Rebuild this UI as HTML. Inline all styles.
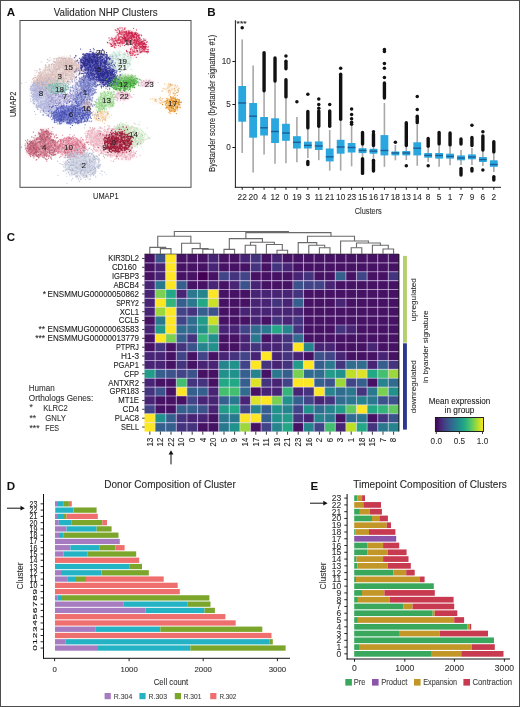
<!DOCTYPE html>
<html><head><meta charset="utf-8"><style>
html,body{margin:0;padding:0;background:#fff;width:520px;height:707px;overflow:hidden}
svg{display:block;will-change:transform}
text{font-family:"Liberation Sans", sans-serif}
</style></head><body>
<svg width="520" height="707" viewBox="0 0 520 707">
<rect x="0" y="0" width="520" height="707" fill="#fff"/>
<text x="6.80" y="16.40" font-size="11.6" text-anchor="start" fill="#111" font-weight="bold">A</text>
<text x="105.70" y="16.20" font-size="10.6" text-anchor="middle" fill="#2a2a2a" stroke="#2a2a2a" stroke-width="0.1" textLength="104" lengthAdjust="spacingAndGlyphs">Validation NHP Clusters</text>
<defs><filter id="bl" x="-30%" y="-30%" width="160%" height="160%"><feGaussianBlur stdDeviation="2"/></filter><clipPath id="fa"><rect x="20.5" y="21" width="170" height="166"/></clipPath></defs>
<g clip-path="url(#fa)">
<ellipse cx="112" cy="142" rx="18.0" ry="11.700000000000001" fill="#eeb0c0" opacity="0.35" filter="url(#bl)" transform="rotate(0 112 142)"/>
<ellipse cx="95" cy="137" rx="8.1" ry="7.2" fill="#eeb0c0" opacity="0.35" filter="url(#bl)" transform="rotate(0 95 137)"/>
<ellipse cx="124" cy="154" rx="9.9" ry="4.5" fill="#eeb0c0" opacity="0.35" filter="url(#bl)" transform="rotate(0 124 154)"/>
<ellipse cx="58" cy="74" rx="18.0" ry="10.8" fill="#dcc0bc" opacity="0.5" filter="url(#bl)" transform="rotate(-15 58 74)"/>
<ellipse cx="46" cy="84" rx="9.9" ry="6.3" fill="#dcc0bc" opacity="0.5" filter="url(#bl)" transform="rotate(0 46 84)"/>
<ellipse cx="72" cy="66" rx="8.1" ry="5.4" fill="#dcc0bc" opacity="0.5" filter="url(#bl)" transform="rotate(0 72 66)"/>
<ellipse cx="40" cy="81" rx="5.4" ry="4.5" fill="#dcc0bc" opacity="0.5" filter="url(#bl)" transform="rotate(0 40 81)"/>
<ellipse cx="64" cy="61" rx="7.2" ry="3.6" fill="#dcc0bc" opacity="0.5" filter="url(#bl)" transform="rotate(0 64 61)"/>
<ellipse cx="43" cy="96" rx="9.0" ry="12.6" fill="#b0b4dc" opacity="0.5" filter="url(#bl)" transform="rotate(0 43 96)"/>
<ellipse cx="49" cy="108" rx="6.3" ry="5.4" fill="#b0b4dc" opacity="0.5" filter="url(#bl)" transform="rotate(0 49 108)"/>
<ellipse cx="36" cy="90" rx="4.5" ry="6.3" fill="#b0b4dc" opacity="0.5" filter="url(#bl)" transform="rotate(0 36 90)"/>
<ellipse cx="81" cy="95" rx="9.9" ry="14.4" fill="#8a90d2" opacity="0.3" filter="url(#bl)" transform="rotate(0 81 95)"/>
<ellipse cx="88" cy="84" rx="6.3" ry="8.1" fill="#8a90d2" opacity="0.3" filter="url(#bl)" transform="rotate(0 88 84)"/>
<ellipse cx="60" cy="99" rx="9.0" ry="6.3" fill="#a8a0d8" opacity="0.45" filter="url(#bl)" transform="rotate(0 60 99)"/>
<ellipse cx="58" cy="88" rx="9.0" ry="4.5" fill="#86c6bc" opacity="0.5" filter="url(#bl)" transform="rotate(0 58 88)"/>
<ellipse cx="98" cy="67" rx="14.4" ry="11.700000000000001" fill="#2b2b9b" opacity="0.6" filter="url(#bl)" transform="rotate(15 98 67)"/>
<ellipse cx="107" cy="78" rx="8.1" ry="6.3" fill="#2b2b9b" opacity="0.6" filter="url(#bl)" transform="rotate(0 107 78)"/>
<ellipse cx="90" cy="61" rx="7.2" ry="6.3" fill="#2b2b9b" opacity="0.6" filter="url(#bl)" transform="rotate(0 90 61)"/>
<ellipse cx="113" cy="82" rx="4.5" ry="3.6" fill="#2b2b9b" opacity="0.6" filter="url(#bl)" transform="rotate(0 113 82)"/>
<ellipse cx="88" cy="86" rx="7.2" ry="9.0" fill="#6870c8" opacity="0.2" filter="url(#bl)" transform="rotate(0 88 86)"/>
<ellipse cx="80" cy="98" rx="5.4" ry="5.4" fill="#6870c8" opacity="0.2" filter="url(#bl)" transform="rotate(0 80 98)"/>
<ellipse cx="72" cy="114" rx="16.2" ry="7.65" fill="#4650bc" opacity="0.55" filter="url(#bl)" transform="rotate(0 72 114)"/>
<ellipse cx="60" cy="117" rx="5.4" ry="4.5" fill="#4650bc" opacity="0.55" filter="url(#bl)" transform="rotate(0 60 117)"/>
<ellipse cx="87" cy="106" rx="3.6" ry="4.5" fill="#c4a8b8" opacity="0.4" filter="url(#bl)" transform="rotate(0 87 106)"/>
<ellipse cx="101" cy="116" rx="6.3" ry="4.5" fill="#f5c890" opacity="0.35" filter="url(#bl)" transform="rotate(0 101 116)"/>
<ellipse cx="128" cy="38" rx="9.9" ry="6.3" fill="#d6264e" opacity="0.2" filter="url(#bl)" transform="rotate(0 128 38)"/>
<ellipse cx="141" cy="47" rx="7.2" ry="4.5" fill="#d6264e" opacity="0.2" filter="url(#bl)" transform="rotate(20 141 47)"/>
<ellipse cx="116" cy="42" rx="6.3" ry="4.5" fill="#d6264e" opacity="0.2" filter="url(#bl)" transform="rotate(0 116 42)"/>
<ellipse cx="133" cy="52" rx="5.4" ry="3.6" fill="#d6264e" opacity="0.2" filter="url(#bl)" transform="rotate(0 133 52)"/>
<ellipse cx="121" cy="31" rx="4.5" ry="2.7" fill="#d6264e" opacity="0.2" filter="url(#bl)" transform="rotate(0 121 31)"/>
<ellipse cx="131" cy="37" rx="7.2" ry="4.5" fill="#d01c48" opacity="0.3" filter="url(#bl)" transform="rotate(0 131 37)"/>
<ellipse cx="141" cy="44" rx="5.4" ry="3.6" fill="#d01c48" opacity="0.3" filter="url(#bl)" transform="rotate(0 141 44)"/>
<ellipse cx="120" cy="61" rx="9.9" ry="8.1" fill="#d0ece0" opacity="0.45" filter="url(#bl)" transform="rotate(0 120 61)"/>
<ellipse cx="122" cy="84" rx="10.8" ry="5.4" fill="#45b43a" opacity="0.55" filter="url(#bl)" transform="rotate(0 122 84)"/>
<ellipse cx="131" cy="81" rx="6.3" ry="3.6" fill="#45b43a" opacity="0.55" filter="url(#bl)" transform="rotate(0 131 81)"/>
<ellipse cx="127" cy="77" rx="8.1" ry="2.25" fill="#8fd080" opacity="0.4" filter="url(#bl)" transform="rotate(0 127 77)"/>
<ellipse cx="106" cy="100" rx="7.2" ry="7.2" fill="#98d888" opacity="0.45" filter="url(#bl)" transform="rotate(0 106 100)"/>
<ellipse cx="100" cy="106" rx="4.5" ry="3.6" fill="#98d888" opacity="0.45" filter="url(#bl)" transform="rotate(0 100 106)"/>
<ellipse cx="123" cy="96" rx="6.3" ry="3.6" fill="#eeb4ca" opacity="0.55" filter="url(#bl)" transform="rotate(0 123 96)"/>
<ellipse cx="147" cy="83" rx="6.3" ry="2.52" fill="#e8b4cc" opacity="0.4" filter="url(#bl)" transform="rotate(-12 147 83)"/>
<ellipse cx="171" cy="89" rx="7.2" ry="4.5" fill="#f5c080" opacity="0.2" filter="url(#bl)" transform="rotate(0 171 89)"/>
<ellipse cx="158" cy="101" rx="5.4" ry="2.7" fill="#f5c080" opacity="0.2" filter="url(#bl)" transform="rotate(0 158 101)"/>
<ellipse cx="173" cy="104" rx="6.3" ry="6.3" fill="#f0961e" opacity="0.45" filter="url(#bl)" transform="rotate(0 173 104)"/>
<ellipse cx="43" cy="147" rx="12.6" ry="8.1" fill="#c65c74" opacity="0.55" filter="url(#bl)" transform="rotate(0 43 147)"/>
<ellipse cx="45" cy="135" rx="6.3" ry="4.5" fill="#c65c74" opacity="0.55" filter="url(#bl)" transform="rotate(0 45 135)"/>
<ellipse cx="32" cy="149" rx="4.5" ry="5.4" fill="#c65c74" opacity="0.55" filter="url(#bl)" transform="rotate(0 32 149)"/>
<ellipse cx="70" cy="147" rx="13.5" ry="8.1" fill="#e37890" opacity="0.5" filter="url(#bl)" transform="rotate(0 70 147)"/>
<ellipse cx="82" cy="164.5" rx="14.4" ry="10.8" fill="#c0c6dc" opacity="0.55" filter="url(#bl)" transform="rotate(0 82 164.5)"/>
<ellipse cx="134" cy="137" rx="9.9" ry="8.1" fill="#c8e6c0" opacity="0.5" filter="url(#bl)" transform="rotate(0 134 137)"/>
<ellipse cx="123" cy="129" rx="7.2" ry="4.5" fill="#c8e6c0" opacity="0.5" filter="url(#bl)" transform="rotate(0 123 129)"/>
<ellipse cx="118" cy="142" rx="11.700000000000001" ry="8.1" fill="#9c0f2e" opacity="0.65" filter="url(#bl)" transform="rotate(0 118 142)"/>
<path d="M103.6 156.2h0M107.0 152.1h0M120.1 143.3h0M105.3 152.3h0M107.1 131.8h0M97.8 150.1h0M122.6 147.2h0M119.7 128.3h0M114.8 148.1h0M100.7 131.5h0M120.1 152.9h0M135.5 142.4h0M117.0 143.6h0M107.9 129.7h0M131.8 136.7h0M114.8 142.2h0M101.5 152.3h0M112.1 131.3h0M130.0 145.3h0M117.4 132.2h0M130.8 151.5h0M119.1 127.0h0M126.7 146.2h0M100.5 128.0h0M93.2 145.2h0M126.8 133.7h0M112.1 130.1h0M120.5 146.1h0M122.4 136.0h0M91.2 137.7h0M104.5 157.8h0M120.4 137.3h0M130.4 144.5h0M99.1 130.8h0M121.7 140.4h0M116.6 150.8h0M116.2 136.4h0M110.4 155.9h0M118.4 129.8h0M117.8 153.0h0M86.5 142.2h0M104.5 137.4h0M110.8 154.9h0M107.8 147.2h0M120.4 151.0h0M104.3 140.3h0M117.7 136.7h0M94.3 139.8h0M140.1 141.2h0M120.3 152.9h0M120.3 145.7h0M124.3 145.1h0M102.3 141.7h0M101.7 153.3h0M110.2 154.4h0M121.9 137.8h0M93.6 144.3h0M110.8 139.9h0M124.5 130.5h0M108.8 148.2h0M92.4 142.0h0M105.2 145.0h0M114.9 129.6h0M113.3 137.8h0M101.8 143.9h0M119.6 153.1h0M114.0 149.9h0M114.9 137.1h0M135.7 137.2h0M112.7 146.2h0M90.2 136.1h0M99.6 135.4h0M99.2 140.7h0M98.8 139.0h0M104.1 136.2h0M102.2 143.7h0M113.4 161.2h0M99.7 130.9h0M106.4 146.2h0M126.3 134.9h0M121.5 131.3h0M121.3 133.8h0M128.2 148.5h0M92.5 128.0h0M129.7 138.0h0M123.1 137.1h0M116.7 128.9h0M124.3 152.3h0M97.6 135.9h0M119.3 143.8h0M125.3 145.1h0M123.6 133.9h0M95.0 136.6h0M126.3 138.4h0M114.9 141.6h0M105.1 154.4h0M122.6 132.6h0M93.5 148.8h0M125.7 128.7h0M99.7 135.1h0M140.4 143.4h0M118.9 146.9h0M103.3 147.0h0M103.4 139.4h0M115.5 143.9h0M130.2 149.1h0M106.7 133.0h0M128.0 145.7h0M123.3 149.6h0M104.8 126.8h0M120.0 151.4h0M110.7 140.9h0M122.3 153.9h0M119.2 152.8h0M103.0 148.3h0M108.9 139.9h0M122.4 145.7h0M108.1 154.0h0M99.4 145.3h0M128.4 146.2h0M127.1 147.8h0M107.6 129.2h0M135.7 153.5h0M103.3 139.6h0M125.7 134.5h0M106.5 134.3h0M137.4 136.4h0M128.3 136.6h0M124.2 152.3h0M98.0 131.9h0M110.1 145.3h0M98.0 144.7h0M90.9 144.0h0M88.2 131.7h0M96.8 139.0h0M93.1 130.1h0M97.5 135.8h0M95.9 144.9h0M97.5 140.0h0M98.5 134.2h0M87.5 134.9h0M88.6 131.0h0M89.8 137.8h0M89.5 131.0h0M88.8 142.1h0M91.9 133.3h0M98.1 131.6h0M90.1 127.6h0M96.4 135.6h0M92.9 129.8h0M87.4 137.1h0M98.4 139.1h0M96.0 143.6h0M88.4 131.6h0M86.4 137.1h0M97.7 144.2h0M94.7 128.2h0M98.4 131.2h0M104.8 135.2h0M92.2 131.1h0M91.7 132.8h0M83.5 140.0h0M99.9 133.5h0M93.8 129.2h0M119.1 151.0h0M122.1 150.6h0M126.2 152.1h0M129.8 149.7h0M117.3 150.6h0M130.4 158.1h0M131.1 151.6h0M130.8 157.3h0M116.3 158.3h0M132.9 155.0h0M126.0 159.5h0M125.4 157.1h0M129.9 153.9h0M126.7 157.6h0M121.9 148.5h0M131.3 150.2h0M127.1 156.3h0M121.8 154.7h0M125.3 151.5h0M130.3 154.1h0M130.9 148.3h0M124.7 154.3h0M118.4 158.7h0M116.7 155.2h0M119.9 152.9h0M121.0 155.6h0M107.6 155.9h0M125.4 157.7h0" stroke="#ca95a3" stroke-width="1.3" stroke-linecap="round" fill="none" opacity="0.85"/>
<path d="M119.7 144.4h0M117.0 142.8h0M123.8 127.4h0M96.0 136.5h0M110.8 145.1h0M100.4 149.8h0M101.9 128.0h0M121.1 147.4h0M91.1 145.3h0M132.3 156.0h0M94.1 145.9h0M108.4 155.1h0M124.5 153.4h0M103.2 138.4h0M91.3 149.5h0M90.6 140.6h0M124.4 155.1h0M133.7 142.0h0M126.7 132.4h0M105.1 147.2h0M90.8 143.4h0M100.4 153.4h0M119.7 140.4h0M100.4 150.4h0M104.2 151.3h0M105.7 147.3h0M133.3 138.0h0M95.7 150.1h0M124.2 150.1h0M120.7 148.1h0M127.9 137.4h0M111.8 154.2h0M98.1 147.0h0M91.8 139.3h0M97.7 138.6h0M125.1 148.7h0M100.3 141.6h0M96.5 133.4h0M94.6 139.6h0M129.7 137.6h0M126.2 152.8h0M119.9 132.9h0M117.0 151.2h0M109.2 142.7h0M110.0 155.0h0M121.1 138.7h0M109.7 138.4h0M123.3 138.4h0M130.8 152.1h0M118.2 154.9h0M93.8 142.0h0M120.5 139.6h0M119.2 134.1h0M102.3 151.0h0M111.0 160.8h0M109.1 148.9h0M107.9 148.8h0M87.0 141.7h0M113.2 142.5h0M136.4 144.3h0M118.7 131.4h0M104.7 129.3h0M104.7 131.8h0M111.3 138.3h0M96.3 151.3h0M100.1 132.3h0M108.2 148.9h0M100.7 143.7h0M129.1 133.2h0M132.1 144.1h0M120.9 149.1h0M135.2 131.3h0M99.8 137.0h0M110.0 155.0h0M109.3 126.3h0M108.5 148.9h0M122.7 141.8h0M107.1 146.8h0M102.1 148.3h0M130.5 128.0h0M127.0 142.0h0M132.2 139.7h0M123.4 152.8h0M115.0 132.5h0M123.7 149.9h0M127.4 146.7h0M101.6 137.0h0M110.6 140.2h0M114.7 154.0h0M126.4 140.2h0M112.7 135.6h0M114.4 151.3h0M96.4 150.0h0M119.1 143.8h0M111.8 135.6h0M105.6 149.4h0M132.2 138.2h0M125.4 143.7h0M129.2 144.5h0M121.1 137.6h0M114.0 154.6h0M111.9 155.4h0M103.0 153.0h0M107.2 140.9h0M110.0 156.0h0M110.8 131.7h0M119.6 137.6h0M97.6 141.6h0M126.9 149.2h0M132.2 145.4h0M106.8 138.8h0M111.8 147.0h0M115.2 134.8h0M140.1 155.5h0M122.7 139.9h0M114.8 148.1h0M107.5 145.1h0M122.2 138.6h0M118.7 154.6h0M121.4 129.9h0M102.2 141.3h0M128.1 134.1h0M121.2 132.3h0M106.4 151.9h0M98.5 145.1h0M90.3 128.9h0M93.1 145.3h0M106.0 143.8h0M102.6 134.9h0M129.9 146.1h0M130.5 140.6h0M107.4 148.5h0M130.5 141.3h0M129.1 142.1h0M122.4 142.9h0M113.1 146.4h0M102.2 143.0h0M110.3 154.1h0M102.4 133.9h0M126.6 135.4h0M109.3 147.4h0M97.5 144.9h0M110.0 155.2h0M122.5 142.7h0M111.5 129.2h0M108.9 129.3h0M115.0 141.1h0M97.4 135.9h0M117.4 154.3h0M107.4 154.6h0M103.5 153.9h0M111.0 157.6h0M124.4 140.1h0M98.5 147.3h0M99.3 140.0h0M115.2 145.9h0M132.0 142.4h0M93.7 142.4h0M109.5 149.4h0M102.6 134.9h0M99.0 133.3h0M129.3 134.0h0M93.1 145.1h0M101.0 152.1h0M111.0 128.9h0M125.4 150.8h0M112.1 147.2h0M117.9 144.8h0M93.8 147.1h0M106.9 144.8h0M111.9 132.7h0M94.7 145.4h0M125.2 140.6h0M120.3 139.9h0M90.1 134.8h0M119.5 133.0h0M103.9 130.0h0M107.1 146.1h0M101.0 146.0h0M116.8 132.8h0M127.1 139.7h0M92.1 144.6h0M100.6 145.7h0M112.7 155.6h0M104.3 134.2h0M106.4 137.9h0M114.3 136.4h0M105.4 130.5h0M97.9 138.7h0M119.5 143.9h0M124.6 139.9h0M98.8 141.4h0M109.1 140.1h0M92.7 141.7h0M117.7 128.4h0M116.7 142.1h0M106.3 131.5h0M115.1 133.4h0M107.1 148.9h0M94.2 136.8h0M120.0 129.0h0M101.8 147.7h0M93.9 149.2h0M121.4 142.6h0M110.4 138.0h0M109.6 134.7h0M107.4 140.5h0M111.2 142.3h0M129.3 148.7h0M121.1 139.3h0M116.7 153.0h0M117.6 151.1h0M95.8 137.5h0M119.8 141.9h0M95.9 140.7h0M80.1 143.8h0M131.8 145.1h0M132.3 147.6h0M111.6 147.1h0M95.1 150.7h0M116.0 156.4h0M127.7 152.1h0M107.6 136.2h0M120.0 139.5h0M125.5 152.6h0M118.3 133.8h0M111.1 147.6h0M106.1 148.6h0M118.5 159.1h0M108.2 125.6h0M110.5 143.6h0M121.3 156.1h0M118.6 147.0h0M127.3 147.4h0M116.0 151.2h0M117.8 154.2h0M91.3 142.6h0M110.4 152.1h0M103.4 147.8h0M85.8 139.9h0M112.1 130.4h0M91.1 140.9h0M112.5 144.1h0M131.7 144.4h0M104.8 138.6h0M134.2 156.1h0M103.1 145.9h0M96.1 150.7h0M124.3 130.6h0M112.1 156.5h0M123.8 145.6h0M102.0 128.6h0M111.9 155.7h0M101.2 140.5h0M92.5 150.4h0M115.4 138.5h0M107.9 131.5h0M105.8 152.1h0M99.0 137.0h0M94.0 137.6h0M114.9 128.6h0M128.3 130.9h0M109.7 125.9h0M124.3 153.7h0M113.2 129.6h0M114.4 126.4h0M96.3 145.2h0M101.2 139.5h0M92.0 142.0h0M102.0 138.7h0M120.1 138.7h0M91.3 136.2h0M131.0 141.9h0M101.0 150.9h0M90.8 139.8h0M119.8 151.3h0M127.9 133.3h0M100.4 141.8h0M113.0 139.2h0M112.7 141.3h0M103.0 140.0h0M97.0 137.1h0M132.1 152.3h0M120.6 152.1h0M96.6 156.0h0M117.1 134.4h0M132.0 137.7h0M120.5 152.6h0M92.9 137.0h0M124.1 145.4h0M116.4 149.4h0M109.8 144.2h0M115.2 138.5h0M123.1 153.2h0M98.1 151.9h0M119.5 146.7h0M122.1 145.9h0M121.7 147.1h0M125.5 145.9h0M110.4 147.0h0M124.8 132.1h0M110.0 139.9h0M128.5 144.7h0M123.3 143.8h0M103.5 149.7h0M108.2 154.4h0M101.0 133.6h0M107.6 143.8h0M108.1 137.3h0M126.1 138.1h0M94.3 137.2h0M119.4 133.4h0M123.5 145.0h0M125.6 149.6h0M123.1 145.5h0M105.5 143.8h0M112.4 152.9h0M105.8 155.5h0M90.3 142.5h0M124.9 147.3h0M106.5 154.1h0M122.5 146.0h0M123.3 139.8h0M120.6 137.1h0M96.1 140.0h0M117.3 139.1h0M132.3 126.5h0M87.6 143.1h0M96.7 141.2h0M94.5 149.4h0M113.5 153.5h0M94.9 134.5h0M123.7 133.9h0M90.5 131.3h0M116.9 136.8h0M119.2 127.9h0M103.3 147.3h0M100.8 153.1h0M132.4 145.0h0M94.7 143.7h0M101.1 136.1h0M103.1 138.4h0M100.6 138.1h0M111.2 142.9h0M111.1 149.3h0M134.0 145.1h0M111.2 134.0h0M101.4 146.6h0M99.0 143.0h0M118.7 147.0h0M99.0 138.1h0M129.9 135.7h0M135.4 140.8h0M125.5 146.0h0M122.8 143.0h0M88.7 141.1h0M91.7 141.8h0M93.9 138.6h0M99.8 127.0h0M90.9 131.4h0M100.5 136.3h0M100.0 141.9h0M102.8 138.2h0M97.4 130.6h0M94.1 129.3h0M101.0 139.1h0M88.1 130.7h0M95.6 141.3h0M102.5 136.8h0M97.7 134.4h0M90.8 143.6h0M91.7 135.0h0M101.5 131.8h0M96.4 136.8h0M98.2 139.0h0M95.2 138.7h0M86.4 137.6h0M98.6 138.5h0M91.0 141.2h0M87.5 141.9h0M87.9 142.5h0M95.4 143.6h0M104.7 131.4h0M89.6 135.5h0M95.2 136.8h0M87.1 135.8h0M89.6 135.7h0M97.7 131.2h0M95.0 139.9h0M86.7 139.3h0M85.6 139.8h0M91.6 130.5h0M92.5 140.5h0M98.9 148.0h0M93.3 146.5h0M90.2 133.1h0M83.0 141.0h0M100.4 134.5h0M90.9 130.9h0M86.0 135.7h0M88.4 133.2h0M92.6 132.4h0M96.5 144.0h0M95.1 134.4h0M93.0 138.0h0M100.6 143.5h0M94.9 137.7h0M90.2 135.4h0M99.5 138.3h0M89.3 134.1h0M90.7 135.6h0M88.6 134.5h0M86.3 131.7h0M97.7 133.2h0M93.8 134.0h0M90.6 134.8h0M87.8 142.2h0M87.9 135.1h0M91.5 130.4h0M95.0 132.5h0M96.9 135.0h0M99.8 137.9h0M91.7 132.5h0M94.7 131.4h0M90.4 135.4h0M86.6 138.9h0M97.1 139.0h0M98.1 141.6h0M99.1 133.3h0M97.3 138.9h0M96.7 139.5h0M90.4 139.8h0M108.6 132.5h0M91.4 139.6h0M87.4 133.4h0M103.2 140.0h0M85.3 142.7h0M99.9 143.1h0M93.4 130.0h0M94.7 128.3h0M97.7 144.2h0M97.1 130.3h0M95.4 136.0h0M96.4 142.5h0M101.3 140.5h0M97.3 131.5h0M95.8 138.7h0M99.3 133.8h0M100.8 135.5h0M97.3 140.3h0M84.5 127.8h0M91.0 133.1h0M86.6 137.1h0M94.0 135.0h0M132.8 155.2h0M124.7 149.8h0M127.2 152.6h0M128.5 154.7h0M128.8 159.2h0M119.3 154.9h0M131.1 153.2h0M124.3 151.1h0M122.4 158.5h0M118.3 151.2h0M121.7 153.5h0M129.3 155.1h0M127.4 149.9h0M123.6 150.4h0M131.1 151.7h0M116.1 152.2h0M132.2 155.7h0M125.0 156.7h0M130.7 149.1h0M122.1 159.5h0M113.0 152.8h0M122.2 154.4h0M115.8 156.7h0M130.5 155.4h0M121.9 150.4h0M123.0 156.3h0M126.8 156.5h0M132.4 156.9h0M129.9 156.8h0M123.9 157.7h0M134.5 153.4h0M128.2 151.1h0M126.6 159.1h0M124.3 153.5h0M136.7 156.8h0M116.9 150.1h0M132.8 157.1h0M128.2 159.9h0M115.0 155.6h0M121.9 151.5h0M134.6 156.0h0M124.2 152.0h0M127.3 149.9h0M129.9 148.5h0M132.4 156.0h0M125.1 155.8h0M114.9 159.5h0M133.2 157.1h0M116.9 156.1h0M133.9 152.3h0M120.6 156.1h0M118.9 155.4h0M112.6 152.9h0M119.5 156.3h0M121.2 152.2h0M133.7 151.1h0M128.8 158.3h0M124.2 149.4h0M124.5 154.9h0M118.7 150.4h0M129.6 155.1h0M126.8 156.6h0M136.4 151.4h0M133.4 154.3h0M128.2 153.8h0M131.9 155.5h0M117.2 157.4h0M121.6 158.9h0M125.0 156.4h0M130.4 150.9h0M134.2 154.9h0M130.3 159.6h0M121.5 155.3h0M131.4 149.8h0" stroke="#eeb0c0" stroke-width="1.3" stroke-linecap="round" fill="none" opacity="0.85"/>
<path d="M101.4 140.9h0M120.7 133.1h0M113.0 138.6h0M97.4 140.3h0M104.6 129.3h0M98.9 128.5h0M120.5 131.4h0M101.0 137.9h0M116.1 155.7h0M127.6 146.3h0M102.6 145.2h0M118.0 143.7h0M125.2 128.8h0M125.5 139.9h0M102.9 153.5h0M115.5 150.8h0M96.6 140.5h0M128.0 145.3h0M114.2 147.3h0M108.4 155.4h0M102.0 144.3h0M102.5 134.0h0M132.9 141.8h0M108.7 144.2h0M112.4 135.2h0M126.7 151.1h0M89.5 133.6h0M120.4 135.8h0M99.8 147.3h0M132.0 146.5h0M124.4 131.9h0M116.7 129.6h0M126.1 156.2h0M93.6 141.8h0M108.1 136.6h0M94.3 135.7h0M97.9 131.1h0M95.3 141.1h0M89.1 137.1h0M131.6 142.5h0M120.9 145.1h0M130.8 147.4h0M124.2 146.8h0M115.1 147.1h0M107.1 146.1h0M120.8 131.3h0M103.5 132.1h0M97.4 139.6h0M107.6 125.6h0M116.2 131.2h0M115.2 128.7h0M118.8 144.7h0M110.9 138.8h0M123.9 155.3h0M115.1 133.3h0M126.6 145.8h0M97.0 134.3h0M97.4 146.6h0M120.4 137.9h0M106.5 140.7h0M133.8 135.2h0M121.7 147.5h0M105.1 147.1h0M107.2 154.3h0M115.1 137.4h0M102.5 144.6h0M125.3 134.3h0M92.4 133.4h0M125.3 150.9h0M99.7 138.0h0M101.5 135.2h0M127.0 150.1h0M101.5 151.0h0M107.4 140.3h0M127.7 144.9h0M105.6 152.6h0M115.7 150.8h0M112.2 153.7h0M124.2 149.0h0M129.7 145.2h0M108.4 130.8h0M121.7 142.1h0M126.9 131.1h0M117.8 132.2h0M120.3 136.5h0M97.6 131.2h0M91.7 136.3h0M99.9 137.4h0M89.7 142.5h0M100.2 147.1h0M94.7 133.8h0M95.1 138.5h0M100.6 131.2h0M104.0 138.0h0M91.8 137.1h0M88.0 132.0h0M99.0 141.4h0M89.5 131.4h0M86.4 138.3h0M88.5 139.1h0M106.9 140.4h0M94.7 142.7h0M93.2 140.2h0M98.6 136.9h0M94.6 139.4h0M85.7 136.9h0M89.3 138.2h0M93.0 140.2h0M89.5 136.0h0M91.3 129.8h0M89.9 135.4h0M135.3 152.4h0M128.1 158.3h0M121.0 154.0h0M122.1 151.3h0M134.4 153.7h0M131.9 156.4h0M124.1 155.0h0M117.4 150.4h0M127.1 152.8h0M116.3 151.2h0M127.4 148.9h0M120.1 150.1h0M113.1 155.9h0M130.1 149.4h0M121.1 150.6h0M119.8 154.1h0M124.3 155.0h0M127.9 157.3h0" stroke="#f3c7d2" stroke-width="1.3" stroke-linecap="round" fill="none" opacity="0.85"/>
<path d="M78.0 68.0h0M60.0 75.1h0M67.1 65.8h0M54.5 64.6h0M63.8 86.2h0M65.9 60.2h0M67.0 82.9h0M58.1 74.8h0M60.0 89.9h0M59.7 67.9h0M50.8 71.2h0M53.7 86.4h0M57.8 69.0h0M54.0 58.6h0M43.3 80.1h0M48.8 80.1h0M66.9 61.3h0M41.9 85.5h0M71.9 64.9h0M56.4 69.2h0M67.1 74.0h0M49.1 60.9h0M54.8 68.9h0M51.3 85.6h0M65.3 74.2h0M68.8 58.8h0M66.4 78.6h0M56.7 71.3h0M41.1 76.5h0M39.6 84.0h0M76.5 69.4h0M59.2 66.6h0M52.3 87.9h0M73.7 64.7h0M51.5 77.4h0M52.8 74.5h0M60.7 83.7h0M49.4 77.2h0M59.3 69.5h0M56.9 87.0h0M63.3 64.9h0M45.6 65.0h0M59.3 75.0h0M52.5 80.5h0M39.7 69.0h0M48.7 90.3h0M47.7 59.5h0M38.9 72.7h0M69.9 75.3h0M67.1 64.3h0M44.9 86.7h0M51.8 81.7h0M58.5 68.1h0M54.0 74.7h0M67.8 83.0h0M46.0 86.8h0M58.9 88.0h0M49.7 69.3h0M44.7 81.0h0M70.7 79.2h0M61.3 85.2h0M56.1 65.7h0M52.7 81.7h0M65.3 81.4h0M57.9 85.2h0M58.8 66.4h0M63.7 82.4h0M41.5 73.6h0M47.9 69.9h0M72.3 76.2h0M59.2 65.0h0M47.6 81.7h0M70.7 77.9h0M40.0 75.6h0M50.9 75.8h0M60.5 87.4h0M50.7 70.8h0M53.2 71.8h0M38.8 75.3h0M67.1 61.1h0M76.4 66.4h0M86.4 64.8h0M74.0 58.1h0M37.9 81.2h0M63.3 73.2h0M61.1 79.5h0M40.4 74.6h0M63.1 68.2h0M56.7 60.1h0M51.4 87.3h0M49.0 64.9h0M63.4 74.6h0M58.8 76.1h0M70.4 56.0h0M71.9 74.0h0M63.4 78.2h0M62.6 83.7h0M55.6 76.1h0M48.1 74.7h0M60.3 87.6h0M53.6 64.7h0M52.8 81.4h0M65.6 75.8h0M54.9 62.3h0M39.5 79.1h0M66.3 75.1h0M55.1 76.7h0M78.4 75.4h0M62.0 72.9h0M48.4 78.2h0M54.9 86.0h0M56.7 69.9h0M70.1 66.2h0M77.5 70.1h0M52.4 72.4h0M46.8 75.9h0M75.3 69.5h0M60.1 76.7h0M63.0 79.2h0M49.2 66.7h0M82.6 71.2h0M61.4 62.6h0M59.1 76.5h0M54.6 86.3h0M69.4 63.0h0M70.0 68.5h0M68.6 70.3h0M69.7 75.3h0M53.9 82.9h0M54.1 61.5h0M53.8 61.2h0M59.2 74.2h0M78.2 75.3h0M50.1 76.2h0M44.3 83.6h0M66.5 61.7h0M55.5 70.4h0M42.8 72.8h0M67.4 89.5h0M77.6 70.0h0M60.7 67.6h0M39.2 73.4h0M45.0 75.4h0M51.3 64.3h0M61.5 79.6h0M54.7 77.4h0M44.5 83.4h0M51.1 87.9h0M39.4 92.0h0M36.6 85.2h0M45.8 89.2h0M56.0 87.0h0M47.1 81.1h0M46.2 84.3h0M38.5 85.5h0M53.0 79.0h0M57.3 79.1h0M40.6 84.3h0M44.7 91.7h0M48.4 82.4h0M40.3 72.0h0M50.0 89.6h0M48.1 83.1h0M49.6 77.6h0M58.1 76.4h0M49.2 78.5h0M50.4 84.8h0M43.4 86.2h0M44.7 88.2h0M49.2 78.9h0M57.5 81.3h0M46.8 88.3h0M55.9 87.6h0M52.7 91.1h0M54.4 85.4h0M39.5 90.7h0M46.1 80.6h0M45.9 77.3h0M37.4 83.3h0M49.5 89.2h0M38.9 83.1h0M47.2 85.2h0M42.3 83.9h0M52.7 84.4h0M46.0 86.1h0M37.9 82.5h0M57.7 82.0h0M40.0 91.5h0M46.9 81.6h0M44.6 84.2h0M54.0 87.4h0M41.9 77.3h0M58.8 76.9h0M54.2 79.0h0M55.2 80.6h0M55.5 84.9h0M45.1 90.8h0M52.3 74.4h0M42.7 85.9h0M76.3 68.0h0M71.0 62.7h0M63.1 65.3h0M71.9 63.7h0M68.7 64.2h0M78.9 68.9h0M80.4 70.7h0M74.7 61.6h0M76.9 65.2h0M67.5 66.3h0M80.1 66.5h0M72.2 68.9h0M69.3 71.7h0M78.3 67.7h0M80.4 63.8h0M69.9 65.4h0M66.3 69.5h0M66.1 66.4h0M71.2 66.9h0M66.0 64.3h0M79.4 68.8h0M72.8 70.4h0M69.7 67.8h0M71.1 58.9h0M72.5 66.0h0M72.3 59.8h0M66.5 70.5h0M78.7 68.9h0M70.7 60.9h0M63.4 68.0h0M69.3 67.9h0M44.8 81.4h0M37.5 80.2h0M41.4 82.9h0M45.6 81.7h0M47.1 80.8h0M38.2 78.5h0M35.7 77.4h0M47.1 78.9h0M40.8 84.7h0M33.4 81.9h0M36.5 84.0h0M43.0 83.8h0M39.2 82.5h0M40.4 77.7h0M40.2 85.9h0M33.5 78.4h0M42.8 78.6h0M46.2 80.6h0M43.6 89.0h0M63.5 63.2h0M71.4 62.6h0M69.4 58.5h0M66.7 63.5h0M60.3 63.0h0M61.7 64.3h0M64.7 58.4h0M69.2 61.2h0M65.8 58.9h0M66.3 63.8h0M58.6 62.8h0M61.8 57.6h0M55.9 61.9h0M63.7 59.0h0M65.6 61.5h0M59.1 57.4h0M62.7 58.9h0M59.5 62.2h0M69.0 61.2h0M59.1 62.1h0M63.9 63.2h0M60.1 60.3h0M61.7 57.9h0M71.2 64.8h0M65.3 62.5h0" stroke="#bba39f" stroke-width="1.3" stroke-linecap="round" fill="none" opacity="0.85"/>
<path d="M60.8 63.6h0M64.2 75.6h0M50.7 73.5h0M60.8 62.9h0M68.2 81.7h0M48.1 72.5h0M60.3 72.7h0M64.4 79.5h0M74.2 72.1h0M63.5 74.7h0M65.8 62.1h0M60.4 64.9h0M41.4 80.5h0M69.3 63.3h0M72.8 67.2h0M26.0 82.3h0M64.6 63.0h0M54.0 65.0h0M50.3 83.0h0M55.7 66.2h0M48.6 85.5h0M61.4 81.1h0M68.1 60.0h0M39.2 76.6h0M61.0 67.5h0M47.1 87.1h0M60.4 81.2h0M48.9 85.3h0M74.7 78.5h0M63.5 72.3h0M36.1 72.9h0M72.5 58.9h0M66.3 62.1h0M65.3 81.7h0M69.3 76.6h0M72.3 75.1h0M43.3 83.9h0M42.1 81.9h0M59.0 87.2h0M77.2 70.1h0M38.4 76.7h0M66.6 67.5h0M57.5 83.2h0M73.8 75.7h0M66.8 82.8h0M67.3 78.5h0M61.6 70.5h0M70.8 67.0h0M62.2 74.6h0M58.1 82.9h0M70.8 67.7h0M64.7 61.8h0M52.0 86.4h0M55.2 70.7h0M70.8 67.7h0M69.4 81.7h0M45.3 71.6h0M42.1 74.0h0M43.2 72.7h0M55.3 74.8h0M39.2 75.5h0M65.2 84.4h0M51.5 68.7h0M44.9 92.7h0M47.5 78.2h0M44.5 83.4h0M33.9 86.1h0M65.5 78.9h0M64.7 80.1h0M42.3 82.1h0M48.6 79.6h0M80.1 69.3h0M50.1 86.2h0M70.5 66.2h0M39.1 75.6h0M76.4 71.2h0M78.1 64.6h0M70.3 78.0h0M38.2 78.3h0M54.0 75.3h0M69.4 64.1h0M48.9 64.7h0M75.7 72.5h0M67.7 81.2h0M53.6 66.0h0M41.6 76.5h0M31.7 82.2h0M55.2 78.8h0M56.6 71.0h0M68.7 67.9h0M69.2 74.5h0M71.9 68.5h0M39.4 74.6h0M63.7 67.1h0M36.3 72.0h0M51.9 76.9h0M50.0 86.0h0M71.2 69.9h0M82.7 65.1h0M65.0 72.2h0M39.9 72.9h0M61.8 65.2h0M54.6 78.8h0M53.6 66.3h0M51.0 74.2h0M58.0 86.4h0M50.0 88.3h0M52.4 82.4h0M35.3 83.7h0M42.7 85.1h0M31.9 91.6h0M37.1 82.0h0M38.0 85.2h0M52.0 81.3h0M49.1 76.5h0M43.8 86.8h0M44.6 88.7h0M55.5 90.4h0M52.1 87.7h0M53.4 85.3h0M48.6 88.0h0M42.0 90.1h0M53.4 85.1h0M55.0 80.7h0M43.4 77.3h0M48.8 78.9h0M45.4 89.1h0M45.5 91.1h0M36.1 82.3h0M45.5 89.0h0M41.7 80.1h0M39.2 81.3h0M50.5 86.4h0M49.4 82.5h0M49.5 77.0h0M43.0 79.3h0M44.1 88.3h0M69.3 67.2h0M78.4 62.6h0M70.0 67.4h0M63.0 64.0h0M70.0 67.7h0M66.0 68.2h0M69.2 68.2h0M66.6 65.0h0M68.8 69.4h0M63.4 66.0h0M70.1 66.2h0M69.3 69.0h0M75.1 66.9h0M68.6 62.0h0M68.8 62.1h0M80.7 63.0h0M72.5 60.7h0M70.5 68.1h0M66.7 70.8h0M78.8 64.4h0M83.5 66.0h0M67.6 68.8h0M75.6 62.9h0M67.1 62.7h0M65.0 70.1h0M80.1 67.1h0M64.8 64.5h0M61.4 70.6h0M66.2 71.2h0M76.1 63.8h0M40.6 82.5h0M37.9 79.6h0M37.5 86.7h0M45.2 79.5h0M44.3 78.7h0M43.1 83.0h0M35.2 80.9h0M45.4 82.6h0M38.6 83.7h0M35.5 83.2h0M38.8 76.6h0M36.7 78.2h0M62.8 59.4h0M58.2 62.7h0M58.0 60.0h0M70.8 60.0h0M69.4 61.8h0M56.3 58.7h0M64.0 59.5h0M70.9 58.4h0M68.2 60.2h0M56.8 62.3h0M62.2 61.0h0M58.6 62.5h0M70.8 61.7h0" stroke="#e6d2d0" stroke-width="1.3" stroke-linecap="round" fill="none" opacity="0.85"/>
<path d="M62.7 71.0h0M56.5 77.7h0M69.6 70.1h0M55.8 74.5h0M62.7 84.2h0M71.7 63.4h0M74.1 75.1h0M37.4 85.2h0M73.8 65.4h0M58.7 75.4h0M76.2 69.1h0M43.2 85.0h0M37.2 83.7h0M63.7 86.6h0M75.2 64.9h0M79.9 69.7h0M40.8 85.2h0M38.8 78.2h0M64.0 69.1h0M62.1 83.6h0M75.9 69.9h0M67.2 69.9h0M72.2 78.3h0M65.8 76.8h0M63.1 71.3h0M68.3 81.2h0M45.7 65.4h0M73.4 70.8h0M68.2 71.5h0M54.6 81.9h0M67.4 74.7h0M55.7 71.9h0M59.7 67.2h0M51.6 74.0h0M46.2 70.0h0M53.7 66.5h0M53.4 87.9h0M62.6 74.5h0M63.2 68.8h0M50.7 75.3h0M71.9 76.5h0M49.2 68.5h0M57.5 64.7h0M40.1 69.5h0M51.8 72.4h0M74.9 79.9h0M76.9 84.9h0M57.5 68.9h0M64.7 71.4h0M71.8 63.4h0M64.6 71.0h0M59.5 81.1h0M55.6 79.5h0M56.9 64.9h0M52.2 81.9h0M62.4 61.9h0M68.6 77.6h0M53.2 74.4h0M68.8 62.1h0M54.8 80.4h0M46.2 73.7h0M39.4 80.2h0M49.4 84.2h0M70.7 65.2h0M46.3 81.0h0M48.3 86.5h0M69.0 67.4h0M64.6 79.5h0M71.4 64.3h0M73.5 64.2h0M75.2 64.0h0M44.0 82.8h0M47.1 76.3h0M64.3 78.4h0M75.2 65.1h0M41.3 61.9h0M51.3 78.8h0M65.6 74.6h0M44.3 78.8h0M43.3 79.7h0M47.4 80.6h0M64.6 66.2h0M45.4 83.9h0M59.3 65.5h0M45.1 74.9h0M59.2 69.1h0M45.7 69.4h0M58.9 65.5h0M67.8 67.1h0M61.8 60.9h0M74.4 63.4h0M57.1 70.0h0M61.1 74.9h0M68.3 79.8h0M67.5 81.1h0M44.8 71.9h0M74.5 62.6h0M53.6 70.1h0M52.9 64.4h0M39.6 69.8h0M65.7 64.2h0M71.7 63.9h0M58.2 62.0h0M74.5 76.3h0M57.8 80.3h0M40.2 84.9h0M67.6 62.7h0M55.8 65.9h0M39.5 81.7h0M72.7 65.5h0M67.6 81.9h0M72.2 63.4h0M49.5 74.4h0M50.4 76.2h0M43.1 72.5h0M71.1 69.5h0M37.8 75.6h0M48.0 67.6h0M80.4 68.9h0M81.9 64.5h0M59.4 72.9h0M75.9 63.6h0M71.7 68.4h0M63.5 72.1h0M63.4 76.4h0M50.0 73.7h0M72.2 73.5h0M63.3 62.6h0M41.8 81.7h0M73.0 74.2h0M52.9 77.3h0M71.5 80.7h0M41.0 84.2h0M66.3 73.7h0M55.5 70.3h0M46.8 67.8h0M57.2 74.7h0M48.2 91.2h0M52.9 69.6h0M21.5 83.4h0M61.6 62.9h0M72.1 79.5h0M51.3 65.2h0M69.1 61.1h0M40.6 74.1h0M49.7 82.7h0M48.5 76.4h0M41.6 76.3h0M39.7 77.6h0M56.6 83.5h0M52.8 63.4h0M58.3 84.7h0M51.2 85.7h0M48.0 85.1h0M70.6 69.3h0M63.5 66.5h0M51.4 77.6h0M51.5 79.8h0M67.2 81.9h0M48.2 73.7h0M37.2 70.7h0M68.4 87.9h0M40.6 72.4h0M46.0 85.7h0M38.8 75.5h0M57.1 70.1h0M60.4 77.2h0M85.3 76.9h0M51.5 66.9h0M49.5 76.5h0M53.0 80.4h0M50.7 75.0h0M59.2 65.7h0M71.3 72.0h0M40.5 78.9h0M53.6 69.9h0M62.8 77.1h0M43.7 78.8h0M46.1 75.0h0M44.3 71.1h0M77.5 70.8h0M80.2 79.8h0M66.6 70.0h0M62.6 80.9h0M61.4 59.1h0M45.2 70.3h0M70.8 67.9h0M76.2 82.2h0M64.8 79.4h0M45.5 80.8h0M59.3 75.4h0M62.3 74.3h0M35.3 81.1h0M51.5 86.7h0M66.0 84.0h0M48.4 82.3h0M76.0 65.0h0M62.9 64.7h0M60.7 82.4h0M68.5 57.8h0M54.5 67.5h0M75.4 70.9h0M51.0 59.8h0M56.1 76.1h0M70.1 77.3h0M40.8 83.7h0M62.3 66.1h0M68.4 72.9h0M57.3 68.3h0M73.5 71.9h0M53.3 68.0h0M55.5 70.5h0M65.4 72.5h0M60.8 76.6h0M60.8 85.2h0M73.2 76.3h0M57.7 84.5h0M45.5 73.0h0M60.6 63.7h0M61.7 76.6h0M54.5 69.2h0M41.4 88.5h0M45.2 68.1h0M66.1 60.6h0M53.7 86.1h0M45.5 66.1h0M52.3 83.8h0M65.5 63.1h0M50.4 80.4h0M64.2 66.5h0M88.7 60.5h0M56.8 72.4h0M67.5 70.2h0M66.3 62.1h0M47.5 82.4h0M44.8 70.0h0M58.3 62.6h0M73.4 77.1h0M65.2 67.8h0M63.8 72.9h0M48.2 77.0h0M68.3 75.2h0M48.6 82.9h0M54.8 77.3h0M59.1 69.5h0M72.4 61.9h0M56.9 66.3h0M40.1 81.9h0M76.7 70.0h0M38.2 78.0h0M74.5 79.6h0M60.5 64.2h0M47.4 75.0h0M53.9 87.8h0M62.6 62.1h0M69.4 62.0h0M49.4 65.0h0M55.5 67.7h0M49.1 70.7h0M38.9 83.3h0M67.1 75.5h0M66.0 71.5h0M46.0 86.3h0M45.3 67.1h0M76.7 66.1h0M55.4 63.0h0M55.3 68.6h0M50.5 79.2h0M46.8 86.9h0M60.4 83.1h0M43.4 74.2h0M71.7 81.3h0M58.6 61.9h0M61.8 65.1h0M66.7 89.0h0M54.8 73.1h0M61.4 62.7h0M71.9 76.1h0M56.4 63.3h0M77.9 67.6h0M59.5 76.2h0M53.5 65.4h0M51.7 75.3h0M68.2 69.3h0M53.0 79.7h0M48.7 78.7h0M52.8 84.2h0M47.2 62.5h0M73.9 68.6h0M61.5 74.8h0M57.5 69.6h0M69.0 69.0h0M53.9 58.9h0M83.4 62.6h0M48.6 66.4h0M39.7 75.6h0M54.4 71.4h0M70.3 66.3h0M52.6 70.8h0M72.2 70.4h0M53.6 75.3h0M57.4 75.7h0M58.0 64.0h0M77.0 67.2h0M56.1 64.3h0M42.1 83.9h0M47.7 83.0h0M50.2 82.8h0M56.1 92.7h0M60.0 70.5h0M40.8 80.8h0M67.8 61.6h0M38.3 82.7h0M50.0 57.6h0M52.7 77.5h0M62.9 83.4h0M60.8 66.3h0M69.5 68.5h0M54.4 74.1h0M40.6 77.6h0M65.8 78.0h0M67.5 82.8h0M56.8 66.7h0M67.9 66.4h0M64.6 67.9h0M64.0 81.2h0M56.8 81.4h0M62.3 76.5h0M42.1 83.5h0M45.3 67.9h0M57.3 85.0h0M39.8 70.1h0M60.5 82.7h0M69.7 82.0h0M62.5 73.1h0M71.5 78.2h0M55.7 79.5h0M50.0 81.5h0M70.9 75.2h0M56.7 61.3h0M59.9 83.1h0M46.3 75.4h0M70.0 62.3h0M47.3 85.5h0M62.4 61.6h0M67.7 64.7h0M56.7 65.5h0M59.9 66.5h0M46.2 82.5h0M84.7 56.5h0M68.8 79.5h0M40.8 80.1h0M61.7 65.8h0M71.0 77.6h0M47.8 79.1h0M41.0 82.8h0M55.7 77.5h0M78.0 65.1h0M61.1 73.9h0M42.3 71.8h0M41.1 80.6h0M54.5 73.2h0M63.2 60.6h0M68.9 70.4h0M46.2 89.9h0M68.3 69.7h0M64.6 72.2h0M66.7 69.6h0M69.1 71.8h0M48.2 73.4h0M70.7 65.7h0M39.8 76.2h0M68.8 82.8h0M56.6 73.8h0M63.1 75.0h0M52.9 87.2h0M57.2 69.4h0M43.8 83.0h0M74.2 69.3h0M55.7 68.2h0M75.7 64.3h0M73.4 74.3h0M55.3 73.1h0M50.9 83.0h0M69.1 71.2h0M77.7 71.6h0M58.4 62.7h0M71.8 79.4h0M53.9 85.4h0M52.3 83.2h0M74.1 78.2h0M32.4 79.2h0M69.4 70.4h0M70.9 74.6h0M61.1 67.6h0M58.6 83.6h0M68.7 81.1h0M53.0 74.5h0M58.1 73.6h0M60.9 73.3h0M58.9 79.4h0M54.0 82.6h0M75.9 69.4h0M80.7 79.5h0M43.5 70.2h0M57.3 62.3h0M59.6 66.1h0M49.4 70.9h0M40.5 76.3h0M52.5 73.4h0M35.0 70.4h0M47.6 75.6h0M65.8 85.2h0M46.7 66.9h0M71.8 71.7h0M47.3 77.6h0M44.5 77.6h0M55.5 67.0h0M58.6 74.7h0M46.1 80.5h0M63.6 63.0h0M79.7 64.2h0M68.5 70.4h0M69.7 63.7h0M43.4 79.2h0M35.6 84.8h0M44.1 76.7h0M36.3 79.8h0M49.0 86.2h0M43.1 84.6h0M38.8 85.3h0M50.9 83.7h0M56.2 86.0h0M36.7 83.4h0M49.7 84.8h0M54.2 78.1h0M56.3 83.8h0M48.7 91.9h0M55.8 84.4h0M49.9 81.2h0M37.2 79.5h0M36.4 83.3h0M53.0 87.6h0M54.3 82.8h0M39.7 88.4h0M51.0 90.9h0M54.3 84.7h0M40.1 83.2h0M38.7 91.7h0M45.8 86.3h0M46.7 78.5h0M41.5 75.0h0M47.9 83.2h0M47.3 81.9h0M57.3 84.3h0M54.4 78.8h0M48.9 86.5h0M56.2 77.0h0M43.8 79.2h0M36.8 84.3h0M44.4 90.2h0M33.8 80.5h0M38.3 82.3h0M51.0 78.6h0M37.1 87.5h0M54.3 86.5h0M45.5 89.5h0M40.9 87.9h0M38.1 89.8h0M47.8 82.6h0M37.7 86.7h0M40.6 90.6h0M54.7 86.8h0M53.0 83.2h0M45.8 82.1h0M52.3 85.6h0M43.8 85.7h0M37.8 86.1h0M39.8 84.5h0M38.0 86.3h0M46.2 80.2h0M57.1 80.5h0M36.7 85.7h0M54.1 87.1h0M43.5 81.4h0M48.3 87.2h0M37.2 86.2h0M38.7 78.5h0M38.5 88.9h0M44.0 81.0h0M37.3 86.3h0M36.5 80.8h0M40.8 82.8h0M52.2 75.3h0M49.7 83.1h0M39.0 82.5h0M35.7 81.2h0M34.1 82.9h0M50.8 85.6h0M42.5 78.4h0M41.4 77.5h0M37.0 79.8h0M35.2 86.0h0M52.7 79.6h0M52.8 77.4h0M54.7 82.1h0M43.1 79.3h0M34.6 82.0h0M55.5 88.0h0M40.6 89.7h0M51.2 80.4h0M44.5 80.6h0M53.5 82.8h0M56.2 86.8h0M56.6 85.8h0M50.0 82.3h0M45.5 75.3h0M45.4 85.8h0M46.9 78.2h0M54.4 89.3h0M45.0 75.1h0M42.5 88.7h0M47.0 78.3h0M44.3 77.9h0M36.3 84.9h0M45.8 86.0h0M50.1 82.0h0M36.7 81.9h0M37.2 83.3h0M41.2 81.0h0M41.6 78.8h0M35.9 83.6h0M47.0 83.9h0M47.4 82.2h0M57.5 84.2h0M36.4 83.0h0M42.1 77.7h0M41.9 84.4h0M55.7 78.8h0M45.1 80.6h0M45.7 85.9h0M56.5 87.0h0M49.4 85.4h0M38.3 77.2h0M49.0 83.4h0M47.1 90.2h0M46.3 78.2h0M54.2 84.2h0M36.4 83.7h0M53.8 88.7h0M52.6 81.9h0M42.0 85.5h0M48.0 88.1h0M41.6 80.0h0M34.7 81.7h0M51.0 88.1h0M40.8 82.9h0M47.3 80.8h0M48.9 76.6h0M70.5 71.3h0M70.8 60.9h0M71.3 64.7h0M72.9 60.8h0M66.1 72.7h0M76.2 63.5h0M72.2 60.3h0M74.8 70.6h0M71.7 71.6h0M65.1 61.4h0M80.4 59.8h0M72.8 68.8h0M81.0 64.2h0M72.1 66.0h0M68.9 65.7h0M65.3 67.9h0M66.2 62.5h0M71.7 63.4h0M75.0 65.3h0M77.7 61.1h0M76.8 70.3h0M75.3 70.7h0M76.4 68.9h0M69.7 59.7h0M75.3 61.8h0M77.9 64.9h0M64.5 64.4h0M74.3 65.8h0M67.3 63.5h0M78.7 66.3h0M73.6 72.6h0M78.3 64.1h0M68.8 65.7h0M77.3 61.0h0M75.3 59.9h0M79.0 65.4h0M68.4 64.4h0M60.7 66.7h0M74.6 61.0h0M71.7 59.6h0M69.3 66.6h0M75.4 63.7h0M63.7 67.7h0M72.1 65.4h0M70.6 72.0h0M77.0 61.9h0M81.4 66.7h0M76.6 66.1h0M67.2 61.3h0M64.4 70.2h0M69.1 63.2h0M66.0 68.5h0M78.8 65.4h0M75.3 61.7h0M74.0 65.4h0M63.3 68.1h0M80.4 66.9h0M66.1 61.1h0M78.1 70.9h0M79.6 68.3h0M77.7 65.2h0M63.1 68.3h0M77.9 61.0h0M62.3 64.7h0M74.2 61.8h0M71.4 61.4h0M67.0 70.5h0M73.6 65.5h0M67.5 65.7h0M68.9 67.9h0M68.5 61.2h0M78.9 65.9h0M79.5 62.2h0M66.4 70.4h0M75.2 63.0h0M66.6 61.5h0M63.1 66.0h0M71.5 65.8h0M71.7 62.5h0M67.0 62.8h0M76.7 61.4h0M71.8 67.2h0M79.2 67.4h0M70.4 64.1h0M65.5 68.7h0M64.6 63.1h0M75.5 62.2h0M67.2 70.7h0M73.1 63.2h0M72.8 62.6h0M70.1 63.4h0M41.2 84.2h0M38.5 77.7h0M39.5 85.7h0M39.7 79.8h0M40.3 79.5h0M41.8 75.5h0M34.3 79.9h0M42.5 76.5h0M45.1 82.5h0M44.9 81.7h0M35.4 81.9h0M42.9 81.9h0M43.4 80.4h0M44.3 78.1h0M43.8 76.6h0M39.8 85.9h0M39.1 83.0h0M44.2 83.7h0M46.1 80.1h0M46.3 77.1h0M42.4 77.5h0M44.6 79.2h0M42.4 81.9h0M44.2 79.6h0M34.9 75.6h0M39.9 75.9h0M34.7 77.5h0M39.3 80.1h0M41.7 82.7h0M45.7 79.0h0M36.5 78.0h0M41.4 79.0h0M43.7 82.1h0M43.3 81.9h0M37.8 85.1h0M43.6 83.7h0M38.0 76.5h0M36.6 85.0h0M39.0 81.2h0M41.3 75.5h0M42.1 84.2h0M37.6 76.6h0M40.5 80.4h0M42.1 78.4h0M35.5 83.5h0M37.4 82.0h0M46.5 81.4h0M35.6 83.6h0M36.6 80.9h0M45.2 82.6h0M37.2 80.1h0M44.7 78.4h0M41.1 80.1h0M62.1 58.6h0M59.4 58.2h0M57.2 62.3h0M57.6 63.3h0M56.2 58.8h0M66.0 61.8h0M68.3 59.5h0M60.0 63.6h0M70.9 62.6h0M60.4 58.9h0M58.2 60.0h0M72.5 61.0h0M69.3 59.4h0M58.2 58.3h0M66.2 57.9h0M61.3 62.7h0M68.3 62.6h0M62.2 61.2h0M71.0 60.7h0M64.6 62.3h0M66.9 58.0h0M57.9 60.3h0M57.2 58.5h0M70.0 58.4h0M56.1 58.5h0M69.3 59.5h0M60.6 61.1h0M65.1 63.2h0M63.4 63.1h0M63.9 60.3h0M63.4 65.4h0M59.5 66.1h0M70.4 63.6h0M61.9 63.9h0M61.6 57.5h0M69.6 62.2h0M63.9 57.1h0M69.2 63.0h0M62.5 60.2h0M57.9 59.1h0M60.7 58.1h0M60.7 58.1h0M67.6 59.8h0M67.0 64.9h0M63.6 59.4h0M63.7 63.8h0M63.2 61.4h0M67.3 63.0h0M71.0 58.9h0M65.0 63.6h0M65.6 63.7h0M60.4 62.9h0" stroke="#dcc0bc" stroke-width="1.3" stroke-linecap="round" fill="none" opacity="0.85"/>
<path d="M38.4 93.5h0M41.6 95.5h0M41.0 94.1h0M50.8 99.2h0M40.3 97.9h0M44.8 107.6h0M42.2 87.1h0M37.6 79.9h0M35.1 95.8h0M48.9 94.7h0M54.9 87.5h0M39.8 90.2h0M42.2 91.9h0M49.8 89.5h0M51.9 89.1h0M46.7 95.9h0M36.7 107.1h0M45.4 90.3h0M42.1 104.5h0M45.4 103.8h0M52.5 94.8h0M51.6 91.5h0M40.5 101.3h0M37.5 94.8h0M48.4 104.3h0M50.5 94.1h0M37.8 109.4h0M42.1 82.5h0M55.6 100.6h0M36.7 105.0h0M46.9 88.6h0M48.5 104.7h0M33.4 99.2h0M53.0 92.9h0M43.8 84.7h0M48.9 86.2h0M51.1 87.0h0M49.6 88.2h0M45.7 90.2h0M48.9 84.3h0M50.6 91.7h0M41.9 104.2h0M48.6 105.4h0M51.6 92.4h0M44.8 106.9h0M39.0 97.7h0M36.3 106.7h0M42.0 88.2h0M43.5 90.0h0M48.9 79.1h0M34.7 103.8h0M33.5 102.9h0M34.4 88.3h0M40.4 91.9h0M51.5 102.1h0M47.4 106.2h0M39.4 83.5h0M43.6 103.6h0M40.5 106.8h0M40.9 108.1h0M49.3 95.0h0M52.2 100.2h0M47.2 95.2h0M47.2 94.9h0M46.5 111.3h0M48.3 105.8h0M31.5 92.8h0M31.8 96.2h0M37.0 90.7h0M48.3 102.6h0M38.0 106.9h0M42.2 84.5h0M51.5 96.2h0M46.7 93.5h0M38.3 105.7h0M37.2 98.9h0M50.3 87.6h0M46.2 94.2h0M56.8 95.5h0M52.5 94.6h0M45.5 103.5h0M52.5 107.5h0M49.8 110.5h0M47.9 107.2h0M50.1 101.9h0M54.6 110.1h0M46.1 101.3h0M51.9 111.2h0M50.7 109.4h0M49.6 113.3h0M48.1 110.9h0M39.1 106.0h0M52.9 111.4h0M49.3 108.8h0M53.8 113.0h0M56.8 108.9h0M51.7 109.8h0M48.2 114.1h0M43.5 109.0h0M44.2 112.4h0M49.8 112.1h0M30.7 88.7h0M40.4 89.8h0M37.9 87.3h0M31.5 86.8h0M36.6 90.4h0M40.7 92.1h0M37.1 82.6h0M32.7 85.2h0M34.3 88.6h0M37.5 95.7h0M36.0 85.4h0M33.9 90.0h0M40.0 90.6h0M36.3 88.9h0M37.2 95.5h0M33.9 83.5h0M41.1 89.1h0M32.7 90.6h0M36.4 89.1h0M34.8 90.6h0M33.8 96.6h0M31.2 90.4h0M41.1 93.4h0M32.4 94.7h0M39.3 88.4h0M39.1 96.5h0M36.2 91.4h0" stroke="#9599bb" stroke-width="1.3" stroke-linecap="round" fill="none" opacity="0.85"/>
<path d="M48.3 106.7h0M33.0 94.4h0M43.6 98.3h0M44.3 82.3h0M36.8 91.6h0M42.0 105.5h0M56.7 90.9h0M36.0 106.7h0M49.0 93.4h0M49.2 97.9h0M42.9 114.6h0M32.9 89.2h0M34.6 98.2h0M44.1 88.4h0M46.6 82.9h0M52.1 94.1h0M36.2 101.1h0M44.6 87.8h0M45.1 103.4h0M37.8 98.3h0M50.8 99.0h0M46.6 96.0h0M36.8 95.6h0M48.0 107.0h0M47.0 95.8h0M52.3 102.6h0M29.9 95.8h0M42.6 93.3h0M33.1 103.5h0M46.8 107.3h0M47.6 90.6h0M42.9 100.0h0M52.1 98.4h0M48.9 114.7h0M53.2 79.9h0M53.8 98.2h0M37.4 107.2h0M34.5 94.9h0M49.2 86.4h0M50.6 100.0h0M37.2 101.3h0M35.9 97.2h0M35.1 88.1h0M47.9 88.1h0M47.7 96.9h0M43.9 111.0h0M47.4 95.8h0M45.6 85.7h0M49.0 88.3h0M40.8 80.8h0M41.8 106.0h0M35.8 81.3h0M40.1 86.7h0M40.5 101.5h0M37.8 98.5h0M39.9 94.8h0M39.8 85.7h0M39.0 95.8h0M41.6 101.8h0M44.0 97.3h0M51.8 108.4h0M44.6 86.5h0M44.0 103.4h0M40.9 102.0h0M45.8 100.4h0M43.1 91.7h0M36.8 90.3h0M48.0 104.2h0M54.2 110.8h0M48.9 105.4h0M48.3 109.8h0M43.8 109.6h0M48.4 103.3h0M42.3 104.8h0M48.5 111.5h0M47.1 102.0h0M44.4 109.0h0M50.9 110.9h0M49.0 113.1h0M52.2 111.9h0M43.6 107.7h0M59.1 105.0h0M43.4 106.9h0M53.4 106.2h0M50.9 112.7h0M47.2 107.6h0M45.0 104.7h0M55.1 101.5h0M33.5 85.3h0M31.0 85.1h0M39.2 83.7h0M35.2 93.8h0M36.3 97.1h0M35.4 86.1h0M34.6 88.8h0M38.0 96.8h0M34.5 88.4h0M37.9 88.9h0M41.0 90.9h0M33.5 88.0h0" stroke="#c7cae6" stroke-width="1.3" stroke-linecap="round" fill="none" opacity="0.85"/>
<path d="M49.9 78.7h0M45.2 92.8h0M49.6 107.2h0M48.7 97.0h0M39.8 91.0h0M49.8 106.1h0M39.7 94.2h0M37.2 106.9h0M40.5 105.8h0M41.2 97.5h0M49.3 88.2h0M46.5 93.7h0M47.2 105.4h0M43.6 90.5h0M52.5 100.0h0M47.9 89.7h0M49.7 90.2h0M41.3 89.6h0M33.0 86.4h0M51.2 88.2h0M52.4 88.1h0M33.4 89.7h0M49.7 103.5h0M41.1 102.1h0M49.1 96.5h0M30.1 89.2h0M53.1 93.4h0M46.5 104.8h0M38.6 106.2h0M33.6 94.4h0M38.9 103.7h0M40.6 112.1h0M35.7 94.3h0M34.8 94.4h0M46.8 99.3h0M33.9 103.5h0M35.8 86.1h0M35.0 92.5h0M44.2 103.8h0M50.2 103.3h0M50.3 101.0h0M40.3 111.9h0M34.3 101.3h0M35.4 94.0h0M39.1 87.1h0M38.1 100.0h0M38.1 92.6h0M43.1 108.1h0M35.6 89.5h0M52.9 98.1h0M41.1 107.6h0M41.2 95.5h0M37.7 83.4h0M44.7 107.1h0M40.1 104.4h0M52.5 87.4h0M46.4 103.9h0M34.1 100.8h0M50.5 96.7h0M35.1 90.7h0M43.5 91.5h0M54.9 89.6h0M35.5 89.7h0M41.2 107.4h0M39.0 82.7h0M44.0 88.7h0M45.0 93.9h0M35.1 88.4h0M34.3 94.8h0M38.1 86.6h0M46.2 82.7h0M38.5 91.6h0M41.3 89.8h0M55.4 94.7h0M32.4 99.9h0M40.3 91.5h0M48.9 100.5h0M39.1 105.9h0M36.2 92.0h0M42.7 94.7h0M52.3 87.0h0M47.5 80.2h0M47.4 98.2h0M34.3 98.8h0M39.3 85.4h0M42.4 93.5h0M52.9 94.3h0M43.5 96.4h0M43.7 92.0h0M52.4 97.5h0M49.7 97.7h0M45.1 97.6h0M34.6 94.9h0M35.8 99.7h0M52.8 93.7h0M34.8 87.9h0M36.0 99.3h0M53.6 86.3h0M50.5 91.2h0M37.3 89.9h0M32.0 89.4h0M41.8 81.2h0M36.2 105.1h0M43.8 106.0h0M46.0 84.5h0M37.7 91.9h0M38.0 103.3h0M42.9 109.8h0M36.7 85.1h0M51.2 87.7h0M43.3 89.6h0M38.9 88.3h0M43.8 110.3h0M50.5 96.1h0M39.8 91.9h0M48.4 101.6h0M38.6 103.9h0M46.4 98.7h0M40.9 112.3h0M44.5 90.5h0M40.4 87.7h0M44.6 101.1h0M51.5 100.2h0M46.8 81.8h0M46.5 100.1h0M38.4 88.8h0M42.9 89.5h0M37.3 100.7h0M41.8 97.6h0M33.6 90.1h0M41.3 106.2h0M33.5 91.4h0M53.9 100.1h0M43.9 82.9h0M34.2 89.1h0M42.7 83.8h0M36.9 107.8h0M45.4 97.1h0M49.4 101.4h0M37.2 94.7h0M46.6 109.8h0M35.9 85.8h0M33.7 96.3h0M45.2 85.2h0M38.6 85.8h0M47.8 85.1h0M46.6 99.0h0M45.8 88.8h0M35.1 89.0h0M45.4 113.4h0M36.6 94.3h0M46.1 93.1h0M35.5 96.7h0M44.4 91.3h0M32.6 97.5h0M43.1 101.2h0M35.0 99.3h0M41.3 102.3h0M40.9 104.6h0M35.5 87.3h0M45.6 96.4h0M40.6 102.2h0M41.8 108.6h0M41.7 88.1h0M35.8 99.5h0M49.3 90.7h0M48.4 95.1h0M42.5 101.3h0M45.6 82.7h0M41.2 81.7h0M53.7 93.0h0M51.1 86.5h0M48.0 108.1h0M36.4 98.4h0M32.0 96.6h0M35.6 114.4h0M48.5 103.9h0M45.4 87.1h0M30.5 98.9h0M30.8 101.5h0M53.2 94.2h0M51.4 99.8h0M37.4 94.3h0M45.8 108.9h0M38.9 99.3h0M38.6 99.5h0M52.2 104.2h0M44.8 93.9h0M40.1 104.5h0M41.1 100.8h0M41.3 89.7h0M45.2 108.8h0M48.5 100.4h0M47.3 87.0h0M47.8 93.1h0M47.1 92.7h0M48.3 86.0h0M41.6 88.3h0M45.0 78.7h0M31.7 86.6h0M44.2 108.7h0M49.0 108.2h0M45.5 100.4h0M43.5 93.0h0M53.4 91.9h0M52.1 96.8h0M49.1 98.6h0M52.2 105.1h0M44.1 101.3h0M48.6 110.4h0M34.4 111.6h0M38.8 96.0h0M34.0 102.1h0M34.4 98.3h0M37.7 108.9h0M51.3 108.7h0M49.5 92.2h0M42.4 105.4h0M39.3 83.7h0M47.5 95.9h0M40.9 106.6h0M40.4 110.6h0M33.1 97.6h0M46.9 103.8h0M40.5 102.9h0M38.1 84.8h0M51.3 90.1h0M44.9 87.3h0M44.2 95.5h0M50.6 92.7h0M48.4 85.3h0M38.6 87.8h0M50.7 87.3h0M47.6 105.4h0M46.9 113.1h0M45.4 108.0h0M47.1 101.7h0M44.9 94.4h0M49.6 92.1h0M44.4 89.6h0M37.6 95.3h0M42.0 110.0h0M46.8 106.0h0M38.3 101.9h0M48.7 92.9h0M41.9 98.3h0M32.4 84.4h0M37.8 101.5h0M39.6 80.8h0M39.1 107.2h0M48.4 106.8h0M37.8 83.0h0M39.8 107.1h0M45.5 99.0h0M48.6 97.5h0M53.6 91.3h0M51.2 87.7h0M47.8 99.5h0M47.1 99.1h0M53.7 92.6h0M41.9 92.0h0M34.3 92.5h0M46.0 92.8h0M50.1 96.7h0M48.5 85.3h0M38.0 94.8h0M33.1 100.9h0M36.5 99.6h0M51.0 105.9h0M40.6 95.3h0M47.5 106.9h0M43.3 103.6h0M45.4 111.2h0M44.6 111.3h0M45.4 110.9h0M45.0 103.3h0M55.0 108.3h0M53.8 104.4h0M55.3 107.9h0M42.0 103.9h0M47.0 114.2h0M51.0 106.6h0M43.4 109.9h0M55.1 103.1h0M49.4 111.7h0M53.4 108.2h0M54.7 111.3h0M51.6 107.6h0M50.8 113.2h0M52.3 109.8h0M52.5 107.5h0M46.4 106.4h0M53.1 112.5h0M50.1 108.9h0M45.1 103.6h0M46.7 113.5h0M45.2 108.4h0M50.6 103.6h0M46.1 107.2h0M51.6 114.1h0M41.7 108.0h0M51.2 111.9h0M52.9 102.5h0M53.8 103.9h0M46.6 101.9h0M52.0 104.5h0M55.2 105.4h0M54.0 105.8h0M52.6 105.1h0M47.7 101.8h0M54.4 110.2h0M46.7 102.5h0M46.4 108.9h0M45.8 113.5h0M43.4 110.4h0M49.8 104.6h0M56.1 107.8h0M48.5 108.8h0M47.6 103.2h0M44.4 107.0h0M55.4 111.1h0M47.6 108.9h0M46.8 105.4h0M52.4 112.8h0M48.8 102.6h0M52.4 102.1h0M48.4 111.6h0M51.1 107.8h0M48.5 102.8h0M54.6 106.2h0M44.0 106.0h0M43.9 107.9h0M52.5 112.8h0M44.6 104.9h0M50.3 109.4h0M49.8 108.2h0M54.2 108.0h0M41.6 104.3h0M46.0 106.2h0M58.8 107.6h0M51.3 106.8h0M42.6 104.5h0M49.9 113.5h0M47.0 107.1h0M50.3 112.4h0M51.4 114.3h0M48.0 110.6h0M44.5 103.1h0M45.6 101.6h0M53.8 109.0h0M52.0 104.5h0M50.3 104.7h0M52.8 111.4h0M33.0 93.6h0M37.3 94.7h0M33.4 83.9h0M34.0 82.6h0M32.1 88.2h0M36.1 89.8h0M30.9 88.0h0M34.9 84.9h0M33.3 90.4h0M37.7 97.0h0M37.2 85.5h0M38.1 92.7h0M37.3 93.5h0M39.7 91.6h0M35.2 83.4h0M36.8 84.8h0M40.2 90.3h0M34.3 95.6h0M39.5 87.7h0M35.2 94.6h0M34.3 85.8h0M35.0 90.7h0M36.9 97.1h0M35.3 88.8h0M35.9 97.7h0M36.8 91.3h0M36.3 88.7h0M37.0 95.7h0M40.2 91.3h0M33.0 88.1h0M40.4 88.1h0M35.6 91.6h0M37.8 90.9h0M37.5 87.7h0M37.0 86.4h0M33.5 93.8h0M34.7 87.7h0M39.8 90.2h0M34.9 96.6h0M33.7 95.0h0M36.9 94.3h0M37.1 93.8h0M37.7 90.9h0M33.7 86.3h0M36.2 94.9h0M39.3 87.0h0M38.3 94.5h0M37.5 95.0h0M38.1 83.7h0M34.0 95.5h0M38.9 95.3h0M33.8 85.2h0M36.4 92.6h0M33.6 95.2h0M34.9 83.9h0M37.6 97.5h0M31.2 92.9h0M36.7 86.5h0M36.2 96.7h0M36.1 89.1h0M37.1 95.0h0M30.6 86.3h0M38.2 93.6h0M36.7 88.8h0M36.0 100.0h0" stroke="#b0b4dc" stroke-width="1.3" stroke-linecap="round" fill="none" opacity="0.85"/>
<path d="M88.8 90.9h0M79.3 81.5h0M78.4 105.6h0M89.6 101.0h0M89.8 97.2h0M87.5 100.7h0M84.1 89.9h0M82.2 84.1h0M83.0 112.1h0M70.7 91.2h0M79.9 73.0h0M86.9 96.4h0M74.5 100.7h0M86.0 91.5h0M74.2 106.1h0M73.4 95.5h0M80.5 97.3h0M87.4 88.0h0M85.7 85.1h0M74.9 102.9h0M92.1 95.1h0M91.8 100.2h0M85.7 80.2h0M87.6 99.3h0M82.5 101.8h0M82.2 88.1h0M91.0 89.6h0M84.7 106.9h0M90.6 83.9h0M83.3 107.7h0M70.7 82.9h0M84.8 102.5h0M88.7 97.6h0M81.0 81.6h0M73.0 90.8h0M85.3 90.3h0M83.3 81.8h0M80.5 105.6h0M76.5 74.1h0M82.9 84.5h0M84.4 98.0h0M90.3 93.9h0M72.9 100.3h0M73.6 90.8h0M78.3 98.3h0M72.2 101.1h0M76.7 94.0h0M87.4 86.0h0M71.6 101.3h0M79.9 103.7h0M72.8 106.6h0M88.9 77.7h0M90.4 75.5h0M91.6 94.5h0M81.6 85.9h0M92.9 90.9h0M87.1 86.1h0M83.8 98.6h0M87.3 97.3h0M73.4 95.8h0M84.9 87.4h0M73.2 103.6h0M71.7 103.2h0M91.4 86.9h0M93.5 80.1h0M83.8 88.6h0M89.0 85.9h0M91.8 79.2h0M90.1 86.3h0M90.5 79.4h0M83.4 92.3h0M83.7 92.4h0M90.5 85.0h0M89.6 85.2h0M94.2 84.6h0M93.0 76.9h0M85.9 86.0h0M97.3 79.0h0M88.7 85.3h0M79.9 83.6h0M90.6 83.2h0M91.1 83.1h0M89.8 76.1h0M91.1 85.6h0M92.4 85.6h0M92.0 74.4h0M88.4 79.2h0M91.2 77.4h0M89.2 93.1h0" stroke="#adb1df" stroke-width="1.3" stroke-linecap="round" fill="none" opacity="0.85"/>
<path d="M79.7 85.3h0M83.7 79.1h0M77.3 82.9h0M79.4 90.9h0M70.2 91.0h0M90.5 83.8h0M86.2 110.7h0M95.6 102.0h0M84.4 101.4h0M86.7 102.1h0M69.8 95.5h0M87.4 86.2h0M70.3 93.5h0M89.7 99.7h0M91.5 82.1h0M76.9 106.2h0M79.8 103.9h0M75.7 100.2h0M79.8 79.1h0M87.1 95.2h0M75.7 99.9h0M77.4 84.9h0M80.2 100.8h0M86.6 93.3h0M73.8 97.5h0M85.7 106.3h0M96.6 99.8h0M82.1 95.2h0M69.8 92.6h0M88.5 106.1h0M88.3 110.0h0M75.8 94.0h0M90.2 96.0h0M76.4 107.0h0M87.7 100.8h0M90.3 82.7h0M76.4 94.8h0M68.1 107.6h0M72.2 102.5h0M81.8 98.1h0M79.3 77.7h0M84.4 97.7h0M83.1 94.5h0M75.3 102.7h0M98.6 100.1h0M84.2 90.0h0M77.0 100.3h0M78.2 111.6h0M86.1 115.9h0M84.9 84.5h0M91.6 94.3h0M75.5 85.2h0M75.2 106.6h0M77.8 82.8h0M78.4 105.6h0M78.6 86.7h0M94.3 89.3h0M70.3 87.4h0M83.2 112.3h0M85.2 88.3h0M81.4 92.8h0M78.7 85.5h0M83.3 103.1h0M79.0 99.0h0M77.7 111.4h0M67.4 103.1h0M89.4 90.4h0M83.7 95.9h0M93.1 83.3h0M75.4 106.8h0M76.6 79.6h0M85.1 75.6h0M83.8 106.3h0M79.6 82.9h0M76.1 84.7h0M87.2 97.7h0M84.4 110.2h0M88.6 106.6h0M80.5 92.2h0M77.7 94.7h0M82.8 79.2h0M78.9 103.6h0M96.0 102.2h0M76.3 110.1h0M71.2 96.2h0M75.6 94.9h0M84.8 99.9h0M66.6 89.6h0M82.0 103.9h0M87.0 108.7h0M77.2 82.8h0M79.4 109.9h0M87.0 81.7h0M79.0 110.7h0M88.8 96.7h0M79.9 91.1h0M87.0 102.0h0M79.8 96.0h0M79.5 85.4h0M73.1 110.6h0M78.2 101.2h0M85.1 84.7h0M89.3 84.6h0M85.8 80.4h0M91.7 91.2h0M80.9 101.3h0M83.0 95.8h0M73.9 100.0h0M83.1 86.0h0M91.4 89.6h0M89.5 94.2h0M85.3 104.4h0M82.1 86.5h0M79.6 80.0h0M76.3 86.9h0M87.7 83.9h0M67.5 101.5h0M80.2 100.9h0M83.1 100.4h0M70.4 100.7h0M77.9 99.7h0M79.7 81.8h0M92.0 101.6h0M75.1 89.6h0M72.3 79.8h0M85.1 86.0h0M76.8 105.1h0M84.9 102.4h0M88.5 108.0h0M88.6 76.0h0M90.9 104.8h0M72.8 87.3h0M79.2 104.0h0M79.8 81.8h0M84.4 114.1h0M90.1 98.7h0M82.5 77.3h0M77.0 112.3h0M81.6 90.0h0M85.7 91.1h0M83.2 91.3h0M85.0 101.0h0M83.4 83.6h0M85.9 81.0h0M92.7 97.5h0M83.0 77.4h0M75.1 96.4h0M79.1 104.4h0M77.0 88.9h0M85.6 101.7h0M80.6 112.2h0M82.5 96.1h0M79.5 79.6h0M74.5 106.7h0M82.5 100.3h0M80.5 84.5h0M84.6 108.4h0M79.4 101.4h0M75.0 86.1h0M78.5 105.1h0M75.8 91.4h0M70.4 101.3h0M76.8 99.4h0M81.2 97.4h0M81.8 91.7h0M74.7 106.5h0M79.8 101.0h0M75.7 114.1h0M86.1 98.1h0M78.6 86.2h0M77.0 89.8h0M80.5 94.5h0M74.7 80.9h0M77.3 95.9h0M90.9 112.7h0M88.0 97.9h0M78.4 95.5h0M68.9 84.4h0M82.0 86.7h0M81.5 83.9h0M73.9 99.5h0M75.2 87.9h0M70.2 93.6h0M88.3 102.8h0M88.0 106.7h0M73.9 106.6h0M96.0 87.3h0M74.5 106.5h0M90.2 95.4h0M81.6 87.6h0M86.2 85.4h0M80.7 84.1h0M84.6 89.3h0M89.8 82.9h0M83.3 91.3h0M75.8 96.0h0M78.6 101.8h0M83.8 80.3h0M91.4 86.9h0M78.8 102.6h0M71.8 96.9h0M74.6 98.4h0M92.9 94.0h0M72.3 98.3h0M77.7 95.6h0M71.1 87.3h0M88.0 103.0h0M70.2 89.2h0M84.3 104.3h0M74.0 106.1h0M88.2 115.0h0M73.8 88.6h0M69.8 98.8h0M78.7 86.6h0M81.7 92.7h0M80.4 110.5h0M94.2 89.4h0M88.2 82.4h0M84.2 100.8h0M86.2 90.3h0M87.8 82.0h0M89.0 104.9h0M79.7 93.1h0M81.6 101.5h0M72.6 102.0h0M84.3 92.5h0M79.7 106.9h0M84.0 109.4h0M87.5 83.7h0M75.1 108.9h0M70.7 100.9h0M80.5 82.9h0M74.8 100.0h0M82.3 104.5h0M70.4 90.4h0M77.3 83.5h0M76.7 120.5h0M75.7 83.0h0M73.8 90.9h0M83.1 88.6h0M87.5 98.9h0M76.8 94.6h0M75.9 87.8h0M92.7 100.1h0M81.3 100.8h0M80.7 80.9h0M79.5 108.8h0M85.6 97.4h0M70.0 95.6h0M71.3 101.4h0M69.3 99.4h0M73.5 95.8h0M72.0 95.2h0M81.6 78.6h0M81.7 87.4h0M87.5 109.8h0M75.1 77.6h0M91.4 94.1h0M89.4 77.1h0M73.8 91.2h0M81.2 97.6h0M89.8 103.0h0M79.8 83.1h0M87.1 89.0h0M81.4 83.7h0M91.6 93.8h0M74.1 102.7h0M83.2 86.5h0M73.0 99.6h0M78.1 102.8h0M84.0 107.0h0M75.0 108.4h0M91.9 94.9h0M85.7 79.9h0M79.6 89.8h0M73.1 96.8h0M75.7 101.4h0M81.9 95.4h0M81.3 106.0h0M65.3 101.2h0M84.4 91.9h0M91.0 81.6h0M83.1 82.1h0M91.5 76.6h0M89.7 92.8h0M89.3 90.1h0M93.4 89.2h0M87.5 75.8h0M91.6 76.8h0M94.8 92.7h0M94.6 83.3h0M86.8 74.5h0M80.7 86.2h0M94.2 84.1h0M89.7 89.7h0M94.3 79.2h0M89.0 81.0h0M88.4 83.9h0M96.3 92.6h0M86.9 85.3h0M93.6 89.0h0M83.1 86.3h0M84.2 87.8h0M81.8 85.4h0M93.4 88.6h0M86.3 93.4h0M89.0 89.9h0M84.2 80.5h0M89.4 76.4h0M92.7 90.8h0M91.0 84.8h0M81.6 82.5h0M91.6 91.0h0M83.5 86.5h0M86.7 81.2h0M84.1 87.2h0M88.5 93.0h0M94.7 84.5h0M82.4 87.2h0M85.4 87.5h0M83.5 84.0h0M88.7 83.8h0M88.9 76.4h0M83.3 83.7h0M86.2 87.3h0M85.3 88.3h0M86.3 77.7h0M88.4 83.6h0M88.3 78.8h0M93.3 85.1h0M83.0 81.4h0M85.2 90.4h0M83.6 79.3h0M81.3 79.6h0M83.5 85.0h0M91.3 82.1h0M95.2 71.4h0M95.5 84.5h0M82.3 85.8h0M81.5 85.7h0M81.9 77.7h0M85.6 76.1h0M83.7 75.7h0M92.9 80.8h0M79.7 74.7h0M91.5 81.3h0M91.6 83.8h0M87.2 93.2h0M83.8 90.7h0M86.3 81.4h0M90.4 90.1h0M93.0 77.5h0M87.9 86.2h0M82.8 85.9h0M84.7 82.5h0M90.4 88.7h0M82.9 90.1h0M83.6 76.5h0M91.0 86.9h0M91.1 81.0h0M92.2 77.6h0M87.3 75.1h0M83.7 84.4h0M88.8 75.6h0M93.6 83.1h0M79.8 86.2h0M87.2 81.8h0M83.9 92.8h0M92.3 88.1h0M84.5 91.5h0M86.6 88.4h0M86.8 82.0h0M93.3 83.3h0M86.2 76.1h0" stroke="#8a90d2" stroke-width="1.3" stroke-linecap="round" fill="none" opacity="0.85"/>
<path d="M81.6 99.8h0M93.0 94.1h0M83.1 87.9h0M88.3 84.8h0M79.0 105.0h0M85.0 79.5h0M82.6 100.8h0M91.9 95.4h0M87.4 104.2h0M86.8 99.7h0M81.2 96.5h0M87.5 85.2h0M77.7 92.5h0M77.8 90.7h0M81.0 95.0h0M71.6 106.9h0M76.4 101.8h0M77.8 95.4h0M86.2 87.1h0M80.3 111.0h0M75.8 98.1h0M77.3 99.0h0M88.2 108.7h0M84.7 108.2h0M82.2 92.6h0M81.2 101.7h0M88.5 90.7h0M79.8 81.5h0M76.4 97.7h0M90.8 92.0h0M90.7 99.3h0M73.9 95.3h0M75.8 77.8h0M67.8 81.3h0M71.9 105.1h0M82.3 81.7h0M70.7 98.1h0M72.3 87.7h0M74.0 98.6h0M86.9 85.3h0M91.3 103.6h0M90.1 97.9h0M91.3 100.1h0M72.7 86.0h0M86.4 94.4h0M75.4 109.7h0M76.6 83.1h0M88.5 95.5h0M81.3 87.2h0M92.9 91.0h0M85.1 86.9h0M81.0 83.3h0M69.9 108.6h0M77.9 88.8h0M84.3 98.3h0M77.4 106.1h0M73.7 99.2h0M70.8 90.9h0M82.5 90.6h0M83.1 85.1h0M83.8 78.8h0M79.8 78.4h0M85.1 106.6h0M80.9 95.8h0M79.8 98.2h0M79.8 109.6h0M84.1 85.5h0M70.1 96.2h0M81.1 87.1h0M84.5 96.8h0M83.2 82.3h0M87.7 89.4h0M80.4 93.1h0M82.3 110.2h0M80.4 99.8h0M85.3 96.2h0M77.7 102.4h0M89.0 83.2h0M71.4 94.6h0M75.2 92.6h0M72.5 81.8h0M90.0 99.7h0M80.7 104.8h0M73.2 90.8h0M86.4 90.3h0M84.5 109.6h0M77.6 84.7h0M83.2 100.4h0M80.8 78.4h0M85.7 103.9h0M79.8 107.9h0M83.9 84.9h0M82.9 97.8h0M83.5 87.4h0M82.4 108.2h0M86.6 110.9h0M81.0 96.5h0M72.2 104.7h0M80.0 111.3h0M86.4 80.3h0M84.3 76.1h0M82.7 80.0h0M87.5 75.9h0M94.6 81.9h0M87.3 89.5h0M83.6 80.5h0M93.9 80.4h0M88.6 83.8h0M84.4 76.0h0M87.4 82.6h0M92.7 74.8h0M93.7 79.1h0M84.1 78.6h0M91.8 86.4h0M92.7 79.8h0M86.3 76.4h0M89.9 91.5h0M90.2 85.5h0M90.1 87.1h0M84.5 93.6h0M84.2 85.3h0M92.1 78.7h0M81.3 85.7h0M82.5 89.8h0M92.2 77.7h0M92.1 86.4h0M95.4 81.9h0M93.1 84.0h0M90.2 78.6h0M90.7 78.6h0M91.0 89.4h0M86.2 91.4h0M84.2 88.5h0M90.0 76.0h0M89.2 86.0h0M86.2 89.3h0M81.0 78.2h0" stroke="#757ab2" stroke-width="1.3" stroke-linecap="round" fill="none" opacity="0.85"/>
<path d="M58.3 102.5h0M67.0 109.6h0M55.1 96.2h0M54.2 101.6h0M52.2 98.2h0M66.0 97.2h0M59.6 102.0h0M62.1 93.9h0M60.1 100.2h0M67.2 102.0h0M54.0 96.4h0M61.3 101.9h0M57.2 103.3h0M64.4 98.1h0M59.8 101.6h0M49.1 98.5h0M67.9 94.3h0M55.7 100.0h0M62.4 92.1h0M65.7 97.4h0M59.5 102.6h0M55.3 99.5h0M58.2 97.4h0M52.0 103.4h0M67.8 94.6h0M51.5 99.7h0M72.2 101.1h0M58.3 97.9h0M63.3 105.7h0M54.2 99.5h0M67.3 100.2h0M67.7 95.4h0M63.5 100.9h0M68.6 100.1h0M60.5 99.1h0M65.8 102.9h0M64.4 100.7h0M62.7 105.8h0M51.1 97.3h0" stroke="#c2bce3" stroke-width="1.3" stroke-linecap="round" fill="none" opacity="0.85"/>
<path d="M63.5 97.5h0M63.6 101.6h0M56.5 105.5h0M63.2 105.6h0M60.2 103.4h0M62.5 91.7h0M52.2 98.1h0M53.2 97.6h0M71.3 101.1h0M53.0 102.2h0M61.9 89.5h0M72.0 103.5h0M63.0 95.8h0M50.4 101.5h0M55.9 95.5h0M61.0 103.6h0M53.9 105.1h0M60.0 105.6h0M59.7 92.4h0M66.8 102.1h0M72.6 93.4h0M51.4 99.7h0M70.0 100.3h0M53.6 101.0h0M70.6 98.2h0M68.9 101.5h0M62.3 96.1h0M65.8 95.1h0M49.6 96.6h0M56.9 92.6h0M64.4 105.9h0M53.2 105.3h0M65.5 101.3h0M60.3 101.2h0M69.0 102.4h0M55.2 93.1h0M48.9 97.9h0M49.7 100.9h0M62.6 106.2h0M71.3 96.0h0M58.4 92.7h0M57.8 101.1h0M50.3 96.5h0M57.8 98.6h0M51.9 94.4h0M63.2 103.2h0M67.9 100.1h0M53.4 100.4h0M58.5 94.5h0M64.5 92.1h0M68.5 95.0h0M52.7 99.2h0M72.5 101.6h0M57.0 91.6h0M61.3 97.2h0M50.3 96.1h0M61.5 94.4h0M64.4 105.3h0M63.2 94.5h0M62.8 98.2h0M70.7 94.6h0M53.8 100.3h0M56.8 103.7h0M58.7 95.1h0M55.5 92.9h0M67.4 93.9h0M52.3 98.2h0M61.0 104.5h0M62.6 96.7h0M61.0 94.7h0M55.5 100.6h0M64.6 102.3h0M69.3 101.5h0M69.6 101.8h0M57.1 105.6h0M61.4 92.6h0M67.9 99.4h0M67.5 101.5h0M58.0 99.0h0M56.5 100.3h0M59.9 106.7h0M68.2 96.4h0M64.6 98.5h0M58.6 95.3h0M55.2 102.8h0M57.5 103.4h0M57.9 103.6h0M63.4 104.4h0M62.6 108.5h0M57.9 92.6h0M50.4 101.1h0M53.7 103.4h0M68.5 96.7h0M55.3 95.4h0M62.8 94.3h0M53.6 102.2h0M72.7 95.0h0M63.5 104.1h0M56.4 99.1h0M51.5 101.6h0M73.1 98.7h0M63.0 95.9h0M65.4 97.3h0M62.1 92.2h0M58.7 96.4h0M61.5 105.6h0M57.1 91.7h0M51.5 102.7h0M66.3 96.6h0M65.1 96.5h0M64.1 99.4h0M60.6 95.1h0M51.6 99.0h0M51.3 95.5h0M52.6 99.6h0M59.8 96.0h0M50.3 100.9h0M65.1 101.7h0M53.9 97.9h0M63.8 104.4h0M50.6 96.5h0M55.3 97.5h0M51.5 100.4h0M53.2 94.8h0M46.8 91.7h0M57.1 100.5h0M70.0 97.5h0M64.3 105.2h0M68.0 103.7h0M61.3 104.3h0M63.0 92.6h0M54.1 103.7h0M58.3 99.1h0M55.5 94.5h0M55.7 94.1h0" stroke="#a8a0d8" stroke-width="1.3" stroke-linecap="round" fill="none" opacity="0.85"/>
<path d="M68.4 96.7h0M48.9 104.3h0M59.6 103.6h0M56.6 94.2h0M65.4 93.9h0M70.2 105.2h0M69.2 102.0h0M52.1 98.1h0M60.3 102.7h0M58.9 102.9h0M59.6 100.3h0M60.9 96.7h0M59.9 102.6h0M58.6 96.9h0M63.2 89.2h0M63.4 105.6h0M59.8 99.8h0M58.9 102.4h0M65.1 95.3h0M56.2 92.8h0M58.3 94.2h0M59.7 96.5h0M55.8 102.2h0M57.3 105.6h0M58.2 105.1h0M67.9 97.0h0M55.3 101.2h0M57.1 105.7h0M51.6 98.2h0M55.1 93.3h0M62.5 95.7h0M48.2 97.4h0M66.2 99.6h0M55.4 95.3h0M56.4 106.8h0M64.4 97.6h0M64.9 100.1h0M62.1 98.6h0M50.2 100.7h0M53.2 92.6h0M58.5 92.0h0M64.0 96.8h0M68.1 100.4h0M47.9 95.8h0M66.9 98.5h0" stroke="#8e88b7" stroke-width="1.3" stroke-linecap="round" fill="none" opacity="0.85"/>
<path d="M57.6 88.2h0M61.6 85.5h0M51.6 84.0h0M66.9 89.7h0M66.0 87.5h0M59.8 84.3h0M54.9 88.7h0M56.8 84.4h0M64.6 85.3h0M70.4 86.8h0M64.2 92.6h0M54.5 86.5h0M53.7 83.5h0M49.9 89.4h0M56.7 92.6h0M56.6 83.6h0M59.7 88.4h0M57.2 85.0h0M52.9 90.3h0M56.1 82.7h0M56.2 82.6h0M53.9 89.6h0M64.6 86.7h0M55.9 83.5h0M60.8 89.0h0M50.9 86.8h0" stroke="#aad7d0" stroke-width="1.3" stroke-linecap="round" fill="none" opacity="0.85"/>
<path d="M52.6 88.0h0M51.0 84.8h0M59.8 83.4h0M63.4 89.8h0M60.5 87.6h0M55.5 88.5h0M64.0 90.4h0M59.7 86.2h0M53.9 90.3h0M62.3 90.7h0M49.0 85.3h0M62.8 84.1h0M48.6 86.2h0M64.0 89.4h0M63.4 85.5h0M55.3 84.4h0M63.4 84.9h0M45.9 88.0h0M64.9 91.3h0M54.2 91.7h0M65.8 86.5h0M50.4 90.4h0M62.9 91.3h0M58.0 85.3h0M60.4 86.5h0M63.0 87.4h0M53.6 89.4h0M59.0 88.7h0M65.9 90.0h0M50.6 85.7h0M55.9 90.7h0M53.5 91.3h0M64.8 91.2h0M56.9 83.2h0M54.3 90.1h0M54.1 93.3h0M64.6 83.5h0M66.1 84.4h0M52.4 85.6h0M62.4 92.7h0M56.6 91.2h0M54.1 84.8h0M51.5 86.7h0M57.2 90.3h0M48.0 88.3h0M57.9 90.8h0M56.0 92.0h0M53.5 88.4h0M55.6 85.7h0M60.2 86.9h0M50.9 90.7h0M61.2 85.7h0M61.9 83.4h0M58.5 86.0h0M60.6 92.8h0M56.1 87.3h0M55.3 91.0h0M57.7 91.3h0M48.8 90.2h0M59.0 89.7h0M54.7 83.0h0M61.7 89.2h0M55.1 88.0h0M62.0 89.2h0M56.6 90.1h0M67.6 86.9h0M56.8 91.0h0M65.4 86.1h0M59.7 84.1h0M54.1 88.3h0M44.8 87.0h0M65.4 87.7h0M58.2 88.4h0M55.1 87.7h0M65.9 89.2h0M49.0 86.5h0M55.3 80.8h0M54.0 90.6h0M55.3 86.5h0M65.6 87.9h0M56.0 90.8h0M50.8 93.7h0M54.1 92.0h0M56.7 84.0h0M48.9 87.9h0M61.8 90.6h0M65.1 90.3h0M54.4 87.3h0M48.4 89.6h0M57.7 81.7h0M53.3 90.3h0M50.1 85.4h0M54.7 88.0h0M54.7 85.8h0M62.9 83.8h0M64.9 90.0h0M66.5 86.4h0M52.5 85.2h0M55.6 83.4h0M61.9 88.8h0M56.6 89.9h0M50.7 81.2h0" stroke="#86c6bc" stroke-width="1.3" stroke-linecap="round" fill="none" opacity="0.85"/>
<path d="M55.0 85.5h0M53.4 86.5h0M66.1 89.5h0M56.8 83.4h0M53.1 87.8h0M65.3 88.0h0M57.2 84.7h0M61.8 93.0h0M50.1 84.4h0M59.6 91.7h0M63.7 85.8h0M59.0 86.7h0M57.0 93.5h0M46.4 88.0h0M67.9 85.9h0M57.2 88.0h0M51.2 92.1h0M65.5 85.5h0M51.6 88.9h0M54.0 93.7h0M49.1 86.1h0M52.1 85.3h0M62.0 89.2h0M63.2 80.9h0M58.9 83.7h0M64.9 92.4h0M57.0 80.6h0M68.6 89.1h0M60.6 83.6h0M56.1 86.4h0M54.9 93.4h0M67.5 85.8h0M58.3 86.2h0M56.9 86.2h0M65.1 88.9h0M63.9 91.5h0M52.3 83.7h0M61.2 90.4h0M68.2 87.4h0M52.0 91.0h0M62.6 90.8h0M58.8 79.8h0M50.4 84.8h0M58.0 92.9h0" stroke="#71a89f" stroke-width="1.3" stroke-linecap="round" fill="none" opacity="0.85"/>
<path d="M109.9 68.7h0M93.8 68.4h0M93.2 77.9h0M100.6 65.5h0M95.8 70.6h0M114.7 66.4h0M91.4 59.6h0M94.4 62.5h0M93.5 68.7h0M116.7 71.0h0M93.0 54.4h0M111.2 77.9h0M102.6 71.6h0M106.4 62.7h0M94.2 60.2h0M101.9 60.9h0M102.9 71.2h0M100.8 67.3h0M83.5 60.1h0M92.9 54.9h0M103.8 58.6h0M102.9 69.2h0M92.9 79.4h0M112.3 68.5h0M83.1 59.1h0M90.7 75.2h0M95.0 66.3h0M102.7 65.3h0M98.7 77.6h0M79.6 73.5h0M101.1 68.5h0M92.6 55.6h0M102.8 61.2h0M84.7 70.1h0M83.1 70.8h0M108.7 58.6h0M103.3 79.5h0M95.1 66.9h0M103.4 73.6h0M107.1 60.4h0M99.7 67.3h0M93.1 69.0h0M90.6 56.1h0M109.4 63.1h0M102.4 59.5h0M101.6 70.1h0M99.8 57.0h0M106.9 61.4h0M102.6 75.8h0M97.4 84.9h0M92.0 61.4h0M106.6 60.5h0M85.6 55.5h0M111.9 61.7h0M89.8 62.1h0M90.6 69.7h0M93.9 64.9h0M94.3 56.5h0M110.5 58.1h0M99.5 61.8h0M114.4 70.4h0M99.5 80.4h0M109.1 72.3h0M82.9 54.4h0M116.3 57.1h0M88.3 76.9h0M108.6 75.9h0M93.2 69.1h0M111.3 65.1h0M100.6 54.2h0M83.8 80.7h0M110.9 73.3h0M88.3 65.9h0M104.5 67.9h0M105.6 75.9h0M94.0 79.3h0M105.0 76.3h0M89.7 74.5h0M86.6 75.8h0M109.4 71.0h0M114.0 69.5h0M117.1 78.9h0M95.1 62.8h0M120.4 75.0h0M98.9 66.1h0M81.6 69.7h0M101.6 68.6h0M86.0 58.8h0M95.5 66.8h0M111.9 69.6h0M79.9 72.0h0M85.9 58.1h0M113.5 69.0h0M96.9 73.6h0M81.4 61.4h0M103.8 62.8h0M105.3 76.7h0M111.1 60.1h0M84.6 56.0h0M107.3 62.9h0M89.7 66.5h0M79.0 70.3h0M102.9 70.4h0M96.4 62.4h0M100.7 66.0h0M116.2 72.7h0M85.7 67.0h0M91.9 63.1h0M80.4 60.5h0M83.1 58.7h0M81.5 68.7h0M90.1 59.5h0M109.0 64.3h0M93.4 68.3h0M113.0 60.7h0M106.6 65.1h0M100.3 66.0h0M88.8 71.3h0M95.0 68.3h0M108.9 80.4h0M91.8 68.6h0M88.2 69.1h0M86.9 65.8h0M89.5 77.4h0M114.2 64.8h0M85.6 77.1h0M88.8 75.2h0M89.7 56.0h0M109.4 77.6h0M103.4 75.2h0M95.7 79.8h0M86.3 56.0h0M110.0 70.2h0M102.8 59.3h0M108.4 72.8h0M101.7 56.1h0M106.0 64.2h0M105.7 75.8h0M107.6 78.9h0M83.9 62.4h0M97.7 60.2h0M91.5 74.7h0M93.0 70.7h0M82.2 64.8h0M101.2 71.8h0M112.3 71.0h0M95.0 60.9h0M94.9 79.7h0M88.9 76.7h0M92.7 65.8h0M108.7 62.4h0M98.4 70.9h0M93.6 65.7h0M93.6 58.7h0M100.7 60.5h0M112.8 70.4h0M88.1 54.9h0M85.4 56.7h0M85.2 62.8h0M88.1 63.3h0M96.8 56.4h0M107.5 65.5h0M102.2 71.0h0M107.2 68.0h0M90.7 73.4h0M114.2 67.2h0M86.5 57.4h0M87.8 60.3h0M81.4 60.6h0M100.3 65.4h0M90.2 78.9h0M95.9 85.1h0M88.7 67.3h0M112.7 56.7h0M96.6 63.7h0M113.6 71.4h0M109.1 68.7h0M105.3 68.8h0M115.5 66.6h0M91.1 79.4h0M112.4 73.9h0M102.6 54.8h0M90.8 74.0h0M88.4 63.4h0M89.4 75.8h0M99.7 70.6h0M99.6 67.8h0M92.5 76.0h0M86.3 57.0h0M87.0 73.1h0M115.3 62.9h0M87.6 76.3h0M99.4 53.4h0M120.1 71.4h0M90.2 74.7h0M110.7 74.0h0M106.8 79.8h0M94.7 65.1h0M76.0 70.9h0M104.8 60.9h0M85.0 69.0h0M94.7 54.2h0M94.1 64.4h0M88.9 62.9h0M95.9 71.8h0M102.9 62.3h0M92.9 54.9h0M86.9 53.7h0M115.9 70.7h0M92.4 58.0h0M104.5 66.0h0M107.6 82.3h0M95.9 64.6h0M112.9 72.8h0M95.6 57.8h0M84.3 61.6h0M96.8 55.4h0M100.4 74.5h0M99.3 50.9h0M91.5 62.9h0M113.6 72.8h0M82.4 66.8h0M91.6 69.1h0M106.4 71.7h0M94.4 63.5h0M105.1 59.8h0M120.0 75.0h0M89.8 72.6h0M94.1 49.7h0M97.3 70.5h0M89.1 57.5h0M102.5 56.4h0M101.1 74.0h0M105.5 64.7h0M89.7 55.0h0M112.1 76.2h0M86.0 69.4h0M93.8 56.0h0M89.9 72.6h0M105.1 73.2h0M109.8 65.9h0M104.1 76.6h0M108.6 77.0h0M103.9 66.4h0M108.0 67.6h0M89.0 57.1h0M111.1 76.0h0M107.0 59.6h0M100.1 50.7h0M92.0 71.9h0M99.6 70.0h0M84.7 69.5h0M111.5 63.0h0M100.7 54.6h0M106.6 52.7h0M101.4 87.8h0M88.8 64.9h0M96.4 65.4h0M76.3 77.0h0M81.7 65.6h0M89.2 53.9h0M101.9 56.4h0M95.8 54.7h0M88.6 64.9h0M101.5 65.1h0M107.3 78.3h0M113.2 61.3h0M96.0 61.7h0M87.0 75.7h0M102.0 53.7h0M88.6 67.2h0M94.3 77.5h0M114.2 64.7h0M113.5 69.5h0M105.8 70.5h0M114.1 73.7h0M103.2 68.9h0M93.0 57.6h0M94.9 62.9h0M99.9 56.4h0M105.8 70.5h0M105.6 75.1h0M104.6 58.3h0M111.7 79.8h0M87.8 68.6h0M103.5 69.7h0M102.6 59.6h0M83.7 61.4h0M89.0 57.7h0M106.1 77.8h0M99.4 69.5h0M86.6 74.7h0M94.8 66.0h0M91.1 72.6h0M85.1 65.8h0M92.7 71.3h0M104.4 79.2h0M93.1 54.1h0M92.4 76.8h0M86.7 67.4h0M109.1 68.6h0M84.2 60.3h0M90.7 75.4h0M105.8 66.3h0M87.4 70.0h0M97.8 74.3h0M89.8 67.4h0M102.6 75.8h0M104.7 69.1h0M110.3 69.3h0M90.9 63.4h0M81.5 70.6h0M83.0 57.2h0M112.9 70.0h0M101.7 69.2h0M92.5 76.2h0M109.8 59.4h0M90.0 51.6h0M104.6 58.6h0M102.5 77.0h0M88.6 68.3h0M107.4 64.9h0M111.3 70.1h0M107.2 58.6h0M92.0 69.3h0M110.5 63.7h0M89.5 63.0h0M92.3 58.0h0M102.5 60.0h0M101.6 64.2h0M98.9 80.8h0M107.8 64.6h0M87.9 73.0h0M116.4 84.0h0M86.5 68.5h0M85.5 65.0h0M88.5 73.4h0M81.8 65.9h0M108.2 75.3h0M107.7 68.4h0M92.6 73.4h0M105.5 71.5h0M101.2 68.5h0M93.0 78.9h0M114.9 69.0h0M102.5 60.5h0M93.5 55.9h0M93.6 56.4h0M89.8 77.8h0M96.8 55.5h0M98.1 61.9h0M92.6 63.9h0M105.8 75.5h0M105.6 75.1h0M109.1 57.5h0M93.2 67.7h0M97.6 79.4h0M97.5 60.4h0M113.4 74.4h0M102.9 74.9h0M89.5 61.9h0M85.3 70.2h0M96.9 65.7h0M85.2 60.1h0M99.7 52.7h0M103.9 78.9h0M116.6 72.9h0M120.1 76.3h0M104.6 75.6h0M98.4 55.6h0M88.1 77.7h0M92.1 66.4h0M92.2 77.0h0M95.4 73.9h0M105.7 72.8h0M96.2 79.2h0M88.5 60.3h0M96.6 71.7h0M105.8 57.5h0M112.5 65.8h0M87.2 70.2h0M108.7 65.7h0M89.6 77.4h0M85.8 60.4h0M96.2 71.7h0M98.8 75.5h0M105.4 60.3h0M92.4 56.1h0M102.0 59.7h0M91.5 62.0h0M97.1 58.3h0M98.3 62.8h0M102.8 75.9h0M96.7 77.2h0M89.4 74.2h0M81.7 59.4h0M98.1 76.5h0M114.8 65.8h0M105.3 73.0h0M106.3 73.1h0M113.5 66.0h0M94.1 60.6h0M111.3 67.8h0M83.4 73.8h0M112.7 60.4h0M88.3 68.4h0M89.6 61.5h0M84.0 73.6h0M92.2 79.2h0M98.6 73.7h0M87.8 72.5h0M82.4 66.0h0M103.9 74.6h0M97.7 60.0h0M87.1 55.1h0M102.7 74.0h0M93.1 74.0h0M103.4 77.1h0M98.5 67.3h0M91.5 66.9h0M93.3 64.3h0M85.5 57.6h0M109.5 67.1h0M114.1 70.7h0M94.6 79.8h0M95.5 54.2h0M90.7 72.7h0M103.6 76.0h0M89.3 80.5h0M96.2 64.1h0M91.7 74.2h0M92.9 54.8h0M106.6 56.9h0M103.8 55.2h0M103.6 79.1h0M108.0 58.0h0M109.3 58.2h0M98.0 59.0h0M86.2 65.0h0M97.3 68.4h0M108.7 67.8h0M94.0 75.3h0M110.7 62.4h0M95.8 53.8h0M90.7 64.0h0M111.1 75.7h0M92.7 53.4h0M109.7 68.9h0M102.3 77.4h0M104.7 65.0h0M93.4 59.0h0M91.8 60.9h0M117.8 58.6h0M83.5 58.9h0M99.3 77.1h0M93.9 53.4h0M91.3 74.4h0M83.2 63.4h0M114.8 72.8h0M106.7 77.3h0M104.2 59.3h0M83.4 62.3h0M82.1 62.3h0M94.5 77.9h0M86.1 69.6h0M111.4 60.9h0M105.3 67.0h0M93.9 60.4h0M89.2 69.4h0M105.6 63.5h0M93.5 59.8h0M113.8 64.4h0M83.6 61.4h0M106.7 64.7h0M103.4 71.6h0M85.1 72.7h0M94.8 58.7h0M90.6 68.7h0M84.8 57.0h0M114.1 76.3h0M90.3 49.7h0M85.1 77.7h0M89.3 76.3h0M86.5 73.2h0M108.3 78.6h0M101.7 57.0h0M93.9 59.4h0M86.2 56.5h0M95.5 64.5h0M97.0 58.4h0M101.4 76.3h0M98.2 78.2h0M124.7 78.0h0M107.9 74.3h0M91.1 78.5h0M93.5 64.6h0M88.6 78.2h0M100.3 73.1h0M87.8 62.7h0M102.4 73.9h0M92.1 70.5h0M89.4 80.3h0M112.4 71.1h0M96.7 73.6h0M103.3 66.0h0M105.7 72.2h0M91.9 61.9h0M98.1 71.4h0M112.6 67.9h0M93.9 56.5h0M84.8 59.8h0M83.4 82.4h0M112.6 62.7h0M106.0 55.0h0M109.8 77.2h0M93.2 61.3h0M94.6 60.6h0M108.2 73.5h0M94.3 67.7h0M111.9 62.2h0M90.8 60.2h0M100.0 71.5h0M107.2 56.2h0M98.2 73.1h0M94.5 63.2h0M121.2 60.7h0M92.6 62.0h0M99.0 54.0h0M88.5 70.7h0M90.2 75.1h0M80.6 49.1h0M93.2 78.3h0M87.4 55.4h0M88.9 64.5h0M112.2 71.1h0M112.5 68.6h0M82.3 73.3h0M98.0 78.1h0M103.1 55.7h0M97.8 70.8h0M107.8 78.9h0M98.5 65.9h0M108.3 66.1h0M105.7 79.4h0M92.1 53.5h0M109.7 75.5h0M100.8 69.4h0M99.4 79.9h0M101.9 62.1h0M99.8 69.5h0M104.9 60.2h0M87.9 73.6h0M90.2 65.8h0M97.0 57.4h0M105.6 70.5h0M95.0 70.0h0M106.4 67.6h0M99.7 75.2h0M105.1 54.7h0M109.8 56.3h0M88.1 64.8h0M90.3 66.9h0M98.0 61.5h0M109.9 67.1h0M91.6 75.4h0M93.9 78.2h0M92.4 60.9h0M85.6 67.7h0M112.4 61.5h0M103.6 62.9h0M96.5 72.7h0M102.6 49.5h0M98.1 73.1h0M92.1 54.7h0M80.9 64.8h0M86.2 61.3h0M86.8 68.8h0M99.5 71.3h0M90.8 59.2h0M107.9 63.4h0M94.6 55.9h0M90.2 53.9h0M94.1 60.0h0M92.3 53.0h0M92.7 55.6h0M106.5 76.3h0M80.6 67.2h0M83.1 53.6h0M98.1 61.2h0M88.5 69.4h0M87.0 73.6h0M105.7 70.3h0M82.8 66.7h0M86.0 69.1h0M93.2 52.2h0M105.2 56.7h0M96.1 79.9h0M89.5 55.5h0M100.9 59.0h0M95.8 69.3h0M113.4 76.4h0M98.5 75.8h0M98.4 77.4h0M101.0 84.8h0M108.2 70.9h0M99.1 79.4h0M109.4 72.1h0M110.6 76.8h0M109.0 83.6h0M97.3 77.9h0M104.8 73.9h0M100.2 74.9h0M97.0 77.9h0M109.2 77.3h0M99.6 73.8h0M112.8 83.6h0M112.5 73.2h0M106.7 79.8h0M106.3 83.2h0M110.4 80.7h0M102.3 72.8h0M101.8 76.3h0M105.5 78.4h0M100.0 80.5h0M96.8 79.4h0M102.9 79.7h0M103.9 72.9h0M107.0 76.0h0M104.8 80.5h0M105.4 78.7h0M105.7 83.5h0M99.0 74.5h0M112.6 74.2h0M108.5 77.6h0M97.1 71.8h0M105.9 83.7h0M110.4 77.6h0M107.5 74.6h0M102.2 81.2h0M104.0 77.3h0M101.4 86.2h0M115.3 80.0h0M109.0 85.7h0M107.8 70.4h0M112.4 81.0h0M114.8 77.1h0M109.9 78.7h0M98.9 74.8h0M100.5 82.7h0M103.5 78.6h0M111.1 82.1h0M105.2 78.9h0M108.3 70.8h0M112.4 80.7h0M100.9 72.8h0M104.5 76.8h0M106.1 73.3h0M115.7 80.0h0M105.2 74.2h0M105.7 71.3h0M111.6 71.4h0M102.9 76.1h0M98.5 70.8h0M101.1 82.9h0M113.4 85.3h0M108.3 74.2h0M99.4 80.7h0M108.8 82.2h0M98.1 69.1h0M100.2 78.3h0M94.5 74.7h0M104.8 70.0h0M106.3 70.2h0M113.0 78.0h0M108.5 77.9h0M112.9 85.0h0M102.1 75.8h0M104.9 78.9h0M112.8 80.4h0M103.1 83.2h0M106.2 76.9h0M103.8 82.4h0M97.7 77.5h0M105.6 71.5h0M106.3 77.9h0M110.8 84.3h0M112.3 79.5h0M114.8 79.0h0M100.0 79.1h0M100.7 72.3h0M101.2 86.5h0M110.5 80.5h0M110.5 77.7h0M102.5 79.4h0M113.8 75.4h0M103.6 77.0h0M108.7 73.3h0M109.7 80.6h0M112.9 72.3h0M108.4 85.7h0M101.8 82.7h0M107.0 73.7h0M117.9 81.5h0M118.4 79.4h0M100.4 82.6h0M102.5 83.0h0M105.8 72.4h0M100.2 81.9h0M106.5 79.1h0M115.3 75.2h0M103.0 75.0h0M102.6 82.4h0M115.8 75.2h0M97.8 77.5h0M108.1 71.5h0M114.2 75.7h0M104.6 85.4h0M101.4 75.3h0M110.3 83.0h0M103.0 75.7h0M108.3 77.4h0M102.0 73.5h0M117.6 80.5h0M100.8 75.6h0M105.5 84.6h0M102.7 79.9h0M99.0 80.8h0M111.2 72.1h0M108.4 69.0h0M103.6 84.7h0M104.0 80.1h0M110.9 75.6h0M96.5 78.1h0M109.4 77.5h0M110.9 74.2h0M99.0 80.1h0M107.7 80.7h0M105.2 83.4h0M114.3 73.5h0M107.6 76.1h0M99.6 84.5h0M110.8 72.4h0M107.4 84.7h0M97.5 79.5h0M112.2 79.7h0M100.9 80.0h0M105.2 80.3h0M97.9 79.7h0M104.4 75.5h0M99.5 76.3h0M101.5 75.3h0M107.4 78.1h0M103.7 75.2h0M98.3 73.1h0M116.7 76.7h0M105.0 75.8h0M114.0 83.4h0M112.0 75.0h0M109.3 82.1h0M114.3 78.5h0M98.1 76.9h0M103.0 80.4h0M100.5 80.4h0M112.9 78.4h0M99.1 78.3h0M100.0 76.3h0M102.0 75.0h0M104.7 84.8h0M108.0 77.9h0M108.6 70.8h0M110.0 71.2h0M101.6 75.8h0M110.3 78.4h0M103.3 86.5h0M112.1 72.2h0M101.5 80.8h0M96.9 80.7h0M113.4 83.1h0M106.7 73.8h0M98.7 80.6h0M116.3 77.7h0M107.8 71.3h0M101.8 74.3h0M109.2 84.2h0M105.7 73.9h0M109.0 85.4h0M102.9 81.3h0M108.2 70.6h0M112.5 75.0h0M106.6 84.0h0M100.4 74.0h0M97.5 76.3h0M113.2 75.1h0M108.9 85.5h0M114.7 82.0h0M114.4 78.3h0M103.1 81.7h0M98.4 74.4h0M102.9 84.3h0M80.7 59.2h0M92.6 60.5h0M83.9 65.6h0M87.8 60.7h0M86.9 57.5h0M89.8 65.7h0M82.8 57.7h0M90.2 67.0h0M90.4 58.6h0M80.6 60.2h0M97.3 65.2h0M87.5 59.9h0M87.7 63.5h0M95.0 60.3h0M90.3 62.3h0M83.7 62.6h0M97.2 63.3h0M96.9 57.5h0M85.0 55.9h0M97.9 60.2h0M79.5 58.3h0M89.1 66.3h0M84.7 62.4h0M101.2 63.3h0M84.9 60.0h0M93.0 63.0h0M84.5 64.0h0M95.7 67.4h0M98.0 63.7h0M95.3 64.0h0M91.2 68.6h0M81.0 61.7h0M93.1 63.8h0M74.7 57.6h0M91.0 59.9h0M90.8 62.2h0M83.5 61.5h0M89.6 59.8h0M90.2 67.5h0M90.9 70.6h0M86.9 57.3h0M94.7 64.0h0M90.2 55.6h0M97.9 60.2h0M91.1 55.8h0M88.4 56.6h0M87.0 59.3h0M84.2 57.7h0M94.2 59.6h0M96.8 55.1h0M91.1 59.9h0M90.3 62.0h0M88.6 55.3h0M92.3 63.8h0M91.6 70.0h0M94.8 62.4h0M89.6 57.7h0M94.5 65.2h0M88.5 61.0h0M91.4 61.8h0M95.3 57.8h0M91.0 54.7h0M92.9 60.7h0M94.6 57.3h0M84.4 56.7h0M91.8 60.3h0M89.9 68.1h0M95.2 61.7h0M96.0 60.9h0M93.9 55.6h0M80.7 65.4h0M82.8 56.6h0M90.8 56.4h0M89.3 67.5h0M87.2 63.2h0M90.9 66.0h0M81.0 61.3h0M88.9 57.8h0M87.8 55.7h0M89.2 59.7h0M90.5 55.1h0M95.2 66.0h0M91.4 60.4h0M95.1 61.7h0M99.4 52.6h0M83.7 63.9h0M96.2 63.8h0M87.9 53.9h0M92.6 66.4h0M84.7 54.4h0M94.3 60.6h0M98.7 61.8h0M91.9 67.3h0M86.7 67.4h0M88.3 54.5h0M85.5 63.6h0M94.7 64.7h0M78.5 62.8h0M90.5 65.9h0M77.6 60.2h0M88.3 65.5h0M86.0 59.3h0M93.5 60.1h0M85.9 59.8h0M90.1 59.2h0M94.0 63.9h0M97.0 56.8h0M97.9 62.7h0M82.7 60.7h0M88.1 68.0h0M84.2 65.1h0M95.7 62.9h0M82.4 63.2h0M90.1 59.6h0M96.0 62.9h0M90.4 66.5h0M97.0 63.5h0M87.6 55.8h0M89.4 67.6h0M93.6 58.1h0M83.4 64.7h0M84.5 63.5h0M92.7 64.5h0M89.7 67.6h0M87.1 67.2h0M96.4 60.5h0M92.9 55.0h0M91.6 56.5h0M90.3 64.8h0M81.9 58.1h0M87.4 63.8h0M84.0 55.6h0M91.5 60.9h0M86.7 63.5h0M86.1 67.3h0M97.5 64.0h0M88.2 55.1h0M82.8 59.5h0M92.4 65.9h0M95.3 56.8h0M95.0 60.0h0M87.7 68.7h0M86.9 62.8h0M93.3 60.3h0M92.2 62.0h0M96.3 58.3h0M84.0 62.0h0M84.7 58.4h0M96.9 66.8h0M94.8 61.4h0M90.2 58.3h0M84.7 61.6h0M89.3 60.4h0M88.7 68.4h0M89.0 58.6h0M90.3 65.0h0M97.0 61.2h0M94.2 66.6h0M93.4 55.9h0M109.9 84.6h0M110.4 80.7h0M109.1 84.0h0M115.7 78.3h0M116.1 81.2h0M111.7 85.0h0M114.2 80.9h0M111.7 85.2h0M114.1 85.5h0M112.4 80.5h0M112.4 83.1h0M111.8 78.5h0M111.6 79.5h0M109.4 80.8h0M117.0 79.6h0M110.0 83.9h0M112.7 80.3h0M116.8 82.8h0M109.9 83.7h0M115.3 85.6h0M114.6 79.9h0M117.6 80.8h0M119.6 79.8h0M108.3 78.4h0M109.1 80.0h0M117.9 85.5h0M111.0 78.9h0M110.0 84.5h0M111.6 82.9h0M111.0 85.2h0M116.6 83.5h0M111.2 79.0h0M108.2 81.3h0M111.4 84.1h0M108.8 84.5h0M116.1 84.6h0M112.2 81.9h0M111.8 83.9h0M116.3 79.4h0M114.6 82.4h0M115.4 78.4h0M109.8 84.7h0M113.4 78.2h0M112.1 78.0h0M116.0 82.2h0M108.6 82.5h0M109.8 78.9h0M116.0 83.1h0M115.3 82.3h0M110.7 82.4h0M111.7 85.8h0M109.2 81.6h0M111.4 80.8h0" stroke="#2b2b9b" stroke-width="1.3" stroke-linecap="round" fill="none" opacity="0.85"/>
<path d="M97.1 81.6h0M107.4 66.1h0M106.5 66.2h0M111.6 62.6h0M117.1 71.0h0M92.8 72.7h0M115.9 70.9h0M114.8 80.8h0M87.0 67.6h0M96.2 79.6h0M108.8 71.7h0M88.5 72.8h0M114.4 71.6h0M83.7 71.6h0M114.6 68.2h0M95.9 82.9h0M90.8 63.6h0M97.5 72.2h0M89.6 74.4h0M95.8 71.6h0M102.1 64.7h0M89.1 73.3h0M97.4 78.6h0M107.3 54.7h0M97.7 76.3h0M119.2 69.2h0M106.1 57.6h0M93.3 58.0h0M111.1 62.7h0M109.3 69.1h0M76.2 60.9h0M99.4 72.4h0M111.5 61.6h0M93.1 58.8h0M103.1 70.3h0M105.4 74.7h0M81.2 68.5h0M87.9 59.8h0M102.6 67.7h0M109.5 65.6h0M81.0 63.4h0M76.9 69.0h0M96.2 66.1h0M92.4 80.0h0M88.0 73.6h0M100.1 64.0h0M107.9 78.0h0M96.6 78.0h0M87.7 59.5h0M98.9 59.2h0M93.3 63.6h0M100.3 70.9h0M103.1 65.3h0M99.7 58.5h0M86.9 68.7h0M90.6 59.8h0M97.2 68.2h0M76.1 61.2h0M104.6 59.1h0M90.4 61.8h0M94.1 79.4h0M87.1 71.1h0M102.3 66.4h0M106.8 78.9h0M88.6 59.4h0M94.8 77.3h0M94.4 62.5h0M101.1 69.1h0M102.8 66.8h0M104.2 59.3h0M88.3 72.8h0M108.5 77.4h0M85.9 64.7h0M111.8 67.9h0M102.5 80.2h0M95.7 58.7h0M85.2 72.3h0M94.1 66.8h0M89.2 68.5h0M111.1 65.2h0M94.3 67.7h0M87.1 69.1h0M106.0 58.8h0M102.0 62.6h0M105.8 66.9h0M95.0 64.7h0M85.0 65.5h0M82.1 65.1h0M89.5 79.9h0M112.2 72.4h0M107.8 58.2h0M93.5 60.0h0M84.9 56.1h0M88.6 63.7h0M90.4 58.0h0M83.1 69.8h0M88.3 68.6h0M93.8 63.8h0M108.2 58.2h0M95.0 69.0h0M94.1 58.3h0M106.4 74.2h0M93.7 67.7h0M96.4 57.1h0M97.6 75.3h0M90.7 55.1h0M109.2 76.7h0M108.4 58.0h0M104.7 80.0h0M85.7 70.4h0M109.8 70.3h0M95.6 81.3h0M77.2 60.8h0M76.0 55.7h0M87.6 72.2h0M89.9 56.4h0M93.4 48.4h0M84.0 71.6h0M113.4 70.3h0M90.4 60.8h0M107.7 62.2h0M106.5 59.9h0M107.7 64.2h0M102.8 79.5h0M92.5 56.4h0M85.8 66.7h0M85.4 61.8h0M107.4 86.6h0M101.2 80.8h0M95.2 76.9h0M78.9 74.1h0M110.1 61.9h0M104.7 54.7h0M93.7 69.1h0M98.0 81.5h0M102.4 79.7h0M109.0 69.2h0M94.5 65.7h0M89.4 74.0h0M102.2 56.7h0M92.0 58.2h0M87.4 62.1h0M114.1 72.4h0M104.9 60.6h0M104.1 63.3h0M87.5 61.3h0M91.4 71.0h0M109.0 75.0h0M91.8 76.7h0M90.5 75.0h0M95.9 55.1h0M87.2 75.8h0M92.7 69.8h0M109.1 77.9h0M111.9 72.4h0M100.7 56.7h0M104.3 72.6h0M113.1 67.4h0M93.2 67.1h0M90.3 56.3h0M91.1 63.5h0M86.7 75.0h0M104.9 62.5h0M92.8 77.2h0M101.1 80.4h0M87.0 55.5h0M85.8 73.5h0M93.1 74.7h0M111.6 62.6h0M113.0 66.8h0M84.7 62.5h0M95.2 62.9h0M91.5 62.9h0M115.5 72.4h0M111.1 84.5h0M112.6 78.5h0M102.4 78.6h0M104.6 76.1h0M109.5 81.2h0M106.2 84.3h0M106.7 84.1h0M114.9 74.5h0M114.1 73.7h0M113.0 76.0h0M106.7 84.3h0M111.1 77.1h0M107.9 79.2h0M114.5 75.9h0M101.3 81.5h0M100.1 76.8h0M108.7 84.8h0M102.0 75.1h0M114.4 78.7h0M106.3 75.6h0M108.7 73.8h0M112.7 84.0h0M106.8 78.0h0M99.8 74.8h0M109.8 75.8h0M101.1 78.0h0M105.6 83.6h0M110.6 75.8h0M112.3 82.6h0M101.4 82.7h0M106.1 88.1h0M108.8 83.5h0M116.2 80.7h0M107.8 83.6h0M115.6 80.1h0M100.6 78.2h0M113.1 80.3h0M115.2 75.8h0M114.7 79.3h0M87.2 61.7h0M96.8 58.2h0M94.2 57.2h0M88.5 65.7h0M87.7 67.5h0M88.0 57.9h0M87.9 66.7h0M83.9 59.8h0M94.0 60.1h0M92.2 55.6h0M91.6 57.7h0M93.2 55.8h0M89.9 69.9h0M84.1 56.4h0M86.8 58.0h0M97.1 63.8h0M91.2 55.0h0M92.3 64.3h0M82.8 58.9h0M88.7 58.3h0M98.0 62.2h0M96.0 60.5h0M91.5 67.0h0M93.1 64.4h0M84.6 67.1h0M88.7 53.5h0M83.4 59.2h0M91.5 65.1h0M90.7 68.4h0M84.8 72.6h0M95.0 63.3h0M98.9 56.1h0M90.1 59.4h0M84.5 56.9h0M99.9 60.0h0M90.0 64.2h0M95.8 55.2h0M86.5 56.3h0M92.2 59.4h0M95.0 65.8h0M92.8 58.2h0M94.9 55.8h0M111.5 83.9h0M111.5 79.9h0M116.8 80.4h0M113.0 83.7h0M116.6 84.6h0M109.5 80.5h0M108.8 83.6h0M115.0 78.5h0M116.3 82.9h0M114.3 85.6h0M115.9 80.3h0M111.5 82.4h0M116.7 83.8h0M111.5 85.9h0M115.3 84.5h0M110.2 85.9h0M116.7 81.8h0" stroke="#6a6ab9" stroke-width="1.3" stroke-linecap="round" fill="none" opacity="0.85"/>
<path d="M108.5 79.1h0M93.4 59.2h0M103.7 71.2h0M100.3 68.7h0M97.2 69.0h0M90.5 80.5h0M102.0 80.0h0M106.4 54.6h0M112.0 72.1h0M89.2 54.5h0M95.8 67.5h0M88.4 69.0h0M85.3 59.3h0M106.8 59.3h0M89.4 75.1h0M98.9 59.7h0M107.7 74.0h0M96.8 69.1h0M105.4 67.4h0M95.0 54.8h0M106.6 80.9h0M80.4 62.1h0M109.5 60.4h0M85.6 70.3h0M89.0 60.4h0M97.2 55.5h0M95.9 68.9h0M104.7 55.5h0M98.6 66.0h0M107.0 55.9h0M86.5 59.1h0M94.7 65.0h0M87.8 68.0h0M102.1 73.5h0M100.1 77.3h0M97.2 57.4h0M90.9 51.4h0M99.5 75.5h0M97.0 71.2h0M103.4 71.3h0M94.7 67.7h0M86.5 65.4h0M115.4 66.3h0M75.6 55.9h0M107.0 71.0h0M88.5 74.6h0M106.3 57.4h0M100.3 64.8h0M109.1 64.7h0M105.9 69.5h0M95.8 79.2h0M111.4 64.6h0M111.5 63.6h0M106.8 54.9h0M93.3 69.7h0M111.5 73.7h0M84.8 63.3h0M83.4 76.1h0M109.4 59.1h0M106.3 66.5h0M106.2 58.3h0M106.4 78.2h0M94.7 64.8h0M90.2 64.8h0M97.8 70.5h0M101.3 80.2h0M101.2 56.6h0M89.9 58.1h0M110.2 73.2h0M92.0 62.7h0M88.6 70.2h0M93.7 73.6h0M104.2 63.4h0M98.6 77.8h0M96.1 77.4h0M87.4 60.2h0M101.1 53.7h0M88.6 74.5h0M95.1 71.5h0M81.3 67.4h0M96.2 70.2h0M98.9 71.8h0M100.6 63.7h0M113.2 77.2h0M97.1 68.5h0M97.1 67.0h0M100.8 55.9h0M95.8 70.8h0M95.4 62.0h0M115.2 74.4h0M91.0 73.4h0M114.2 65.8h0M87.7 72.7h0M99.1 80.3h0M87.4 61.3h0M91.5 59.4h0M93.8 70.6h0M105.4 54.4h0M94.5 57.5h0M109.8 67.0h0M95.0 68.4h0M88.3 56.9h0M104.1 80.5h0M98.2 74.0h0M83.1 60.6h0M90.7 58.6h0M89.5 75.6h0M100.4 57.3h0M119.3 77.6h0M96.6 60.8h0M85.0 65.8h0M97.0 61.1h0M90.5 71.0h0M80.8 68.8h0M112.6 72.5h0M107.8 76.0h0M102.6 66.6h0M96.7 55.0h0M100.3 61.2h0M96.3 52.7h0M98.0 70.8h0M105.9 82.8h0M98.8 57.6h0M96.5 70.7h0M106.2 64.1h0M106.4 60.9h0M113.2 69.8h0M88.3 62.7h0M95.6 59.9h0M98.1 85.0h0M102.8 80.4h0M93.9 76.0h0M102.1 69.7h0M106.1 67.1h0M113.5 63.8h0M109.6 71.1h0M111.9 60.8h0M99.2 76.4h0M96.7 77.6h0M107.1 71.6h0M97.5 61.3h0M104.5 61.0h0M108.5 75.1h0M99.8 73.6h0M109.8 58.6h0M91.7 59.5h0M99.7 58.1h0M84.6 66.5h0M111.5 65.7h0M96.1 63.4h0M92.7 74.8h0M97.3 68.0h0M81.5 67.8h0M99.1 68.2h0M104.2 62.3h0M84.5 64.6h0M82.3 67.7h0M90.1 71.7h0M113.6 73.6h0M85.2 61.9h0M96.4 76.4h0M90.3 60.2h0M94.5 64.3h0M105.6 62.0h0M115.4 68.0h0M96.9 58.6h0M107.3 59.3h0M109.4 61.3h0M107.1 73.9h0M105.2 63.2h0M107.3 74.6h0M101.6 73.5h0M83.0 66.1h0M114.2 65.0h0M98.0 64.0h0M108.3 57.3h0M92.5 56.8h0M102.3 74.9h0M104.6 80.6h0M112.9 71.5h0M95.5 67.7h0M102.7 57.3h0M106.5 61.0h0M93.6 77.9h0M104.7 74.7h0M113.4 63.8h0M81.3 73.5h0M95.9 77.5h0M74.8 71.9h0M83.2 54.3h0M121.4 60.2h0M104.6 62.3h0M97.9 75.2h0M97.1 73.9h0M108.5 61.8h0M111.0 74.1h0M81.4 67.9h0M101.3 63.3h0M97.6 72.7h0M109.5 62.6h0M89.1 58.9h0M81.4 66.1h0M87.2 60.2h0M84.2 65.4h0M97.0 65.8h0M94.3 74.2h0M106.6 58.1h0M100.9 78.9h0M115.4 76.8h0M106.2 72.5h0M107.8 68.7h0M98.8 78.9h0M103.1 82.6h0M114.3 76.1h0M110.6 75.0h0M109.6 88.9h0M102.8 79.2h0M107.0 77.2h0M111.7 80.3h0M108.2 72.4h0M100.8 74.5h0M103.2 75.3h0M109.9 83.2h0M104.4 72.4h0M115.6 80.2h0M111.8 78.6h0M107.0 82.1h0M106.7 80.4h0M115.9 80.0h0M112.1 81.0h0M100.8 80.5h0M104.9 84.3h0M102.9 80.8h0M107.1 86.4h0M110.8 72.2h0M101.2 80.8h0M106.0 80.9h0M98.9 77.4h0M111.3 82.2h0M109.4 73.6h0M111.0 74.3h0M105.3 80.5h0M106.4 69.5h0M103.2 85.1h0M94.7 76.3h0M108.4 82.4h0M101.9 75.6h0M107.2 72.6h0M103.9 73.5h0M109.1 70.6h0M111.4 79.7h0M104.6 74.6h0M113.5 74.0h0M110.9 81.3h0M97.5 75.8h0M108.3 82.1h0M109.6 85.3h0M109.5 78.5h0M104.9 72.8h0M110.5 81.7h0M112.8 73.3h0M107.6 85.6h0M111.6 78.0h0M113.8 81.7h0M97.7 57.2h0M94.1 64.6h0M85.9 64.6h0M92.4 63.0h0M83.9 57.4h0M88.8 62.6h0M86.9 59.1h0M89.9 56.8h0M94.3 58.0h0M96.1 63.7h0M87.9 61.2h0M100.7 58.6h0M82.4 62.6h0M93.6 56.9h0M97.5 59.8h0M95.5 63.0h0M84.8 55.8h0M96.5 68.7h0M93.5 56.4h0M93.9 54.0h0M93.0 59.1h0M100.7 62.4h0M83.4 62.8h0M84.1 62.6h0M88.5 61.0h0M90.1 57.2h0M94.3 56.1h0M93.5 56.2h0M95.1 56.7h0M85.8 59.7h0M95.5 61.1h0M93.6 54.9h0M85.7 65.4h0M85.5 61.2h0M89.4 63.0h0M94.8 66.6h0M85.7 59.2h0M98.4 69.0h0M87.9 59.0h0M90.6 58.1h0M87.3 61.3h0M90.7 58.4h0M91.1 67.2h0M96.7 57.8h0M98.3 54.2h0M93.1 60.8h0M88.3 59.2h0M97.8 53.9h0M85.5 59.1h0M83.9 64.0h0M87.1 53.7h0M81.5 62.3h0M87.5 64.2h0M90.7 61.0h0M85.8 54.9h0M96.9 63.9h0M84.4 58.2h0M95.1 66.8h0M92.6 60.8h0M85.9 54.0h0M88.1 57.1h0M94.2 56.2h0M116.4 79.3h0M109.7 84.8h0M115.2 79.7h0M111.7 85.6h0M110.2 81.3h0M109.4 79.4h0M107.3 81.6h0M114.1 84.7h0M114.9 84.5h0M109.3 77.8h0M113.1 84.7h0M111.5 84.8h0M117.6 83.1h0M109.5 83.3h0M110.1 84.2h0M115.2 81.0h0M112.2 80.9h0M114.2 80.1h0M111.4 85.0h0M108.5 83.0h0M113.5 81.1h0M109.8 80.8h0M115.3 81.6h0M109.2 82.0h0" stroke="#242483" stroke-width="1.3" stroke-linecap="round" fill="none" opacity="0.85"/>
<path d="M94.1 82.4h0M84.4 79.8h0M88.9 83.7h0M94.0 90.5h0M86.4 81.1h0M90.5 77.0h0M88.5 85.8h0M81.0 85.8h0M95.8 76.3h0M86.6 93.6h0M97.6 85.5h0M85.6 84.6h0M90.2 83.4h0M91.1 76.4h0M78.6 81.1h0M86.0 86.8h0M88.3 83.3h0M84.9 83.7h0M87.0 99.9h0M94.2 81.4h0M90.5 90.2h0M87.0 79.5h0M88.9 84.5h0M95.8 76.3h0M88.0 93.8h0M85.0 78.4h0M87.1 86.3h0M94.3 80.0h0M82.6 88.1h0M88.2 94.5h0M87.6 77.0h0M81.2 81.0h0M88.8 89.3h0M94.2 93.0h0M95.2 91.7h0M87.2 90.4h0M80.5 84.6h0M84.0 89.2h0M88.0 85.8h0M88.7 82.5h0M83.4 82.6h0M95.2 89.8h0M80.6 93.4h0M91.6 77.9h0M88.7 75.7h0M95.1 92.8h0M80.8 83.4h0M81.0 81.3h0M96.1 89.6h0M87.0 83.2h0M92.2 93.0h0M86.2 75.8h0M85.9 78.8h0M87.0 94.2h0M96.2 86.3h0M87.5 77.3h0M84.1 77.2h0M86.0 86.5h0M85.2 76.2h0M85.1 87.3h0M84.6 91.3h0M83.6 91.6h0M89.7 74.8h0M87.0 88.8h0M84.1 80.7h0M84.6 78.0h0M90.5 91.0h0M90.0 90.2h0M80.7 82.9h0M88.3 79.5h0M81.8 77.2h0M83.3 82.6h0M85.4 75.6h0M94.5 79.1h0M86.5 75.4h0M88.9 88.6h0M84.4 90.4h0M89.2 78.7h0M92.5 82.1h0M89.3 87.4h0M93.2 93.5h0M80.6 95.8h0M92.6 88.3h0M89.1 78.4h0M95.9 82.9h0M84.2 91.1h0M90.1 80.5h0M93.5 85.3h0M84.1 78.1h0M86.3 86.1h0M84.5 85.9h0M89.2 90.6h0M94.7 86.4h0M94.5 84.4h0M89.5 85.6h0M91.7 79.8h0M88.0 79.6h0M88.2 85.7h0M85.4 82.6h0M91.0 89.0h0M95.6 86.7h0M89.6 92.7h0M86.0 93.2h0M84.3 101.9h0M83.7 93.9h0M82.0 99.7h0M79.7 101.6h0M78.4 101.8h0M79.1 97.4h0M77.5 92.2h0M83.8 99.4h0M74.9 94.1h0M76.4 96.2h0M81.5 102.6h0M87.0 102.5h0M85.3 97.5h0M80.5 103.9h0M76.8 97.3h0M80.7 96.1h0M81.3 103.9h0M78.3 94.2h0M81.4 96.3h0M77.8 99.2h0M81.3 103.0h0M77.2 93.3h0M82.1 98.4h0M81.1 99.5h0M80.9 92.1h0M76.5 102.8h0M84.2 100.7h0M77.9 104.2h0M76.1 101.9h0M79.1 94.6h0M83.0 96.7h0M75.8 100.7h0M73.2 99.8h0M77.1 98.0h0M75.3 101.3h0M76.1 100.9h0M76.7 102.1h0" stroke="#6870c8" stroke-width="1.3" stroke-linecap="round" fill="none" opacity="0.85"/>
<path d="M90.5 79.9h0M86.5 91.5h0M95.5 82.7h0M83.8 89.3h0M94.6 83.5h0M87.9 80.9h0M94.9 78.7h0M85.0 90.9h0M81.8 92.3h0M93.3 82.9h0M89.3 96.1h0M85.0 93.1h0M80.9 89.0h0M85.9 91.7h0M82.0 79.7h0M83.6 91.8h0M81.4 89.1h0M88.2 77.7h0M88.5 88.0h0M92.2 84.8h0M96.3 86.0h0M88.4 93.0h0M88.2 91.4h0M93.5 79.2h0M94.3 86.3h0M89.0 98.9h0M84.5 82.1h0M80.5 94.7h0M82.6 79.5h0M88.7 94.3h0M80.6 92.7h0M92.1 98.1h0M92.6 84.8h0M88.2 87.5h0M78.8 94.3h0M77.3 97.2h0M85.7 96.1h0M76.6 101.3h0M84.2 100.8h0M81.9 93.5h0M75.5 99.0h0M78.4 95.3h0M88.2 90.7h0M81.3 97.6h0M79.7 93.4h0M76.4 89.3h0M78.6 95.7h0M76.5 103.1h0M77.6 104.4h0M81.1 102.8h0M78.6 103.5h0M75.7 101.5h0M85.6 94.6h0M76.5 103.2h0M83.6 99.7h0" stroke="#585faa" stroke-width="1.3" stroke-linecap="round" fill="none" opacity="0.85"/>
<path d="M95.7 78.7h0M86.8 88.0h0M97.4 78.6h0M89.9 71.8h0M93.6 94.5h0M86.5 80.1h0M82.9 85.4h0M84.7 87.6h0M85.2 89.1h0M93.2 82.7h0M90.9 76.6h0M87.9 96.3h0M94.0 90.5h0M82.6 81.7h0M79.6 97.1h0M82.8 101.7h0M81.1 98.3h0M78.4 97.0h0M81.3 100.5h0M71.6 98.6h0M76.6 91.6h0M77.3 101.7h0" stroke="#959ad8" stroke-width="1.3" stroke-linecap="round" fill="none" opacity="0.85"/>
<path d="M76.8 103.4h0M71.1 108.2h0M67.2 118.3h0M73.4 118.5h0M67.3 119.4h0M71.0 123.6h0M72.9 122.9h0M63.9 121.0h0M82.7 115.4h0M77.9 110.1h0M77.8 121.6h0M89.6 115.5h0M82.6 110.7h0M76.8 105.8h0M73.1 106.7h0M87.2 109.2h0M60.9 119.1h0M57.6 108.6h0M62.0 116.6h0M86.4 109.2h0M76.2 112.9h0M71.6 113.2h0M63.7 117.4h0M78.1 112.4h0M71.5 111.9h0M67.8 108.4h0M43.2 115.0h0M78.7 120.4h0M79.2 113.0h0M57.7 118.1h0M90.3 117.7h0M70.8 113.7h0M69.1 107.6h0M64.8 112.5h0M75.0 122.2h0M66.8 114.0h0M63.7 118.4h0M60.6 114.9h0M76.4 119.2h0M86.1 118.3h0M70.2 124.2h0M64.1 110.6h0M64.7 114.1h0M57.8 109.7h0M58.5 110.3h0M56.9 117.1h0M85.0 113.4h0M58.8 112.2h0M43.4 111.0h0M94.6 104.9h0M61.8 107.5h0M61.9 108.8h0M66.8 123.1h0M74.6 116.9h0M81.2 116.1h0M72.1 120.3h0M65.4 110.9h0M71.9 111.9h0M51.7 113.5h0M70.4 110.1h0M77.1 113.7h0M61.0 120.6h0M80.2 116.8h0M77.8 118.2h0M75.3 112.0h0M81.1 122.1h0M88.2 114.5h0M72.9 116.1h0M71.5 108.9h0M61.0 107.2h0M83.2 113.0h0M64.4 112.1h0M84.3 115.0h0M68.2 123.0h0M73.0 121.5h0M69.2 118.4h0M88.0 110.3h0M61.0 106.6h0M68.6 108.6h0M85.6 111.3h0M54.5 112.6h0M66.3 114.2h0M51.8 113.1h0M86.8 110.3h0M68.8 117.6h0M87.6 113.7h0M82.5 117.0h0M68.9 111.8h0M75.6 108.1h0M54.0 117.6h0M60.8 107.7h0M61.8 113.9h0M78.1 117.8h0M81.8 115.8h0M82.7 117.8h0M53.6 112.4h0M72.2 107.3h0M74.5 107.5h0M74.0 118.9h0M80.9 109.3h0M56.5 119.2h0M75.6 123.1h0M68.3 109.6h0M68.5 116.7h0M65.7 116.9h0M66.0 112.2h0M55.5 105.7h0M68.0 110.8h0M70.5 118.2h0M85.5 110.7h0M62.3 106.8h0M48.7 116.2h0M88.6 117.3h0M73.6 110.1h0M67.5 110.6h0M57.7 120.7h0M88.4 113.9h0M47.1 115.6h0M56.6 114.5h0M58.2 119.9h0M64.0 107.3h0M79.3 120.2h0M81.2 120.5h0M79.8 111.5h0M98.1 114.9h0M75.9 114.3h0M68.9 111.0h0M54.7 122.5h0M77.7 122.8h0M57.6 113.6h0M70.8 106.7h0M67.6 119.8h0M86.0 112.2h0M66.6 106.2h0M75.0 114.4h0M87.8 119.0h0M72.1 105.2h0M77.6 109.3h0M90.4 111.5h0M86.7 117.4h0M87.0 114.7h0M52.8 113.7h0M67.8 108.1h0M66.0 117.4h0M77.8 114.7h0M52.9 106.2h0M78.1 108.5h0M64.2 119.5h0M72.4 111.0h0M84.0 108.6h0M61.5 106.7h0M60.7 111.1h0M67.2 113.2h0M72.3 114.4h0M48.5 111.3h0M95.0 114.8h0M60.2 120.2h0M82.4 108.3h0M58.8 120.4h0M63.4 112.8h0M66.0 110.8h0M53.2 114.6h0M79.3 110.5h0M73.2 118.3h0M60.5 108.6h0M78.2 113.1h0M68.8 106.5h0M59.1 117.1h0M76.0 112.9h0M75.8 118.6h0M91.9 112.8h0M82.0 102.0h0M80.4 117.5h0M56.8 109.5h0M65.8 119.3h0M79.1 109.3h0M75.3 116.3h0M75.4 114.3h0M65.2 109.3h0M91.0 104.5h0M83.5 117.5h0M67.3 121.9h0M81.7 115.4h0M74.9 112.8h0M71.3 112.3h0M59.4 119.0h0M75.3 118.0h0M68.6 113.3h0M61.0 115.2h0M67.4 110.0h0M56.7 112.2h0M77.3 120.6h0M69.7 109.5h0M53.7 113.2h0M74.3 110.4h0M74.2 120.8h0M67.2 122.7h0M70.8 121.9h0M72.0 112.0h0M76.1 122.3h0M74.3 111.0h0M86.0 117.5h0M56.4 112.1h0M70.3 120.4h0M65.9 107.4h0M80.0 114.8h0M77.0 119.8h0M67.0 114.6h0M66.3 107.8h0M76.8 108.5h0M75.9 110.6h0M69.7 111.5h0M75.7 118.6h0M80.2 108.0h0M79.8 112.1h0M61.6 112.3h0M80.0 112.4h0M68.1 123.8h0M79.4 105.5h0M63.0 111.6h0M64.1 109.2h0M73.9 107.1h0M71.4 122.8h0M79.0 110.8h0M70.7 114.2h0M87.0 112.2h0M53.1 115.0h0M66.6 114.9h0M82.1 107.8h0M74.4 122.1h0M74.9 115.2h0M77.4 111.9h0M74.9 116.8h0M51.7 111.8h0M70.0 122.6h0M70.9 119.2h0M87.0 118.3h0M66.0 117.0h0M81.4 108.6h0M87.4 112.5h0M85.4 115.9h0M82.0 119.4h0M62.6 113.0h0M77.3 121.0h0M52.8 117.9h0M60.9 111.3h0M69.3 121.3h0M76.6 114.6h0M68.6 116.5h0M90.3 116.6h0M73.1 107.9h0M71.4 105.6h0M70.4 120.0h0M65.0 117.4h0M86.8 109.8h0M79.4 111.1h0M56.5 109.2h0M60.6 120.0h0M91.3 112.8h0M66.6 103.2h0M74.5 119.0h0M68.7 114.4h0M67.5 115.9h0M83.2 107.4h0M69.1 116.9h0M77.1 115.4h0M63.4 106.4h0M87.8 111.2h0M73.8 118.8h0M82.7 111.5h0M62.3 115.7h0M63.0 114.2h0M79.8 110.8h0M85.6 108.6h0M87.8 115.3h0M77.7 105.8h0M53.9 112.2h0M64.1 111.2h0M86.6 114.4h0M76.4 116.3h0M86.8 118.4h0M87.6 120.9h0M67.0 110.4h0M62.2 110.7h0M89.2 111.2h0M82.0 107.6h0M72.9 112.2h0M72.9 118.4h0M59.0 108.8h0M82.4 110.1h0M63.8 112.1h0M72.4 105.1h0M77.8 123.7h0M58.5 118.3h0M63.1 108.0h0M83.0 108.2h0M89.4 114.7h0M75.9 105.6h0M67.3 112.0h0M57.2 115.3h0M78.3 105.7h0M69.1 120.7h0M70.6 119.1h0M70.3 115.8h0M81.1 119.4h0M87.9 115.8h0M80.3 121.7h0M65.6 114.9h0M75.5 115.9h0M58.6 110.9h0M63.2 108.9h0M56.7 120.3h0M89.0 112.3h0M72.7 112.0h0M67.8 122.1h0M56.0 110.6h0M78.5 123.0h0M71.6 110.2h0M84.2 118.8h0M81.6 119.2h0M77.7 116.3h0M84.3 103.5h0M68.3 115.0h0M56.1 110.0h0M76.6 118.2h0M58.5 108.0h0M74.9 122.3h0M84.1 109.0h0M58.7 116.7h0M88.3 114.8h0M57.3 114.3h0M65.3 118.9h0M57.9 113.3h0M75.4 108.0h0M66.6 115.8h0M59.0 106.3h0M85.1 124.8h0M79.0 113.6h0M77.4 106.5h0M80.3 118.6h0M86.0 108.1h0M77.0 114.4h0M55.8 114.8h0M67.0 107.9h0M87.3 120.2h0M69.5 114.2h0M83.3 114.2h0M74.9 105.5h0M73.3 118.3h0M73.9 115.7h0M83.1 107.5h0M63.2 106.1h0M57.5 116.7h0M55.8 111.0h0M68.6 123.0h0M88.1 114.1h0M75.8 112.7h0M77.7 106.7h0M53.1 116.8h0M57.1 112.3h0M65.4 112.9h0M74.0 119.5h0M89.3 112.4h0M98.8 118.4h0M71.3 117.0h0M83.7 118.4h0M64.1 111.2h0M81.8 119.8h0M64.7 106.4h0M83.1 122.0h0M72.7 109.8h0M64.1 107.8h0M75.1 113.8h0M74.3 113.1h0M57.0 108.1h0M70.4 114.5h0M89.3 114.2h0M48.7 115.1h0M77.6 112.3h0M73.9 110.6h0M82.0 107.8h0M55.0 113.9h0M62.8 111.6h0M84.9 121.0h0M75.0 119.7h0M60.3 115.5h0M54.6 111.6h0M74.8 115.1h0M52.0 119.5h0M85.9 118.8h0M72.4 109.9h0M85.6 114.0h0M70.2 113.1h0M56.2 114.2h0M74.7 107.1h0M65.4 107.1h0M59.8 107.8h0M87.4 119.2h0M67.6 122.0h0M84.7 120.6h0M71.6 120.0h0M71.2 118.3h0M57.7 115.5h0M61.0 106.4h0M62.6 120.2h0M60.8 118.1h0M56.2 122.0h0M60.7 110.0h0M63.9 114.7h0M60.9 118.7h0M56.7 120.1h0M54.2 116.1h0M61.6 120.0h0M58.3 116.9h0M56.5 116.8h0M65.0 117.9h0M59.8 121.1h0M64.5 114.3h0M61.9 120.1h0M57.8 121.1h0M60.1 115.9h0M55.7 116.1h0M66.2 111.0h0M62.0 120.2h0M61.5 118.3h0M51.0 116.1h0M62.0 122.0h0M59.0 114.9h0M61.6 116.9h0M54.4 117.8h0M66.0 115.9h0M61.3 112.6h0M55.0 120.4h0M60.9 115.2h0M58.7 120.7h0M65.9 119.3h0M59.0 121.0h0M58.9 116.0h0M64.1 115.5h0M55.3 115.4h0M67.1 118.6h0M61.4 119.6h0M64.6 115.8h0M61.4 116.3h0M62.8 112.7h0M58.9 120.3h0M64.5 117.7h0M63.3 117.6h0M63.9 115.8h0M54.5 118.1h0M64.9 116.2h0M65.3 113.0h0M65.0 115.7h0M54.5 116.7h0M57.1 116.9h0M58.9 117.5h0M65.6 110.4h0M63.1 117.6h0M54.9 113.8h0M57.8 120.9h0M53.6 116.3h0M67.1 118.3h0M55.0 117.9h0M53.6 118.3h0M58.7 118.3h0M60.1 112.6h0M60.1 112.6h0M61.9 117.1h0M54.3 114.8h0M61.1 112.6h0M59.6 115.3h0M57.3 118.8h0M68.5 115.9h0M60.0 113.5h0M59.5 113.2h0M55.2 112.6h0M65.7 112.5h0M63.9 121.5h0M62.8 114.5h0M64.5 113.2h0M62.2 112.7h0M61.9 112.0h0M63.7 113.9h0M56.0 115.1h0M54.6 117.7h0M59.6 122.5h0M63.0 119.6h0M61.3 119.0h0" stroke="#4650bc" stroke-width="1.3" stroke-linecap="round" fill="none" opacity="0.85"/>
<path d="M86.2 121.5h0M62.0 120.0h0M66.5 114.3h0M79.4 109.6h0M72.9 120.6h0M79.7 116.4h0M56.2 117.1h0M71.9 111.0h0M53.4 115.3h0M85.4 113.2h0M78.5 114.1h0M55.7 114.7h0M79.5 121.8h0M70.6 116.5h0M68.2 122.5h0M75.1 117.5h0M75.5 111.8h0M65.9 120.5h0M82.0 118.5h0M79.7 120.7h0M71.9 115.8h0M70.1 109.2h0M75.3 109.2h0M69.1 119.3h0M72.4 125.4h0M76.2 116.1h0M58.3 113.8h0M85.2 115.0h0M84.3 121.5h0M91.2 118.3h0M60.7 115.4h0M62.6 117.7h0M84.1 107.0h0M86.3 112.8h0M66.8 105.3h0M75.3 107.9h0M54.9 118.1h0M49.8 106.7h0M81.8 113.2h0M74.5 114.8h0M80.6 112.8h0M81.3 118.7h0M57.9 114.1h0M92.8 106.1h0M80.2 110.2h0M65.2 115.4h0M86.2 108.8h0M82.8 117.5h0M83.0 116.4h0M60.5 121.1h0M68.4 109.8h0M56.1 112.3h0M60.6 112.1h0M69.5 118.8h0M63.9 117.1h0M97.6 112.5h0M67.6 119.8h0M81.5 121.8h0M72.9 109.3h0M74.7 116.0h0M73.1 112.7h0M76.9 119.3h0M61.0 118.0h0M83.8 113.5h0M90.7 113.3h0M81.1 122.6h0M61.6 105.8h0M74.0 106.1h0M65.1 110.9h0M88.6 117.8h0M68.9 115.5h0M84.6 119.7h0M76.8 122.7h0M85.2 113.7h0M51.7 107.3h0M88.3 115.9h0M73.3 108.5h0M69.3 119.7h0M71.4 105.9h0M84.1 115.4h0M58.9 114.6h0M69.6 121.8h0M69.5 106.7h0M87.9 116.4h0M63.2 115.7h0M75.7 109.7h0M78.5 121.1h0M68.6 114.0h0M82.1 113.5h0M81.3 120.8h0M70.0 115.8h0M75.5 110.7h0M53.3 115.3h0M70.1 121.0h0M56.0 112.0h0M72.3 110.8h0M56.6 110.0h0M54.3 121.8h0M63.9 118.0h0M72.4 121.1h0M69.5 123.2h0M61.0 111.2h0M57.1 113.0h0M73.0 118.0h0M79.0 122.7h0M79.3 120.5h0M60.9 112.1h0M77.9 122.8h0M64.0 118.9h0M73.3 112.8h0M89.2 121.1h0M66.7 122.8h0M51.6 116.0h0M79.7 114.6h0M76.1 122.5h0M57.1 109.6h0M68.1 114.3h0M57.3 116.0h0M66.6 115.1h0M57.3 107.9h0M69.5 102.0h0M76.8 116.1h0M52.9 106.6h0M79.4 114.2h0M72.9 117.5h0M73.1 119.4h0M69.9 109.5h0M82.5 115.2h0M87.8 110.6h0M64.2 112.7h0M53.8 112.8h0M58.1 111.9h0M86.5 109.5h0M72.7 111.0h0M87.4 119.7h0M60.4 108.0h0M63.2 105.9h0M57.8 114.0h0M65.1 113.6h0M61.8 112.9h0M61.4 120.8h0M56.5 112.9h0M55.6 118.4h0M63.6 113.6h0M61.2 123.6h0M57.7 112.7h0M60.7 118.2h0M62.8 112.0h0M60.0 123.4h0M59.8 119.7h0M68.2 117.5h0M58.5 113.8h0M63.9 119.2h0M54.2 118.6h0M63.4 121.4h0M61.3 119.8h0M65.0 115.8h0M64.2 113.3h0M54.8 116.4h0M57.8 119.0h0M61.1 120.4h0M54.5 120.0h0M60.9 115.7h0" stroke="#3b449f" stroke-width="1.3" stroke-linecap="round" fill="none" opacity="0.85"/>
<path d="M64.0 107.0h0M56.2 107.4h0M78.0 107.8h0M67.4 113.6h0M60.7 113.5h0M68.4 113.0h0M89.6 113.5h0M64.9 106.6h0M69.7 109.3h0M60.0 124.2h0M58.7 120.9h0M63.8 120.5h0M66.8 106.6h0M78.8 123.4h0M65.8 120.7h0M57.4 113.5h0M66.5 110.0h0M62.2 118.5h0M79.5 111.8h0M76.5 114.2h0M68.0 114.8h0M77.1 114.3h0M80.0 122.5h0M65.1 108.1h0M55.6 118.8h0M55.1 113.1h0M87.6 116.5h0M70.6 110.6h0M54.0 114.1h0M50.3 117.7h0M70.4 118.1h0M68.9 116.3h0M76.7 115.0h0M65.7 109.2h0M63.7 106.2h0M56.7 109.3h0M85.7 121.4h0M80.9 121.2h0M68.1 114.8h0M74.5 110.4h0M84.8 117.5h0M70.9 121.5h0M74.1 119.2h0M76.8 115.8h0M70.3 111.3h0M60.6 109.5h0M87.9 118.7h0M85.9 115.5h0M58.5 104.2h0M73.6 104.9h0M92.8 115.0h0M76.4 122.0h0M87.2 118.2h0M91.8 120.8h0M91.0 121.7h0M67.4 116.6h0M62.7 117.7h0M79.7 121.9h0M65.1 119.0h0M88.6 118.2h0M71.3 105.6h0M79.6 120.7h0M65.6 117.1h0M65.5 115.4h0M74.7 116.9h0M66.3 112.8h0M82.5 106.3h0M54.1 113.2h0M81.4 114.0h0M84.4 119.2h0M63.6 106.6h0M60.7 113.6h0M77.3 113.3h0M50.1 110.5h0M73.5 116.3h0M69.6 118.9h0M70.5 127.7h0M79.2 106.2h0M85.9 116.6h0M88.7 112.4h0M56.3 103.5h0M75.1 117.5h0M61.5 121.2h0M85.4 110.7h0M74.8 111.5h0M68.7 106.4h0M78.1 111.3h0M71.2 105.3h0M65.4 119.0h0M60.9 108.7h0M77.9 109.0h0M61.0 111.9h0M56.5 109.4h0M70.0 106.6h0M78.1 119.0h0M71.2 121.8h0M58.6 115.1h0M71.5 104.9h0M57.2 118.1h0M79.6 121.6h0M84.7 116.8h0M96.6 115.8h0M67.4 107.0h0M61.9 108.1h0M83.0 114.7h0M57.6 112.7h0M74.4 108.2h0M56.5 108.8h0M68.0 115.5h0M79.7 111.0h0M66.1 121.2h0M88.0 109.7h0M89.4 112.6h0M51.4 114.1h0M54.6 117.7h0M79.5 111.0h0M78.3 117.0h0M74.9 105.2h0M76.3 122.4h0M90.6 114.7h0M73.7 115.5h0M79.0 103.7h0M85.6 120.5h0M85.1 113.2h0M66.0 118.2h0M65.3 116.8h0M57.1 118.4h0M71.6 107.4h0M64.5 106.6h0M54.4 110.9h0M85.1 110.9h0M66.0 116.8h0M57.6 118.5h0M58.6 114.1h0M59.4 120.9h0M56.4 116.0h0M59.4 120.7h0M53.9 119.0h0M57.8 123.8h0M53.5 115.0h0M64.6 120.1h0M58.0 118.0h0M63.9 115.6h0M57.7 115.9h0M60.2 123.9h0M63.0 113.2h0M58.4 112.1h0M56.1 120.2h0M55.4 116.4h0M64.2 118.2h0M63.4 115.4h0M55.9 114.2h0" stroke="#7d84d0" stroke-width="1.3" stroke-linecap="round" fill="none" opacity="0.85"/>
<path d="M85.2 106.4h0M85.0 104.8h0M84.6 108.4h0M86.6 106.2h0M87.3 108.9h0M83.9 104.0h0M85.5 108.4h0M86.8 103.1h0M88.7 105.8h0M88.6 110.5h0M88.7 106.0h0M87.4 109.3h0M90.7 108.8h0M84.4 101.0h0M90.2 104.3h0M88.8 102.4h0M84.0 103.9h0M91.1 104.9h0M87.6 101.5h0M84.9 103.3h0M86.9 107.2h0M88.1 102.2h0M88.5 104.8h0M87.4 103.1h0M90.0 107.5h0M88.1 104.1h0M87.9 107.0h0M87.0 108.0h0M87.1 102.2h0M87.4 106.7h0M88.3 108.5h0M83.3 103.3h0M84.7 110.6h0M84.0 106.1h0M87.6 106.4h0M89.2 107.3h0M88.0 104.1h0M87.6 107.4h0M83.9 109.0h0M85.4 110.0h0" stroke="#c4a8b8" stroke-width="1.3" stroke-linecap="round" fill="none" opacity="0.85"/>
<path d="M84.2 103.8h0M88.0 106.0h0M86.6 110.2h0M87.3 108.0h0M85.5 107.7h0M86.7 108.0h0M86.9 103.2h0M86.8 103.9h0M89.4 102.5h0M84.7 107.9h0M88.9 107.1h0M92.4 105.2h0M83.7 102.6h0" stroke="#a68e9c" stroke-width="1.3" stroke-linecap="round" fill="none" opacity="0.85"/>
<path d="M82.9 106.4h0M87.7 107.3h0M83.3 108.8h0M86.2 104.3h0M85.4 101.3h0M85.7 103.8h0M84.0 105.4h0M86.5 106.9h0M84.0 104.6h0" stroke="#d5c2cd" stroke-width="1.3" stroke-linecap="round" fill="none" opacity="0.85"/>
<path d="M100.6 110.6h0M103.3 117.4h0M95.2 113.0h0M102.6 118.3h0M98.4 116.4h0M102.4 117.6h0M100.0 113.4h0M103.4 114.1h0M104.3 123.4h0M97.6 119.1h0M104.4 118.9h0M103.4 117.0h0M100.9 113.4h0M111.4 115.2h0M102.0 116.8h0M97.0 114.3h0M94.4 117.8h0M105.3 116.2h0M109.4 117.1h0M102.4 111.7h0M101.2 118.1h0M103.9 117.2h0M100.8 116.1h0M105.6 117.8h0M97.2 116.1h0M100.7 112.3h0M96.2 119.6h0M102.0 112.1h0M100.8 112.1h0M104.9 118.4h0M95.9 119.2h0M106.7 115.1h0M100.0 111.8h0M96.9 119.2h0M96.8 116.2h0M101.3 115.6h0M107.0 114.6h0M101.7 113.7h0M101.9 111.4h0M107.6 113.7h0M107.9 111.7h0M95.9 114.5h0M105.0 120.1h0M101.0 112.9h0M92.3 113.7h0M92.7 114.3h0M102.8 114.1h0M98.5 120.4h0M96.1 119.4h0M98.4 114.8h0M105.8 120.5h0M97.3 116.6h0M94.4 116.6h0M97.0 116.3h0M102.1 113.0h0M95.9 117.8h0" stroke="#f5c890" stroke-width="1.3" stroke-linecap="round" fill="none" opacity="0.85"/>
<path d="M96.4 118.5h0M93.2 111.8h0M106.0 112.1h0M103.3 119.3h0M105.1 119.5h0M100.2 120.1h0M100.2 111.6h0M97.6 111.5h0M108.3 113.8h0M107.6 113.0h0M99.3 110.9h0M102.5 120.9h0" stroke="#d0aa7a" stroke-width="1.3" stroke-linecap="round" fill="none" opacity="0.85"/>
<path d="M106.0 117.8h0M104.0 112.7h0M106.4 112.0h0M104.0 119.3h0M104.2 112.0h0M97.8 113.0h0M93.9 118.1h0M106.0 115.3h0M106.0 112.0h0M98.3 120.6h0M107.5 115.9h0M106.5 117.4h0M102.4 118.7h0M100.1 119.8h0M104.5 111.7h0M99.2 119.1h0M97.5 120.7h0M104.4 119.8h0M95.8 119.9h0" stroke="#f8d8b1" stroke-width="1.3" stroke-linecap="round" fill="none" opacity="0.85"/>
<path d="M121.0 42.9h0M130.4 43.4h0M118.7 40.4h0M143.2 48.0h0M117.8 35.2h0M125.1 39.0h0M132.1 44.3h0M128.2 38.8h0M122.3 40.6h0M124.7 31.8h0M117.4 34.4h0M122.4 35.1h0M135.8 41.8h0M122.2 34.7h0M119.9 40.5h0M131.3 37.7h0M116.7 40.9h0M120.2 43.9h0M127.5 39.9h0M123.1 40.7h0M138.3 39.0h0M118.2 36.7h0M128.2 31.7h0M141.7 49.5h0M143.9 51.7h0M138.7 45.2h0M143.6 46.5h0M146.3 46.2h0M142.0 47.9h0M132.6 45.1h0M141.6 51.1h0M147.1 47.5h0M109.4 40.3h0M111.9 40.3h0M114.9 38.9h0M112.4 45.8h0M122.4 45.0h0M115.2 38.2h0M115.3 45.1h0M133.5 51.7h0M134.6 48.7h0M131.0 54.9h0M127.7 53.0h0M137.6 50.8h0M130.2 53.5h0M132.5 55.1h0M118.9 33.1h0M117.4 28.7h0M116.0 30.3h0M116.7 30.8h0M126.4 31.2h0M123.3 31.3h0M119.9 32.4h0" stroke="#e26783" stroke-width="1.3" stroke-linecap="round" fill="none" opacity="0.85"/>
<path d="M121.0 42.3h0M133.9 33.2h0M119.8 37.2h0M124.6 45.6h0M118.2 39.5h0M128.3 31.0h0M133.8 42.3h0M130.5 32.7h0M123.3 43.2h0M128.1 35.1h0M138.8 35.8h0M133.0 43.0h0M116.0 38.0h0M132.6 35.7h0M124.3 38.0h0M125.0 28.0h0M125.9 38.5h0M130.1 36.8h0M134.8 39.9h0M130.1 35.6h0M124.2 38.8h0M120.8 36.6h0M138.9 39.0h0M136.2 41.4h0M115.8 43.6h0M121.5 41.4h0M132.4 39.1h0M126.4 31.3h0M119.5 42.6h0M123.6 39.2h0M133.6 37.6h0M121.4 34.1h0M135.8 32.4h0M140.0 49.8h0M141.3 51.5h0M143.2 47.9h0M147.4 52.8h0M146.1 51.7h0M140.3 52.7h0M141.5 41.8h0M143.3 50.9h0M139.5 48.2h0M145.0 43.6h0M147.1 51.4h0M134.1 47.6h0M142.5 48.7h0M135.0 47.0h0M148.2 51.4h0M142.3 45.5h0M140.6 52.0h0M137.8 43.6h0M139.9 46.1h0M146.1 51.3h0M115.8 39.8h0M116.0 45.3h0M107.6 42.6h0M114.3 43.4h0M119.2 38.9h0M114.1 44.4h0M116.1 37.9h0M115.4 44.0h0M113.9 45.3h0M111.4 44.4h0M120.4 46.2h0M114.0 45.0h0M136.6 48.8h0M131.0 48.5h0M129.6 52.5h0M137.0 50.4h0M136.6 48.4h0M132.7 53.7h0M135.7 48.2h0M130.8 53.2h0M130.3 51.6h0M133.9 51.5h0M137.2 54.6h0M138.2 54.2h0M137.5 50.9h0M126.5 50.3h0M119.4 31.6h0M118.1 29.8h0M125.0 31.9h0M120.0 28.0h0M119.4 33.7h0" stroke="#b52042" stroke-width="1.3" stroke-linecap="round" fill="none" opacity="0.85"/>
<path d="M118.7 33.6h0M118.9 39.8h0M139.0 40.4h0M132.0 43.6h0M127.0 37.1h0M124.5 28.8h0M116.2 36.2h0M125.4 33.0h0M127.3 42.9h0M127.9 43.4h0M114.4 38.5h0M139.9 37.8h0M129.8 31.0h0M131.2 33.0h0M141.6 35.7h0M131.8 41.7h0M131.9 36.3h0M128.9 32.1h0M121.7 31.0h0M117.3 39.9h0M138.2 36.0h0M119.6 43.2h0M139.1 37.6h0M131.7 40.1h0M131.4 40.6h0M134.5 39.3h0M129.6 41.8h0M137.5 36.6h0M126.9 43.3h0M125.8 31.9h0M120.6 40.8h0M131.2 38.1h0M128.1 44.9h0M122.8 37.8h0M124.1 41.8h0M124.4 43.0h0M129.0 32.1h0M137.2 40.6h0M122.6 32.1h0M134.3 42.5h0M126.4 32.5h0M137.4 35.2h0M124.7 37.2h0M121.6 37.2h0M129.4 38.9h0M128.1 44.8h0M134.8 32.7h0M124.3 34.4h0M133.6 28.3h0M125.2 41.6h0M120.6 39.3h0M121.5 41.4h0M126.2 40.7h0M139.2 35.0h0M129.8 38.3h0M123.7 36.6h0M122.5 37.4h0M132.5 33.8h0M131.5 34.7h0M133.0 37.0h0M125.9 39.8h0M125.0 37.7h0M127.6 35.8h0M121.5 34.6h0M127.6 38.2h0M124.0 42.3h0M135.4 34.1h0M129.5 42.8h0M118.3 38.4h0M138.6 41.5h0M134.4 37.5h0M122.9 40.9h0M129.4 42.4h0M139.0 34.7h0M132.4 36.4h0M138.9 36.2h0M131.4 43.8h0M136.7 36.2h0M127.7 35.8h0M125.8 40.4h0M132.2 33.0h0M118.3 35.0h0M118.0 42.4h0M124.5 37.5h0M128.2 44.1h0M136.8 39.0h0M136.4 36.8h0M133.6 34.8h0M132.6 33.4h0M130.6 49.4h0M142.6 51.0h0M148.3 52.0h0M140.9 43.0h0M139.9 46.5h0M137.8 42.2h0M143.3 49.2h0M143.4 49.4h0M145.8 49.3h0M143.5 47.1h0M142.8 44.5h0M144.5 49.4h0M142.8 47.1h0M144.6 51.6h0M142.9 45.0h0M147.4 49.7h0M138.0 48.2h0M144.9 51.2h0M134.1 48.0h0M144.1 46.3h0M136.9 50.8h0M146.1 52.0h0M137.7 44.0h0M145.4 47.7h0M139.7 43.9h0M135.1 44.9h0M142.9 46.9h0M148.3 46.8h0M141.6 47.8h0M138.0 43.4h0M148.3 49.7h0M138.1 44.9h0M137.0 51.9h0M134.7 47.3h0M134.0 43.4h0M142.6 43.6h0M133.8 46.2h0M143.0 46.9h0M134.6 42.5h0M140.7 44.0h0M139.9 50.1h0M139.0 43.1h0M142.8 43.7h0M144.3 50.1h0M136.5 47.1h0M144.4 48.6h0M111.5 44.6h0M113.1 40.4h0M119.1 43.6h0M116.5 41.5h0M110.8 43.4h0M112.3 45.4h0M109.1 38.0h0M119.0 38.9h0M122.0 39.5h0M121.6 42.5h0M122.6 41.9h0M117.3 42.6h0M121.2 42.6h0M113.3 41.6h0M114.3 47.0h0M120.4 40.3h0M117.3 40.9h0M122.3 39.2h0M114.2 43.3h0M115.0 47.7h0M115.0 40.7h0M122.3 43.4h0M113.0 39.5h0M112.2 46.4h0M112.9 42.8h0M115.9 40.5h0M107.5 42.5h0M112.3 38.7h0M110.8 44.6h0M120.5 42.1h0M116.9 41.0h0M109.2 43.1h0M119.0 38.0h0M121.1 41.3h0M112.1 45.1h0M119.0 36.9h0M111.1 46.4h0M114.2 41.9h0M111.0 39.4h0M118.5 45.6h0M111.7 37.8h0M118.7 40.3h0M114.0 41.6h0M118.0 43.4h0M122.6 43.1h0M115.4 43.7h0M134.3 50.1h0M130.6 55.8h0M130.7 51.1h0M137.3 50.9h0M131.0 53.0h0M136.3 57.4h0M132.0 55.4h0M132.7 52.1h0M141.8 52.3h0M135.1 52.2h0M139.2 51.9h0M130.1 53.8h0M134.7 52.0h0M134.4 46.6h0M134.6 55.4h0M132.4 50.0h0M135.8 48.3h0M135.3 54.8h0M133.0 51.7h0M126.6 51.5h0M127.6 51.9h0M133.3 53.9h0M134.9 51.8h0M131.9 47.1h0M119.5 30.3h0M123.0 33.4h0M119.7 33.0h0M117.2 32.4h0M122.1 28.0h0M123.0 29.9h0M124.9 29.6h0M120.2 31.8h0M123.6 32.1h0M119.7 32.1h0M115.3 29.9h0M121.8 32.5h0M120.7 33.1h0M124.5 32.1h0M118.2 29.0h0M120.2 33.9h0" stroke="#d6264e" stroke-width="1.3" stroke-linecap="round" fill="none" opacity="0.85"/>
<path d="M126.0 41.0h0M129.3 35.0h0M125.6 39.2h0M136.2 34.6h0M129.4 39.4h0M130.0 35.0h0M132.3 37.7h0M135.6 34.2h0M126.2 37.8h0M136.9 34.6h0M122.0 42.0h0M124.6 39.5h0M129.7 35.7h0M125.8 38.0h0M134.9 36.1h0M127.3 33.4h0M121.1 42.0h0M139.3 42.7h0M124.7 35.3h0M134.9 37.0h0M135.7 37.6h0M136.4 33.0h0M130.9 41.7h0M144.6 43.8h0M141.0 47.2h0M144.8 46.3h0M140.8 40.7h0M144.7 46.8h0M137.4 40.7h0M136.4 45.1h0M142.3 41.1h0M138.2 44.8h0M138.2 43.6h0M139.5 42.2h0M138.8 42.5h0M141.1 46.8h0M142.3 41.2h0" stroke="#de607e" stroke-width="1.3" stroke-linecap="round" fill="none" opacity="0.85"/>
<path d="M128.6 38.2h0M131.9 39.3h0M126.2 34.5h0M123.6 35.7h0M138.1 41.2h0M134.5 34.5h0M126.7 36.7h0M128.0 41.3h0M134.5 36.6h0M134.8 41.7h0M127.0 35.3h0M135.8 33.7h0M127.5 35.8h0M131.0 38.4h0M122.4 37.7h0M128.3 32.7h0M133.2 36.2h0M128.3 38.6h0M132.1 36.4h0M128.3 34.0h0M134.8 39.9h0M132.6 34.5h0M139.1 37.8h0M136.6 40.3h0M134.9 33.8h0M131.9 39.9h0M131.2 32.1h0M128.0 39.6h0M131.6 32.9h0M124.5 36.5h0M125.1 38.4h0M133.9 37.5h0M136.0 39.2h0M128.5 34.1h0M137.6 39.9h0M124.9 34.7h0M131.2 33.7h0M137.7 33.5h0M138.0 39.4h0M129.1 37.4h0M132.6 36.1h0M134.2 36.1h0M128.3 36.0h0M132.4 33.0h0M125.8 33.1h0M133.8 40.8h0M131.3 35.6h0M131.7 37.6h0M128.1 34.6h0M126.8 39.2h0M127.2 33.1h0M131.8 42.1h0M124.9 36.2h0M133.6 40.3h0M133.9 36.8h0M136.3 35.2h0M129.6 33.4h0M128.4 33.7h0M128.3 40.1h0M137.0 38.4h0M130.1 33.5h0M126.4 33.5h0M129.8 37.4h0M137.6 39.7h0M138.5 37.1h0M124.7 39.8h0M129.4 34.0h0M125.6 41.3h0M124.6 40.6h0M124.1 34.4h0M132.9 35.2h0M135.2 40.4h0M125.4 39.7h0M134.8 34.6h0M136.5 29.9h0M132.0 31.9h0M128.9 41.9h0M135.9 42.4h0M144.4 46.4h0M141.7 41.6h0M134.8 44.4h0M137.5 41.2h0M135.8 45.8h0M140.7 42.9h0M144.7 47.7h0M138.7 43.4h0M143.0 41.4h0M142.4 41.8h0M136.5 43.0h0M140.4 43.0h0M141.2 43.6h0M135.5 45.0h0M142.3 44.1h0M136.5 41.7h0M147.1 41.7h0M138.8 45.4h0M141.6 47.0h0M140.3 47.5h0M143.1 46.4h0M139.8 44.6h0M141.2 39.6h0M144.1 46.7h0M138.8 44.4h0M143.9 40.6h0M146.0 46.6h0M144.2 43.2h0M137.2 46.7h0M141.2 44.4h0M144.7 44.2h0M141.4 42.2h0M135.7 44.0h0M143.7 44.5h0M145.2 46.2h0M146.7 42.3h0M136.4 43.6h0M146.1 44.6h0M137.0 40.7h0M137.1 46.1h0M142.5 45.3h0M141.9 46.7h0M145.7 46.5h0M139.8 43.2h0M145.8 48.3h0M141.6 42.6h0M139.9 42.4h0" stroke="#d01c48" stroke-width="1.3" stroke-linecap="round" fill="none" opacity="0.85"/>
<path d="M131.9 33.1h0M127.5 40.2h0M125.8 39.4h0M136.4 37.5h0M133.6 35.7h0M129.4 32.7h0M127.1 35.2h0M125.6 37.6h0M125.3 38.3h0M128.4 32.8h0M126.9 34.8h0M139.9 38.4h0M135.4 34.0h0M134.8 40.5h0M141.0 34.8h0M131.2 38.1h0M128.3 40.1h0M124.3 38.3h0M143.9 39.0h0M127.0 40.2h0M135.0 34.0h0M136.4 34.6h0M138.8 35.1h0M123.1 38.4h0M130.6 36.1h0M145.8 44.6h0M145.4 47.0h0M145.0 40.5h0M136.2 43.6h0M139.9 39.9h0M145.6 40.1h0M143.6 43.6h0M144.5 43.0h0M140.0 41.3h0M140.9 46.6h0M143.0 42.3h0M135.9 45.8h0M143.6 46.8h0" stroke="#b0173d" stroke-width="1.3" stroke-linecap="round" fill="none" opacity="0.85"/>
<path d="M125.8 67.7h0M122.9 55.9h0M122.2 67.0h0M113.3 62.9h0M130.0 60.4h0M113.7 63.7h0M118.4 54.3h0M130.8 60.4h0M111.9 56.9h0M131.4 58.4h0M115.9 58.0h0M126.0 53.4h0M118.7 69.9h0M112.8 67.4h0M124.0 59.2h0M118.5 55.3h0M111.1 61.5h0M112.0 53.7h0M109.7 60.9h0M113.8 59.0h0M121.4 60.8h0M123.2 69.9h0M117.1 50.6h0M123.0 66.8h0M112.7 63.8h0M127.8 61.3h0M124.6 59.8h0M127.8 59.8h0M116.2 54.3h0M109.6 54.6h0M111.6 58.1h0M121.7 60.9h0M117.9 62.5h0M116.6 58.6h0M127.6 66.9h0M129.4 63.1h0M129.5 56.1h0M111.9 54.9h0M108.9 67.1h0M126.4 59.7h0M124.1 58.9h0M119.5 50.9h0M111.5 66.7h0M119.8 68.8h0M127.9 52.5h0M132.0 69.5h0M112.5 67.9h0M122.8 69.2h0M116.1 67.3h0M129.4 65.3h0M124.7 59.5h0M111.5 58.5h0M122.9 57.8h0M121.2 63.9h0M126.8 68.1h0M121.7 66.3h0M114.4 63.8h0M120.9 67.3h0M125.5 62.6h0M130.8 56.6h0M109.2 56.6h0M122.3 61.9h0M127.5 64.7h0M120.2 52.1h0M129.8 59.2h0M123.8 56.9h0M117.2 58.2h0M123.2 60.5h0M106.7 65.7h0M119.4 67.9h0M118.6 63.7h0M114.6 53.2h0M119.3 53.3h0M118.9 69.8h0M125.6 53.5h0M113.9 63.5h0M124.6 54.4h0M127.5 65.2h0M115.3 59.3h0M114.0 55.5h0M129.5 60.9h0M121.8 66.6h0M128.2 55.5h0M119.9 55.3h0M120.1 47.0h0M117.2 70.2h0M123.1 47.9h0M122.1 65.1h0M120.7 68.0h0M117.8 65.8h0M125.1 61.6h0M112.9 60.2h0M120.2 60.2h0M124.7 54.5h0M127.7 67.5h0M115.3 68.3h0M119.3 58.9h0M108.1 61.9h0M112.5 67.9h0M111.8 53.8h0M120.5 69.8h0M116.6 52.7h0M111.3 66.5h0M113.1 59.0h0M130.3 69.2h0M111.6 67.3h0M128.5 66.5h0M116.4 67.6h0M122.4 61.1h0M122.9 66.6h0M120.9 62.5h0M129.8 61.3h0M111.8 56.7h0M107.4 67.0h0M123.1 54.7h0M124.7 49.5h0M126.7 59.0h0M116.1 68.5h0M124.2 61.2h0M118.5 71.2h0M123.8 63.0h0M113.1 61.5h0M117.7 66.4h0M126.9 63.5h0M114.1 66.7h0M111.6 66.8h0M120.1 60.9h0M115.7 56.7h0M113.8 54.3h0M115.2 67.7h0M133.3 58.5h0M124.9 54.5h0M118.1 53.1h0M110.9 55.1h0M131.0 59.9h0M113.5 72.9h0M115.5 64.6h0M121.9 58.9h0M122.0 67.2h0M124.4 53.0h0M129.7 61.7h0M113.9 66.8h0M117.6 69.3h0M120.9 51.9h0M128.8 61.9h0M116.8 69.5h0M130.6 58.2h0M112.8 54.1h0M114.4 52.5h0M125.9 63.9h0M121.5 70.1h0M111.0 64.6h0M129.3 60.3h0M112.7 55.5h0M115.7 62.0h0M121.2 62.5h0M120.5 54.7h0M111.4 64.8h0M123.5 69.1h0M109.6 61.7h0M124.0 59.8h0M114.0 61.8h0M105.4 58.9h0M122.8 69.7h0M110.7 63.0h0M109.0 62.9h0M115.7 73.8h0M107.8 60.1h0M127.2 56.4h0M115.4 69.6h0" stroke="#d0ece0" stroke-width="1.3" stroke-linecap="round" fill="none" opacity="0.85"/>
<path d="M128.3 63.5h0M122.5 65.0h0M115.6 65.5h0M123.7 69.1h0M118.4 67.4h0M122.3 61.6h0M124.6 68.1h0M117.4 59.4h0M119.1 54.0h0M114.0 68.5h0M126.0 53.0h0M110.1 57.4h0M129.3 55.2h0M112.6 64.0h0M113.6 65.5h0M127.8 58.8h0M114.8 68.9h0M114.4 56.5h0M111.1 60.3h0M105.1 55.2h0M128.8 62.0h0M124.1 54.6h0M126.1 67.3h0M123.3 59.4h0M116.2 65.9h0M130.3 63.1h0M119.9 51.2h0M116.6 57.6h0M128.0 56.5h0M118.8 51.6h0M116.7 62.3h0M109.1 61.3h0M130.7 66.0h0M127.2 68.0h0M128.1 65.0h0M114.0 55.5h0M114.4 66.8h0M132.9 71.1h0M120.8 52.4h0M120.0 57.0h0M125.8 64.1h0M110.1 55.5h0M130.4 64.1h0M117.6 54.3h0M114.7 55.4h0M117.8 56.8h0M117.1 67.4h0M112.6 53.1h0M126.9 56.4h0M109.7 61.6h0M109.1 65.5h0" stroke="#def1e9" stroke-width="1.3" stroke-linecap="round" fill="none" opacity="0.85"/>
<path d="M119.4 55.2h0M122.1 62.2h0M117.8 64.8h0M112.6 64.5h0M111.6 56.7h0M118.7 58.4h0M122.1 70.7h0M113.7 52.0h0M124.5 57.2h0M111.3 61.5h0M127.4 63.6h0M117.1 56.0h0M123.3 53.8h0M115.4 55.3h0M119.8 65.9h0M125.5 54.9h0M118.2 59.4h0M119.9 72.3h0M110.7 55.2h0M127.8 56.5h0M115.2 53.8h0M115.4 66.8h0M119.0 52.9h0M123.8 60.9h0M123.1 59.7h0M121.0 66.9h0M130.0 64.5h0M112.8 55.7h0M113.1 58.5h0M117.4 70.5h0M118.9 62.5h0M121.0 62.3h0M122.5 63.9h0M128.2 54.6h0M128.1 63.3h0M129.3 63.4h0M116.5 59.8h0M111.9 58.3h0M107.1 63.8h0M110.8 62.7h0M120.1 54.6h0M122.1 58.9h0M117.9 59.7h0M115.1 58.8h0M120.0 68.3h0M116.3 54.9h0M121.8 63.2h0M108.1 69.4h0M115.1 58.4h0M130.8 57.7h0M113.0 56.7h0M124.3 54.4h0M128.9 58.1h0M115.8 68.7h0M124.4 70.2h0M109.2 60.4h0M124.1 70.4h0M109.0 60.6h0" stroke="#b0c8be" stroke-width="1.3" stroke-linecap="round" fill="none" opacity="0.85"/>
<path d="M110.0 83.0h0M122.8 78.0h0M132.6 84.8h0M124.5 81.2h0M115.0 82.5h0M116.8 79.0h0M114.8 87.8h0M129.4 81.0h0M120.8 84.1h0M126.2 81.0h0M132.8 87.4h0M114.8 88.2h0M111.8 79.7h0M129.6 83.9h0M117.1 90.3h0M116.9 79.7h0M131.0 85.4h0M118.7 86.0h0M124.3 88.3h0M116.4 76.8h0M130.4 87.3h0M119.2 84.2h0M112.4 87.1h0M117.7 81.7h0M131.7 79.5h0M116.8 81.7h0M111.2 85.1h0M116.7 79.4h0M113.8 84.3h0M112.5 81.2h0M129.5 89.4h0M111.2 81.7h0M115.4 80.3h0M117.7 86.0h0M129.4 82.5h0M129.3 82.1h0M118.2 88.6h0M129.5 82.8h0M126.0 84.5h0M130.3 87.0h0M124.6 89.2h0M114.9 81.3h0M120.1 85.6h0M126.3 88.4h0M120.3 83.0h0M117.8 83.0h0M133.2 87.1h0M117.7 84.2h0M110.2 84.3h0M112.8 85.4h0M130.5 91.1h0M126.0 85.8h0M125.0 77.9h0M122.1 85.2h0M124.0 86.1h0M114.9 85.3h0M125.8 84.9h0M121.1 82.8h0M111.5 81.4h0M113.7 85.1h0M125.2 89.8h0M114.0 87.9h0M123.3 88.3h0M114.0 85.9h0M129.3 84.1h0M117.5 85.5h0M114.2 86.9h0M132.0 84.8h0M112.6 87.4h0M120.6 84.6h0M115.8 84.5h0M133.8 81.4h0M126.7 88.8h0M135.2 83.8h0M114.1 80.1h0M126.9 80.6h0M116.1 81.1h0M115.5 80.2h0M133.3 81.7h0M116.7 89.3h0M128.4 81.9h0M128.7 85.7h0M126.5 81.1h0M126.6 81.7h0M115.8 89.3h0M120.5 85.7h0M114.0 91.9h0M123.9 89.7h0M113.6 80.6h0M125.2 83.4h0M125.8 79.9h0M117.5 88.8h0M117.3 81.1h0M126.8 78.4h0M121.3 88.3h0M134.0 85.2h0M130.8 84.9h0M129.0 79.6h0M128.3 83.1h0M130.4 85.0h0M130.9 81.3h0M110.5 84.2h0M122.9 78.9h0M119.5 90.0h0M130.1 84.8h0M126.5 79.1h0M126.0 81.1h0M119.1 81.0h0M141.2 80.3h0M120.1 83.6h0M125.9 86.9h0M118.1 81.1h0M126.2 79.3h0M114.1 88.8h0M122.9 80.5h0M114.9 84.6h0M119.7 88.5h0M117.3 82.1h0M115.5 87.9h0M129.0 86.6h0M124.1 84.1h0M129.2 80.9h0M124.8 79.0h0M125.7 89.5h0M125.5 90.0h0M128.7 79.0h0M129.4 89.1h0M115.8 86.5h0M125.2 84.3h0M114.4 84.5h0M121.9 78.1h0M109.3 84.4h0M130.8 86.9h0M123.9 84.6h0M115.0 82.1h0M117.7 86.2h0M129.9 87.0h0M127.7 88.9h0M117.8 80.1h0M124.5 91.3h0M119.1 85.6h0M105.5 86.4h0M134.7 87.7h0M106.5 79.5h0M116.8 79.2h0M127.0 78.2h0M118.1 85.7h0M121.7 83.7h0M133.1 87.5h0M114.9 80.9h0M124.8 88.6h0M115.0 77.7h0M121.4 84.6h0M114.2 83.8h0M120.5 86.3h0M123.9 82.8h0M126.6 83.3h0M133.1 83.0h0M114.3 85.6h0M127.9 87.6h0M118.0 79.0h0M120.0 83.8h0M122.9 80.8h0M109.4 86.6h0M130.2 79.4h0M111.3 81.6h0M119.5 78.2h0M116.2 87.9h0M122.4 83.6h0M113.9 87.6h0M124.0 87.7h0M124.3 89.3h0M119.7 82.1h0M131.2 81.5h0M121.5 79.9h0M120.5 81.1h0M124.7 78.8h0M117.4 75.5h0M126.4 80.5h0M138.7 85.6h0M132.4 78.0h0M125.1 79.0h0M123.9 81.0h0M132.3 86.0h0M124.8 79.1h0M127.2 78.2h0M136.8 81.3h0M124.7 81.1h0M127.8 83.1h0M131.1 81.0h0M128.6 77.7h0M133.0 82.0h0M132.6 81.5h0M132.0 79.7h0M135.0 81.3h0M127.1 79.8h0M136.0 83.9h0M126.1 83.4h0M134.8 80.1h0M133.1 86.5h0M136.6 82.5h0M126.5 82.9h0M130.4 83.9h0M128.2 78.2h0M131.7 79.2h0M130.1 82.0h0M138.9 85.1h0M128.8 84.1h0M135.6 81.8h0M130.3 83.9h0M137.8 81.9h0M136.0 80.4h0M126.7 83.7h0M137.2 79.0h0M135.4 80.3h0M132.3 83.1h0M134.9 78.5h0M131.9 80.5h0M134.7 80.1h0M126.8 84.1h0M128.3 81.7h0M128.4 76.9h0M134.4 80.2h0M132.4 78.1h0M129.9 79.1h0M127.1 80.0h0M133.6 81.8h0M130.2 82.4h0M126.9 83.8h0M132.9 85.2h0M131.1 84.9h0M137.9 78.9h0M129.8 83.4h0M130.5 80.3h0M129.4 83.9h0M126.2 82.0h0M123.7 80.3h0M127.4 79.2h0M127.2 84.3h0M129.9 82.6h0M126.1 79.9h0M131.0 79.4h0" stroke="#45b43a" stroke-width="1.3" stroke-linecap="round" fill="none" opacity="0.85"/>
<path d="M131.2 82.9h0M116.1 79.6h0M121.8 74.0h0M128.0 85.5h0M123.4 85.3h0M125.2 79.4h0M121.3 79.7h0M111.7 83.5h0M116.0 89.0h0M119.7 82.8h0M125.9 86.8h0M109.3 82.3h0M126.3 86.1h0M118.6 84.4h0M115.3 89.1h0M114.1 84.0h0M115.0 86.0h0M119.9 82.3h0M128.8 80.6h0M110.2 84.9h0M129.3 87.4h0M117.1 80.8h0M113.6 84.8h0M127.8 81.5h0M131.5 83.8h0M116.5 79.9h0M123.3 90.0h0M121.9 79.3h0M117.0 89.2h0M116.7 81.7h0M128.4 90.4h0M116.0 83.9h0M132.1 82.6h0M107.6 89.3h0M112.7 82.4h0M134.0 85.0h0M126.3 78.4h0M123.9 80.1h0M127.1 78.0h0M117.7 83.1h0M122.3 87.6h0M124.2 80.8h0M120.4 86.2h0M113.5 79.8h0M123.2 82.2h0M122.6 87.3h0M130.5 81.0h0M113.0 84.9h0M125.2 86.9h0M119.2 85.8h0M123.8 79.9h0M124.6 81.7h0M125.2 81.1h0M130.0 78.4h0M136.9 81.3h0M133.4 76.6h0M137.1 81.8h0M135.6 79.6h0M129.8 81.4h0M130.6 82.2h0M131.9 84.2h0M127.4 79.1h0M130.0 78.1h0M130.8 80.2h0M125.7 80.5h0M135.2 79.7h0M132.7 83.8h0M123.9 77.6h0M132.9 80.8h0M132.7 77.8h0M127.9 77.4h0M127.8 79.2h0M132.9 84.9h0M133.3 80.3h0M125.0 78.4h0M127.3 83.8h0M135.5 83.7h0M126.3 82.0h0M138.2 82.0h0" stroke="#7cca75" stroke-width="1.3" stroke-linecap="round" fill="none" opacity="0.85"/>
<path d="M124.0 80.0h0M118.7 84.1h0M133.9 85.0h0M127.0 85.7h0M120.4 80.8h0M130.7 85.2h0M125.9 81.0h0M134.5 82.4h0M130.1 89.0h0M110.8 86.3h0M111.4 79.7h0M124.3 87.7h0M117.8 84.7h0M124.5 85.5h0M123.5 90.3h0M129.9 86.8h0M113.7 82.8h0M124.6 90.5h0M121.1 84.7h0M120.7 87.6h0M118.0 82.8h0M114.6 79.1h0M121.6 77.9h0M129.9 88.8h0M113.3 83.9h0M116.5 88.6h0M117.0 87.1h0M119.7 89.3h0M127.6 87.0h0M116.3 89.3h0M121.8 92.5h0M115.6 80.3h0M123.0 84.1h0M126.0 78.9h0M118.3 88.7h0M115.3 89.6h0M134.4 83.2h0M122.4 79.5h0M118.9 82.4h0M124.8 87.7h0M120.9 88.6h0M117.3 83.1h0M125.6 85.2h0M121.2 83.8h0M128.4 81.1h0M130.9 83.8h0M113.6 83.7h0M119.5 83.4h0M120.8 90.0h0M124.3 77.6h0M131.3 80.0h0M116.2 88.8h0M119.2 90.1h0M134.4 87.2h0M123.5 82.2h0M113.6 88.6h0M114.0 84.9h0M120.3 90.9h0M131.6 85.6h0M122.1 78.2h0M111.3 76.8h0M123.4 82.4h0M118.7 86.4h0M125.2 88.5h0M132.1 80.9h0M123.2 85.4h0M128.0 81.6h0M124.6 78.0h0M136.6 78.3h0M129.8 77.5h0M130.5 83.8h0M133.4 80.0h0M130.3 82.0h0M130.9 82.9h0M126.1 78.8h0M130.6 86.3h0M133.6 83.8h0M125.7 83.4h0M135.6 84.0h0M134.8 83.6h0M123.4 81.4h0M129.8 77.4h0M133.0 83.1h0M131.1 76.5h0M133.9 79.9h0M139.9 79.5h0M131.6 77.5h0" stroke="#3a9931" stroke-width="1.3" stroke-linecap="round" fill="none" opacity="0.85"/>
<path d="M125.3 76.9h0M125.8 78.1h0M124.6 75.9h0M126.1 76.8h0M128.4 77.3h0M121.4 75.9h0M125.1 74.2h0M130.1 77.6h0M120.0 79.7h0M125.1 75.8h0M130.3 75.9h0M133.9 76.2h0M121.4 75.4h0M124.7 78.3h0M129.8 78.1h0M125.9 76.4h0M119.5 77.5h0M131.2 78.5h0M135.2 76.8h0M133.0 77.3h0M131.0 77.4h0M121.4 80.9h0M122.1 79.0h0M128.1 76.1h0M122.0 77.9h0M123.3 79.4h0M118.1 77.7h0M128.0 76.5h0M130.6 77.2h0M117.6 77.0h0M124.9 78.3h0M128.0 74.9h0M135.2 75.5h0M119.1 76.8h0M119.1 75.8h0" stroke="#8fd080" stroke-width="1.3" stroke-linecap="round" fill="none" opacity="0.85"/>
<path d="M122.7 79.4h0M126.2 79.2h0M125.2 76.0h0M123.7 77.4h0M120.7 76.7h0M128.4 75.9h0M125.5 75.9h0M134.2 76.8h0M117.4 77.3h0M132.5 75.7h0M129.4 75.4h0M122.3 74.9h0" stroke="#b0dea6" stroke-width="1.3" stroke-linecap="round" fill="none" opacity="0.85"/>
<path d="M120.6 79.8h0M122.6 78.6h0M123.1 76.0h0M133.1 78.3h0M132.3 76.1h0M125.6 76.6h0M134.3 79.8h0M131.6 79.3h0M126.9 78.0h0M126.1 76.5h0M135.1 77.9h0M130.6 78.0h0M131.8 74.9h0M120.1 77.5h0M119.1 77.0h0M120.4 78.6h0" stroke="#79b06c" stroke-width="1.3" stroke-linecap="round" fill="none" opacity="0.85"/>
<path d="M98.9 101.8h0M103.5 107.0h0M104.0 102.9h0M100.7 98.1h0M102.6 101.5h0M111.7 93.1h0M108.0 93.5h0M114.5 97.2h0M101.1 106.1h0M109.9 104.7h0M109.3 103.4h0M105.8 106.0h0M109.0 102.4h0M102.2 100.2h0M113.2 101.2h0M106.2 109.1h0M101.8 105.3h0M104.3 92.2h0M101.8 99.6h0M113.2 103.1h0M113.0 105.9h0M109.9 100.4h0M110.8 106.2h0M104.6 106.2h0M112.6 96.8h0M112.5 105.2h0M108.6 93.0h0M110.4 98.7h0M104.7 92.1h0M110.7 94.1h0M98.4 99.2h0M112.9 104.4h0M106.5 98.9h0M99.1 107.9h0M100.9 96.4h0M104.7 97.1h0M105.3 105.4h0M111.6 102.4h0M111.0 103.5h0M102.2 97.6h0M102.3 93.3h0M111.8 97.5h0M111.8 92.1h0M109.0 98.0h0M105.1 96.2h0M105.2 99.9h0M113.4 101.7h0M112.5 95.1h0M103.4 108.4h0M100.2 102.5h0M104.4 108.6h0M101.9 104.5h0M93.8 104.3h0M98.7 108.8h0M99.3 101.8h0M101.2 105.1h0M96.8 106.0h0M102.4 109.5h0M105.6 105.6h0M100.8 105.7h0" stroke="#81b773" stroke-width="1.3" stroke-linecap="round" fill="none" opacity="0.85"/>
<path d="M109.1 102.2h0M98.5 100.1h0M102.5 93.4h0M105.4 94.1h0M109.9 107.9h0M101.1 93.7h0M100.9 107.2h0M109.4 102.6h0M111.8 100.0h0M103.7 94.1h0M103.2 93.1h0M113.1 97.6h0M100.5 104.6h0M98.8 106.8h0M111.8 102.4h0M101.9 95.4h0M112.3 95.6h0M105.5 102.4h0M109.9 99.3h0M107.3 105.2h0M107.5 102.1h0M106.2 98.9h0M104.6 99.9h0M104.8 94.3h0M107.8 100.3h0M98.5 97.5h0M105.9 101.7h0M115.6 99.2h0M108.1 106.9h0M102.9 93.8h0M111.3 92.2h0M120.1 95.2h0M104.2 111.5h0M107.5 93.3h0M100.8 99.6h0M100.9 96.2h0M108.5 99.9h0M108.2 101.6h0M113.9 103.2h0M114.0 98.8h0M111.8 102.0h0M101.8 95.1h0M109.5 107.6h0M101.1 103.7h0M104.6 105.4h0M96.6 110.2h0M105.9 104.5h0M97.0 104.3h0M96.1 104.2h0M103.1 103.9h0M101.1 108.3h0M103.6 103.6h0M99.8 108.1h0M104.0 104.3h0M100.1 103.1h0M99.8 103.6h0" stroke="#b6e3ab" stroke-width="1.3" stroke-linecap="round" fill="none" opacity="0.85"/>
<path d="M100.5 97.0h0M104.3 103.5h0M100.5 93.8h0M113.0 95.3h0M101.5 102.4h0M102.3 105.9h0M96.2 102.6h0M104.5 99.8h0M103.0 97.6h0M111.0 104.3h0M109.6 98.6h0M113.9 93.8h0M108.8 104.5h0M111.1 93.7h0M105.2 92.8h0M103.8 98.2h0M99.2 99.7h0M107.4 93.7h0M110.9 95.3h0M104.0 101.1h0M105.6 88.7h0M107.9 91.4h0M98.3 99.2h0M107.5 104.0h0M113.1 99.2h0M100.2 99.4h0M104.8 106.8h0M104.1 98.2h0M113.4 94.1h0M110.2 96.9h0M111.9 106.8h0M109.1 98.1h0M101.4 95.4h0M103.8 97.7h0M110.0 102.9h0M107.7 98.9h0M109.0 104.3h0M110.9 96.4h0M102.1 107.5h0M106.6 105.5h0M110.2 92.7h0M104.1 106.8h0M113.2 91.3h0M104.1 106.1h0M107.1 91.8h0M112.7 104.6h0M107.3 100.7h0M94.7 101.3h0M113.8 105.8h0M105.0 102.0h0M112.9 94.8h0M110.6 96.8h0M111.9 105.5h0M101.1 97.2h0M103.7 96.1h0M113.9 97.5h0M99.9 99.5h0M112.3 105.3h0M109.9 93.9h0M113.1 103.5h0M104.2 105.7h0M107.3 98.2h0M109.0 106.1h0M111.3 93.8h0M110.9 105.6h0M112.9 101.8h0M104.4 110.0h0M99.3 106.1h0M105.0 93.9h0M113.1 99.1h0M102.9 106.0h0M110.5 102.0h0M109.6 91.2h0M107.8 100.3h0M103.8 107.6h0M106.3 95.5h0M113.1 104.2h0M104.1 91.2h0M103.8 107.1h0M111.4 103.4h0M110.9 98.7h0M107.1 95.3h0M106.1 97.7h0M101.5 103.3h0M100.9 92.9h0M103.0 97.7h0M107.5 101.2h0M100.7 93.5h0M110.7 98.9h0M99.0 102.6h0M113.9 103.4h0M111.5 97.4h0M101.8 94.8h0M111.0 93.2h0M112.1 106.2h0M108.0 113.6h0M114.9 94.5h0M108.3 95.6h0M107.8 102.5h0M99.9 97.2h0M104.4 98.0h0M96.7 103.0h0M105.9 94.6h0M111.1 93.5h0M105.7 100.6h0M113.9 99.7h0M100.8 93.8h0M108.9 102.1h0M112.6 102.2h0M104.0 95.6h0M98.7 111.2h0M99.6 104.5h0M101.3 102.9h0M96.9 107.1h0M100.5 109.5h0M99.7 105.3h0M99.7 103.4h0M102.5 106.5h0M98.5 104.7h0M99.1 107.4h0M104.2 106.3h0M99.5 107.9h0M98.9 109.8h0M95.1 104.5h0M98.9 103.7h0M99.4 101.5h0M99.8 105.5h0M96.2 106.6h0M95.9 107.0h0M104.8 105.1h0M99.8 108.2h0M101.6 109.0h0M104.0 107.1h0M101.4 103.9h0M102.5 105.3h0M100.8 103.1h0M97.0 103.7h0M102.5 106.3h0M97.9 102.9h0M99.2 109.5h0M102.3 104.1h0M97.5 107.3h0M104.1 106.8h0M101.4 106.3h0M101.6 102.2h0M99.3 107.4h0M98.1 106.8h0" stroke="#98d888" stroke-width="1.3" stroke-linecap="round" fill="none" opacity="0.85"/>
<path d="M121.5 93.9h0M124.1 100.0h0M129.4 93.7h0M124.4 100.3h0M122.8 93.6h0M115.5 97.0h0M120.8 92.3h0M116.4 97.4h0M117.5 98.4h0M123.6 92.9h0M125.6 98.8h0M118.1 95.6h0M117.3 91.8h0M123.3 99.7h0M119.1 93.0h0M119.5 93.7h0M120.6 99.3h0M115.7 96.2h0M117.7 94.2h0M126.9 93.3h0M125.8 95.4h0M117.5 98.9h0M125.2 94.2h0M128.1 94.1h0M118.0 95.8h0M122.3 91.8h0M130.4 96.7h0M121.0 95.3h0M118.8 92.6h0M127.7 93.1h0M117.2 93.8h0M127.2 93.2h0M127.1 98.5h0M115.8 97.5h0M113.2 94.3h0M115.3 97.1h0M122.1 95.2h0M117.8 98.2h0M124.3 99.4h0M128.5 94.1h0M123.7 99.3h0M128.1 96.5h0M131.6 96.9h0M118.3 92.6h0M131.9 97.4h0M127.1 95.7h0M117.3 93.9h0M123.9 96.7h0M129.7 94.4h0M124.5 94.0h0M119.9 96.3h0M128.7 98.9h0M127.1 98.5h0M124.4 94.6h0M123.5 94.8h0M120.4 100.5h0M127.0 95.4h0M133.9 94.4h0M121.6 95.3h0" stroke="#eeb4ca" stroke-width="1.3" stroke-linecap="round" fill="none" opacity="0.85"/>
<path d="M116.9 97.1h0M125.9 92.0h0M123.4 95.4h0M128.2 97.1h0M118.0 98.4h0M116.8 94.0h0M125.3 91.6h0M121.1 97.8h0M118.9 94.1h0M120.2 92.2h0M121.5 96.8h0M125.9 98.6h0M127.3 98.5h0M128.1 95.5h0M115.9 95.8h0M127.5 93.7h0M130.1 95.8h0M118.4 92.8h0M124.5 98.2h0M126.4 97.4h0M125.7 96.6h0M122.6 92.5h0M117.2 100.7h0M125.8 93.9h0M118.5 93.5h0M124.0 97.6h0" stroke="#ca99ab" stroke-width="1.3" stroke-linecap="round" fill="none" opacity="0.85"/>
<path d="M117.4 90.7h0M129.1 95.2h0M130.5 96.6h0M125.6 92.0h0M128.8 98.2h0M127.7 94.7h0M123.9 93.5h0M125.2 99.3h0M125.0 94.6h0M122.9 103.3h0M126.2 95.8h0M115.7 95.5h0M122.4 96.9h0M128.9 95.3h0M125.7 91.3h0M127.6 94.3h0M122.7 98.9h0M118.9 92.4h0M128.5 96.1h0M129.9 97.3h0" stroke="#f3cad9" stroke-width="1.3" stroke-linecap="round" fill="none" opacity="0.85"/>
<path d="M150.5 82.1h0M147.8 84.0h0M140.6 86.1h0M141.3 80.8h0M147.7 82.9h0M142.6 82.8h0M149.7 83.4h0M142.0 84.6h0M149.6 80.1h0M143.3 81.2h0M143.6 83.9h0M147.0 85.2h0M145.0 85.1h0M145.9 86.0h0" stroke="#eecadb" stroke-width="1.3" stroke-linecap="round" fill="none" opacity="0.85"/>
<path d="M143.7 80.9h0M151.0 81.5h0M149.2 80.4h0M148.6 81.5h0M138.2 83.6h0M141.8 82.4h0M142.6 85.8h0M153.1 81.6h0M148.0 81.3h0" stroke="#c599ad" stroke-width="1.3" stroke-linecap="round" fill="none" opacity="0.85"/>
<path d="M152.9 82.2h0M153.0 81.8h0M146.0 80.9h0M141.3 83.3h0M147.7 83.5h0M146.2 80.1h0M148.1 85.3h0M142.5 82.0h0M145.7 83.1h0M158.0 82.6h0M151.1 82.9h0M148.2 83.7h0M144.5 84.6h0M145.8 84.1h0M151.6 81.7h0M139.1 82.4h0M146.6 84.1h0M149.7 81.9h0M145.0 81.5h0M141.2 85.2h0M150.2 83.0h0M146.6 84.0h0M144.4 83.2h0M146.2 84.5h0M140.1 82.9h0M143.1 85.0h0M143.1 84.8h0M153.0 83.1h0M147.8 82.7h0M150.1 85.1h0M144.2 86.4h0M149.4 81.5h0" stroke="#e8b4cc" stroke-width="1.3" stroke-linecap="round" fill="none" opacity="0.85"/>
<path d="M172.8 84.6h0M170.4 91.1h0M173.3 93.0h0M178.3 89.1h0M176.7 92.4h0M168.1 85.6h0M172.0 89.0h0M178.9 88.2h0M169.6 90.3h0M169.0 87.0h0M169.7 89.8h0M177.5 85.7h0M177.1 86.1h0M178.7 88.3h0M163.2 88.6h0M170.6 85.1h0M175.5 93.3h0M168.3 91.2h0M169.9 94.0h0M169.7 84.2h0M164.6 84.0h0M175.3 94.6h0M170.9 84.2h0M170.1 86.4h0M169.1 95.2h0M166.2 89.1h0M175.0 86.1h0M177.6 92.4h0M175.2 90.5h0M170.2 92.3h0M171.8 85.4h0M178.2 92.1h0M168.7 83.8h0M168.8 84.5h0M176.2 87.6h0M164.7 88.9h0M174.2 89.8h0M161.8 102.9h0M150.4 99.1h0M160.5 103.4h0M156.0 99.6h0M161.9 100.8h0M160.1 102.8h0M154.9 101.0h0M160.4 97.4h0M155.9 99.5h0M156.3 101.4h0M163.5 102.2h0M162.3 102.3h0M155.5 100.4h0" stroke="#f5c080" stroke-width="1.3" stroke-linecap="round" fill="none" opacity="0.85"/>
<path d="M171.1 85.1h0M167.9 88.0h0M176.8 92.7h0M168.7 92.1h0M170.5 84.5h0M173.7 93.4h0M174.4 88.4h0M178.5 90.9h0M168.9 90.6h0M177.8 89.9h0M162.2 91.0h0M174.1 93.4h0M175.2 85.1h0M155.7 99.6h0M159.5 98.8h0M160.4 100.1h0M165.6 101.5h0M162.7 98.7h0" stroke="#d0a36c" stroke-width="1.3" stroke-linecap="round" fill="none" opacity="0.85"/>
<path d="M172.0 89.9h0M169.9 93.6h0M179.2 88.6h0M172.0 85.6h0M169.5 84.9h0M174.8 91.6h0M161.5 100.9h0M154.4 98.8h0M152.3 99.0h0M159.5 102.5h0M161.7 101.3h0M153.8 99.1h0M160.8 98.7h0" stroke="#f8d2a6" stroke-width="1.3" stroke-linecap="round" fill="none" opacity="0.85"/>
<path d="M168.3 109.1h0M169.7 100.8h0M176.5 108.0h0M168.2 107.7h0M172.8 102.2h0M179.4 100.7h0M172.7 106.5h0M178.7 100.0h0M169.3 106.1h0M170.2 109.2h0M175.8 108.7h0M169.3 109.5h0M168.8 105.5h0M174.4 95.1h0M173.7 97.0h0M168.2 107.1h0M162.4 104.6h0M172.9 105.4h0M178.6 99.9h0M167.7 107.4h0M175.7 107.2h0M173.3 98.1h0M177.3 95.3h0M170.7 99.1h0M177.7 101.5h0M167.3 99.3h0M173.7 103.8h0M166.7 98.3h0M168.8 102.3h0M172.7 110.9h0M169.8 100.2h0M179.5 101.2h0M169.8 99.6h0M176.3 103.8h0M181.5 102.2h0M175.6 111.2h0M173.1 111.2h0M165.6 104.9h0M166.5 100.6h0M173.2 98.3h0M175.8 103.1h0M168.5 108.6h0M167.0 107.3h0M175.6 106.8h0M178.9 102.4h0M179.1 100.8h0M171.6 102.6h0M173.1 101.4h0M172.0 98.4h0M170.5 97.1h0M165.8 108.2h0M173.2 105.9h0M176.9 106.5h0M172.2 100.1h0M173.3 109.8h0M179.4 104.6h0M169.0 101.7h0M179.3 100.7h0M170.3 104.1h0M172.9 107.0h0M172.0 97.2h0M177.2 99.6h0M169.8 105.2h0M174.6 99.8h0M168.4 105.3h0M177.6 107.5h0M172.6 103.4h0M170.0 108.0h0M171.7 109.8h0M178.5 102.1h0M171.8 108.1h0M171.2 99.0h0M179.5 107.2h0M168.2 99.1h0M167.0 101.7h0M173.4 107.9h0M177.1 103.4h0M170.9 97.3h0M170.5 111.4h0M165.4 103.8h0M177.3 106.8h0M176.0 107.8h0M177.7 103.8h0M169.7 100.1h0M169.4 103.4h0M179.0 103.4h0M169.0 112.4h0M177.4 102.2h0M173.7 110.5h0M177.1 99.2h0M167.0 106.9h0M170.3 113.3h0M174.4 98.3h0M174.8 111.6h0M166.5 102.9h0M174.8 100.4h0M167.1 107.9h0M175.5 109.8h0M171.9 98.4h0M167.6 102.2h0M174.2 110.7h0M175.5 110.6h0M171.9 107.7h0M180.2 107.5h0M173.3 107.4h0M167.9 99.1h0M170.2 111.0h0M176.1 103.4h0M179.7 102.0h0M175.7 101.4h0M171.5 107.2h0M171.2 107.5h0M177.8 105.8h0M170.5 100.9h0" stroke="#f0961e" stroke-width="1.3" stroke-linecap="round" fill="none" opacity="0.85"/>
<path d="M177.3 109.4h0M174.2 102.3h0M172.5 104.8h0M172.1 103.5h0M177.4 108.7h0M166.8 105.8h0M172.2 100.2h0M173.3 108.6h0M171.5 100.7h0M175.2 105.5h0M165.5 101.6h0M176.9 106.0h0M167.1 100.4h0M172.3 101.1h0M174.3 100.8h0M174.0 110.5h0M178.1 101.3h0M168.8 105.8h0M172.5 109.5h0M168.7 108.5h0M168.8 103.1h0M177.5 110.1h0M169.7 108.4h0M168.6 101.0h0M169.7 102.3h0" stroke="#f4b561" stroke-width="1.3" stroke-linecap="round" fill="none" opacity="0.85"/>
<path d="M171.9 106.5h0M162.6 104.3h0M180.9 102.4h0M171.0 106.5h0M169.6 110.7h0M177.6 107.7h0M178.2 102.5h0M176.2 100.5h0M171.6 111.0h0M175.4 98.0h0M167.2 100.6h0M169.2 105.9h0M179.3 99.6h0M177.5 106.6h0M175.5 99.5h0M175.1 105.1h0M169.9 110.7h0M174.8 101.8h0M173.0 102.3h0M169.3 103.9h0M173.1 98.3h0M169.6 106.9h0M171.8 108.4h0M171.6 99.9h0M176.3 113.6h0M179.8 104.8h0M174.9 105.9h0M174.5 111.6h0M178.9 102.4h0M175.5 104.5h0M174.6 109.3h0M176.7 99.6h0M173.4 108.7h0M170.6 96.8h0M178.7 104.5h0M178.7 104.2h0M172.6 101.5h0M166.8 103.2h0M167.1 105.1h0M173.4 106.3h0M171.5 107.3h0M173.5 104.0h0M166.6 107.3h0M173.4 100.6h0M164.8 101.5h0" stroke="#cc7f19" stroke-width="1.3" stroke-linecap="round" fill="none" opacity="0.85"/>
<path d="M56.7 150.9h0M43.6 142.6h0M48.9 150.2h0M30.6 156.5h0M27.1 146.8h0M42.5 145.6h0M49.2 151.9h0M38.9 142.4h0M43.7 151.2h0M50.0 150.4h0M55.2 146.7h0M52.6 155.2h0M48.9 156.1h0M52.2 152.4h0M35.6 145.6h0M34.0 154.1h0M46.4 140.3h0M54.0 152.4h0M30.2 147.7h0M36.8 155.0h0M36.1 140.7h0M27.9 144.0h0M49.2 145.3h0M46.6 153.3h0M45.9 151.2h0M45.6 152.8h0M36.5 148.4h0M45.0 143.0h0M57.4 148.5h0M39.2 142.2h0M43.4 149.9h0M44.1 157.9h0M34.2 146.9h0M48.1 142.8h0M42.4 156.9h0M33.9 157.8h0M44.3 144.8h0M46.5 148.2h0M29.2 150.8h0M44.3 139.5h0M40.5 146.2h0M39.5 142.1h0M48.3 143.5h0M45.5 138.1h0M54.3 144.4h0M39.3 148.3h0M47.5 151.9h0M51.0 143.4h0M49.2 141.1h0M31.9 141.4h0M42.0 147.8h0M42.2 155.3h0M51.6 139.4h0M38.7 155.7h0M35.3 155.7h0M50.6 147.1h0M53.7 151.7h0M33.8 145.0h0M40.9 151.8h0M33.7 153.3h0M39.6 142.0h0M36.9 155.8h0M36.8 148.5h0M33.4 150.4h0M50.9 145.0h0M41.6 142.2h0M55.6 141.7h0M35.4 145.4h0M58.3 148.7h0M54.3 140.8h0M48.8 144.9h0M49.2 147.6h0M59.6 144.9h0M34.3 144.4h0M32.8 147.6h0M35.5 145.7h0M50.0 143.2h0M32.5 151.3h0M34.4 146.5h0M48.2 140.1h0M46.8 161.1h0M41.8 148.3h0M47.2 149.2h0M37.5 138.2h0M51.1 146.2h0M53.8 141.1h0M52.1 145.0h0M45.3 153.5h0M36.7 146.2h0M50.3 138.9h0M44.3 155.5h0M46.3 145.6h0M54.3 143.4h0M50.7 153.1h0M49.2 156.0h0M37.0 143.4h0M36.2 160.0h0M32.9 146.1h0M45.0 153.0h0M55.6 148.7h0M35.4 142.4h0M55.8 144.3h0M44.5 146.1h0M32.2 141.7h0M37.5 151.3h0M51.8 141.0h0M44.9 149.5h0M35.3 152.6h0M54.7 142.0h0M53.8 151.1h0M28.2 149.0h0M55.8 144.8h0M34.3 146.4h0M41.3 138.0h0M45.6 141.3h0M36.5 148.1h0M34.8 145.9h0M39.9 150.6h0M44.0 152.6h0M36.5 146.2h0M53.5 147.9h0M43.0 144.5h0M45.4 150.8h0M36.8 151.6h0M50.3 152.8h0M28.7 147.9h0M36.1 138.5h0M53.0 154.8h0M54.4 150.2h0M45.1 151.4h0M52.7 152.9h0M40.1 148.3h0M44.5 147.0h0M44.7 138.2h0M36.0 154.3h0M35.7 152.3h0M48.0 135.2h0M48.0 136.7h0M30.9 153.0h0M44.6 143.1h0M52.7 141.9h0M25.1 145.7h0M51.2 150.3h0M53.5 150.1h0M33.8 144.6h0M30.6 146.4h0M34.6 141.1h0M32.4 146.0h0M47.5 147.6h0M42.3 138.3h0M43.8 139.3h0M44.2 155.2h0M49.7 152.4h0M45.5 151.6h0M48.5 158.2h0M44.2 139.9h0M41.9 151.3h0M39.3 156.0h0M35.3 150.8h0M30.5 149.4h0M46.3 147.4h0M34.9 148.9h0M53.8 143.6h0M46.8 139.9h0M44.4 138.1h0M39.3 139.4h0M44.6 152.7h0M40.0 151.8h0M40.3 154.7h0M39.3 138.4h0M28.9 148.6h0M55.1 151.7h0M51.1 140.8h0M32.0 152.5h0M30.1 153.1h0M40.5 154.0h0M56.2 145.8h0M29.4 149.3h0M44.4 141.8h0M58.1 146.4h0M30.1 154.7h0M50.2 146.2h0M28.8 147.5h0M40.1 136.9h0M53.2 152.9h0M35.2 154.4h0M56.2 143.6h0M32.1 150.0h0M40.9 155.0h0M33.6 147.3h0M42.8 144.8h0M56.0 142.2h0M30.7 147.2h0M44.9 140.1h0M54.7 145.7h0M54.3 150.9h0M51.1 140.3h0M54.6 145.2h0M33.0 142.7h0M27.4 142.8h0M43.9 155.3h0M52.0 142.6h0M38.9 142.3h0M44.2 144.7h0M34.6 154.0h0M30.3 147.4h0M50.8 144.6h0M45.3 148.9h0M32.4 153.9h0M44.9 149.8h0M41.8 153.9h0M46.7 146.8h0M46.5 137.3h0M56.6 151.4h0M36.7 145.4h0M45.5 153.2h0M51.1 149.1h0M53.1 154.2h0M30.2 144.6h0M30.6 148.3h0M52.9 142.8h0M56.7 149.5h0M36.9 146.9h0M30.5 145.2h0M37.9 139.6h0M29.3 141.3h0M27.7 140.0h0M46.9 138.2h0M30.1 144.7h0M34.7 151.8h0M44.3 153.2h0M44.3 157.0h0M53.5 148.3h0M31.2 145.7h0M50.4 147.2h0M38.3 142.2h0M57.1 147.6h0M47.5 152.5h0M28.5 145.0h0M53.4 154.1h0M48.0 144.0h0M59.1 147.5h0M32.9 150.2h0M45.9 138.2h0M35.0 149.4h0M36.8 159.6h0M54.7 145.5h0M31.9 143.7h0M48.8 152.1h0M36.6 153.8h0M50.3 142.4h0M41.8 139.2h0M41.7 147.9h0M41.8 146.0h0M57.6 145.8h0M45.7 151.3h0M41.9 153.8h0M38.4 149.4h0M52.0 140.9h0M32.5 155.5h0M51.6 158.9h0M43.4 138.9h0M47.0 154.5h0M33.6 146.3h0M48.6 143.8h0M37.0 145.1h0M42.1 138.3h0M36.8 143.5h0M31.3 142.9h0M48.0 140.4h0M59.8 146.0h0M53.3 141.7h0M55.0 154.9h0M37.0 155.0h0M48.6 142.9h0M55.8 154.0h0M43.6 145.9h0M45.0 139.1h0M33.2 144.4h0M37.0 150.2h0M32.9 145.3h0M28.9 147.8h0M51.4 150.0h0M44.9 154.5h0M28.6 146.1h0M35.0 139.7h0M39.6 155.5h0M44.9 136.1h0M42.5 148.8h0M45.6 150.6h0M47.1 155.4h0M32.7 143.3h0M35.1 147.3h0M46.3 137.1h0M44.3 137.8h0M51.0 156.9h0M27.3 147.0h0M36.5 143.5h0M47.1 155.8h0M47.3 155.6h0M39.9 149.3h0M52.1 142.5h0M54.5 144.6h0M51.4 154.6h0M29.8 143.8h0M43.1 138.7h0M54.6 144.5h0M39.5 139.1h0M40.2 143.4h0M36.5 139.3h0M45.3 153.9h0M49.5 149.0h0M38.5 149.0h0M36.5 148.4h0M55.5 142.2h0M55.9 147.2h0M43.3 152.6h0M40.1 141.9h0M45.8 141.1h0M41.1 146.2h0M41.4 152.3h0M40.4 154.1h0M41.0 134.8h0M51.1 133.6h0M42.1 137.5h0M47.3 133.3h0M47.7 136.8h0M51.1 136.6h0M48.6 132.4h0M45.0 133.3h0M46.7 137.0h0M45.4 138.9h0M40.7 135.0h0M50.6 136.3h0M44.8 132.2h0M46.5 129.8h0M49.0 138.2h0M40.5 137.6h0M46.6 138.5h0M42.1 132.4h0M46.1 132.7h0M53.4 139.7h0M41.8 130.4h0M39.5 137.3h0M41.4 134.6h0M42.9 134.5h0M43.0 133.8h0M48.0 131.1h0M49.2 135.2h0M52.8 127.6h0M49.7 134.9h0M44.7 135.8h0M43.7 139.3h0M42.9 130.8h0M45.5 131.9h0M47.9 139.1h0M48.3 142.2h0M41.7 132.3h0M48.0 138.1h0M47.8 132.3h0M38.7 132.7h0M40.5 138.4h0M40.5 129.5h0M44.2 135.2h0M50.1 133.2h0M43.3 131.3h0M43.5 141.3h0M47.2 138.1h0M46.4 130.7h0M43.2 133.2h0M44.3 135.1h0M48.4 131.6h0M43.9 134.2h0M43.6 134.4h0M44.9 137.5h0M44.5 136.5h0M41.8 134.0h0M47.5 131.0h0M46.4 134.1h0M43.4 135.8h0M40.1 134.4h0M39.6 136.4h0M43.3 129.7h0M48.9 135.0h0M44.4 131.6h0M47.0 136.7h0M40.6 135.9h0M41.3 136.4h0M41.7 133.8h0M51.9 133.3h0M46.6 138.2h0M41.4 130.4h0M50.0 133.4h0M43.7 132.6h0M49.4 133.3h0M46.9 132.6h0M40.5 137.4h0M51.3 134.5h0M42.9 139.8h0M41.9 131.3h0M50.5 137.2h0M46.4 138.8h0M44.3 134.6h0M40.0 137.7h0M40.9 133.6h0M54.6 136.2h0M41.5 136.1h0M44.2 139.7h0M44.9 133.1h0M41.8 129.4h0M37.2 137.7h0M39.5 133.4h0M46.5 131.3h0M46.3 133.7h0M41.3 139.5h0M48.7 133.8h0M48.3 128.8h0M44.4 141.7h0M43.2 136.8h0M30.7 146.8h0M34.7 149.1h0M28.6 150.3h0M30.7 153.2h0M34.1 148.6h0M30.3 140.8h0M30.8 147.1h0M35.0 145.0h0M31.2 154.1h0M30.1 153.6h0M35.2 148.1h0M28.7 146.9h0M36.9 151.5h0M26.9 150.5h0M35.8 146.6h0M30.0 155.2h0M28.6 148.1h0M32.8 151.5h0M32.3 149.0h0M31.1 145.6h0M36.0 146.0h0M35.0 144.2h0M26.6 150.7h0M36.4 150.1h0M32.5 144.0h0M29.3 141.9h0M32.7 151.6h0M33.3 155.9h0M28.1 153.1h0M28.2 146.3h0M32.0 142.9h0M34.2 152.3h0M35.5 151.1h0M32.7 143.4h0M37.0 149.0h0M32.7 151.7h0M30.1 154.5h0M34.5 146.9h0M34.4 153.1h0M33.1 144.9h0M29.3 153.8h0M34.0 145.1h0M29.0 147.8h0M36.2 144.4h0M33.8 146.0h0M28.9 147.1h0M29.5 151.8h0M35.5 145.9h0M35.9 148.7h0M32.9 140.3h0M30.5 150.4h0M28.2 151.5h0M32.6 143.1h0M30.1 141.3h0M29.7 147.0h0M30.8 154.5h0M35.8 151.0h0M32.1 144.7h0M27.4 145.6h0M31.9 153.2h0M29.5 148.2h0M30.6 152.4h0M36.7 144.9h0M27.2 148.3h0M36.6 146.7h0M37.8 145.9h0M28.3 151.3h0M26.8 150.4h0M33.9 148.7h0M33.6 143.6h0M34.3 145.7h0M35.3 150.3h0M31.7 149.8h0M34.6 150.1h0M31.8 152.5h0M31.8 151.5h0M35.3 141.8h0M27.1 151.9h0M31.8 146.7h0M29.4 148.1h0M32.2 144.2h0M30.5 145.3h0M33.3 154.1h0M31.7 150.7h0" stroke="#c65c74" stroke-width="1.3" stroke-linecap="round" fill="none" opacity="0.85"/>
<path d="M42.4 141.1h0M45.2 134.9h0M44.1 155.5h0M31.5 153.1h0M49.7 148.9h0M45.9 138.6h0M50.2 142.7h0M40.8 156.2h0M53.6 140.4h0M35.5 145.7h0M41.7 151.8h0M32.6 148.6h0M43.4 144.6h0M44.2 148.0h0M40.4 149.0h0M44.6 150.8h0M38.5 156.3h0M27.3 143.9h0M25.3 144.0h0M44.3 150.3h0M47.3 145.3h0M44.8 153.2h0M34.2 138.0h0M34.7 151.6h0M50.7 152.9h0M38.4 156.0h0M38.0 139.1h0M51.2 144.7h0M35.4 141.8h0M28.9 146.0h0M39.7 156.1h0M35.2 140.4h0M38.3 143.8h0M53.5 153.5h0M40.5 143.0h0M46.9 155.7h0M51.8 144.4h0M43.2 148.8h0M45.1 139.3h0M31.0 143.4h0M37.0 145.9h0M57.7 152.4h0M52.8 144.9h0M39.8 153.3h0M53.4 140.1h0M36.8 156.4h0M34.5 154.1h0M47.7 144.7h0M39.1 145.7h0M47.4 141.4h0M47.2 144.6h0M50.9 147.2h0M38.9 150.2h0M25.5 140.5h0M38.9 151.1h0M42.4 146.2h0M48.1 149.0h0M45.9 147.8h0M44.4 152.6h0M43.3 147.2h0M38.6 157.0h0M58.4 145.8h0M54.5 143.0h0M33.6 137.6h0M49.7 139.7h0M44.3 148.8h0M46.2 147.1h0M43.7 156.4h0M44.5 145.5h0M43.2 157.4h0M46.9 155.1h0M40.7 147.1h0M46.3 147.0h0M25.5 149.1h0M54.4 148.7h0M47.7 140.2h0M40.1 141.7h0M42.8 140.4h0M33.2 146.2h0M51.4 145.9h0M37.3 154.9h0M47.7 155.7h0M52.9 143.5h0M44.2 145.7h0M51.8 145.5h0M37.4 145.4h0M49.5 155.3h0M37.9 149.2h0M45.5 146.3h0M53.7 141.2h0M48.3 135.4h0M53.1 134.5h0M45.5 133.1h0M39.3 138.1h0M44.6 139.5h0M51.5 134.1h0M47.9 137.9h0M47.1 138.6h0M42.6 135.4h0M42.3 131.7h0M43.2 137.7h0M46.9 132.0h0M41.9 133.8h0M39.7 134.4h0M53.4 134.3h0M43.9 135.0h0M40.0 135.5h0M46.3 138.6h0M49.3 138.0h0M41.9 130.4h0M51.7 131.6h0M41.4 136.8h0M44.7 131.5h0M50.8 133.8h0M29.7 148.7h0M31.0 150.4h0M27.4 147.8h0M33.8 145.9h0M36.9 149.6h0M28.9 144.1h0M32.5 145.2h0M34.3 149.0h0M31.0 153.7h0M37.7 144.9h0M33.9 144.9h0M34.4 146.4h0M35.8 155.2h0M31.9 154.3h0M34.2 143.9h0M35.9 144.1h0" stroke="#d78c9d" stroke-width="1.3" stroke-linecap="round" fill="none" opacity="0.85"/>
<path d="M37.5 156.5h0M56.4 137.8h0M33.7 147.2h0M43.8 154.3h0M47.2 147.1h0M56.6 148.4h0M54.8 154.4h0M30.4 147.8h0M45.7 139.6h0M52.8 147.4h0M48.9 156.1h0M37.0 152.0h0M26.9 141.9h0M37.3 142.1h0M48.2 148.7h0M52.5 140.4h0M46.3 156.6h0M33.6 153.1h0M50.7 157.8h0M51.1 154.6h0M45.6 138.2h0M38.9 157.7h0M52.5 139.8h0M49.8 153.4h0M45.7 144.6h0M47.1 144.0h0M33.0 145.5h0M49.7 151.7h0M49.7 153.5h0M55.9 148.6h0M52.8 147.5h0M37.0 155.7h0M41.7 138.6h0M54.1 151.1h0M58.0 146.3h0M52.7 150.1h0M37.7 156.6h0M41.0 146.2h0M45.5 149.9h0M45.1 140.8h0M56.7 148.6h0M33.3 145.7h0M34.1 140.3h0M40.3 135.6h0M38.7 157.8h0M39.0 149.6h0M42.3 152.9h0M54.8 144.6h0M43.1 141.3h0M49.3 146.8h0M42.8 143.4h0M38.4 154.7h0M40.3 154.4h0M45.7 144.2h0M46.9 159.5h0M40.6 139.8h0M54.9 150.7h0M29.1 144.2h0M41.4 140.6h0M53.9 142.1h0M34.4 149.0h0M30.6 142.5h0M55.0 149.4h0M38.4 137.8h0M38.4 152.2h0M51.6 145.7h0M55.6 142.3h0M33.4 141.8h0M46.4 156.3h0M45.6 158.9h0M31.8 136.9h0M32.2 143.6h0M48.7 146.7h0M45.2 139.4h0M42.2 146.6h0M53.6 140.6h0M53.5 155.2h0M57.1 145.9h0M21.1 147.2h0M34.3 148.2h0M33.5 145.8h0M55.0 145.7h0M36.8 139.6h0M36.4 151.8h0M43.5 146.5h0M51.8 152.1h0M40.7 142.0h0M37.1 139.1h0M35.2 143.4h0M48.0 149.5h0M38.3 147.6h0M37.7 147.6h0M35.1 144.6h0M39.9 141.7h0M55.6 143.4h0M39.2 141.8h0M45.2 155.1h0M51.4 154.8h0M46.1 155.2h0M38.6 154.6h0M50.0 141.6h0M40.3 144.1h0M47.4 137.2h0M45.1 131.3h0M42.6 135.1h0M49.3 139.5h0M33.4 132.1h0M43.1 140.0h0M42.2 136.1h0M44.2 134.6h0M47.7 136.2h0M40.4 136.4h0M35.2 135.7h0M46.9 136.4h0M42.8 139.5h0M42.3 137.3h0M45.8 131.4h0M49.2 137.9h0M46.6 131.6h0M41.2 140.5h0M50.3 140.4h0M38.9 133.9h0M47.8 134.5h0M29.6 149.7h0M34.2 153.7h0M29.0 153.2h0M25.8 148.0h0M36.2 152.5h0M33.7 142.1h0M31.1 148.8h0M34.0 155.9h0M33.6 148.2h0M30.1 143.5h0M27.1 148.8h0M35.3 152.8h0M34.9 145.4h0M31.1 151.9h0M36.5 149.5h0M34.4 148.2h0M27.5 143.6h0M31.9 142.8h0M35.5 151.6h0M30.2 145.1h0M31.4 141.6h0M29.8 148.8h0" stroke="#a84e62" stroke-width="1.3" stroke-linecap="round" fill="none" opacity="0.85"/>
<path d="M87.8 150.1h0M52.2 147.6h0M75.5 143.3h0M73.2 142.5h0M78.4 145.6h0M67.7 137.3h0M78.2 152.3h0M61.4 141.4h0M65.6 153.6h0M72.0 141.5h0M71.9 155.2h0M60.2 140.2h0M70.6 148.8h0M52.3 153.5h0M66.9 150.4h0M76.3 139.3h0M75.3 146.0h0M68.6 140.5h0M67.7 155.1h0M75.1 155.9h0M64.3 138.6h0M73.8 154.9h0M75.9 139.1h0M77.7 150.8h0M59.1 149.1h0M71.8 145.1h0M70.0 140.7h0M64.2 152.6h0M67.8 153.7h0M73.2 140.0h0M68.8 139.7h0M70.1 155.0h0M80.8 142.2h0M58.3 145.9h0M77.7 140.5h0M64.2 138.5h0M69.6 137.2h0M71.1 153.6h0M70.1 143.1h0M79.7 142.0h0M72.3 144.4h0M64.1 140.4h0M71.0 143.8h0M75.5 142.9h0M67.0 153.6h0M66.0 143.8h0M72.6 153.9h0M69.8 134.6h0M61.7 139.6h0M68.0 156.3h0M80.0 148.1h0M63.9 147.4h0M85.3 146.7h0M82.1 144.0h0M68.8 138.8h0M79.4 148.7h0M70.0 148.3h0M59.2 148.7h0M77.2 150.7h0M73.2 154.0h0M81.3 151.9h0M78.8 147.3h0M75.4 144.2h0M69.5 152.4h0M84.9 148.4h0M61.9 144.0h0M72.0 145.8h0M71.6 142.7h0M68.9 141.0h0M68.5 155.1h0M62.3 148.3h0M72.2 145.8h0M79.2 145.9h0M65.8 142.4h0M66.4 150.4h0M69.6 154.0h0M68.2 152.2h0M60.7 144.4h0M69.5 147.2h0M84.2 155.0h0M68.6 143.6h0M65.5 152.5h0M57.8 142.6h0M74.1 142.2h0M67.6 140.6h0M82.6 154.1h0M68.1 152.7h0M75.0 144.6h0M65.8 157.3h0M68.2 154.2h0M76.6 143.0h0M58.8 147.2h0M74.8 153.0h0M62.9 147.1h0M77.7 143.1h0M70.0 156.3h0M73.4 156.4h0M62.1 151.9h0M56.2 145.6h0M78.2 154.7h0M64.5 153.3h0M54.0 149.4h0M87.8 142.4h0M71.9 148.9h0M70.6 157.7h0M68.5 150.6h0M78.3 157.6h0M68.1 138.2h0M66.4 149.5h0M79.4 152.7h0M64.2 148.3h0M72.3 138.1h0M62.0 143.2h0M60.8 142.2h0M68.9 137.2h0M77.0 148.1h0M59.7 157.6h0M68.0 141.2h0M63.3 139.1h0M72.4 143.5h0M60.0 150.1h0M83.0 151.9h0M58.6 140.8h0M72.7 146.0h0M58.7 153.0h0M50.6 138.9h0M54.3 149.3h0M72.2 154.4h0M60.3 152.2h0M56.6 145.3h0M71.4 150.1h0M64.9 140.3h0M72.8 153.2h0M94.9 147.2h0M81.9 144.7h0M71.1 150.9h0M54.7 155.0h0M69.7 157.2h0M69.3 138.3h0M57.5 152.0h0M71.6 149.1h0M56.5 146.1h0M62.4 154.3h0M61.7 150.8h0M60.2 141.5h0M71.7 150.3h0M57.4 143.2h0M81.2 156.6h0M82.3 144.8h0M84.2 147.5h0M63.1 144.6h0M76.4 141.5h0M62.9 147.3h0M75.0 140.3h0M78.8 146.0h0M60.0 139.5h0M79.8 140.9h0M71.1 155.4h0M75.9 146.6h0M62.4 145.1h0M88.8 144.6h0M53.7 145.8h0M84.6 145.0h0M83.6 152.0h0M77.4 145.7h0M68.4 149.6h0M69.1 137.6h0M67.2 137.9h0M72.5 146.2h0M60.9 143.4h0M71.9 151.1h0M57.9 149.4h0M70.1 138.4h0M75.2 137.6h0M65.5 148.5h0M80.1 149.2h0M71.0 138.2h0M82.5 139.4h0M67.8 151.4h0M80.5 141.1h0M59.4 148.9h0M64.1 140.4h0M83.2 147.4h0M65.6 155.1h0M77.6 144.4h0M80.5 153.4h0M59.6 145.1h0M79.4 146.3h0M80.2 142.0h0M73.7 155.8h0M80.5 150.6h0M57.7 146.4h0M56.3 148.8h0M59.2 145.6h0M56.4 148.5h0M65.8 151.1h0M82.5 144.5h0M74.9 152.2h0M76.1 152.5h0M55.6 140.2h0M65.5 140.2h0M84.8 144.7h0M76.6 156.9h0M72.9 147.6h0M67.5 157.4h0M63.5 144.4h0M79.5 142.1h0M55.9 146.9h0M58.2 144.1h0M63.6 152.0h0M78.0 140.2h0M76.7 150.5h0M83.3 145.8h0M58.0 152.9h0M76.4 142.8h0M61.7 151.9h0M76.2 147.5h0M77.2 140.8h0M70.0 144.2h0M69.4 145.1h0M89.7 148.2h0M81.1 142.6h0M71.1 150.4h0M82.6 146.1h0M71.9 152.7h0M75.4 155.0h0M66.5 138.6h0M61.8 146.0h0M62.4 144.4h0M69.7 156.6h0M81.7 141.1h0M73.3 145.1h0M56.0 147.9h0M67.4 142.3h0M84.6 145.2h0M68.4 138.9h0M81.6 148.6h0M56.1 135.4h0M75.9 144.7h0M80.7 142.4h0M65.3 140.2h0M86.9 142.7h0M77.4 152.9h0M54.3 137.5h0M77.6 139.7h0M84.3 147.2h0M76.4 138.3h0M71.8 143.6h0M58.2 151.2h0M74.9 137.6h0M61.4 148.9h0M66.8 141.7h0M69.8 152.1h0M53.9 148.9h0M80.4 153.2h0M74.2 135.2h0M76.0 141.3h0M61.8 141.1h0M73.3 140.4h0M73.1 138.0h0M84.0 143.7h0M83.7 149.4h0M52.1 145.4h0M56.2 134.4h0M66.9 148.1h0M64.9 147.6h0M64.6 153.3h0M71.0 139.5h0M75.4 149.7h0M81.1 151.5h0M59.3 148.8h0M65.9 140.1h0M55.6 147.6h0M72.0 142.0h0M55.5 142.3h0M74.4 150.1h0M81.2 137.5h0M79.4 154.8h0M63.2 144.4h0M71.3 138.1h0M85.1 154.9h0M80.0 148.3h0M77.9 149.5h0M57.5 141.6h0M74.9 141.6h0M85.7 147.4h0M76.1 150.4h0M80.6 150.4h0M69.5 156.9h0M57.9 149.9h0M66.5 138.2h0M62.3 154.2h0M65.6 148.1h0M78.0 141.6h0M62.7 154.9h0M67.4 153.0h0M73.5 145.0h0M75.3 143.4h0M62.6 135.2h0M65.3 155.7h0M84.2 143.2h0M84.1 144.8h0M69.3 152.1h0M76.7 143.9h0M60.6 140.0h0M74.4 150.2h0M82.7 147.0h0M81.5 151.9h0M81.4 153.9h0M68.2 136.8h0M75.2 145.8h0M74.6 139.8h0M81.8 145.0h0M71.5 149.5h0M67.4 148.2h0M59.4 149.9h0M64.8 137.9h0M59.8 147.9h0M77.0 138.7h0" stroke="#e37890" stroke-width="1.3" stroke-linecap="round" fill="none" opacity="0.85"/>
<path d="M73.4 138.3h0M78.4 145.1h0M63.2 148.1h0M75.3 145.8h0M57.9 148.3h0M83.7 145.6h0M69.8 138.6h0M65.1 144.7h0M82.7 146.3h0M72.1 156.6h0M81.5 152.7h0M75.3 150.6h0M63.1 140.0h0M67.5 144.3h0M80.4 142.2h0M60.8 143.3h0M77.9 150.9h0M76.3 144.9h0M82.1 147.9h0M74.1 145.0h0M82.4 153.0h0M60.3 146.4h0M54.4 149.3h0M63.4 142.3h0M74.3 148.7h0M54.8 151.8h0M86.0 149.2h0M63.6 141.5h0M51.9 150.4h0M73.2 144.5h0M58.5 147.1h0M78.8 140.2h0M67.8 152.7h0M60.6 140.7h0M66.2 140.7h0M62.9 147.7h0M71.8 151.5h0M69.7 146.7h0M77.8 149.4h0M69.9 137.9h0M61.0 140.1h0M84.4 151.0h0M81.0 143.2h0M54.1 154.3h0M85.0 146.1h0M78.1 144.1h0M64.5 151.0h0M57.4 142.2h0M64.8 151.8h0M66.0 152.4h0M79.9 146.5h0M77.9 144.2h0M84.7 148.2h0M71.6 156.2h0M79.9 154.3h0M67.2 147.9h0M84.1 146.8h0M57.1 145.2h0M67.2 139.8h0M84.4 150.4h0M83.6 150.5h0M70.4 148.6h0M77.1 142.8h0M58.1 147.3h0M59.9 145.5h0M68.8 141.0h0M68.7 142.8h0M64.9 152.1h0M78.0 145.6h0M66.4 138.8h0M72.8 136.3h0M79.4 152.9h0M67.1 147.7h0M78.7 149.1h0M63.1 140.8h0M57.6 137.7h0M60.1 152.0h0M56.0 150.8h0M56.7 148.2h0M83.4 148.1h0M58.6 141.1h0M71.5 139.0h0M82.6 150.1h0M75.8 148.0h0M70.3 151.8h0M84.8 144.7h0M64.6 150.3h0M61.9 147.6h0M60.9 156.4h0M70.7 155.4h0M80.2 152.3h0M58.6 151.8h0M67.1 144.1h0M68.7 143.9h0M70.6 147.7h0M74.1 150.9h0M59.0 151.1h0M65.9 155.3h0M77.8 144.2h0" stroke="#c0667a" stroke-width="1.3" stroke-linecap="round" fill="none" opacity="0.85"/>
<path d="M56.0 151.1h0M59.2 149.6h0M61.7 139.3h0M79.1 147.1h0M56.1 144.2h0M70.4 151.3h0M82.9 149.1h0M74.8 148.9h0M73.6 143.5h0M55.9 143.3h0M68.4 142.1h0M71.4 142.5h0M75.9 149.9h0M68.4 145.0h0M75.0 142.1h0M65.6 138.7h0M64.2 138.9h0M57.6 145.3h0M85.3 150.6h0M79.5 147.7h0M66.5 149.1h0M80.5 139.1h0M82.2 144.0h0M79.1 151.8h0M69.7 149.7h0M86.3 149.6h0M76.0 150.9h0M73.9 158.1h0M67.2 160.7h0M71.8 147.7h0M62.3 153.9h0M76.2 145.9h0M80.4 143.7h0M80.6 153.8h0M61.2 153.9h0M72.8 151.8h0M61.5 149.0h0M68.7 139.4h0M66.1 141.4h0M79.8 140.8h0M79.5 151.5h0M57.3 153.4h0M67.5 153.8h0M66.8 140.4h0M80.6 148.8h0M56.2 148.5h0M56.7 145.3h0M61.8 147.3h0M85.1 133.5h0M57.0 143.4h0M48.3 155.5h0M84.4 145.5h0M84.3 152.1h0M64.9 145.4h0M85.0 150.3h0M69.7 147.7h0M67.0 149.6h0M65.6 138.8h0M56.1 147.7h0M68.6 154.9h0M76.3 146.0h0M55.7 147.6h0M77.7 146.0h0M78.7 142.2h0M53.6 150.6h0M80.2 143.9h0M49.8 140.2h0M57.0 149.2h0M70.1 146.2h0" stroke="#eba0b1" stroke-width="1.3" stroke-linecap="round" fill="none" opacity="0.85"/>
<path d="M76.9 165.9h0M71.3 161.7h0M69.6 155.5h0M75.9 172.3h0M84.2 151.8h0M85.7 167.0h0M81.6 174.7h0M83.0 149.4h0M73.7 164.3h0M62.0 164.3h0M82.9 163.3h0M81.7 169.6h0M85.7 171.5h0M68.2 171.9h0M79.1 167.1h0M102.4 171.2h0M71.3 167.8h0M93.5 157.6h0M77.6 161.1h0M73.2 162.3h0M83.8 170.2h0M74.0 162.4h0M71.4 155.0h0M72.0 172.6h0M69.7 162.8h0M65.7 165.8h0M89.8 174.6h0M72.3 168.2h0M74.7 156.3h0M79.1 164.5h0M88.9 166.8h0M80.9 164.1h0M97.4 165.9h0M98.6 167.7h0M84.8 165.4h0M87.0 162.3h0M74.9 167.6h0M93.7 152.2h0M84.0 155.4h0M66.7 161.3h0M63.0 164.4h0M98.3 166.6h0M87.5 152.2h0M66.1 165.7h0M68.6 165.7h0M85.7 174.1h0M77.3 164.1h0M79.2 153.2h0M71.4 148.4h0M85.3 156.3h0M86.3 155.9h0M93.7 157.4h0M90.4 166.1h0M86.3 168.1h0M73.8 170.1h0M84.4 173.7h0M95.3 169.8h0M100.1 173.6h0M70.6 158.2h0M99.2 165.5h0M82.6 162.9h0M80.6 166.1h0M65.4 161.3h0M75.2 163.0h0M82.7 174.4h0M83.4 157.0h0M65.3 162.3h0M69.6 157.7h0M75.5 167.3h0M82.1 166.3h0M75.9 155.2h0M85.9 162.5h0M70.7 165.2h0M92.9 154.3h0M100.0 166.8h0M74.0 165.1h0M76.2 176.4h0M83.7 171.8h0M87.3 154.8h0M78.8 158.1h0M92.0 161.6h0M67.6 163.7h0M83.9 175.0h0M66.8 164.6h0M66.6 173.8h0M89.5 187.5h0M84.5 169.4h0M90.4 178.9h0M73.4 171.4h0M77.3 158.5h0M69.3 159.4h0M96.0 156.3h0M72.1 165.5h0M104.6 172.3h0M65.4 157.8h0M93.4 160.8h0M86.1 169.2h0M87.1 171.4h0M86.2 163.9h0M85.1 163.4h0M87.7 168.1h0M79.9 161.7h0M66.9 162.8h0M88.5 158.2h0M67.8 166.2h0M67.2 169.5h0M94.2 164.7h0M92.3 161.7h0M78.7 154.4h0M98.3 167.0h0M82.0 164.8h0M75.6 152.5h0M75.2 166.4h0M85.7 167.6h0M91.4 165.5h0M80.2 164.2h0M92.9 160.3h0M67.3 168.7h0M85.9 168.3h0M77.6 162.4h0M94.4 166.8h0M76.1 171.0h0M80.9 167.3h0M89.0 171.1h0M83.8 177.6h0M74.2 172.0h0M84.5 157.3h0M84.9 161.0h0M90.7 160.2h0M93.8 163.2h0M98.2 159.9h0M95.5 158.9h0M75.2 162.9h0M78.6 156.9h0M77.1 161.5h0M94.0 161.8h0M85.4 158.5h0M74.0 153.0h0M70.3 165.2h0M70.9 171.1h0M77.9 162.6h0M68.6 154.0h0M88.4 166.7h0M68.2 161.6h0M90.8 166.9h0M85.5 160.7h0M78.0 163.1h0M83.4 164.5h0M71.8 169.6h0M84.6 166.8h0M72.8 165.4h0M92.5 167.5h0M73.0 169.8h0M66.4 155.2h0M79.5 150.7h0M84.8 152.7h0M85.2 156.2h0M95.3 161.0h0M81.3 174.2h0M69.2 159.0h0M90.7 170.3h0M70.3 169.9h0M80.8 162.3h0M75.5 153.1h0M83.4 168.8h0M85.4 179.6h0M71.5 180.1h0M98.8 163.9h0M98.8 164.8h0M66.4 164.8h0M63.3 166.1h0M89.3 153.7h0M79.6 160.9h0M79.8 169.1h0M92.3 162.3h0M92.4 165.6h0M72.9 155.6h0M88.8 166.3h0M66.4 162.9h0M77.0 161.7h0M74.5 156.2h0M91.1 174.5h0M82.7 176.0h0M80.0 164.9h0M90.3 168.9h0M80.6 179.7h0M81.5 167.3h0M77.9 161.5h0M57.9 175.5h0M80.8 163.9h0M71.0 159.4h0M65.4 166.7h0M95.9 156.6h0M90.4 175.9h0M94.4 171.5h0M95.4 172.2h0M83.4 159.9h0M90.0 158.7h0M74.6 173.8h0M72.3 173.8h0M69.1 166.8h0M80.8 179.2h0M93.2 172.8h0M75.8 173.9h0M80.3 171.2h0M87.6 172.9h0M84.1 170.9h0M93.4 160.3h0M81.8 165.7h0M94.9 173.0h0M80.0 177.0h0M69.6 166.8h0M81.3 178.2h0M86.1 153.8h0M75.3 157.3h0M65.7 167.9h0M72.2 173.2h0M83.3 173.8h0M72.0 163.1h0M75.3 154.9h0M94.7 157.2h0M87.5 167.4h0M69.6 161.8h0M82.5 159.9h0M76.9 170.6h0M71.9 161.5h0M74.6 153.0h0M77.6 168.3h0M91.4 154.7h0M90.1 160.6h0M66.5 169.6h0M90.1 158.9h0M83.7 163.4h0M100.1 165.3h0M80.2 155.3h0M81.6 163.5h0M79.1 148.3h0M88.1 163.9h0M71.0 159.9h0M82.8 168.8h0M90.2 162.4h0M93.1 169.0h0M79.2 176.0h0M92.4 162.7h0M78.7 150.0h0M87.6 167.9h0M72.6 178.5h0M87.9 166.8h0M79.9 158.9h0M89.4 179.4h0M94.1 169.3h0M86.4 176.6h0M89.3 168.9h0M69.0 158.4h0M75.9 168.4h0M87.9 167.4h0M75.4 152.4h0M93.1 171.3h0M84.7 152.0h0M69.9 152.1h0M78.7 171.4h0M68.4 159.1h0M77.4 166.2h0M80.4 157.1h0M98.5 166.8h0M93.8 167.1h0M68.1 162.2h0M86.3 160.3h0M93.1 156.0h0M69.5 174.5h0M77.3 177.0h0M92.8 162.8h0M76.5 171.2h0M95.7 158.4h0M97.0 156.4h0M90.7 166.3h0M82.3 170.3h0M84.4 177.4h0M87.0 153.7h0M75.1 155.4h0M87.1 165.4h0M79.9 155.1h0M85.2 165.7h0M86.8 153.3h0M68.5 172.5h0M82.5 155.3h0M68.6 164.4h0M88.4 167.6h0M73.7 158.7h0M73.1 154.7h0M65.0 171.0h0M94.0 165.4h0M94.3 165.6h0M70.5 156.4h0M72.7 152.0h0M74.6 156.9h0M81.2 157.9h0M91.2 167.3h0M71.2 157.1h0M84.0 168.4h0M78.2 157.1h0M85.0 160.8h0M95.8 177.2h0M92.2 153.3h0M96.8 166.9h0M75.3 164.9h0M71.7 173.6h0M78.2 157.5h0M82.9 166.4h0M76.1 162.4h0M95.3 167.6h0M78.6 149.2h0M92.8 160.0h0M72.3 159.6h0M80.1 170.3h0M75.0 164.1h0M65.8 170.1h0M81.7 164.9h0M81.0 173.4h0M72.5 174.8h0M93.3 155.9h0M100.5 164.5h0M73.3 159.2h0M79.5 181.6h0M81.2 161.8h0M70.7 163.9h0M76.5 159.4h0M76.8 160.8h0M90.5 160.6h0M81.7 153.2h0M88.3 172.1h0M78.0 165.6h0M85.3 175.4h0M85.3 153.6h0M90.1 171.8h0M67.7 163.8h0M76.9 171.3h0M89.2 167.5h0M77.7 151.8h0M91.0 163.8h0M73.4 161.2h0M93.2 174.9h0M75.9 163.7h0M78.5 167.6h0M83.4 161.7h0M86.3 168.9h0M90.0 169.4h0M74.9 170.7h0M85.8 169.8h0M91.7 154.8h0M93.7 170.7h0M76.3 160.1h0M90.6 176.2h0M64.1 167.4h0M96.0 171.2h0M69.3 169.2h0M95.4 169.9h0M91.7 161.4h0M71.2 169.1h0M82.0 155.3h0M95.9 169.8h0M81.0 160.2h0M87.6 171.6h0M67.3 168.0h0M67.0 183.6h0M90.2 152.9h0M97.4 159.5h0M94.1 157.5h0M94.5 167.0h0M81.0 170.5h0M87.7 170.1h0M70.8 165.0h0M95.2 157.9h0M72.8 170.6h0M73.7 159.1h0M70.8 163.3h0M68.9 161.7h0M88.0 165.6h0M77.8 175.2h0M95.0 167.4h0M83.5 170.5h0M76.7 168.7h0M85.1 170.0h0M86.3 152.9h0M74.2 166.0h0M81.8 166.3h0M82.1 154.4h0M78.1 154.5h0M102.1 174.8h0M68.4 157.5h0M95.5 159.8h0M89.9 160.1h0M101.2 171.2h0M76.2 161.2h0M94.5 155.8h0M92.9 152.0h0M70.8 155.9h0M77.2 173.4h0M77.6 158.3h0M94.8 162.8h0M81.8 162.2h0M67.3 163.8h0M95.9 162.7h0M90.8 172.0h0M89.2 153.6h0M94.6 157.1h0M73.4 161.5h0M91.8 161.0h0M98.3 166.1h0M73.4 170.0h0M87.8 163.1h0M87.0 153.8h0M70.9 153.1h0M99.9 160.7h0M89.0 148.5h0M69.9 165.5h0M84.4 177.4h0M65.2 169.3h0M65.5 166.6h0M75.4 173.9h0M59.9 163.6h0M76.1 177.4h0M91.7 174.4h0M85.5 165.7h0M82.4 167.7h0" stroke="#c0c6dc" stroke-width="1.3" stroke-linecap="round" fill="none" opacity="0.85"/>
<path d="M79.2 160.3h0M77.5 168.1h0M90.0 162.3h0M72.3 158.1h0M83.7 175.8h0M88.4 154.4h0M80.0 166.0h0M57.7 161.1h0M85.9 175.9h0M75.0 153.8h0M89.8 166.3h0M89.0 156.4h0M84.3 162.9h0M63.2 171.0h0M99.5 155.1h0M71.1 154.6h0M86.1 170.5h0M80.4 164.7h0M79.1 169.2h0M73.3 164.9h0M85.7 159.8h0M81.4 164.4h0M88.0 172.7h0M79.1 153.2h0M80.3 172.3h0M75.9 167.1h0M65.2 165.1h0M64.2 157.4h0M68.4 169.3h0M62.6 149.2h0M92.0 168.4h0M76.0 175.9h0M69.1 155.4h0M86.8 175.6h0M72.5 170.1h0M80.8 173.3h0M76.3 158.0h0M81.6 170.4h0M77.2 172.6h0M76.1 155.7h0M92.2 173.6h0M83.8 153.1h0M97.7 167.2h0M87.0 156.7h0M80.3 168.8h0M91.7 170.3h0M81.2 171.1h0M92.4 158.3h0M89.1 171.7h0M97.6 157.1h0M92.9 173.4h0M75.1 157.0h0M77.6 167.8h0M82.7 169.9h0M81.2 164.2h0M87.9 172.7h0M68.5 156.1h0M86.7 175.6h0M87.0 176.9h0M65.0 163.5h0M99.2 159.2h0M89.4 164.6h0M77.5 152.8h0M86.3 163.7h0M68.9 167.7h0M84.3 166.1h0M88.3 155.6h0M98.9 154.8h0M85.9 157.6h0M93.4 155.8h0M93.0 172.7h0M99.1 165.9h0M86.3 162.0h0M68.9 162.6h0M94.6 167.9h0M84.8 172.3h0M91.8 161.6h0M91.7 153.6h0M73.4 170.2h0M73.9 160.1h0M74.2 174.6h0M89.5 161.0h0M88.2 166.1h0M74.1 156.0h0M81.2 166.3h0M85.3 167.3h0M90.4 156.8h0M87.1 164.0h0M80.8 164.1h0M81.7 164.3h0M91.2 170.2h0M68.8 168.9h0M75.4 173.4h0M82.3 156.6h0M73.1 162.2h0M98.4 158.8h0M70.4 159.4h0M94.7 159.1h0M77.4 154.6h0M77.4 154.5h0M75.8 154.5h0M81.7 160.6h0M76.9 172.5h0M84.3 160.6h0M69.1 167.6h0M87.4 161.6h0M76.7 153.4h0M77.3 176.2h0M69.2 151.6h0M75.0 156.8h0M71.7 164.7h0M65.7 164.7h0M95.2 173.1h0M70.6 165.6h0M96.2 158.7h0M98.9 168.3h0M83.2 154.8h0M93.7 175.0h0M84.8 156.6h0M86.0 176.7h0M72.7 169.2h0M84.3 150.9h0M95.4 168.7h0M90.2 170.6h0M69.4 156.2h0M93.7 159.3h0M87.3 170.8h0M76.3 162.9h0M89.7 153.3h0M94.2 157.1h0M95.0 171.0h0M74.0 174.5h0M78.3 178.6h0M67.7 160.2h0M99.4 165.4h0M94.4 157.3h0M76.7 150.0h0M72.5 170.4h0M71.2 173.8h0M71.5 170.8h0M98.8 162.3h0M76.3 167.0h0M93.6 169.1h0M98.8 161.1h0M92.8 166.4h0M70.0 170.0h0M92.8 173.0h0M70.8 153.9h0M89.5 159.7h0M84.2 158.9h0M68.7 172.6h0" stroke="#a3a8bb" stroke-width="1.3" stroke-linecap="round" fill="none" opacity="0.85"/>
<path d="M66.2 162.6h0M88.3 174.6h0M74.9 166.4h0M91.8 155.4h0M79.0 160.4h0M92.5 166.5h0M79.6 169.2h0M80.2 155.1h0M65.3 165.2h0M74.3 166.7h0M85.0 176.0h0M78.1 179.3h0M81.3 160.3h0M73.3 169.7h0M106.2 174.3h0M69.8 161.7h0M84.4 161.4h0M67.2 170.3h0M77.8 166.0h0M82.1 175.6h0M87.9 177.9h0M69.9 162.0h0M71.0 156.9h0M69.0 158.4h0M76.9 165.5h0M81.6 165.3h0M86.1 158.0h0M93.9 163.7h0M75.4 172.4h0M90.3 175.0h0M97.8 164.2h0M93.6 168.4h0M94.5 161.5h0M85.8 147.0h0M87.8 171.6h0M73.6 171.1h0M90.9 164.8h0M76.3 158.1h0M80.4 159.7h0M75.6 155.8h0M70.1 175.9h0M72.2 158.6h0M74.4 154.1h0M83.4 171.6h0M80.6 169.3h0M77.4 160.8h0M82.9 173.6h0M91.2 163.9h0M75.6 162.2h0M74.7 158.4h0M83.2 152.3h0M85.8 173.2h0M80.8 174.8h0M76.8 160.0h0M95.6 176.1h0M97.7 168.0h0M79.0 180.6h0M71.2 174.8h0M84.8 159.2h0M87.3 161.2h0M92.6 162.1h0M94.4 174.2h0M72.4 166.9h0M85.3 177.4h0M85.1 163.5h0M93.2 170.3h0M66.5 168.6h0M83.1 169.9h0M78.9 155.4h0M85.6 159.5h0M95.1 163.6h0M86.4 170.5h0M88.1 173.4h0M80.3 167.0h0M90.0 169.2h0M94.8 163.5h0M88.3 149.2h0M71.2 175.0h0M88.3 163.5h0M88.9 171.2h0M75.4 172.8h0M71.7 172.7h0M90.4 173.4h0M76.0 154.4h0M95.9 158.8h0M68.3 168.0h0M98.9 159.2h0M79.4 153.2h0M87.5 169.6h0M99.1 164.8h0M83.8 162.2h0M88.5 166.4h0M76.1 154.7h0M85.9 165.1h0M63.5 161.6h0M70.9 164.1h0M87.8 177.0h0M96.2 165.0h0M86.0 167.6h0M74.0 168.9h0M79.3 154.1h0M87.0 173.8h0M88.0 170.3h0M84.6 159.7h0M60.6 163.6h0M79.7 157.6h0M65.6 163.2h0M81.4 173.3h0M70.3 163.6h0M66.3 176.6h0M72.1 155.0h0M96.6 166.8h0M67.7 169.5h0M85.0 153.8h0M84.8 174.1h0M94.7 171.8h0M86.9 168.9h0" stroke="#d2d7e6" stroke-width="1.3" stroke-linecap="round" fill="none" opacity="0.85"/>
<path d="M130.1 139.1h0M121.8 133.6h0M124.3 136.0h0M129.3 142.6h0M135.3 139.7h0M128.0 129.7h0M123.2 134.3h0M135.8 131.5h0M126.6 126.1h0M132.7 146.8h0M134.5 130.6h0M133.9 135.2h0M126.3 134.1h0M130.0 138.0h0M124.2 134.7h0M127.3 129.6h0M130.6 136.5h0M133.8 134.8h0M135.4 139.0h0M124.4 130.6h0M129.8 136.7h0M132.3 135.4h0M138.6 142.3h0M139.1 132.9h0M127.9 144.6h0M135.0 146.5h0M126.5 144.4h0M129.2 146.6h0M125.2 131.8h0M140.8 136.2h0M137.9 134.4h0M122.1 139.2h0M128.0 136.1h0M127.0 136.6h0M143.3 140.0h0M133.8 133.3h0M135.0 131.9h0M142.6 135.7h0M134.9 131.2h0M136.9 140.8h0M141.7 134.5h0M122.2 126.4h0M133.9 134.3h0M128.9 145.0h0M133.3 131.3h0M121.4 135.9h0M128.3 143.6h0M132.1 141.6h0M135.0 123.8h0M138.9 138.5h0M148.6 137.9h0M135.8 141.8h0M149.9 138.2h0M125.9 137.1h0M134.2 140.0h0M137.0 129.2h0M131.8 144.2h0M123.8 129.9h0M141.8 139.3h0M125.9 134.4h0M127.6 140.2h0M131.7 137.5h0M131.8 146.5h0M135.4 139.6h0M117.2 129.3h0M128.3 132.5h0M118.4 127.4h0M127.6 130.2h0M128.1 128.3h0M122.6 125.9h0M124.0 128.6h0M119.5 124.5h0M127.1 128.2h0M126.4 132.3h0M127.3 130.6h0M116.8 127.6h0M121.0 127.6h0M122.2 128.1h0M118.7 128.4h0M125.7 130.7h0M125.7 129.7h0M124.0 131.5h0M124.0 133.9h0M117.7 125.9h0M131.2 127.3h0M125.6 132.5h0M122.1 133.7h0M115.2 128.2h0M123.2 134.2h0M128.1 126.0h0M119.5 128.2h0M124.6 133.7h0" stroke="#aac3a3" stroke-width="1.3" stroke-linecap="round" fill="none" opacity="0.85"/>
<path d="M139.5 140.0h0M125.6 140.0h0M136.2 131.8h0M136.8 142.5h0M127.3 132.2h0M130.1 137.6h0M124.9 140.1h0M138.0 144.3h0M127.1 129.8h0M124.4 139.3h0M127.0 139.2h0M123.4 134.1h0M143.5 140.1h0M137.4 130.3h0M129.0 129.8h0M133.6 127.1h0M147.4 136.7h0M142.6 143.0h0M139.3 136.4h0M132.9 146.1h0M128.9 128.9h0M135.9 128.0h0M138.7 143.9h0M131.4 138.6h0M135.1 132.5h0M133.8 140.2h0M138.2 144.5h0M123.9 139.6h0M143.4 141.9h0M122.1 140.4h0M126.8 137.7h0M138.3 128.1h0M132.0 141.2h0M130.0 137.9h0M123.8 137.3h0M141.4 142.7h0M131.4 146.6h0M147.1 135.4h0M122.0 125.1h0M116.3 127.2h0M128.0 131.7h0M128.8 126.4h0M120.9 134.0h0M127.1 128.0h0M127.4 126.9h0M115.0 126.5h0M130.8 130.1h0M118.6 132.9h0M127.6 133.0h0M121.1 131.7h0M118.9 133.0h0M118.9 129.0h0M127.1 129.5h0M121.4 126.8h0M116.6 126.1h0M124.6 133.8h0M121.3 124.4h0M126.2 122.3h0M116.4 131.7h0M125.6 125.2h0M127.3 130.0h0M113.7 127.8h0" stroke="#d8edd2" stroke-width="1.3" stroke-linecap="round" fill="none" opacity="0.85"/>
<path d="M128.7 138.7h0M143.4 137.5h0M128.3 142.4h0M139.4 124.7h0M136.4 127.8h0M131.8 129.0h0M126.8 142.7h0M132.1 138.6h0M144.5 133.9h0M127.2 135.4h0M130.6 139.9h0M135.7 137.5h0M137.4 144.6h0M143.4 142.0h0M145.5 134.2h0M141.2 142.0h0M125.5 134.9h0M131.6 128.0h0M126.9 135.7h0M141.0 134.6h0M136.6 145.5h0M121.3 141.3h0M142.4 139.6h0M132.6 138.8h0M130.2 131.8h0M142.6 134.7h0M134.0 144.5h0M120.0 133.6h0M122.3 146.5h0M136.0 132.3h0M128.0 137.0h0M128.1 130.0h0M121.8 136.1h0M126.6 132.6h0M145.0 139.4h0M144.8 139.9h0M125.5 135.2h0M128.0 145.9h0M137.1 136.9h0M132.7 136.8h0M127.1 131.9h0M133.9 144.2h0M126.3 136.4h0M140.7 139.0h0M136.3 137.4h0M138.9 129.7h0M130.1 146.4h0M133.6 144.2h0M139.5 139.2h0M134.2 143.0h0M128.4 136.0h0M123.8 137.9h0M133.3 127.5h0M132.2 132.6h0M126.8 138.1h0M126.1 135.3h0M129.0 137.8h0M139.8 121.9h0M130.1 127.7h0M140.1 142.3h0M134.7 142.6h0M131.6 126.7h0M132.4 136.5h0M138.1 143.4h0M134.6 132.9h0M141.8 139.4h0M124.6 141.0h0M126.1 135.5h0M124.5 124.8h0M137.9 124.4h0M126.9 130.2h0M133.1 131.5h0M126.2 129.5h0M133.7 133.1h0M142.0 133.8h0M134.6 129.4h0M143.1 131.9h0M131.8 138.3h0M136.9 137.8h0M130.0 135.2h0M133.8 132.3h0M131.5 143.8h0M141.1 139.0h0M126.5 131.4h0M128.1 128.2h0M135.3 127.8h0M139.0 132.0h0M135.4 131.5h0M130.8 145.3h0M130.0 151.7h0M126.7 137.1h0M137.0 129.0h0M136.7 135.8h0M136.0 137.5h0M136.2 129.1h0M127.7 144.1h0M132.9 138.8h0M137.5 147.2h0M125.9 137.7h0M130.1 129.6h0M138.5 140.6h0M116.6 137.1h0M144.9 134.5h0M134.1 127.9h0M129.7 132.0h0M144.2 136.1h0M142.3 131.2h0M127.3 126.2h0M130.5 143.0h0M141.4 130.4h0M123.5 136.0h0M134.3 127.6h0M146.1 139.2h0M131.2 133.1h0M128.0 128.1h0M143.3 132.1h0M135.4 142.5h0M133.6 135.2h0M130.2 148.3h0M141.2 138.2h0M133.5 129.4h0M134.1 128.5h0M137.5 143.0h0M126.4 135.2h0M140.8 137.1h0M142.5 138.1h0M139.8 144.5h0M128.8 139.9h0M122.5 139.2h0M130.7 130.5h0M140.9 140.1h0M119.8 138.9h0M145.5 133.4h0M128.4 135.6h0M133.9 122.9h0M130.5 136.6h0M141.5 133.5h0M147.4 128.0h0M131.3 146.1h0M138.3 136.9h0M135.4 140.0h0M127.6 130.8h0M124.7 139.4h0M141.5 143.0h0M124.7 141.2h0M136.9 141.9h0M136.7 138.0h0M147.7 138.7h0M141.9 140.7h0M132.1 143.4h0M130.6 140.9h0M122.6 137.5h0M138.0 134.4h0M128.6 134.8h0M131.5 136.5h0M141.2 146.6h0M125.9 135.3h0M128.5 141.9h0M138.1 141.3h0M137.2 128.4h0M136.3 144.1h0M122.0 130.3h0M131.5 134.0h0M130.9 126.9h0M135.9 145.0h0M141.0 137.2h0M143.2 139.8h0M136.8 138.0h0M141.2 144.1h0M130.8 134.2h0M127.4 141.2h0M144.1 135.8h0M126.2 140.9h0M140.7 128.9h0M123.1 136.5h0M129.2 135.6h0M135.4 132.4h0M124.1 128.7h0M118.5 133.5h0M128.1 132.1h0M122.3 131.6h0M127.8 133.8h0M116.7 128.3h0M122.2 129.0h0M122.4 123.8h0M123.3 128.0h0M125.2 128.2h0M120.4 122.6h0M115.9 129.7h0M124.5 133.6h0M124.8 128.0h0M124.0 124.9h0M116.4 128.5h0M115.4 129.3h0M129.3 129.0h0M121.4 133.4h0M124.4 130.4h0M126.3 129.8h0M120.0 131.9h0M120.8 129.3h0M127.9 127.4h0M122.2 123.3h0M122.8 123.4h0M126.5 128.5h0M120.1 126.7h0M125.9 127.4h0M118.3 130.4h0M126.0 125.5h0M118.0 130.8h0M120.1 126.0h0M125.5 129.8h0M128.7 127.3h0M116.6 134.8h0M122.8 124.2h0M128.0 127.5h0M126.1 133.7h0M118.2 126.6h0M117.9 135.7h0M120.9 133.4h0M124.5 132.9h0M128.2 133.3h0M128.3 131.0h0M115.2 130.8h0M120.7 132.3h0M119.6 125.5h0M125.4 131.3h0M123.6 127.3h0M131.1 128.3h0M117.8 126.6h0M122.9 131.7h0M122.1 124.9h0M116.9 131.6h0M117.9 125.4h0M117.8 124.8h0M126.2 131.3h0M128.8 126.8h0M118.1 131.0h0M127.2 133.1h0" stroke="#c8e6c0" stroke-width="1.3" stroke-linecap="round" fill="none" opacity="0.85"/>
<path d="M109.1 146.9h0M127.8 136.7h0M116.4 151.0h0M122.4 140.1h0M127.8 147.2h0M114.0 148.2h0M118.0 140.4h0M128.8 136.4h0M106.5 138.2h0M112.5 151.0h0M133.5 137.8h0M130.4 143.6h0M107.5 145.7h0M123.0 137.3h0M124.0 147.7h0M117.7 138.9h0M114.6 146.2h0M113.2 147.5h0M111.2 140.8h0M123.8 143.4h0M110.2 147.5h0M122.4 140.9h0M125.3 147.2h0M128.4 136.4h0M107.2 147.9h0M113.3 143.2h0M129.8 140.7h0M120.1 148.9h0M103.8 139.2h0M128.1 139.9h0M115.3 142.2h0M131.6 140.9h0M110.7 143.9h0M118.1 151.3h0M115.7 149.8h0M107.9 152.4h0M124.9 149.0h0M107.0 149.0h0M120.1 145.4h0M126.1 145.9h0M105.5 142.4h0M130.1 144.4h0M125.0 140.7h0M107.5 143.8h0M111.5 145.0h0M127.0 148.5h0M105.1 137.9h0M125.1 134.7h0M120.1 132.8h0M127.0 140.5h0M111.5 130.7h0M124.7 144.3h0M126.6 144.1h0M108.1 137.7h0M110.4 143.1h0M126.4 137.4h0M119.4 132.7h0M109.8 149.4h0M106.9 145.3h0M116.9 140.3h0M121.5 133.1h0M104.8 137.5h0M129.0 145.9h0M127.0 142.3h0M106.2 141.1h0M120.2 142.3h0M114.0 139.7h0M118.1 137.6h0M116.4 138.5h0M129.6 146.6h0M122.6 133.1h0M120.3 139.0h0M111.0 148.6h0M109.5 149.0h0M116.2 139.0h0M127.0 149.4h0M119.4 144.3h0M129.8 136.1h0M121.9 150.4h0M104.4 147.9h0M122.2 137.5h0M114.5 148.4h0M125.2 142.7h0M126.3 144.0h0M121.5 146.3h0M112.7 147.1h0M108.3 147.9h0M112.5 147.8h0M110.6 139.2h0M107.5 140.9h0M104.5 143.4h0M127.7 141.4h0M124.6 133.2h0M123.9 148.2h0M109.5 148.6h0M109.7 141.6h0M130.4 137.7h0M108.6 143.6h0M129.5 140.0h0M121.8 139.3h0M108.9 135.6h0M118.8 131.7h0M121.4 135.8h0M112.2 139.1h0M115.9 133.6h0M117.9 134.9h0M111.5 134.3h0M109.2 136.7h0M110.0 148.3h0M114.3 150.9h0M109.1 137.5h0M129.4 151.5h0M113.7 140.6h0M110.3 148.1h0M126.7 149.4h0M110.9 143.8h0M121.8 134.9h0M117.3 133.2h0M110.7 151.7h0M130.7 136.5h0M119.1 142.0h0M116.7 138.4h0M114.6 145.1h0M111.2 138.2h0M120.8 134.1h0M111.3 148.8h0M122.8 138.1h0M122.0 141.1h0M114.8 142.1h0M115.2 152.6h0M115.1 138.5h0M116.0 134.4h0M117.0 151.2h0M111.2 148.1h0M127.3 148.6h0M131.2 144.3h0M124.0 142.2h0" stroke="#840c27" stroke-width="1.3" stroke-linecap="round" fill="none" opacity="0.85"/>
<path d="M121.9 146.2h0M122.0 147.4h0M127.7 143.5h0M127.1 143.3h0M117.1 138.4h0M113.3 132.3h0M109.2 137.3h0M111.4 145.4h0M117.9 143.3h0M124.7 141.4h0M118.9 139.0h0M121.3 136.7h0M112.8 141.7h0M126.7 144.5h0M119.6 144.7h0M110.7 147.1h0M104.6 149.1h0M116.2 135.9h0M104.6 141.7h0M121.9 135.3h0M117.9 148.4h0M122.8 136.8h0M125.4 148.7h0M117.3 142.3h0M118.7 134.1h0M117.2 146.9h0M114.8 141.8h0M126.3 137.5h0M105.1 144.7h0M106.0 135.8h0M126.0 135.0h0M119.1 150.8h0M112.5 143.5h0M115.2 151.9h0M110.4 144.9h0M121.2 137.0h0M112.9 138.7h0M116.0 132.9h0M113.3 136.1h0M125.7 136.2h0M108.9 128.1h0M120.4 134.5h0M111.5 152.0h0M109.5 150.2h0M117.1 152.0h0M118.1 142.4h0M111.0 148.4h0M131.4 141.9h0M114.1 146.3h0M120.3 143.4h0M124.7 149.0h0M120.6 148.1h0M119.5 140.7h0M110.2 140.9h0M121.1 150.4h0M118.1 142.0h0M104.7 149.2h0M122.9 141.1h0M108.8 144.9h0M116.6 139.5h0M122.5 142.6h0M112.8 150.0h0M107.8 135.0h0M115.0 144.3h0M117.8 153.2h0M110.1 135.2h0M105.4 142.7h0M126.8 147.7h0M121.3 144.1h0M112.0 135.7h0M115.9 145.8h0M114.5 151.6h0M121.4 149.3h0M117.8 134.8h0M115.3 150.7h0M104.5 138.9h0M112.0 141.8h0" stroke="#b9576c" stroke-width="1.3" stroke-linecap="round" fill="none" opacity="0.85"/>
<path d="M110.4 147.9h0M123.4 144.2h0M124.8 148.2h0M130.4 142.2h0M124.2 137.6h0M122.3 144.8h0M106.2 141.1h0M116.6 138.1h0M111.9 138.7h0M123.1 137.5h0M124.2 149.0h0M103.9 150.6h0M103.0 134.9h0M121.4 150.0h0M111.0 143.5h0M105.1 143.5h0M112.9 146.1h0M121.1 149.5h0M114.8 150.9h0M125.8 140.3h0M121.3 149.1h0M125.7 141.0h0M109.5 150.5h0M114.2 140.5h0M124.2 137.3h0M104.7 143.0h0M114.8 144.8h0M131.5 143.6h0M121.1 139.0h0M110.4 144.5h0M122.3 148.5h0M124.0 142.6h0M124.6 140.6h0M111.0 146.3h0M121.8 136.2h0M119.5 135.5h0M113.0 133.5h0M112.3 150.4h0M122.9 134.5h0M123.2 133.6h0M116.1 148.4h0M124.3 147.3h0M130.0 141.0h0M116.9 141.0h0M128.3 149.6h0M122.1 142.9h0M106.6 147.3h0M109.2 137.8h0M112.7 142.5h0M109.4 138.0h0M114.9 141.7h0M117.0 141.9h0M117.8 134.7h0M109.0 139.2h0M118.1 138.0h0M118.9 147.2h0M124.4 143.5h0M114.7 138.3h0M113.1 136.3h0M122.6 146.9h0M125.0 149.8h0M120.6 147.0h0M117.2 140.6h0M133.0 132.1h0M115.7 141.0h0M130.5 142.8h0M115.9 141.7h0M111.6 144.3h0M126.2 145.7h0M110.7 132.4h0M121.9 139.7h0M110.1 146.8h0M111.7 139.3h0M128.5 140.9h0M120.2 144.8h0M122.2 148.9h0M124.3 137.3h0M118.4 150.6h0M127.7 141.6h0M128.0 145.6h0M111.6 149.6h0M122.5 131.5h0M117.3 134.5h0M120.1 148.3h0M121.4 146.2h0M118.4 138.9h0M111.9 146.1h0M106.4 135.1h0M111.0 145.2h0M127.4 138.8h0M129.2 145.8h0M116.9 156.2h0M116.1 141.2h0M112.5 143.1h0M129.5 138.8h0M119.6 151.5h0M110.9 144.6h0M106.3 136.1h0M116.0 142.7h0M130.0 145.2h0M116.2 149.7h0M110.7 144.1h0M117.0 144.2h0M130.5 144.1h0M107.8 147.2h0M126.7 139.3h0M109.5 134.7h0M119.6 139.3h0M129.3 145.3h0M109.1 143.3h0M130.9 138.9h0M109.7 149.4h0M124.4 148.4h0M100.3 133.8h0M126.7 145.4h0M118.4 149.3h0M108.8 147.2h0M116.4 147.3h0M117.3 146.3h0M110.3 140.4h0M125.6 145.6h0M126.9 134.6h0M110.0 139.8h0M108.5 138.1h0M109.9 147.5h0M126.7 148.3h0M104.4 147.4h0M112.9 129.1h0M126.8 140.9h0M106.9 146.9h0M124.5 137.1h0M125.2 144.7h0M104.7 142.2h0M110.7 148.8h0M119.3 151.6h0M126.1 141.2h0M120.5 141.5h0M105.5 140.8h0M111.5 148.7h0M116.9 138.7h0M129.0 146.7h0M123.5 141.0h0M119.1 144.0h0M114.1 148.7h0M127.5 135.4h0M128.1 134.2h0M128.5 141.7h0M121.4 144.9h0M114.3 138.5h0M131.7 141.5h0M128.4 142.8h0M115.3 134.2h0M115.9 137.9h0M121.8 146.0h0M113.9 137.9h0M113.9 136.6h0M128.0 148.8h0M130.0 143.4h0M109.2 141.5h0M117.6 150.9h0M107.2 141.1h0M113.4 150.4h0M105.9 148.7h0M116.7 142.7h0M127.4 129.5h0M128.1 137.8h0M126.8 140.1h0M120.5 137.1h0M115.9 147.5h0M122.1 134.0h0M115.3 148.5h0M125.9 147.4h0M121.4 137.5h0M122.8 152.5h0M112.4 141.7h0M107.4 141.2h0M111.4 152.2h0M107.7 147.0h0M123.4 140.5h0M116.3 148.3h0M109.5 134.5h0M111.9 146.8h0M125.0 137.4h0M108.2 140.2h0M124.8 136.3h0M125.5 134.8h0M112.1 133.8h0M130.6 144.4h0M111.6 137.0h0M119.8 147.0h0M108.9 137.6h0M124.8 138.2h0M105.0 138.2h0M113.2 141.7h0M131.7 137.6h0M117.7 147.3h0M125.6 147.6h0M124.0 136.2h0M119.4 133.0h0M115.7 134.4h0M129.0 143.9h0M120.7 144.7h0M112.5 142.5h0M104.9 141.8h0M128.4 143.0h0M125.2 143.3h0M129.1 133.4h0M115.8 139.0h0M113.5 146.0h0M108.8 148.1h0M120.4 144.9h0M115.9 138.6h0M107.4 142.8h0M128.2 147.3h0M110.2 144.0h0M131.3 142.3h0M108.4 149.9h0M112.3 137.2h0M105.1 144.5h0M114.4 148.4h0M107.9 141.5h0M122.8 131.8h0M115.1 137.1h0M117.6 149.1h0M112.7 139.4h0M117.2 147.6h0M116.9 151.2h0M110.0 136.9h0M105.4 137.7h0M117.0 139.8h0M130.4 150.3h0M115.2 131.2h0M106.5 142.4h0M123.9 142.1h0M124.9 147.9h0M124.4 147.7h0M129.8 142.7h0M110.3 149.1h0M111.2 133.8h0M114.5 137.8h0M111.4 149.0h0M111.4 143.8h0M115.4 149.9h0M129.9 150.1h0M128.9 147.1h0M107.7 138.7h0M110.1 149.0h0M121.3 144.9h0M115.7 142.9h0M124.5 130.3h0M112.0 147.2h0M124.3 134.7h0M113.6 136.9h0M107.2 142.0h0M124.3 149.6h0M113.7 150.9h0M111.1 145.7h0M120.8 132.0h0M109.4 140.1h0M121.8 138.7h0M106.6 138.2h0M128.8 139.6h0M121.0 133.6h0M98.1 147.6h0M120.9 135.7h0M120.7 148.0h0M116.6 137.0h0M129.8 138.2h0M128.1 137.3h0M108.8 143.5h0M127.7 142.9h0M111.0 145.6h0M128.5 140.4h0M122.3 148.0h0M117.2 141.2h0M116.6 138.1h0M121.9 146.1h0M122.3 140.6h0M121.4 138.2h0M111.9 148.3h0M106.0 141.0h0M122.8 150.7h0M128.8 138.7h0M114.8 138.2h0M115.6 132.2h0M120.5 146.6h0M109.5 141.9h0M126.7 136.4h0M121.0 145.3h0M114.6 133.6h0M114.9 139.0h0M111.2 146.2h0M126.2 148.5h0M111.7 133.7h0M124.8 148.0h0M107.6 139.6h0M124.3 139.8h0M129.9 144.8h0M117.5 133.6h0M105.0 144.6h0M110.7 141.5h0M119.7 147.5h0M113.2 142.4h0M128.2 136.7h0M115.7 146.1h0M118.7 148.4h0M129.1 139.6h0M115.6 141.9h0M121.3 148.7h0M105.3 142.6h0M122.1 134.1h0M126.4 127.2h0M121.1 129.6h0M121.9 133.1h0M111.6 137.9h0M118.4 152.2h0M126.5 152.1h0M108.2 142.6h0M124.9 139.3h0M119.3 129.5h0M110.7 148.7h0M114.1 138.4h0M127.3 145.2h0M111.7 138.5h0M119.9 132.9h0M121.9 131.8h0M119.1 145.9h0M112.5 138.4h0M132.8 137.2h0M109.5 134.8h0M108.1 146.4h0M107.6 138.8h0M121.9 146.1h0M111.6 147.8h0M111.3 149.0h0M120.5 142.4h0M120.0 146.6h0M105.2 139.8h0M112.9 146.6h0M110.1 148.2h0M112.3 135.8h0M113.8 147.4h0M137.5 143.9h0M124.7 142.8h0M128.9 139.4h0M107.2 142.2h0M120.8 140.2h0M112.0 135.8h0M113.0 133.0h0M115.5 149.2h0M121.3 141.2h0M121.7 141.6h0M127.8 144.8h0M120.7 144.9h0M107.3 144.6h0M119.2 147.9h0M119.7 148.6h0M119.8 151.8h0M120.9 150.2h0M124.6 150.5h0M107.3 146.3h0M115.6 148.5h0M123.2 126.9h0M111.6 133.9h0M132.0 147.9h0M124.9 147.0h0M132.5 141.4h0M110.9 146.4h0M115.3 144.0h0M115.1 147.1h0M116.1 149.5h0M115.6 138.9h0M119.3 141.6h0M120.0 135.6h0M115.7 151.1h0M127.3 139.0h0M108.2 147.4h0M110.3 146.8h0M130.6 138.9h0M110.9 143.8h0M109.2 143.1h0M111.8 146.7h0M123.5 141.4h0M107.1 139.1h0M118.3 151.5h0M113.9 135.8h0M120.5 133.9h0M130.8 143.7h0M114.5 146.5h0M117.0 132.3h0M116.1 135.6h0M120.1 148.7h0M127.3 134.6h0M119.9 136.1h0M123.3 142.1h0M110.6 146.2h0M104.1 140.8h0M123.6 136.5h0M116.1 134.3h0M125.5 150.2h0M126.3 139.8h0M117.2 143.4h0M111.4 144.0h0M118.8 147.2h0M107.7 148.1h0M106.8 142.2h0M109.5 151.5h0M128.5 136.5h0M127.0 137.0h0M117.9 150.1h0" stroke="#9c0f2e" stroke-width="1.3" stroke-linecap="round" fill="none" opacity="0.85"/>
</g>
<text x="68.50" y="70.00" font-size="8.0" text-anchor="middle" fill="#222" stroke="#222" stroke-width="0.1">15</text>
<text x="59.80" y="79.10" font-size="8.0" text-anchor="middle" fill="#222" stroke="#222" stroke-width="0.1">3</text>
<text x="59.50" y="91.80" font-size="8.0" text-anchor="middle" fill="#222" stroke="#222" stroke-width="0.1">18</text>
<text x="41.10" y="95.90" font-size="8.0" text-anchor="middle" fill="#222" stroke="#222" stroke-width="0.1">8</text>
<text x="65.00" y="99.10" font-size="8.0" text-anchor="middle" fill="#222" stroke="#222" stroke-width="0.1">7</text>
<text x="84.90" y="94.70" font-size="8.0" text-anchor="middle" fill="#222" stroke="#222" stroke-width="0.1">1</text>
<text x="100.50" y="55.40" font-size="8.0" text-anchor="middle" fill="#222" stroke="#222" stroke-width="0.1">20</text>
<text x="99.20" y="71.70" font-size="8.0" text-anchor="middle" fill="#222" stroke="#222" stroke-width="0.1">5</text>
<text x="106.50" y="103.40" font-size="8.0" text-anchor="middle" fill="#222" stroke="#222" stroke-width="0.1">13</text>
<text x="86.60" y="110.50" font-size="8.0" text-anchor="middle" fill="#222" stroke="#222" stroke-width="0.1">16</text>
<text x="71.00" y="116.70" font-size="8.0" text-anchor="middle" fill="#222" stroke="#222" stroke-width="0.1">6</text>
<text x="128.60" y="44.50" font-size="8.0" text-anchor="middle" fill="#222" stroke="#222" stroke-width="0.1">11</text>
<text x="122.50" y="63.60" font-size="8.0" text-anchor="middle" fill="#222" stroke="#222" stroke-width="0.1">19</text>
<text x="122.50" y="70.00" font-size="8.0" text-anchor="middle" fill="#222" stroke="#222" stroke-width="0.1">21</text>
<text x="123.40" y="86.60" font-size="8.0" text-anchor="middle" fill="#222" stroke="#222" stroke-width="0.1">12</text>
<text x="149.30" y="86.60" font-size="8.0" text-anchor="middle" fill="#222" stroke="#222" stroke-width="0.1">23</text>
<text x="124.20" y="99.10" font-size="8.0" text-anchor="middle" fill="#222" stroke="#222" stroke-width="0.1">22</text>
<text x="172.70" y="106.00" font-size="8.0" text-anchor="middle" fill="#222" stroke="#222" stroke-width="0.1">17</text>
<text x="133.40" y="137.20" font-size="8.0" text-anchor="middle" fill="#222" stroke="#222" stroke-width="0.1">14</text>
<text x="44.20" y="150.00" font-size="8.0" text-anchor="middle" fill="#222" stroke="#222" stroke-width="0.1">4</text>
<text x="68.50" y="149.90" font-size="8.0" text-anchor="middle" fill="#222" stroke="#222" stroke-width="0.1">10</text>
<text x="83.70" y="167.90" font-size="8.0" text-anchor="middle" fill="#222" stroke="#222" stroke-width="0.1">2</text>
<text x="104.50" y="149.90" font-size="8.0" text-anchor="middle" fill="#222" stroke="#222" stroke-width="0.1">9</text>
<text x="113.50" y="145.20" font-size="8.0" text-anchor="middle" fill="#222" stroke="#222" stroke-width="0.1">0</text>
<rect x="20" y="20.5" width="171" height="166.8" fill="none" stroke="#4a4a4a" stroke-width="1"/>
<text x="105.80" y="199.20" font-size="9.2" text-anchor="middle" fill="#2a2a2a" stroke="#2a2a2a" stroke-width="0.1" textLength="25.5" lengthAdjust="spacingAndGlyphs">UMAP1</text>
<text x="16.20" y="104.30" font-size="9.2" text-anchor="middle" fill="#2a2a2a" stroke="#2a2a2a" stroke-width="0.1" textLength="25.5" lengthAdjust="spacingAndGlyphs" transform="rotate(-90 16.20 104.30)">UMAP2</text>
<text x="207.20" y="16.30" font-size="11.6" text-anchor="start" fill="#111" font-weight="bold">B</text>
<line x1="242.20" y1="39.40" x2="242.20" y2="153.00" stroke="#a8a8a8" stroke-width="1.6"/>
<rect x="238.30" y="86.00" width="7.80" height="35.70" fill="#2aa7df"/>
<line x1="238.30" y1="103.00" x2="246.10" y2="103.00" stroke="#1b5e96" stroke-width="1.4"/>
<circle cx="242.20" cy="27.70" r="1.75" fill="#111"/>
<line x1="253.14" y1="65.50" x2="253.14" y2="172.50" stroke="#a8a8a8" stroke-width="1.6"/>
<rect x="249.24" y="103.00" width="7.80" height="34.70" fill="#2aa7df"/>
<line x1="249.24" y1="116.20" x2="257.04" y2="116.20" stroke="#1b5e96" stroke-width="1.4"/>
<line x1="264.08" y1="91.00" x2="264.08" y2="154.60" stroke="#a8a8a8" stroke-width="1.6"/>
<rect x="260.18" y="117.00" width="7.80" height="18.50" fill="#2aa7df"/>
<line x1="260.18" y1="127.80" x2="267.98" y2="127.80" stroke="#1b5e96" stroke-width="1.4"/>
<line x1="264.08" y1="52.70" x2="264.08" y2="90.80" stroke="#111" stroke-width="3.4" stroke-linecap="round"/>
<line x1="275.02" y1="81.00" x2="275.02" y2="163.80" stroke="#a8a8a8" stroke-width="1.6"/>
<rect x="271.12" y="118.30" width="7.80" height="24.70" fill="#2aa7df"/>
<line x1="271.12" y1="131.50" x2="278.92" y2="131.50" stroke="#1b5e96" stroke-width="1.4"/>
<line x1="275.02" y1="57.90" x2="275.02" y2="81.00" stroke="#111" stroke-width="3.4" stroke-linecap="round"/>
<line x1="285.96" y1="99.00" x2="285.96" y2="163.20" stroke="#a8a8a8" stroke-width="1.6"/>
<rect x="282.06" y="123.80" width="7.80" height="17.00" fill="#2aa7df"/>
<line x1="282.06" y1="133.00" x2="289.86" y2="133.00" stroke="#1b5e96" stroke-width="1.4"/>
<line x1="285.96" y1="61.30" x2="285.96" y2="68.80" stroke="#111" stroke-width="3.4" stroke-linecap="round"/>
<line x1="285.96" y1="79.80" x2="285.96" y2="97.00" stroke="#111" stroke-width="3.4" stroke-linecap="round"/>
<circle cx="285.96" cy="55.90" r="1.75" fill="#111"/>
<line x1="296.90" y1="117.00" x2="296.90" y2="162.30" stroke="#a8a8a8" stroke-width="1.6"/>
<rect x="293.00" y="136.20" width="7.80" height="12.30" fill="#2aa7df"/>
<line x1="293.00" y1="142.30" x2="300.80" y2="142.30" stroke="#1b5e96" stroke-width="1.4"/>
<circle cx="296.90" cy="101.80" r="1.75" fill="#111"/>
<line x1="307.84" y1="130.00" x2="307.84" y2="158.00" stroke="#a8a8a8" stroke-width="1.6"/>
<rect x="303.94" y="141.70" width="7.80" height="6.80" fill="#2aa7df"/>
<line x1="303.94" y1="145.40" x2="311.74" y2="145.40" stroke="#1b5e96" stroke-width="1.4"/>
<line x1="307.84" y1="111.50" x2="307.84" y2="128.00" stroke="#111" stroke-width="3.4" stroke-linecap="round"/>
<line x1="307.84" y1="161.40" x2="307.84" y2="164.50" stroke="#111" stroke-width="3.4" stroke-linecap="round"/>
<circle cx="307.84" cy="94.20" r="1.75" fill="#111"/>
<line x1="318.78" y1="127.00" x2="318.78" y2="160.20" stroke="#a8a8a8" stroke-width="1.6"/>
<rect x="314.88" y="141.40" width="7.80" height="8.60" fill="#2aa7df"/>
<line x1="314.88" y1="146.00" x2="322.68" y2="146.00" stroke="#1b5e96" stroke-width="1.4"/>
<line x1="318.78" y1="111.00" x2="318.78" y2="126.30" stroke="#111" stroke-width="3.4" stroke-linecap="round"/>
<circle cx="318.78" cy="99.00" r="1.75" fill="#111"/>
<circle cx="318.78" cy="104.60" r="1.75" fill="#111"/>
<circle cx="318.78" cy="108.30" r="1.75" fill="#111"/>
<line x1="329.72" y1="130.00" x2="329.72" y2="170.60" stroke="#a8a8a8" stroke-width="1.6"/>
<rect x="325.82" y="148.50" width="7.80" height="12.90" fill="#2aa7df"/>
<line x1="325.82" y1="156.80" x2="333.62" y2="156.80" stroke="#1b5e96" stroke-width="1.4"/>
<line x1="329.72" y1="111.00" x2="329.72" y2="126.30" stroke="#111" stroke-width="3.4" stroke-linecap="round"/>
<circle cx="329.72" cy="104.60" r="1.75" fill="#111"/>
<line x1="340.66" y1="120.00" x2="340.66" y2="170.60" stroke="#a8a8a8" stroke-width="1.6"/>
<rect x="336.76" y="139.80" width="7.80" height="13.90" fill="#2aa7df"/>
<line x1="336.76" y1="147.00" x2="344.56" y2="147.00" stroke="#1b5e96" stroke-width="1.4"/>
<line x1="340.66" y1="74.30" x2="340.66" y2="119.20" stroke="#111" stroke-width="3.4" stroke-linecap="round"/>
<circle cx="340.66" cy="68.30" r="1.75" fill="#111"/>
<line x1="351.60" y1="126.00" x2="351.60" y2="166.30" stroke="#a8a8a8" stroke-width="1.6"/>
<rect x="347.70" y="143.00" width="7.80" height="9.50" fill="#2aa7df"/>
<line x1="347.70" y1="147.50" x2="355.50" y2="147.50" stroke="#1b5e96" stroke-width="1.4"/>
<circle cx="351.60" cy="109.00" r="1.75" fill="#111"/>
<circle cx="351.60" cy="114.50" r="1.75" fill="#111"/>
<circle cx="351.60" cy="118.80" r="1.75" fill="#111"/>
<circle cx="351.60" cy="122.20" r="1.75" fill="#111"/>
<circle cx="351.60" cy="124.30" r="1.75" fill="#111"/>
<line x1="362.54" y1="145.00" x2="362.54" y2="157.00" stroke="#a8a8a8" stroke-width="1.6"/>
<rect x="358.64" y="148.20" width="7.80" height="4.90" fill="#2aa7df"/>
<line x1="358.64" y1="150.50" x2="366.44" y2="150.50" stroke="#1b5e96" stroke-width="1.4"/>
<line x1="362.54" y1="132.50" x2="362.54" y2="144.00" stroke="#111" stroke-width="3.4" stroke-linecap="round"/>
<line x1="362.54" y1="158.60" x2="362.54" y2="173.40" stroke="#111" stroke-width="3.4" stroke-linecap="round"/>
<line x1="373.48" y1="146.00" x2="373.48" y2="158.00" stroke="#a8a8a8" stroke-width="1.6"/>
<rect x="369.58" y="148.80" width="7.80" height="4.90" fill="#2aa7df"/>
<line x1="369.58" y1="151.10" x2="377.38" y2="151.10" stroke="#1b5e96" stroke-width="1.4"/>
<line x1="373.48" y1="134.00" x2="373.48" y2="145.60" stroke="#111" stroke-width="3.4" stroke-linecap="round"/>
<line x1="373.48" y1="160.30" x2="373.48" y2="171.00" stroke="#111" stroke-width="3.4" stroke-linecap="round"/>
<circle cx="373.48" cy="131.80" r="1.75" fill="#111"/>
<line x1="384.42" y1="103.00" x2="384.42" y2="166.80" stroke="#a8a8a8" stroke-width="1.6"/>
<rect x="380.52" y="135.10" width="7.80" height="20.30" fill="#2aa7df"/>
<line x1="380.52" y1="150.50" x2="388.32" y2="150.50" stroke="#1b5e96" stroke-width="1.4"/>
<line x1="384.42" y1="83.00" x2="384.42" y2="98.10" stroke="#111" stroke-width="3.4" stroke-linecap="round"/>
<circle cx="384.42" cy="49.40" r="1.75" fill="#111"/>
<circle cx="384.42" cy="51.40" r="1.75" fill="#111"/>
<circle cx="384.42" cy="63.60" r="1.75" fill="#111"/>
<circle cx="384.42" cy="68.30" r="1.75" fill="#111"/>
<circle cx="384.42" cy="77.40" r="1.75" fill="#111"/>
<line x1="395.36" y1="145.00" x2="395.36" y2="160.30" stroke="#a8a8a8" stroke-width="1.6"/>
<rect x="391.46" y="151.50" width="7.80" height="3.90" fill="#2aa7df"/>
<line x1="391.46" y1="153.00" x2="399.26" y2="153.00" stroke="#1b5e96" stroke-width="1.4"/>
<circle cx="395.36" cy="142.30" r="1.75" fill="#111"/>
<line x1="406.30" y1="147.00" x2="406.30" y2="160.00" stroke="#a8a8a8" stroke-width="1.6"/>
<rect x="402.40" y="151.00" width="7.80" height="4.40" fill="#2aa7df"/>
<line x1="402.40" y1="153.00" x2="410.20" y2="153.00" stroke="#1b5e96" stroke-width="1.4"/>
<line x1="406.30" y1="122.70" x2="406.30" y2="145.60" stroke="#111" stroke-width="3.4" stroke-linecap="round"/>
<circle cx="406.30" cy="165.80" r="1.75" fill="#111"/>
<line x1="417.24" y1="125.00" x2="417.24" y2="165.80" stroke="#a8a8a8" stroke-width="1.6"/>
<rect x="413.34" y="142.30" width="7.80" height="13.10" fill="#2aa7df"/>
<line x1="413.34" y1="148.20" x2="421.14" y2="148.20" stroke="#1b5e96" stroke-width="1.4"/>
<line x1="417.24" y1="116.20" x2="417.24" y2="122.70" stroke="#111" stroke-width="3.4" stroke-linecap="round"/>
<circle cx="417.24" cy="96.50" r="1.75" fill="#111"/>
<circle cx="417.24" cy="109.60" r="1.75" fill="#111"/>
<line x1="428.18" y1="148.00" x2="428.18" y2="162.00" stroke="#a8a8a8" stroke-width="1.6"/>
<rect x="424.28" y="153.00" width="7.80" height="4.70" fill="#2aa7df"/>
<line x1="424.28" y1="155.40" x2="432.08" y2="155.40" stroke="#1b5e96" stroke-width="1.4"/>
<line x1="428.18" y1="138.40" x2="428.18" y2="146.20" stroke="#111" stroke-width="3.4" stroke-linecap="round"/>
<circle cx="428.18" cy="165.80" r="1.75" fill="#111"/>
<line x1="439.12" y1="146.00" x2="439.12" y2="166.80" stroke="#a8a8a8" stroke-width="1.6"/>
<rect x="435.22" y="153.00" width="7.80" height="5.60" fill="#2aa7df"/>
<line x1="435.22" y1="155.50" x2="443.02" y2="155.50" stroke="#1b5e96" stroke-width="1.4"/>
<line x1="439.12" y1="132.50" x2="439.12" y2="144.00" stroke="#111" stroke-width="3.4" stroke-linecap="round"/>
<line x1="450.06" y1="147.00" x2="450.06" y2="165.20" stroke="#a8a8a8" stroke-width="1.6"/>
<rect x="446.16" y="153.70" width="7.80" height="4.90" fill="#2aa7df"/>
<line x1="446.16" y1="156.40" x2="453.96" y2="156.40" stroke="#1b5e96" stroke-width="1.4"/>
<line x1="450.06" y1="133.00" x2="450.06" y2="145.00" stroke="#111" stroke-width="3.4" stroke-linecap="round"/>
<line x1="461.00" y1="150.00" x2="461.00" y2="165.00" stroke="#a8a8a8" stroke-width="1.6"/>
<rect x="457.10" y="155.40" width="7.80" height="4.90" fill="#2aa7df"/>
<line x1="457.10" y1="158.00" x2="464.90" y2="158.00" stroke="#1b5e96" stroke-width="1.4"/>
<line x1="461.00" y1="139.00" x2="461.00" y2="144.00" stroke="#111" stroke-width="3.4" stroke-linecap="round"/>
<line x1="461.00" y1="168.50" x2="461.00" y2="175.00" stroke="#111" stroke-width="3.4" stroke-linecap="round"/>
<line x1="471.94" y1="148.00" x2="471.94" y2="165.00" stroke="#a8a8a8" stroke-width="1.6"/>
<rect x="468.04" y="154.40" width="7.80" height="4.90" fill="#2aa7df"/>
<line x1="468.04" y1="157.00" x2="475.84" y2="157.00" stroke="#1b5e96" stroke-width="1.4"/>
<line x1="471.94" y1="137.40" x2="471.94" y2="145.60" stroke="#111" stroke-width="3.4" stroke-linecap="round"/>
<line x1="471.94" y1="168.50" x2="471.94" y2="171.00" stroke="#111" stroke-width="3.4" stroke-linecap="round"/>
<circle cx="471.94" cy="125.30" r="1.75" fill="#111"/>
<line x1="482.88" y1="151.00" x2="482.88" y2="166.00" stroke="#a8a8a8" stroke-width="1.6"/>
<rect x="478.98" y="157.00" width="7.80" height="5.00" fill="#2aa7df"/>
<line x1="478.98" y1="159.60" x2="486.78" y2="159.60" stroke="#1b5e96" stroke-width="1.4"/>
<line x1="482.88" y1="136.00" x2="482.88" y2="150.00" stroke="#111" stroke-width="3.4" stroke-linecap="round"/>
<circle cx="482.88" cy="131.80" r="1.75" fill="#111"/>
<circle cx="482.88" cy="170.00" r="1.75" fill="#111"/>
<line x1="493.82" y1="154.00" x2="493.82" y2="172.00" stroke="#a8a8a8" stroke-width="1.6"/>
<rect x="489.92" y="160.30" width="7.80" height="6.50" fill="#2aa7df"/>
<line x1="489.92" y1="164.50" x2="497.72" y2="164.50" stroke="#1b5e96" stroke-width="1.4"/>
<line x1="493.82" y1="141.70" x2="493.82" y2="152.00" stroke="#111" stroke-width="3.4" stroke-linecap="round"/>
<line x1="493.82" y1="176.60" x2="493.82" y2="180.00" stroke="#111" stroke-width="3.4" stroke-linecap="round"/>
<line x1="235.40" y1="20.20" x2="235.40" y2="187.80" stroke="#1a1a1a" stroke-width="1"/>
<line x1="234.90" y1="187.30" x2="501.00" y2="187.30" stroke="#1a1a1a" stroke-width="1"/>
<line x1="232.40" y1="61.50" x2="235.40" y2="61.50" stroke="#1a1a1a" stroke-width="1"/>
<text x="230.80" y="64.20" font-size="8.2" text-anchor="end" fill="#333" stroke="#333" stroke-width="0.1">10</text>
<line x1="232.40" y1="104.50" x2="235.40" y2="104.50" stroke="#1a1a1a" stroke-width="1"/>
<text x="230.80" y="107.20" font-size="8.2" text-anchor="end" fill="#333" stroke="#333" stroke-width="0.1">5</text>
<line x1="232.40" y1="147.50" x2="235.40" y2="147.50" stroke="#1a1a1a" stroke-width="1"/>
<text x="230.80" y="150.20" font-size="8.2" text-anchor="end" fill="#333" stroke="#333" stroke-width="0.1">0</text>
<line x1="242.20" y1="187.30" x2="242.20" y2="189.80" stroke="#1a1a1a" stroke-width="1"/>
<text x="242.20" y="200.00" font-size="8.3" text-anchor="middle" fill="#2a2a2a" stroke="#2a2a2a" stroke-width="0.1">22</text>
<line x1="253.14" y1="187.30" x2="253.14" y2="189.80" stroke="#1a1a1a" stroke-width="1"/>
<text x="253.14" y="200.00" font-size="8.3" text-anchor="middle" fill="#2a2a2a" stroke="#2a2a2a" stroke-width="0.1">20</text>
<line x1="264.08" y1="187.30" x2="264.08" y2="189.80" stroke="#1a1a1a" stroke-width="1"/>
<text x="264.08" y="200.00" font-size="8.3" text-anchor="middle" fill="#2a2a2a" stroke="#2a2a2a" stroke-width="0.1">4</text>
<line x1="275.02" y1="187.30" x2="275.02" y2="189.80" stroke="#1a1a1a" stroke-width="1"/>
<text x="275.02" y="200.00" font-size="8.3" text-anchor="middle" fill="#2a2a2a" stroke="#2a2a2a" stroke-width="0.1">12</text>
<line x1="285.96" y1="187.30" x2="285.96" y2="189.80" stroke="#1a1a1a" stroke-width="1"/>
<text x="285.96" y="200.00" font-size="8.3" text-anchor="middle" fill="#2a2a2a" stroke="#2a2a2a" stroke-width="0.1">0</text>
<line x1="296.90" y1="187.30" x2="296.90" y2="189.80" stroke="#1a1a1a" stroke-width="1"/>
<text x="296.90" y="200.00" font-size="8.3" text-anchor="middle" fill="#2a2a2a" stroke="#2a2a2a" stroke-width="0.1">19</text>
<line x1="307.84" y1="187.30" x2="307.84" y2="189.80" stroke="#1a1a1a" stroke-width="1"/>
<text x="307.84" y="200.00" font-size="8.3" text-anchor="middle" fill="#2a2a2a" stroke="#2a2a2a" stroke-width="0.1">3</text>
<line x1="318.78" y1="187.30" x2="318.78" y2="189.80" stroke="#1a1a1a" stroke-width="1"/>
<text x="318.78" y="200.00" font-size="8.3" text-anchor="middle" fill="#2a2a2a" stroke="#2a2a2a" stroke-width="0.1">11</text>
<line x1="329.72" y1="187.30" x2="329.72" y2="189.80" stroke="#1a1a1a" stroke-width="1"/>
<text x="329.72" y="200.00" font-size="8.3" text-anchor="middle" fill="#2a2a2a" stroke="#2a2a2a" stroke-width="0.1">21</text>
<line x1="340.66" y1="187.30" x2="340.66" y2="189.80" stroke="#1a1a1a" stroke-width="1"/>
<text x="340.66" y="200.00" font-size="8.3" text-anchor="middle" fill="#2a2a2a" stroke="#2a2a2a" stroke-width="0.1">10</text>
<line x1="351.60" y1="187.30" x2="351.60" y2="189.80" stroke="#1a1a1a" stroke-width="1"/>
<text x="351.60" y="200.00" font-size="8.3" text-anchor="middle" fill="#2a2a2a" stroke="#2a2a2a" stroke-width="0.1">23</text>
<line x1="362.54" y1="187.30" x2="362.54" y2="189.80" stroke="#1a1a1a" stroke-width="1"/>
<text x="362.54" y="200.00" font-size="8.3" text-anchor="middle" fill="#2a2a2a" stroke="#2a2a2a" stroke-width="0.1">15</text>
<line x1="373.48" y1="187.30" x2="373.48" y2="189.80" stroke="#1a1a1a" stroke-width="1"/>
<text x="373.48" y="200.00" font-size="8.3" text-anchor="middle" fill="#2a2a2a" stroke="#2a2a2a" stroke-width="0.1">16</text>
<line x1="384.42" y1="187.30" x2="384.42" y2="189.80" stroke="#1a1a1a" stroke-width="1"/>
<text x="384.42" y="200.00" font-size="8.3" text-anchor="middle" fill="#2a2a2a" stroke="#2a2a2a" stroke-width="0.1">17</text>
<line x1="395.36" y1="187.30" x2="395.36" y2="189.80" stroke="#1a1a1a" stroke-width="1"/>
<text x="395.36" y="200.00" font-size="8.3" text-anchor="middle" fill="#2a2a2a" stroke="#2a2a2a" stroke-width="0.1">18</text>
<line x1="406.30" y1="187.30" x2="406.30" y2="189.80" stroke="#1a1a1a" stroke-width="1"/>
<text x="406.30" y="200.00" font-size="8.3" text-anchor="middle" fill="#2a2a2a" stroke="#2a2a2a" stroke-width="0.1">13</text>
<line x1="417.24" y1="187.30" x2="417.24" y2="189.80" stroke="#1a1a1a" stroke-width="1"/>
<text x="417.24" y="200.00" font-size="8.3" text-anchor="middle" fill="#2a2a2a" stroke="#2a2a2a" stroke-width="0.1">14</text>
<line x1="428.18" y1="187.30" x2="428.18" y2="189.80" stroke="#1a1a1a" stroke-width="1"/>
<text x="428.18" y="200.00" font-size="8.3" text-anchor="middle" fill="#2a2a2a" stroke="#2a2a2a" stroke-width="0.1">8</text>
<line x1="439.12" y1="187.30" x2="439.12" y2="189.80" stroke="#1a1a1a" stroke-width="1"/>
<text x="439.12" y="200.00" font-size="8.3" text-anchor="middle" fill="#2a2a2a" stroke="#2a2a2a" stroke-width="0.1">5</text>
<line x1="450.06" y1="187.30" x2="450.06" y2="189.80" stroke="#1a1a1a" stroke-width="1"/>
<text x="450.06" y="200.00" font-size="8.3" text-anchor="middle" fill="#2a2a2a" stroke="#2a2a2a" stroke-width="0.1">1</text>
<line x1="461.00" y1="187.30" x2="461.00" y2="189.80" stroke="#1a1a1a" stroke-width="1"/>
<text x="461.00" y="200.00" font-size="8.3" text-anchor="middle" fill="#2a2a2a" stroke="#2a2a2a" stroke-width="0.1">7</text>
<line x1="471.94" y1="187.30" x2="471.94" y2="189.80" stroke="#1a1a1a" stroke-width="1"/>
<text x="471.94" y="200.00" font-size="8.3" text-anchor="middle" fill="#2a2a2a" stroke="#2a2a2a" stroke-width="0.1">9</text>
<line x1="482.88" y1="187.30" x2="482.88" y2="189.80" stroke="#1a1a1a" stroke-width="1"/>
<text x="482.88" y="200.00" font-size="8.3" text-anchor="middle" fill="#2a2a2a" stroke="#2a2a2a" stroke-width="0.1">6</text>
<line x1="493.82" y1="187.30" x2="493.82" y2="189.80" stroke="#1a1a1a" stroke-width="1"/>
<text x="493.82" y="200.00" font-size="8.3" text-anchor="middle" fill="#2a2a2a" stroke="#2a2a2a" stroke-width="0.1">2</text>
<text x="241.60" y="25.60" font-size="7.4" text-anchor="middle" fill="#222" stroke="#222" stroke-width="0.1" textLength="10" lengthAdjust="spacingAndGlyphs">***</text>
<text x="368.30" y="213.80" font-size="8.6" text-anchor="middle" fill="#333" stroke="#333" stroke-width="0.1" textLength="27" lengthAdjust="spacingAndGlyphs">Clusters</text>
<text x="215.00" y="103.30" font-size="9.2" text-anchor="middle" fill="#2a2a2a" stroke="#2a2a2a" stroke-width="0.1" textLength="137" lengthAdjust="spacingAndGlyphs" transform="rotate(-90 215.00 103.30)">Bystander score (bystander signature #1)</text>
<text x="6.80" y="241.20" font-size="11.6" text-anchor="start" fill="#111" font-weight="bold">C</text>
<rect x="144.50" y="254.00" width="10.65" height="8.93" fill="#461264"/>
<rect x="155.10" y="254.00" width="10.65" height="8.93" fill="#3b528a"/>
<rect x="165.70" y="254.00" width="10.65" height="8.93" fill="#fde725"/>
<rect x="176.30" y="254.00" width="10.65" height="8.93" fill="#461264"/>
<rect x="186.90" y="254.00" width="10.65" height="8.93" fill="#461264"/>
<rect x="197.50" y="254.00" width="10.65" height="8.93" fill="#461264"/>
<rect x="208.10" y="254.00" width="10.65" height="8.93" fill="#482475"/>
<rect x="218.70" y="254.00" width="10.65" height="8.93" fill="#461264"/>
<rect x="229.30" y="254.00" width="10.65" height="8.93" fill="#461264"/>
<rect x="239.90" y="254.00" width="10.65" height="8.93" fill="#482475"/>
<rect x="250.50" y="254.00" width="10.65" height="8.93" fill="#44347e"/>
<rect x="261.10" y="254.00" width="10.65" height="8.93" fill="#461264"/>
<rect x="271.70" y="254.00" width="10.65" height="8.93" fill="#482475"/>
<rect x="282.30" y="254.00" width="10.65" height="8.93" fill="#461264"/>
<rect x="292.90" y="254.00" width="10.65" height="8.93" fill="#461264"/>
<rect x="303.50" y="254.00" width="10.65" height="8.93" fill="#461264"/>
<rect x="314.10" y="254.00" width="10.65" height="8.93" fill="#461264"/>
<rect x="324.70" y="254.00" width="10.65" height="8.93" fill="#461264"/>
<rect x="335.30" y="254.00" width="10.65" height="8.93" fill="#461264"/>
<rect x="345.90" y="254.00" width="10.65" height="8.93" fill="#461264"/>
<rect x="356.50" y="254.00" width="10.65" height="8.93" fill="#461264"/>
<rect x="367.10" y="254.00" width="10.65" height="8.93" fill="#461264"/>
<rect x="377.70" y="254.00" width="10.65" height="8.93" fill="#461264"/>
<rect x="388.30" y="254.00" width="10.65" height="8.93" fill="#461264"/>
<rect x="144.50" y="262.88" width="10.65" height="8.93" fill="#461264"/>
<rect x="155.10" y="262.88" width="10.65" height="8.93" fill="#482475"/>
<rect x="165.70" y="262.88" width="10.65" height="8.93" fill="#fde725"/>
<rect x="176.30" y="262.88" width="10.65" height="8.93" fill="#461264"/>
<rect x="186.90" y="262.88" width="10.65" height="8.93" fill="#461264"/>
<rect x="197.50" y="262.88" width="10.65" height="8.93" fill="#461264"/>
<rect x="208.10" y="262.88" width="10.65" height="8.93" fill="#482475"/>
<rect x="218.70" y="262.88" width="10.65" height="8.93" fill="#461264"/>
<rect x="229.30" y="262.88" width="10.65" height="8.93" fill="#461264"/>
<rect x="239.90" y="262.88" width="10.65" height="8.93" fill="#461264"/>
<rect x="250.50" y="262.88" width="10.65" height="8.93" fill="#44347e"/>
<rect x="261.10" y="262.88" width="10.65" height="8.93" fill="#461264"/>
<rect x="271.70" y="262.88" width="10.65" height="8.93" fill="#44347e"/>
<rect x="282.30" y="262.88" width="10.65" height="8.93" fill="#482475"/>
<rect x="292.90" y="262.88" width="10.65" height="8.93" fill="#461264"/>
<rect x="303.50" y="262.88" width="10.65" height="8.93" fill="#461264"/>
<rect x="314.10" y="262.88" width="10.65" height="8.93" fill="#461264"/>
<rect x="324.70" y="262.88" width="10.65" height="8.93" fill="#461264"/>
<rect x="335.30" y="262.88" width="10.65" height="8.93" fill="#461264"/>
<rect x="345.90" y="262.88" width="10.65" height="8.93" fill="#461264"/>
<rect x="356.50" y="262.88" width="10.65" height="8.93" fill="#461264"/>
<rect x="367.10" y="262.88" width="10.65" height="8.93" fill="#461264"/>
<rect x="377.70" y="262.88" width="10.65" height="8.93" fill="#461264"/>
<rect x="388.30" y="262.88" width="10.65" height="8.93" fill="#461264"/>
<rect x="144.50" y="271.75" width="10.65" height="8.93" fill="#461264"/>
<rect x="155.10" y="271.75" width="10.65" height="8.93" fill="#482475"/>
<rect x="165.70" y="271.75" width="10.65" height="8.93" fill="#fde725"/>
<rect x="176.30" y="271.75" width="10.65" height="8.93" fill="#461264"/>
<rect x="186.90" y="271.75" width="10.65" height="8.93" fill="#461264"/>
<rect x="197.50" y="271.75" width="10.65" height="8.93" fill="#440154"/>
<rect x="208.10" y="271.75" width="10.65" height="8.93" fill="#461264"/>
<rect x="218.70" y="271.75" width="10.65" height="8.93" fill="#414487"/>
<rect x="229.30" y="271.75" width="10.65" height="8.93" fill="#44347e"/>
<rect x="239.90" y="271.75" width="10.65" height="8.93" fill="#414487"/>
<rect x="250.50" y="271.75" width="10.65" height="8.93" fill="#461264"/>
<rect x="261.10" y="271.75" width="10.65" height="8.93" fill="#461264"/>
<rect x="271.70" y="271.75" width="10.65" height="8.93" fill="#461264"/>
<rect x="282.30" y="271.75" width="10.65" height="8.93" fill="#461264"/>
<rect x="292.90" y="271.75" width="10.65" height="8.93" fill="#482475"/>
<rect x="303.50" y="271.75" width="10.65" height="8.93" fill="#44347e"/>
<rect x="314.10" y="271.75" width="10.65" height="8.93" fill="#461264"/>
<rect x="324.70" y="271.75" width="10.65" height="8.93" fill="#461264"/>
<rect x="335.30" y="271.75" width="10.65" height="8.93" fill="#355f8d"/>
<rect x="345.90" y="271.75" width="10.65" height="8.93" fill="#461264"/>
<rect x="356.50" y="271.75" width="10.65" height="8.93" fill="#414487"/>
<rect x="367.10" y="271.75" width="10.65" height="8.93" fill="#461264"/>
<rect x="377.70" y="271.75" width="10.65" height="8.93" fill="#461264"/>
<rect x="388.30" y="271.75" width="10.65" height="8.93" fill="#44347e"/>
<rect x="144.50" y="280.62" width="10.65" height="8.93" fill="#482475"/>
<rect x="155.10" y="280.62" width="10.65" height="8.93" fill="#2a788e"/>
<rect x="165.70" y="280.62" width="10.65" height="8.93" fill="#fde725"/>
<rect x="176.30" y="280.62" width="10.65" height="8.93" fill="#355f8d"/>
<rect x="186.90" y="280.62" width="10.65" height="8.93" fill="#461264"/>
<rect x="197.50" y="280.62" width="10.65" height="8.93" fill="#461264"/>
<rect x="208.10" y="280.62" width="10.65" height="8.93" fill="#482475"/>
<rect x="218.70" y="280.62" width="10.65" height="8.93" fill="#461264"/>
<rect x="229.30" y="280.62" width="10.65" height="8.93" fill="#482475"/>
<rect x="239.90" y="280.62" width="10.65" height="8.93" fill="#3b528a"/>
<rect x="250.50" y="280.62" width="10.65" height="8.93" fill="#482475"/>
<rect x="261.10" y="280.62" width="10.65" height="8.93" fill="#461264"/>
<rect x="271.70" y="280.62" width="10.65" height="8.93" fill="#461264"/>
<rect x="282.30" y="280.62" width="10.65" height="8.93" fill="#461264"/>
<rect x="292.90" y="280.62" width="10.65" height="8.93" fill="#3b528a"/>
<rect x="303.50" y="280.62" width="10.65" height="8.93" fill="#414487"/>
<rect x="314.10" y="280.62" width="10.65" height="8.93" fill="#414487"/>
<rect x="324.70" y="280.62" width="10.65" height="8.93" fill="#482475"/>
<rect x="335.30" y="280.62" width="10.65" height="8.93" fill="#461264"/>
<rect x="345.90" y="280.62" width="10.65" height="8.93" fill="#461264"/>
<rect x="356.50" y="280.62" width="10.65" height="8.93" fill="#461264"/>
<rect x="367.10" y="280.62" width="10.65" height="8.93" fill="#461264"/>
<rect x="377.70" y="280.62" width="10.65" height="8.93" fill="#461264"/>
<rect x="388.30" y="280.62" width="10.65" height="8.93" fill="#461264"/>
<rect x="144.50" y="289.50" width="10.65" height="8.93" fill="#482475"/>
<rect x="155.10" y="289.50" width="10.65" height="8.93" fill="#7ad151"/>
<rect x="165.70" y="289.50" width="10.65" height="8.93" fill="#22a884"/>
<rect x="176.30" y="289.50" width="10.65" height="8.93" fill="#482475"/>
<rect x="186.90" y="289.50" width="10.65" height="8.93" fill="#2a788e"/>
<rect x="197.50" y="289.50" width="10.65" height="8.93" fill="#26848d"/>
<rect x="208.10" y="289.50" width="10.65" height="8.93" fill="#fde725"/>
<rect x="218.70" y="289.50" width="10.65" height="8.93" fill="#461264"/>
<rect x="229.30" y="289.50" width="10.65" height="8.93" fill="#461264"/>
<rect x="239.90" y="289.50" width="10.65" height="8.93" fill="#461264"/>
<rect x="250.50" y="289.50" width="10.65" height="8.93" fill="#482475"/>
<rect x="261.10" y="289.50" width="10.65" height="8.93" fill="#482475"/>
<rect x="271.70" y="289.50" width="10.65" height="8.93" fill="#482475"/>
<rect x="282.30" y="289.50" width="10.65" height="8.93" fill="#482475"/>
<rect x="292.90" y="289.50" width="10.65" height="8.93" fill="#44347e"/>
<rect x="303.50" y="289.50" width="10.65" height="8.93" fill="#461264"/>
<rect x="314.10" y="289.50" width="10.65" height="8.93" fill="#461264"/>
<rect x="324.70" y="289.50" width="10.65" height="8.93" fill="#461264"/>
<rect x="335.30" y="289.50" width="10.65" height="8.93" fill="#461264"/>
<rect x="345.90" y="289.50" width="10.65" height="8.93" fill="#461264"/>
<rect x="356.50" y="289.50" width="10.65" height="8.93" fill="#461264"/>
<rect x="367.10" y="289.50" width="10.65" height="8.93" fill="#461264"/>
<rect x="377.70" y="289.50" width="10.65" height="8.93" fill="#461264"/>
<rect x="388.30" y="289.50" width="10.65" height="8.93" fill="#461264"/>
<rect x="144.50" y="298.38" width="10.65" height="8.93" fill="#482475"/>
<rect x="155.10" y="298.38" width="10.65" height="8.93" fill="#fde725"/>
<rect x="165.70" y="298.38" width="10.65" height="8.93" fill="#33b47a"/>
<rect x="176.30" y="298.38" width="10.65" height="8.93" fill="#355f8d"/>
<rect x="186.90" y="298.38" width="10.65" height="8.93" fill="#2a788e"/>
<rect x="197.50" y="298.38" width="10.65" height="8.93" fill="#22a884"/>
<rect x="208.10" y="298.38" width="10.65" height="8.93" fill="#cae126"/>
<rect x="218.70" y="298.38" width="10.65" height="8.93" fill="#461264"/>
<rect x="229.30" y="298.38" width="10.65" height="8.93" fill="#461264"/>
<rect x="239.90" y="298.38" width="10.65" height="8.93" fill="#461264"/>
<rect x="250.50" y="298.38" width="10.65" height="8.93" fill="#482475"/>
<rect x="261.10" y="298.38" width="10.65" height="8.93" fill="#482475"/>
<rect x="271.70" y="298.38" width="10.65" height="8.93" fill="#44347e"/>
<rect x="282.30" y="298.38" width="10.65" height="8.93" fill="#482475"/>
<rect x="292.90" y="298.38" width="10.65" height="8.93" fill="#355f8d"/>
<rect x="303.50" y="298.38" width="10.65" height="8.93" fill="#461264"/>
<rect x="314.10" y="298.38" width="10.65" height="8.93" fill="#461264"/>
<rect x="324.70" y="298.38" width="10.65" height="8.93" fill="#461264"/>
<rect x="335.30" y="298.38" width="10.65" height="8.93" fill="#482475"/>
<rect x="345.90" y="298.38" width="10.65" height="8.93" fill="#461264"/>
<rect x="356.50" y="298.38" width="10.65" height="8.93" fill="#461264"/>
<rect x="367.10" y="298.38" width="10.65" height="8.93" fill="#461264"/>
<rect x="377.70" y="298.38" width="10.65" height="8.93" fill="#461264"/>
<rect x="388.30" y="298.38" width="10.65" height="8.93" fill="#461264"/>
<rect x="144.50" y="307.25" width="10.65" height="8.93" fill="#482475"/>
<rect x="155.10" y="307.25" width="10.65" height="8.93" fill="#9cd83c"/>
<rect x="165.70" y="307.25" width="10.65" height="8.93" fill="#fde725"/>
<rect x="176.30" y="307.25" width="10.65" height="8.93" fill="#414487"/>
<rect x="186.90" y="307.25" width="10.65" height="8.93" fill="#44347e"/>
<rect x="197.50" y="307.25" width="10.65" height="8.93" fill="#355f8d"/>
<rect x="208.10" y="307.25" width="10.65" height="8.93" fill="#3b528a"/>
<rect x="218.70" y="307.25" width="10.65" height="8.93" fill="#461264"/>
<rect x="229.30" y="307.25" width="10.65" height="8.93" fill="#461264"/>
<rect x="239.90" y="307.25" width="10.65" height="8.93" fill="#482475"/>
<rect x="250.50" y="307.25" width="10.65" height="8.93" fill="#482475"/>
<rect x="261.10" y="307.25" width="10.65" height="8.93" fill="#482475"/>
<rect x="271.70" y="307.25" width="10.65" height="8.93" fill="#482475"/>
<rect x="282.30" y="307.25" width="10.65" height="8.93" fill="#482475"/>
<rect x="292.90" y="307.25" width="10.65" height="8.93" fill="#482475"/>
<rect x="303.50" y="307.25" width="10.65" height="8.93" fill="#461264"/>
<rect x="314.10" y="307.25" width="10.65" height="8.93" fill="#461264"/>
<rect x="324.70" y="307.25" width="10.65" height="8.93" fill="#461264"/>
<rect x="335.30" y="307.25" width="10.65" height="8.93" fill="#461264"/>
<rect x="345.90" y="307.25" width="10.65" height="8.93" fill="#461264"/>
<rect x="356.50" y="307.25" width="10.65" height="8.93" fill="#461264"/>
<rect x="367.10" y="307.25" width="10.65" height="8.93" fill="#461264"/>
<rect x="377.70" y="307.25" width="10.65" height="8.93" fill="#461264"/>
<rect x="388.30" y="307.25" width="10.65" height="8.93" fill="#461264"/>
<rect x="144.50" y="316.12" width="10.65" height="8.93" fill="#461264"/>
<rect x="155.10" y="316.12" width="10.65" height="8.93" fill="#2a788e"/>
<rect x="165.70" y="316.12" width="10.65" height="8.93" fill="#fde725"/>
<rect x="176.30" y="316.12" width="10.65" height="8.93" fill="#414487"/>
<rect x="186.90" y="316.12" width="10.65" height="8.93" fill="#306c8e"/>
<rect x="197.50" y="316.12" width="10.65" height="8.93" fill="#229c88"/>
<rect x="208.10" y="316.12" width="10.65" height="8.93" fill="#cae126"/>
<rect x="218.70" y="316.12" width="10.65" height="8.93" fill="#461264"/>
<rect x="229.30" y="316.12" width="10.65" height="8.93" fill="#461264"/>
<rect x="239.90" y="316.12" width="10.65" height="8.93" fill="#461264"/>
<rect x="250.50" y="316.12" width="10.65" height="8.93" fill="#482475"/>
<rect x="261.10" y="316.12" width="10.65" height="8.93" fill="#461264"/>
<rect x="271.70" y="316.12" width="10.65" height="8.93" fill="#44347e"/>
<rect x="282.30" y="316.12" width="10.65" height="8.93" fill="#482475"/>
<rect x="292.90" y="316.12" width="10.65" height="8.93" fill="#44347e"/>
<rect x="303.50" y="316.12" width="10.65" height="8.93" fill="#461264"/>
<rect x="314.10" y="316.12" width="10.65" height="8.93" fill="#461264"/>
<rect x="324.70" y="316.12" width="10.65" height="8.93" fill="#461264"/>
<rect x="335.30" y="316.12" width="10.65" height="8.93" fill="#461264"/>
<rect x="345.90" y="316.12" width="10.65" height="8.93" fill="#461264"/>
<rect x="356.50" y="316.12" width="10.65" height="8.93" fill="#461264"/>
<rect x="367.10" y="316.12" width="10.65" height="8.93" fill="#461264"/>
<rect x="377.70" y="316.12" width="10.65" height="8.93" fill="#461264"/>
<rect x="388.30" y="316.12" width="10.65" height="8.93" fill="#461264"/>
<rect x="144.50" y="325.00" width="10.65" height="8.93" fill="#482475"/>
<rect x="155.10" y="325.00" width="10.65" height="8.93" fill="#229c88"/>
<rect x="165.70" y="325.00" width="10.65" height="8.93" fill="#fde725"/>
<rect x="176.30" y="325.00" width="10.65" height="8.93" fill="#306c8e"/>
<rect x="186.90" y="325.00" width="10.65" height="8.93" fill="#306c8e"/>
<rect x="197.50" y="325.00" width="10.65" height="8.93" fill="#21918c"/>
<rect x="208.10" y="325.00" width="10.65" height="8.93" fill="#5fc860"/>
<rect x="218.70" y="325.00" width="10.65" height="8.93" fill="#482475"/>
<rect x="229.30" y="325.00" width="10.65" height="8.93" fill="#482475"/>
<rect x="239.90" y="325.00" width="10.65" height="8.93" fill="#414487"/>
<rect x="250.50" y="325.00" width="10.65" height="8.93" fill="#306c8e"/>
<rect x="261.10" y="325.00" width="10.65" height="8.93" fill="#2a788e"/>
<rect x="271.70" y="325.00" width="10.65" height="8.93" fill="#22a884"/>
<rect x="282.30" y="325.00" width="10.65" height="8.93" fill="#26848d"/>
<rect x="292.90" y="325.00" width="10.65" height="8.93" fill="#44347e"/>
<rect x="303.50" y="325.00" width="10.65" height="8.93" fill="#461264"/>
<rect x="314.10" y="325.00" width="10.65" height="8.93" fill="#461264"/>
<rect x="324.70" y="325.00" width="10.65" height="8.93" fill="#461264"/>
<rect x="335.30" y="325.00" width="10.65" height="8.93" fill="#44347e"/>
<rect x="345.90" y="325.00" width="10.65" height="8.93" fill="#482475"/>
<rect x="356.50" y="325.00" width="10.65" height="8.93" fill="#461264"/>
<rect x="367.10" y="325.00" width="10.65" height="8.93" fill="#461264"/>
<rect x="377.70" y="325.00" width="10.65" height="8.93" fill="#461264"/>
<rect x="388.30" y="325.00" width="10.65" height="8.93" fill="#461264"/>
<rect x="144.50" y="333.88" width="10.65" height="8.93" fill="#461264"/>
<rect x="155.10" y="333.88" width="10.65" height="8.93" fill="#fde725"/>
<rect x="165.70" y="333.88" width="10.65" height="8.93" fill="#7ad151"/>
<rect x="176.30" y="333.88" width="10.65" height="8.93" fill="#355f8d"/>
<rect x="186.90" y="333.88" width="10.65" height="8.93" fill="#44347e"/>
<rect x="197.50" y="333.88" width="10.65" height="8.93" fill="#33b47a"/>
<rect x="208.10" y="333.88" width="10.65" height="8.93" fill="#21918c"/>
<rect x="218.70" y="333.88" width="10.65" height="8.93" fill="#461264"/>
<rect x="229.30" y="333.88" width="10.65" height="8.93" fill="#461264"/>
<rect x="239.90" y="333.88" width="10.65" height="8.93" fill="#482475"/>
<rect x="250.50" y="333.88" width="10.65" height="8.93" fill="#2a788e"/>
<rect x="261.10" y="333.88" width="10.65" height="8.93" fill="#461264"/>
<rect x="271.70" y="333.88" width="10.65" height="8.93" fill="#482475"/>
<rect x="282.30" y="333.88" width="10.65" height="8.93" fill="#44347e"/>
<rect x="292.90" y="333.88" width="10.65" height="8.93" fill="#306c8e"/>
<rect x="303.50" y="333.88" width="10.65" height="8.93" fill="#461264"/>
<rect x="314.10" y="333.88" width="10.65" height="8.93" fill="#461264"/>
<rect x="324.70" y="333.88" width="10.65" height="8.93" fill="#461264"/>
<rect x="335.30" y="333.88" width="10.65" height="8.93" fill="#461264"/>
<rect x="345.90" y="333.88" width="10.65" height="8.93" fill="#461264"/>
<rect x="356.50" y="333.88" width="10.65" height="8.93" fill="#461264"/>
<rect x="367.10" y="333.88" width="10.65" height="8.93" fill="#461264"/>
<rect x="377.70" y="333.88" width="10.65" height="8.93" fill="#461264"/>
<rect x="388.30" y="333.88" width="10.65" height="8.93" fill="#461264"/>
<rect x="144.50" y="342.75" width="10.65" height="8.93" fill="#461264"/>
<rect x="155.10" y="342.75" width="10.65" height="8.93" fill="#44347e"/>
<rect x="165.70" y="342.75" width="10.65" height="8.93" fill="#461264"/>
<rect x="176.30" y="342.75" width="10.65" height="8.93" fill="#44347e"/>
<rect x="186.90" y="342.75" width="10.65" height="8.93" fill="#3b528a"/>
<rect x="197.50" y="342.75" width="10.65" height="8.93" fill="#26848d"/>
<rect x="208.10" y="342.75" width="10.65" height="8.93" fill="#21918c"/>
<rect x="218.70" y="342.75" width="10.65" height="8.93" fill="#461264"/>
<rect x="229.30" y="342.75" width="10.65" height="8.93" fill="#461264"/>
<rect x="239.90" y="342.75" width="10.65" height="8.93" fill="#482475"/>
<rect x="250.50" y="342.75" width="10.65" height="8.93" fill="#44347e"/>
<rect x="261.10" y="342.75" width="10.65" height="8.93" fill="#482475"/>
<rect x="271.70" y="342.75" width="10.65" height="8.93" fill="#482475"/>
<rect x="282.30" y="342.75" width="10.65" height="8.93" fill="#44347e"/>
<rect x="292.90" y="342.75" width="10.65" height="8.93" fill="#fde725"/>
<rect x="303.50" y="342.75" width="10.65" height="8.93" fill="#26848d"/>
<rect x="314.10" y="342.75" width="10.65" height="8.93" fill="#482475"/>
<rect x="324.70" y="342.75" width="10.65" height="8.93" fill="#482475"/>
<rect x="335.30" y="342.75" width="10.65" height="8.93" fill="#461264"/>
<rect x="345.90" y="342.75" width="10.65" height="8.93" fill="#461264"/>
<rect x="356.50" y="342.75" width="10.65" height="8.93" fill="#461264"/>
<rect x="367.10" y="342.75" width="10.65" height="8.93" fill="#482475"/>
<rect x="377.70" y="342.75" width="10.65" height="8.93" fill="#461264"/>
<rect x="388.30" y="342.75" width="10.65" height="8.93" fill="#461264"/>
<rect x="144.50" y="351.62" width="10.65" height="8.93" fill="#482475"/>
<rect x="155.10" y="351.62" width="10.65" height="8.93" fill="#482475"/>
<rect x="165.70" y="351.62" width="10.65" height="8.93" fill="#461264"/>
<rect x="176.30" y="351.62" width="10.65" height="8.93" fill="#414487"/>
<rect x="186.90" y="351.62" width="10.65" height="8.93" fill="#461264"/>
<rect x="197.50" y="351.62" width="10.65" height="8.93" fill="#414487"/>
<rect x="208.10" y="351.62" width="10.65" height="8.93" fill="#461264"/>
<rect x="218.70" y="351.62" width="10.65" height="8.93" fill="#482475"/>
<rect x="229.30" y="351.62" width="10.65" height="8.93" fill="#44347e"/>
<rect x="239.90" y="351.62" width="10.65" height="8.93" fill="#414487"/>
<rect x="250.50" y="351.62" width="10.65" height="8.93" fill="#482475"/>
<rect x="261.10" y="351.62" width="10.65" height="8.93" fill="#fde725"/>
<rect x="271.70" y="351.62" width="10.65" height="8.93" fill="#482475"/>
<rect x="282.30" y="351.62" width="10.65" height="8.93" fill="#44347e"/>
<rect x="292.90" y="351.62" width="10.65" height="8.93" fill="#482475"/>
<rect x="303.50" y="351.62" width="10.65" height="8.93" fill="#461264"/>
<rect x="314.10" y="351.62" width="10.65" height="8.93" fill="#3b528a"/>
<rect x="324.70" y="351.62" width="10.65" height="8.93" fill="#414487"/>
<rect x="335.30" y="351.62" width="10.65" height="8.93" fill="#482475"/>
<rect x="345.90" y="351.62" width="10.65" height="8.93" fill="#461264"/>
<rect x="356.50" y="351.62" width="10.65" height="8.93" fill="#461264"/>
<rect x="367.10" y="351.62" width="10.65" height="8.93" fill="#461264"/>
<rect x="377.70" y="351.62" width="10.65" height="8.93" fill="#482475"/>
<rect x="388.30" y="351.62" width="10.65" height="8.93" fill="#461264"/>
<rect x="144.50" y="360.50" width="10.65" height="8.93" fill="#482475"/>
<rect x="155.10" y="360.50" width="10.65" height="8.93" fill="#482475"/>
<rect x="165.70" y="360.50" width="10.65" height="8.93" fill="#461264"/>
<rect x="176.30" y="360.50" width="10.65" height="8.93" fill="#44347e"/>
<rect x="186.90" y="360.50" width="10.65" height="8.93" fill="#461264"/>
<rect x="197.50" y="360.50" width="10.65" height="8.93" fill="#482475"/>
<rect x="208.10" y="360.50" width="10.65" height="8.93" fill="#482475"/>
<rect x="218.70" y="360.50" width="10.65" height="8.93" fill="#26848d"/>
<rect x="229.30" y="360.50" width="10.65" height="8.93" fill="#21918c"/>
<rect x="239.90" y="360.50" width="10.65" height="8.93" fill="#414487"/>
<rect x="250.50" y="360.50" width="10.65" height="8.93" fill="#fde725"/>
<rect x="261.10" y="360.50" width="10.65" height="8.93" fill="#44347e"/>
<rect x="271.70" y="360.50" width="10.65" height="8.93" fill="#482475"/>
<rect x="282.30" y="360.50" width="10.65" height="8.93" fill="#44347e"/>
<rect x="292.90" y="360.50" width="10.65" height="8.93" fill="#229c88"/>
<rect x="303.50" y="360.50" width="10.65" height="8.93" fill="#fde725"/>
<rect x="314.10" y="360.50" width="10.65" height="8.93" fill="#355f8d"/>
<rect x="324.70" y="360.50" width="10.65" height="8.93" fill="#2a788e"/>
<rect x="335.30" y="360.50" width="10.65" height="8.93" fill="#44347e"/>
<rect x="345.90" y="360.50" width="10.65" height="8.93" fill="#306c8e"/>
<rect x="356.50" y="360.50" width="10.65" height="8.93" fill="#306c8e"/>
<rect x="367.10" y="360.50" width="10.65" height="8.93" fill="#482475"/>
<rect x="377.70" y="360.50" width="10.65" height="8.93" fill="#355f8d"/>
<rect x="388.30" y="360.50" width="10.65" height="8.93" fill="#44347e"/>
<rect x="144.50" y="369.38" width="10.65" height="8.93" fill="#229c88"/>
<rect x="155.10" y="369.38" width="10.65" height="8.93" fill="#355f8d"/>
<rect x="165.70" y="369.38" width="10.65" height="8.93" fill="#3b528a"/>
<rect x="176.30" y="369.38" width="10.65" height="8.93" fill="#414487"/>
<rect x="186.90" y="369.38" width="10.65" height="8.93" fill="#3b528a"/>
<rect x="197.50" y="369.38" width="10.65" height="8.93" fill="#461264"/>
<rect x="208.10" y="369.38" width="10.65" height="8.93" fill="#461264"/>
<rect x="218.70" y="369.38" width="10.65" height="8.93" fill="#21918c"/>
<rect x="229.30" y="369.38" width="10.65" height="8.93" fill="#21918c"/>
<rect x="239.90" y="369.38" width="10.65" height="8.93" fill="#355f8d"/>
<rect x="250.50" y="369.38" width="10.65" height="8.93" fill="#26848d"/>
<rect x="261.10" y="369.38" width="10.65" height="8.93" fill="#461264"/>
<rect x="271.70" y="369.38" width="10.65" height="8.93" fill="#2a788e"/>
<rect x="282.30" y="369.38" width="10.65" height="8.93" fill="#355f8d"/>
<rect x="292.90" y="369.38" width="10.65" height="8.93" fill="#7ad151"/>
<rect x="303.50" y="369.38" width="10.65" height="8.93" fill="#306c8e"/>
<rect x="314.10" y="369.38" width="10.65" height="8.93" fill="#306c8e"/>
<rect x="324.70" y="369.38" width="10.65" height="8.93" fill="#229c88"/>
<rect x="335.30" y="369.38" width="10.65" height="8.93" fill="#21918c"/>
<rect x="345.90" y="369.38" width="10.65" height="8.93" fill="#bddf26"/>
<rect x="356.50" y="369.38" width="10.65" height="8.93" fill="#dde326"/>
<rect x="367.10" y="369.38" width="10.65" height="8.93" fill="#22a884"/>
<rect x="377.70" y="369.38" width="10.65" height="8.93" fill="#44bf70"/>
<rect x="388.30" y="369.38" width="10.65" height="8.93" fill="#9cd83c"/>
<rect x="144.50" y="378.25" width="10.65" height="8.93" fill="#482475"/>
<rect x="155.10" y="378.25" width="10.65" height="8.93" fill="#461264"/>
<rect x="165.70" y="378.25" width="10.65" height="8.93" fill="#461264"/>
<rect x="176.30" y="378.25" width="10.65" height="8.93" fill="#44bf70"/>
<rect x="186.90" y="378.25" width="10.65" height="8.93" fill="#44347e"/>
<rect x="197.50" y="378.25" width="10.65" height="8.93" fill="#44347e"/>
<rect x="208.10" y="378.25" width="10.65" height="8.93" fill="#461264"/>
<rect x="218.70" y="378.25" width="10.65" height="8.93" fill="#22a884"/>
<rect x="229.30" y="378.25" width="10.65" height="8.93" fill="#22a884"/>
<rect x="239.90" y="378.25" width="10.65" height="8.93" fill="#355f8d"/>
<rect x="250.50" y="378.25" width="10.65" height="8.93" fill="#dde326"/>
<rect x="261.10" y="378.25" width="10.65" height="8.93" fill="#44347e"/>
<rect x="271.70" y="378.25" width="10.65" height="8.93" fill="#482475"/>
<rect x="282.30" y="378.25" width="10.65" height="8.93" fill="#414487"/>
<rect x="292.90" y="378.25" width="10.65" height="8.93" fill="#fde725"/>
<rect x="303.50" y="378.25" width="10.65" height="8.93" fill="#fde725"/>
<rect x="314.10" y="378.25" width="10.65" height="8.93" fill="#355f8d"/>
<rect x="324.70" y="378.25" width="10.65" height="8.93" fill="#3b528a"/>
<rect x="335.30" y="378.25" width="10.65" height="8.93" fill="#9cd83c"/>
<rect x="345.90" y="378.25" width="10.65" height="8.93" fill="#414487"/>
<rect x="356.50" y="378.25" width="10.65" height="8.93" fill="#355f8d"/>
<rect x="367.10" y="378.25" width="10.65" height="8.93" fill="#461264"/>
<rect x="377.70" y="378.25" width="10.65" height="8.93" fill="#26848d"/>
<rect x="388.30" y="378.25" width="10.65" height="8.93" fill="#306c8e"/>
<rect x="144.50" y="387.12" width="10.65" height="8.93" fill="#44347e"/>
<rect x="155.10" y="387.12" width="10.65" height="8.93" fill="#3b528a"/>
<rect x="165.70" y="387.12" width="10.65" height="8.93" fill="#461264"/>
<rect x="176.30" y="387.12" width="10.65" height="8.93" fill="#fde725"/>
<rect x="186.90" y="387.12" width="10.65" height="8.93" fill="#355f8d"/>
<rect x="197.50" y="387.12" width="10.65" height="8.93" fill="#355f8d"/>
<rect x="208.10" y="387.12" width="10.65" height="8.93" fill="#482475"/>
<rect x="218.70" y="387.12" width="10.65" height="8.93" fill="#44bf70"/>
<rect x="229.30" y="387.12" width="10.65" height="8.93" fill="#44bf70"/>
<rect x="239.90" y="387.12" width="10.65" height="8.93" fill="#306c8e"/>
<rect x="250.50" y="387.12" width="10.65" height="8.93" fill="#461264"/>
<rect x="261.10" y="387.12" width="10.65" height="8.93" fill="#482475"/>
<rect x="271.70" y="387.12" width="10.65" height="8.93" fill="#482475"/>
<rect x="282.30" y="387.12" width="10.65" height="8.93" fill="#33b47a"/>
<rect x="292.90" y="387.12" width="10.65" height="8.93" fill="#482475"/>
<rect x="303.50" y="387.12" width="10.65" height="8.93" fill="#44347e"/>
<rect x="314.10" y="387.12" width="10.65" height="8.93" fill="#fde725"/>
<rect x="324.70" y="387.12" width="10.65" height="8.93" fill="#26848d"/>
<rect x="335.30" y="387.12" width="10.65" height="8.93" fill="#306c8e"/>
<rect x="345.90" y="387.12" width="10.65" height="8.93" fill="#2a788e"/>
<rect x="356.50" y="387.12" width="10.65" height="8.93" fill="#44347e"/>
<rect x="367.10" y="387.12" width="10.65" height="8.93" fill="#2a788e"/>
<rect x="377.70" y="387.12" width="10.65" height="8.93" fill="#7ad151"/>
<rect x="388.30" y="387.12" width="10.65" height="8.93" fill="#21918c"/>
<rect x="144.50" y="396.00" width="10.65" height="8.93" fill="#482475"/>
<rect x="155.10" y="396.00" width="10.65" height="8.93" fill="#461264"/>
<rect x="165.70" y="396.00" width="10.65" height="8.93" fill="#461264"/>
<rect x="176.30" y="396.00" width="10.65" height="8.93" fill="#461264"/>
<rect x="186.90" y="396.00" width="10.65" height="8.93" fill="#414487"/>
<rect x="197.50" y="396.00" width="10.65" height="8.93" fill="#482475"/>
<rect x="208.10" y="396.00" width="10.65" height="8.93" fill="#482475"/>
<rect x="218.70" y="396.00" width="10.65" height="8.93" fill="#355f8d"/>
<rect x="229.30" y="396.00" width="10.65" height="8.93" fill="#2a788e"/>
<rect x="239.90" y="396.00" width="10.65" height="8.93" fill="#482475"/>
<rect x="250.50" y="396.00" width="10.65" height="8.93" fill="#dde326"/>
<rect x="261.10" y="396.00" width="10.65" height="8.93" fill="#fde725"/>
<rect x="271.70" y="396.00" width="10.65" height="8.93" fill="#7ad151"/>
<rect x="282.30" y="396.00" width="10.65" height="8.93" fill="#21918c"/>
<rect x="292.90" y="396.00" width="10.65" height="8.93" fill="#355f8d"/>
<rect x="303.50" y="396.00" width="10.65" height="8.93" fill="#414487"/>
<rect x="314.10" y="396.00" width="10.65" height="8.93" fill="#482475"/>
<rect x="324.70" y="396.00" width="10.65" height="8.93" fill="#44347e"/>
<rect x="335.30" y="396.00" width="10.65" height="8.93" fill="#306c8e"/>
<rect x="345.90" y="396.00" width="10.65" height="8.93" fill="#2a788e"/>
<rect x="356.50" y="396.00" width="10.65" height="8.93" fill="#26848d"/>
<rect x="367.10" y="396.00" width="10.65" height="8.93" fill="#2a788e"/>
<rect x="377.70" y="396.00" width="10.65" height="8.93" fill="#3b528a"/>
<rect x="388.30" y="396.00" width="10.65" height="8.93" fill="#3b528a"/>
<rect x="144.50" y="404.88" width="10.65" height="8.93" fill="#414487"/>
<rect x="155.10" y="404.88" width="10.65" height="8.93" fill="#461264"/>
<rect x="165.70" y="404.88" width="10.65" height="8.93" fill="#461264"/>
<rect x="176.30" y="404.88" width="10.65" height="8.93" fill="#355f8d"/>
<rect x="186.90" y="404.88" width="10.65" height="8.93" fill="#355f8d"/>
<rect x="197.50" y="404.88" width="10.65" height="8.93" fill="#3b528a"/>
<rect x="208.10" y="404.88" width="10.65" height="8.93" fill="#482475"/>
<rect x="218.70" y="404.88" width="10.65" height="8.93" fill="#229c88"/>
<rect x="229.30" y="404.88" width="10.65" height="8.93" fill="#22a884"/>
<rect x="239.90" y="404.88" width="10.65" height="8.93" fill="#414487"/>
<rect x="250.50" y="404.88" width="10.65" height="8.93" fill="#26848d"/>
<rect x="261.10" y="404.88" width="10.65" height="8.93" fill="#355f8d"/>
<rect x="271.70" y="404.88" width="10.65" height="8.93" fill="#21918c"/>
<rect x="282.30" y="404.88" width="10.65" height="8.93" fill="#26848d"/>
<rect x="292.90" y="404.88" width="10.65" height="8.93" fill="#414487"/>
<rect x="303.50" y="404.88" width="10.65" height="8.93" fill="#21918c"/>
<rect x="314.10" y="404.88" width="10.65" height="8.93" fill="#306c8e"/>
<rect x="324.70" y="404.88" width="10.65" height="8.93" fill="#26848d"/>
<rect x="335.30" y="404.88" width="10.65" height="8.93" fill="#229c88"/>
<rect x="345.90" y="404.88" width="10.65" height="8.93" fill="#5fc860"/>
<rect x="356.50" y="404.88" width="10.65" height="8.93" fill="#fde725"/>
<rect x="367.10" y="404.88" width="10.65" height="8.93" fill="#22a884"/>
<rect x="377.70" y="404.88" width="10.65" height="8.93" fill="#33b47a"/>
<rect x="388.30" y="404.88" width="10.65" height="8.93" fill="#5fc860"/>
<rect x="144.50" y="413.75" width="10.65" height="8.93" fill="#fde725"/>
<rect x="155.10" y="413.75" width="10.65" height="8.93" fill="#21918c"/>
<rect x="165.70" y="413.75" width="10.65" height="8.93" fill="#355f8d"/>
<rect x="176.30" y="413.75" width="10.65" height="8.93" fill="#44347e"/>
<rect x="186.90" y="413.75" width="10.65" height="8.93" fill="#482475"/>
<rect x="197.50" y="413.75" width="10.65" height="8.93" fill="#482475"/>
<rect x="208.10" y="413.75" width="10.65" height="8.93" fill="#461264"/>
<rect x="218.70" y="413.75" width="10.65" height="8.93" fill="#2a788e"/>
<rect x="229.30" y="413.75" width="10.65" height="8.93" fill="#2a788e"/>
<rect x="239.90" y="413.75" width="10.65" height="8.93" fill="#fde725"/>
<rect x="250.50" y="413.75" width="10.65" height="8.93" fill="#fde725"/>
<rect x="261.10" y="413.75" width="10.65" height="8.93" fill="#355f8d"/>
<rect x="271.70" y="413.75" width="10.65" height="8.93" fill="#21918c"/>
<rect x="282.30" y="413.75" width="10.65" height="8.93" fill="#229c88"/>
<rect x="292.90" y="413.75" width="10.65" height="8.93" fill="#44347e"/>
<rect x="303.50" y="413.75" width="10.65" height="8.93" fill="#482475"/>
<rect x="314.10" y="413.75" width="10.65" height="8.93" fill="#26848d"/>
<rect x="324.70" y="413.75" width="10.65" height="8.93" fill="#2a788e"/>
<rect x="335.30" y="413.75" width="10.65" height="8.93" fill="#461264"/>
<rect x="345.90" y="413.75" width="10.65" height="8.93" fill="#306c8e"/>
<rect x="356.50" y="413.75" width="10.65" height="8.93" fill="#2a788e"/>
<rect x="367.10" y="413.75" width="10.65" height="8.93" fill="#461264"/>
<rect x="377.70" y="413.75" width="10.65" height="8.93" fill="#44347e"/>
<rect x="388.30" y="413.75" width="10.65" height="8.93" fill="#3b528a"/>
<rect x="144.50" y="422.62" width="10.65" height="8.93" fill="#fde725"/>
<rect x="155.10" y="422.62" width="10.65" height="8.93" fill="#355f8d"/>
<rect x="165.70" y="422.62" width="10.65" height="8.93" fill="#355f8d"/>
<rect x="176.30" y="422.62" width="10.65" height="8.93" fill="#44347e"/>
<rect x="186.90" y="422.62" width="10.65" height="8.93" fill="#44347e"/>
<rect x="197.50" y="422.62" width="10.65" height="8.93" fill="#461264"/>
<rect x="208.10" y="422.62" width="10.65" height="8.93" fill="#461264"/>
<rect x="218.70" y="422.62" width="10.65" height="8.93" fill="#2a788e"/>
<rect x="229.30" y="422.62" width="10.65" height="8.93" fill="#21918c"/>
<rect x="239.90" y="422.62" width="10.65" height="8.93" fill="#9cd83c"/>
<rect x="250.50" y="422.62" width="10.65" height="8.93" fill="#461264"/>
<rect x="261.10" y="422.62" width="10.65" height="8.93" fill="#414487"/>
<rect x="271.70" y="422.62" width="10.65" height="8.93" fill="#26848d"/>
<rect x="282.30" y="422.62" width="10.65" height="8.93" fill="#22a884"/>
<rect x="292.90" y="422.62" width="10.65" height="8.93" fill="#461264"/>
<rect x="303.50" y="422.62" width="10.65" height="8.93" fill="#26848d"/>
<rect x="314.10" y="422.62" width="10.65" height="8.93" fill="#414487"/>
<rect x="324.70" y="422.62" width="10.65" height="8.93" fill="#44bf70"/>
<rect x="335.30" y="422.62" width="10.65" height="8.93" fill="#482475"/>
<rect x="345.90" y="422.62" width="10.65" height="8.93" fill="#bddf26"/>
<rect x="356.50" y="422.62" width="10.65" height="8.93" fill="#22a884"/>
<rect x="367.10" y="422.62" width="10.65" height="8.93" fill="#44347e"/>
<rect x="377.70" y="422.62" width="10.65" height="8.93" fill="#2a788e"/>
<rect x="388.30" y="422.62" width="10.65" height="8.93" fill="#26848d"/>
<line x1="155.10" y1="254.00" x2="155.10" y2="431.50" stroke="#f0e0ff" stroke-width="1.1" stroke-opacity="0.5"/>
<line x1="165.70" y1="254.00" x2="165.70" y2="431.50" stroke="#f0e0ff" stroke-width="1.1" stroke-opacity="0.5"/>
<line x1="176.30" y1="254.00" x2="176.30" y2="431.50" stroke="#f0e0ff" stroke-width="1.1" stroke-opacity="0.5"/>
<line x1="186.90" y1="254.00" x2="186.90" y2="431.50" stroke="#f0e0ff" stroke-width="1.1" stroke-opacity="0.5"/>
<line x1="197.50" y1="254.00" x2="197.50" y2="431.50" stroke="#f0e0ff" stroke-width="1.1" stroke-opacity="0.5"/>
<line x1="208.10" y1="254.00" x2="208.10" y2="431.50" stroke="#f0e0ff" stroke-width="1.1" stroke-opacity="0.5"/>
<line x1="218.70" y1="254.00" x2="218.70" y2="431.50" stroke="#f0e0ff" stroke-width="1.1" stroke-opacity="0.5"/>
<line x1="229.30" y1="254.00" x2="229.30" y2="431.50" stroke="#f0e0ff" stroke-width="1.1" stroke-opacity="0.5"/>
<line x1="239.90" y1="254.00" x2="239.90" y2="431.50" stroke="#f0e0ff" stroke-width="1.1" stroke-opacity="0.5"/>
<line x1="250.50" y1="254.00" x2="250.50" y2="431.50" stroke="#f0e0ff" stroke-width="1.1" stroke-opacity="0.5"/>
<line x1="261.10" y1="254.00" x2="261.10" y2="431.50" stroke="#f0e0ff" stroke-width="1.1" stroke-opacity="0.5"/>
<line x1="271.70" y1="254.00" x2="271.70" y2="431.50" stroke="#f0e0ff" stroke-width="1.1" stroke-opacity="0.5"/>
<line x1="282.30" y1="254.00" x2="282.30" y2="431.50" stroke="#f0e0ff" stroke-width="1.1" stroke-opacity="0.5"/>
<line x1="292.90" y1="254.00" x2="292.90" y2="431.50" stroke="#f0e0ff" stroke-width="1.1" stroke-opacity="0.5"/>
<line x1="303.50" y1="254.00" x2="303.50" y2="431.50" stroke="#f0e0ff" stroke-width="1.1" stroke-opacity="0.5"/>
<line x1="314.10" y1="254.00" x2="314.10" y2="431.50" stroke="#f0e0ff" stroke-width="1.1" stroke-opacity="0.5"/>
<line x1="324.70" y1="254.00" x2="324.70" y2="431.50" stroke="#f0e0ff" stroke-width="1.1" stroke-opacity="0.5"/>
<line x1="335.30" y1="254.00" x2="335.30" y2="431.50" stroke="#f0e0ff" stroke-width="1.1" stroke-opacity="0.5"/>
<line x1="345.90" y1="254.00" x2="345.90" y2="431.50" stroke="#f0e0ff" stroke-width="1.1" stroke-opacity="0.5"/>
<line x1="356.50" y1="254.00" x2="356.50" y2="431.50" stroke="#f0e0ff" stroke-width="1.1" stroke-opacity="0.5"/>
<line x1="367.10" y1="254.00" x2="367.10" y2="431.50" stroke="#f0e0ff" stroke-width="1.1" stroke-opacity="0.5"/>
<line x1="377.70" y1="254.00" x2="377.70" y2="431.50" stroke="#f0e0ff" stroke-width="1.1" stroke-opacity="0.5"/>
<line x1="388.30" y1="254.00" x2="388.30" y2="431.50" stroke="#f0e0ff" stroke-width="1.1" stroke-opacity="0.5"/>
<line x1="144.50" y1="262.88" x2="398.90" y2="262.88" stroke="#f0e0ff" stroke-width="1.1" stroke-opacity="0.5"/>
<line x1="144.50" y1="271.75" x2="398.90" y2="271.75" stroke="#f0e0ff" stroke-width="1.1" stroke-opacity="0.5"/>
<line x1="144.50" y1="280.62" x2="398.90" y2="280.62" stroke="#f0e0ff" stroke-width="1.1" stroke-opacity="0.5"/>
<line x1="144.50" y1="289.50" x2="398.90" y2="289.50" stroke="#f0e0ff" stroke-width="1.1" stroke-opacity="0.5"/>
<line x1="144.50" y1="298.38" x2="398.90" y2="298.38" stroke="#f0e0ff" stroke-width="1.1" stroke-opacity="0.5"/>
<line x1="144.50" y1="307.25" x2="398.90" y2="307.25" stroke="#f0e0ff" stroke-width="1.1" stroke-opacity="0.5"/>
<line x1="144.50" y1="316.12" x2="398.90" y2="316.12" stroke="#f0e0ff" stroke-width="1.1" stroke-opacity="0.5"/>
<line x1="144.50" y1="325.00" x2="398.90" y2="325.00" stroke="#f0e0ff" stroke-width="1.1" stroke-opacity="0.5"/>
<line x1="144.50" y1="333.88" x2="398.90" y2="333.88" stroke="#f0e0ff" stroke-width="1.1" stroke-opacity="0.5"/>
<line x1="144.50" y1="342.75" x2="398.90" y2="342.75" stroke="#f0e0ff" stroke-width="1.1" stroke-opacity="0.5"/>
<line x1="144.50" y1="351.62" x2="398.90" y2="351.62" stroke="#f0e0ff" stroke-width="1.1" stroke-opacity="0.5"/>
<line x1="144.50" y1="360.50" x2="398.90" y2="360.50" stroke="#f0e0ff" stroke-width="1.1" stroke-opacity="0.5"/>
<line x1="144.50" y1="369.38" x2="398.90" y2="369.38" stroke="#f0e0ff" stroke-width="1.1" stroke-opacity="0.5"/>
<line x1="144.50" y1="378.25" x2="398.90" y2="378.25" stroke="#f0e0ff" stroke-width="1.1" stroke-opacity="0.5"/>
<line x1="144.50" y1="387.12" x2="398.90" y2="387.12" stroke="#f0e0ff" stroke-width="1.1" stroke-opacity="0.5"/>
<line x1="144.50" y1="396.00" x2="398.90" y2="396.00" stroke="#f0e0ff" stroke-width="1.1" stroke-opacity="0.5"/>
<line x1="144.50" y1="404.88" x2="398.90" y2="404.88" stroke="#f0e0ff" stroke-width="1.1" stroke-opacity="0.5"/>
<line x1="144.50" y1="413.75" x2="398.90" y2="413.75" stroke="#f0e0ff" stroke-width="1.1" stroke-opacity="0.5"/>
<line x1="144.50" y1="422.62" x2="398.90" y2="422.62" stroke="#f0e0ff" stroke-width="1.1" stroke-opacity="0.5"/>
<line x1="398.90" y1="254.00" x2="398.90" y2="431.50" stroke="#111" stroke-width="1.0"/>
<line x1="144.50" y1="254.00" x2="398.90" y2="254.00" stroke="#222" stroke-width="0.6"/>
<line x1="142.20" y1="258.44" x2="144.60" y2="258.44" stroke="#222" stroke-width="0.9"/>
<text x="108.20" y="261.34" font-size="8.4" text-anchor="start" fill="#1e1e1e" stroke="#1e1e1e" stroke-width="0.1" textLength="30.8" lengthAdjust="spacingAndGlyphs">KIR3DL2</text>
<line x1="142.20" y1="267.31" x2="144.60" y2="267.31" stroke="#222" stroke-width="0.9"/>
<text x="111.90" y="270.21" font-size="8.4" text-anchor="start" fill="#1e1e1e" stroke="#1e1e1e" stroke-width="0.1" textLength="24.7" lengthAdjust="spacingAndGlyphs">CD160</text>
<line x1="142.20" y1="276.19" x2="144.60" y2="276.19" stroke="#222" stroke-width="0.9"/>
<text x="111.90" y="279.09" font-size="8.4" text-anchor="start" fill="#1e1e1e" stroke="#1e1e1e" stroke-width="0.1" textLength="27.1" lengthAdjust="spacingAndGlyphs">IGFBP3</text>
<line x1="142.20" y1="285.06" x2="144.60" y2="285.06" stroke="#222" stroke-width="0.9"/>
<text x="113.40" y="287.96" font-size="8.4" text-anchor="start" fill="#1e1e1e" stroke="#1e1e1e" stroke-width="0.1" textLength="25.6" lengthAdjust="spacingAndGlyphs">ABCB4</text>
<line x1="142.20" y1="293.94" x2="144.60" y2="293.94" stroke="#222" stroke-width="0.9"/>
<text x="47.60" y="296.84" font-size="8.4" text-anchor="start" fill="#1e1e1e" stroke="#1e1e1e" stroke-width="0.1" textLength="91.4" lengthAdjust="spacingAndGlyphs">ENSMMUG00000050862</text>
<text x="42.70" y="296.84" font-size="8.4" text-anchor="start" fill="#1e1e1e" stroke="#1e1e1e" stroke-width="0.1">*</text>
<line x1="142.20" y1="302.81" x2="144.60" y2="302.81" stroke="#222" stroke-width="0.9"/>
<text x="116.20" y="305.71" font-size="8.4" text-anchor="start" fill="#1e1e1e" stroke="#1e1e1e" stroke-width="0.1" textLength="22.8" lengthAdjust="spacingAndGlyphs">SPRY2</text>
<line x1="142.20" y1="311.69" x2="144.60" y2="311.69" stroke="#222" stroke-width="0.9"/>
<text x="119.70" y="314.59" font-size="8.4" text-anchor="start" fill="#1e1e1e" stroke="#1e1e1e" stroke-width="0.1" textLength="19.3" lengthAdjust="spacingAndGlyphs">XCL1</text>
<line x1="142.20" y1="320.56" x2="144.60" y2="320.56" stroke="#222" stroke-width="0.9"/>
<text x="118.80" y="323.46" font-size="8.4" text-anchor="start" fill="#1e1e1e" stroke="#1e1e1e" stroke-width="0.1" textLength="20.2" lengthAdjust="spacingAndGlyphs">CCL5</text>
<line x1="142.20" y1="329.44" x2="144.60" y2="329.44" stroke="#222" stroke-width="0.9"/>
<text x="47.60" y="332.34" font-size="8.4" text-anchor="start" fill="#1e1e1e" stroke="#1e1e1e" stroke-width="0.1" textLength="91.4" lengthAdjust="spacingAndGlyphs">ENSMMUG00000063583</text>
<text x="38.40" y="332.34" font-size="8.4" text-anchor="start" fill="#1e1e1e" stroke="#1e1e1e" stroke-width="0.1">**</text>
<line x1="142.20" y1="338.31" x2="144.60" y2="338.31" stroke="#222" stroke-width="0.9"/>
<text x="47.60" y="341.21" font-size="8.4" text-anchor="start" fill="#1e1e1e" stroke="#1e1e1e" stroke-width="0.1" textLength="91.4" lengthAdjust="spacingAndGlyphs">ENSMMUG00000013779</text>
<text x="35.20" y="341.21" font-size="8.4" text-anchor="start" fill="#1e1e1e" stroke="#1e1e1e" stroke-width="0.1">***</text>
<line x1="142.20" y1="347.19" x2="144.60" y2="347.19" stroke="#222" stroke-width="0.9"/>
<text x="116.00" y="350.09" font-size="8.4" text-anchor="start" fill="#1e1e1e" stroke="#1e1e1e" stroke-width="0.1" textLength="23.0" lengthAdjust="spacingAndGlyphs">PTPRJ</text>
<line x1="142.20" y1="356.06" x2="144.60" y2="356.06" stroke="#222" stroke-width="0.9"/>
<text x="121.10" y="358.96" font-size="8.4" text-anchor="start" fill="#1e1e1e" stroke="#1e1e1e" stroke-width="0.1" textLength="17.9" lengthAdjust="spacingAndGlyphs">H1-3</text>
<line x1="142.20" y1="364.94" x2="144.60" y2="364.94" stroke="#222" stroke-width="0.9"/>
<text x="113.40" y="367.84" font-size="8.4" text-anchor="start" fill="#1e1e1e" stroke="#1e1e1e" stroke-width="0.1" textLength="25.6" lengthAdjust="spacingAndGlyphs">PGAP1</text>
<line x1="142.20" y1="373.81" x2="144.60" y2="373.81" stroke="#222" stroke-width="0.9"/>
<text x="124.00" y="376.71" font-size="8.4" text-anchor="start" fill="#1e1e1e" stroke="#1e1e1e" stroke-width="0.1" textLength="15.0" lengthAdjust="spacingAndGlyphs">CFP</text>
<line x1="142.20" y1="382.69" x2="144.60" y2="382.69" stroke="#222" stroke-width="0.9"/>
<text x="108.20" y="385.59" font-size="8.4" text-anchor="start" fill="#1e1e1e" stroke="#1e1e1e" stroke-width="0.1" textLength="30.8" lengthAdjust="spacingAndGlyphs">ANTXR2</text>
<line x1="142.20" y1="391.56" x2="144.60" y2="391.56" stroke="#222" stroke-width="0.9"/>
<text x="109.60" y="394.46" font-size="8.4" text-anchor="start" fill="#1e1e1e" stroke="#1e1e1e" stroke-width="0.1" textLength="29.4" lengthAdjust="spacingAndGlyphs">GPR183</text>
<line x1="142.20" y1="400.44" x2="144.60" y2="400.44" stroke="#222" stroke-width="0.9"/>
<text x="118.30" y="403.34" font-size="8.4" text-anchor="start" fill="#1e1e1e" stroke="#1e1e1e" stroke-width="0.1" textLength="20.7" lengthAdjust="spacingAndGlyphs">MT1E</text>
<line x1="142.20" y1="409.31" x2="144.60" y2="409.31" stroke="#222" stroke-width="0.9"/>
<text x="122.60" y="412.21" font-size="8.4" text-anchor="start" fill="#1e1e1e" stroke="#1e1e1e" stroke-width="0.1" textLength="16.4" lengthAdjust="spacingAndGlyphs">CD4</text>
<line x1="142.20" y1="418.19" x2="144.60" y2="418.19" stroke="#222" stroke-width="0.9"/>
<text x="114.80" y="421.09" font-size="8.4" text-anchor="start" fill="#1e1e1e" stroke="#1e1e1e" stroke-width="0.1" textLength="24.2" lengthAdjust="spacingAndGlyphs">PLAC8</text>
<line x1="142.20" y1="427.06" x2="144.60" y2="427.06" stroke="#222" stroke-width="0.9"/>
<text x="121.10" y="429.96" font-size="8.4" text-anchor="start" fill="#1e1e1e" stroke="#1e1e1e" stroke-width="0.1" textLength="17.9" lengthAdjust="spacingAndGlyphs">SELL</text>
<line x1="149.80" y1="431.50" x2="149.80" y2="434.70" stroke="#222" stroke-width="0.9"/>
<text x="152.70" y="437.80" font-size="8.2" text-anchor="end" fill="#1e1e1e" stroke="#1e1e1e" stroke-width="0.1" textLength="8.6" lengthAdjust="spacingAndGlyphs" transform="rotate(-90 152.70 437.80)">13</text>
<line x1="160.40" y1="431.50" x2="160.40" y2="434.70" stroke="#222" stroke-width="0.9"/>
<text x="163.30" y="437.80" font-size="8.2" text-anchor="end" fill="#1e1e1e" stroke="#1e1e1e" stroke-width="0.1" textLength="8.6" lengthAdjust="spacingAndGlyphs" transform="rotate(-90 163.30 437.80)">12</text>
<line x1="171.00" y1="431.50" x2="171.00" y2="434.70" stroke="#222" stroke-width="0.9"/>
<text x="173.90" y="437.80" font-size="8.2" text-anchor="end" fill="#1e1e1e" stroke="#1e1e1e" stroke-width="0.1" textLength="8.6" lengthAdjust="spacingAndGlyphs" transform="rotate(-90 173.90 437.80)">22</text>
<line x1="181.60" y1="431.50" x2="181.60" y2="434.70" stroke="#222" stroke-width="0.9"/>
<text x="184.50" y="437.80" font-size="8.2" text-anchor="end" fill="#1e1e1e" stroke="#1e1e1e" stroke-width="0.1" textLength="8.6" lengthAdjust="spacingAndGlyphs" transform="rotate(-90 184.50 437.80)">10</text>
<line x1="192.20" y1="431.50" x2="192.20" y2="434.70" stroke="#222" stroke-width="0.9"/>
<text x="195.10" y="437.80" font-size="8.2" text-anchor="end" fill="#1e1e1e" stroke="#1e1e1e" stroke-width="0.1" textLength="4.4" lengthAdjust="spacingAndGlyphs" transform="rotate(-90 195.10 437.80)">0</text>
<line x1="202.80" y1="431.50" x2="202.80" y2="434.70" stroke="#222" stroke-width="0.9"/>
<text x="205.70" y="437.80" font-size="8.2" text-anchor="end" fill="#1e1e1e" stroke="#1e1e1e" stroke-width="0.1" textLength="4.4" lengthAdjust="spacingAndGlyphs" transform="rotate(-90 205.70 437.80)">4</text>
<line x1="213.40" y1="431.50" x2="213.40" y2="434.70" stroke="#222" stroke-width="0.9"/>
<text x="216.30" y="437.80" font-size="8.2" text-anchor="end" fill="#1e1e1e" stroke="#1e1e1e" stroke-width="0.1" textLength="8.6" lengthAdjust="spacingAndGlyphs" transform="rotate(-90 216.30 437.80)">20</text>
<line x1="224.00" y1="431.50" x2="224.00" y2="434.70" stroke="#222" stroke-width="0.9"/>
<text x="226.90" y="437.80" font-size="8.2" text-anchor="end" fill="#1e1e1e" stroke="#1e1e1e" stroke-width="0.1" textLength="4.4" lengthAdjust="spacingAndGlyphs" transform="rotate(-90 226.90 437.80)">5</text>
<line x1="234.60" y1="431.50" x2="234.60" y2="434.70" stroke="#222" stroke-width="0.9"/>
<text x="237.50" y="437.80" font-size="8.2" text-anchor="end" fill="#1e1e1e" stroke="#1e1e1e" stroke-width="0.1" textLength="4.4" lengthAdjust="spacingAndGlyphs" transform="rotate(-90 237.50 437.80)">9</text>
<line x1="245.20" y1="431.50" x2="245.20" y2="434.70" stroke="#222" stroke-width="0.9"/>
<text x="248.10" y="437.80" font-size="8.2" text-anchor="end" fill="#1e1e1e" stroke="#1e1e1e" stroke-width="0.1" textLength="8.6" lengthAdjust="spacingAndGlyphs" transform="rotate(-90 248.10 437.80)">14</text>
<line x1="255.80" y1="431.50" x2="255.80" y2="434.70" stroke="#222" stroke-width="0.9"/>
<text x="258.70" y="437.80" font-size="8.2" text-anchor="end" fill="#1e1e1e" stroke="#1e1e1e" stroke-width="0.1" textLength="8.6" lengthAdjust="spacingAndGlyphs" transform="rotate(-90 258.70 437.80)">17</text>
<line x1="266.40" y1="431.50" x2="266.40" y2="434.70" stroke="#222" stroke-width="0.9"/>
<text x="269.30" y="437.80" font-size="8.2" text-anchor="end" fill="#1e1e1e" stroke="#1e1e1e" stroke-width="0.1" textLength="8.6" lengthAdjust="spacingAndGlyphs" transform="rotate(-90 269.30 437.80)">11</text>
<line x1="277.00" y1="431.50" x2="277.00" y2="434.70" stroke="#222" stroke-width="0.9"/>
<text x="279.90" y="437.80" font-size="8.2" text-anchor="end" fill="#1e1e1e" stroke="#1e1e1e" stroke-width="0.1" textLength="8.6" lengthAdjust="spacingAndGlyphs" transform="rotate(-90 279.90 437.80)">19</text>
<line x1="287.60" y1="431.50" x2="287.60" y2="434.70" stroke="#222" stroke-width="0.9"/>
<text x="290.50" y="437.80" font-size="8.2" text-anchor="end" fill="#1e1e1e" stroke="#1e1e1e" stroke-width="0.1" textLength="8.6" lengthAdjust="spacingAndGlyphs" transform="rotate(-90 290.50 437.80)">21</text>
<line x1="298.20" y1="431.50" x2="298.20" y2="434.70" stroke="#222" stroke-width="0.9"/>
<text x="301.10" y="437.80" font-size="8.2" text-anchor="end" fill="#1e1e1e" stroke="#1e1e1e" stroke-width="0.1" textLength="8.6" lengthAdjust="spacingAndGlyphs" transform="rotate(-90 301.10 437.80)">23</text>
<line x1="308.80" y1="431.50" x2="308.80" y2="434.70" stroke="#222" stroke-width="0.9"/>
<text x="311.70" y="437.80" font-size="8.2" text-anchor="end" fill="#1e1e1e" stroke="#1e1e1e" stroke-width="0.1" textLength="8.6" lengthAdjust="spacingAndGlyphs" transform="rotate(-90 311.70 437.80)">16</text>
<line x1="319.40" y1="431.50" x2="319.40" y2="434.70" stroke="#222" stroke-width="0.9"/>
<text x="322.30" y="437.80" font-size="8.2" text-anchor="end" fill="#1e1e1e" stroke="#1e1e1e" stroke-width="0.1" textLength="4.4" lengthAdjust="spacingAndGlyphs" transform="rotate(-90 322.30 437.80)">2</text>
<line x1="330.00" y1="431.50" x2="330.00" y2="434.70" stroke="#222" stroke-width="0.9"/>
<text x="332.90" y="437.80" font-size="8.2" text-anchor="end" fill="#1e1e1e" stroke="#1e1e1e" stroke-width="0.1" textLength="4.4" lengthAdjust="spacingAndGlyphs" transform="rotate(-90 332.90 437.80)">6</text>
<line x1="340.60" y1="431.50" x2="340.60" y2="434.70" stroke="#222" stroke-width="0.9"/>
<text x="343.50" y="437.80" font-size="8.2" text-anchor="end" fill="#1e1e1e" stroke="#1e1e1e" stroke-width="0.1" textLength="4.4" lengthAdjust="spacingAndGlyphs" transform="rotate(-90 343.50 437.80)">3</text>
<line x1="351.20" y1="431.50" x2="351.20" y2="434.70" stroke="#222" stroke-width="0.9"/>
<text x="354.10" y="437.80" font-size="8.2" text-anchor="end" fill="#1e1e1e" stroke="#1e1e1e" stroke-width="0.1" textLength="4.4" lengthAdjust="spacingAndGlyphs" transform="rotate(-90 354.10 437.80)">1</text>
<line x1="361.80" y1="431.50" x2="361.80" y2="434.70" stroke="#222" stroke-width="0.9"/>
<text x="364.70" y="437.80" font-size="8.2" text-anchor="end" fill="#1e1e1e" stroke="#1e1e1e" stroke-width="0.1" textLength="8.6" lengthAdjust="spacingAndGlyphs" transform="rotate(-90 364.70 437.80)">18</text>
<line x1="372.40" y1="431.50" x2="372.40" y2="434.70" stroke="#222" stroke-width="0.9"/>
<text x="375.30" y="437.80" font-size="8.2" text-anchor="end" fill="#1e1e1e" stroke="#1e1e1e" stroke-width="0.1" textLength="8.6" lengthAdjust="spacingAndGlyphs" transform="rotate(-90 375.30 437.80)">15</text>
<line x1="383.00" y1="431.50" x2="383.00" y2="434.70" stroke="#222" stroke-width="0.9"/>
<text x="385.90" y="437.80" font-size="8.2" text-anchor="end" fill="#1e1e1e" stroke="#1e1e1e" stroke-width="0.1" textLength="4.4" lengthAdjust="spacingAndGlyphs" transform="rotate(-90 385.90 437.80)">7</text>
<line x1="393.60" y1="431.50" x2="393.60" y2="434.70" stroke="#222" stroke-width="0.9"/>
<text x="396.50" y="437.80" font-size="8.2" text-anchor="end" fill="#1e1e1e" stroke="#1e1e1e" stroke-width="0.1" textLength="4.4" lengthAdjust="spacingAndGlyphs" transform="rotate(-90 396.50 437.80)">8</text>
<path d="M160.40 254.00V248.60H171.00V254.00" stroke="#6a6a6a" stroke-width="1.1" fill="none"/>
<path d="M149.80 254.00V247.40H165.70V248.60" stroke="#6a6a6a" stroke-width="1.1" fill="none"/>
<path d="M202.80 254.00V249.20H213.40V254.00" stroke="#6a6a6a" stroke-width="1.1" fill="none"/>
<path d="M192.20 254.00V248.60H208.10V249.20" stroke="#6a6a6a" stroke-width="1.1" fill="none"/>
<path d="M181.60 254.00V243.30H200.15V248.60" stroke="#6a6a6a" stroke-width="1.1" fill="none"/>
<path d="M157.75 247.40V236.30H190.88V243.30" stroke="#6a6a6a" stroke-width="1.1" fill="none"/>
<path d="M224.00 254.00V249.40H234.60V254.00" stroke="#6a6a6a" stroke-width="1.1" fill="none"/>
<path d="M245.20 254.00V245.20H255.80V254.00" stroke="#6a6a6a" stroke-width="1.1" fill="none"/>
<path d="M277.00 254.00V250.30H287.60V254.00" stroke="#6a6a6a" stroke-width="1.1" fill="none"/>
<path d="M266.40 254.00V244.50H282.30V250.30" stroke="#6a6a6a" stroke-width="1.1" fill="none"/>
<path d="M250.50 245.20V242.20H274.35V244.50" stroke="#6a6a6a" stroke-width="1.1" fill="none"/>
<path d="M229.30 249.40V238.60H262.43V242.20" stroke="#6a6a6a" stroke-width="1.1" fill="none"/>
<path d="M319.40 254.00V247.70H330.00V254.00" stroke="#6a6a6a" stroke-width="1.1" fill="none"/>
<path d="M308.80 254.00V245.20H324.70V247.70" stroke="#6a6a6a" stroke-width="1.1" fill="none"/>
<path d="M298.20 254.00V242.60H316.75V245.20" stroke="#6a6a6a" stroke-width="1.1" fill="none"/>
<path d="M351.20 254.00V247.70H361.80V254.00" stroke="#6a6a6a" stroke-width="1.1" fill="none"/>
<path d="M383.00 254.00V249.00H393.60V254.00" stroke="#6a6a6a" stroke-width="1.1" fill="none"/>
<path d="M372.40 254.00V245.20H388.30V249.00" stroke="#6a6a6a" stroke-width="1.1" fill="none"/>
<path d="M356.50 247.70V243.00H380.35V245.20" stroke="#6a6a6a" stroke-width="1.1" fill="none"/>
<path d="M340.60 254.00V241.00H368.43V243.00" stroke="#6a6a6a" stroke-width="1.1" fill="none"/>
<path d="M307.48 242.60V236.30H354.51V241.00" stroke="#6a6a6a" stroke-width="1.1" fill="none"/>
<path d="M245.86 238.60V232.60H330.99V236.30" stroke="#6a6a6a" stroke-width="1.1" fill="none"/>
<path d="M174.31 236.30V231.50H288.43V232.60" stroke="#6a6a6a" stroke-width="1.1" fill="none"/>
<rect x="403.00" y="255.90" width="3.90" height="86.80" fill="#b5cf6b"/>
<rect x="403.00" y="343.30" width="3.90" height="86.30" fill="#2d3990"/>
<text x="415.60" y="299.70" font-size="7.8" text-anchor="middle" fill="#333" stroke="#333" stroke-width="0.1" textLength="43" lengthAdjust="spacingAndGlyphs" transform="rotate(-90 415.60 299.70)">upregulated</text>
<text x="427.60" y="346.70" font-size="7.8" text-anchor="middle" fill="#333" stroke="#333" stroke-width="0.1" textLength="72.5" lengthAdjust="spacingAndGlyphs" transform="rotate(-90 427.60 346.70)">in byander signature</text>
<text x="415.60" y="386.80" font-size="7.8" text-anchor="middle" fill="#333" stroke="#333" stroke-width="0.1" textLength="53" lengthAdjust="spacingAndGlyphs" transform="rotate(-90 415.60 386.80)">downregulated</text>
<text x="459.50" y="403.50" font-size="8.2" text-anchor="middle" fill="#222" stroke="#222" stroke-width="0.1" textLength="61.5" lengthAdjust="spacingAndGlyphs">Mean expression</text>
<text x="459.50" y="412.70" font-size="8.2" text-anchor="middle" fill="#222" stroke="#222" stroke-width="0.1" textLength="29.8" lengthAdjust="spacingAndGlyphs">in group</text>
<defs><linearGradient id="vg" x1="0" x2="1" y1="0" y2="0"><stop offset="0.0" stop-color="#440154"/><stop offset="0.1" stop-color="#482475"/><stop offset="0.2" stop-color="#414487"/><stop offset="0.3" stop-color="#355f8d"/><stop offset="0.4" stop-color="#2a788e"/><stop offset="0.5" stop-color="#21918c"/><stop offset="0.6" stop-color="#22a884"/><stop offset="0.7" stop-color="#44bf70"/><stop offset="0.8" stop-color="#7ad151"/><stop offset="0.9" stop-color="#bddf26"/><stop offset="1.0" stop-color="#fde725"/></linearGradient></defs>
<rect x="435.40" y="417.50" width="48.10" height="14.00" fill="url(#vg)" stroke="#111" stroke-width="0.9"/>
<line x1="436.30" y1="431.50" x2="436.30" y2="434.00" stroke="#222" stroke-width="0.9"/>
<text x="436.30" y="444.40" font-size="8.2" text-anchor="middle" fill="#333" stroke="#333" stroke-width="0.1">0.0</text>
<line x1="459.40" y1="431.50" x2="459.40" y2="434.00" stroke="#222" stroke-width="0.9"/>
<text x="459.40" y="444.40" font-size="8.2" text-anchor="middle" fill="#333" stroke="#333" stroke-width="0.1">0.5</text>
<line x1="482.50" y1="431.50" x2="482.50" y2="434.00" stroke="#222" stroke-width="0.9"/>
<text x="482.50" y="444.40" font-size="8.2" text-anchor="middle" fill="#333" stroke="#333" stroke-width="0.1">1.0</text>
<text x="28.80" y="390.70" font-size="8.6" text-anchor="start" fill="#333" stroke="#333" stroke-width="0.1" textLength="26" lengthAdjust="spacingAndGlyphs">Human</text>
<text x="28.80" y="400.50" font-size="8.6" text-anchor="start" fill="#333" stroke="#333" stroke-width="0.1" textLength="64.4" lengthAdjust="spacingAndGlyphs">Orthologs Genes:</text>
<text x="29.50" y="410.40" font-size="8.6" text-anchor="start" fill="#333" stroke="#333" stroke-width="0.1">*</text>
<text x="43.30" y="410.60" font-size="8.6" text-anchor="start" fill="#333" stroke="#333" stroke-width="0.1" textLength="24.5" lengthAdjust="spacingAndGlyphs">KLRC2</text>
<text x="29.50" y="420.80" font-size="8.6" text-anchor="start" fill="#333" stroke="#333" stroke-width="0.1">**</text>
<text x="45.30" y="421.00" font-size="8.6" text-anchor="start" fill="#333" stroke="#333" stroke-width="0.1" textLength="20.5" lengthAdjust="spacingAndGlyphs">GNLY</text>
<text x="29.50" y="430.80" font-size="8.6" text-anchor="start" fill="#333" stroke="#333" stroke-width="0.1">***</text>
<text x="45.30" y="431.00" font-size="8.6" text-anchor="start" fill="#333" stroke="#333" stroke-width="0.1" textLength="13.8" lengthAdjust="spacingAndGlyphs">FES</text>
<line x1="171.00" y1="464.40" x2="171.00" y2="453.00" stroke="#111" stroke-width="1"/>
<path d="M168.60 454.5L171.00 450.2L173.40 454.5Z" fill="#111"/>
<text x="6.80" y="490.20" font-size="11.6" text-anchor="start" fill="#111" font-weight="bold">D</text>
<text x="310.50" y="490.00" font-size="11.6" text-anchor="start" fill="#111" font-weight="bold">E</text>
<rect x="55.00" y="501.19" width="3.00" height="5.30" fill="#a77bbf"/>
<rect x="58.00" y="501.19" width="5.20" height="5.30" fill="#23b3c4"/>
<rect x="63.20" y="501.19" width="5.70" height="5.30" fill="#7ba62b"/>
<rect x="68.90" y="501.19" width="2.90" height="5.30" fill="#ee6f6d"/>
<rect x="55.00" y="507.46" width="0.70" height="5.30" fill="#a77bbf"/>
<rect x="55.70" y="507.46" width="17.80" height="5.30" fill="#23b3c4"/>
<rect x="73.50" y="507.46" width="23.10" height="5.30" fill="#7ba62b"/>
<rect x="55.00" y="513.73" width="3.00" height="5.30" fill="#a77bbf"/>
<rect x="58.00" y="513.73" width="6.00" height="5.30" fill="#23b3c4"/>
<rect x="64.00" y="513.73" width="2.60" height="5.30" fill="#7ba62b"/>
<rect x="66.60" y="513.73" width="31.20" height="5.30" fill="#ee6f6d"/>
<rect x="55.00" y="520.00" width="3.80" height="5.30" fill="#a77bbf"/>
<rect x="58.80" y="520.00" width="13.00" height="5.30" fill="#23b3c4"/>
<rect x="71.80" y="520.00" width="30.60" height="5.30" fill="#7ba62b"/>
<rect x="102.40" y="520.00" width="4.60" height="5.30" fill="#ee6f6d"/>
<rect x="55.00" y="526.27" width="11.60" height="5.30" fill="#a77bbf"/>
<rect x="66.60" y="526.27" width="30.00" height="5.30" fill="#23b3c4"/>
<rect x="96.60" y="526.27" width="15.00" height="5.30" fill="#7ba62b"/>
<rect x="55.00" y="532.54" width="4.00" height="5.30" fill="#a77bbf"/>
<rect x="59.00" y="532.54" width="4.20" height="5.30" fill="#23b3c4"/>
<rect x="63.20" y="532.54" width="55.30" height="5.30" fill="#7ba62b"/>
<rect x="55.00" y="538.81" width="64.80" height="5.30" fill="#a77bbf"/>
<rect x="55.00" y="545.08" width="15.40" height="5.30" fill="#a77bbf"/>
<rect x="70.40" y="545.08" width="28.80" height="5.30" fill="#23b3c4"/>
<rect x="99.20" y="545.08" width="16.20" height="5.30" fill="#7ba62b"/>
<rect x="115.40" y="545.08" width="9.20" height="5.30" fill="#ee6f6d"/>
<rect x="55.00" y="551.35" width="8.50" height="5.30" fill="#a77bbf"/>
<rect x="63.50" y="551.35" width="24.20" height="5.30" fill="#23b3c4"/>
<rect x="87.70" y="551.35" width="48.50" height="5.30" fill="#7ba62b"/>
<rect x="55.00" y="557.62" width="84.20" height="5.30" fill="#ee6f6d"/>
<rect x="55.00" y="563.89" width="74.20" height="5.30" fill="#23b3c4"/>
<rect x="129.20" y="563.89" width="12.80" height="5.30" fill="#7ba62b"/>
<rect x="55.00" y="570.16" width="6.00" height="5.30" fill="#a77bbf"/>
<rect x="61.00" y="570.16" width="40.50" height="5.30" fill="#23b3c4"/>
<rect x="101.50" y="570.16" width="47.30" height="5.30" fill="#7ba62b"/>
<rect x="55.00" y="576.43" width="12.20" height="5.30" fill="#a77bbf"/>
<rect x="67.20" y="576.43" width="7.80" height="5.30" fill="#23b3c4"/>
<rect x="75.00" y="576.43" width="11.00" height="5.30" fill="#7ba62b"/>
<rect x="86.00" y="576.43" width="77.70" height="5.30" fill="#ee6f6d"/>
<rect x="55.00" y="582.70" width="122.70" height="5.30" fill="#ee6f6d"/>
<rect x="55.00" y="588.97" width="124.80" height="5.30" fill="#ee6f6d"/>
<rect x="55.00" y="595.24" width="2.30" height="5.30" fill="#a77bbf"/>
<rect x="57.30" y="595.24" width="3.70" height="5.30" fill="#23b3c4"/>
<rect x="61.00" y="595.24" width="148.40" height="5.30" fill="#7ba62b"/>
<rect x="55.00" y="601.51" width="68.80" height="5.30" fill="#a77bbf"/>
<rect x="123.80" y="601.51" width="64.00" height="5.30" fill="#23b3c4"/>
<rect x="187.80" y="601.51" width="22.70" height="5.30" fill="#7ba62b"/>
<rect x="55.00" y="607.78" width="90.70" height="5.30" fill="#a77bbf"/>
<rect x="145.70" y="607.78" width="58.80" height="5.30" fill="#23b3c4"/>
<rect x="204.50" y="607.78" width="10.40" height="5.30" fill="#7ba62b"/>
<rect x="55.00" y="614.05" width="170.40" height="5.30" fill="#ee6f6d"/>
<rect x="55.00" y="620.32" width="180.70" height="5.30" fill="#ee6f6d"/>
<rect x="55.00" y="626.59" width="40.80" height="5.30" fill="#a77bbf"/>
<rect x="95.80" y="626.59" width="64.50" height="5.30" fill="#23b3c4"/>
<rect x="160.30" y="626.59" width="102.00" height="5.30" fill="#7ba62b"/>
<rect x="55.00" y="632.86" width="216.50" height="5.30" fill="#ee6f6d"/>
<rect x="55.00" y="639.13" width="10.80" height="5.30" fill="#a77bbf"/>
<rect x="65.80" y="639.13" width="204.00" height="5.30" fill="#23b3c4"/>
<rect x="269.80" y="639.13" width="3.00" height="5.30" fill="#7ba62b"/>
<rect x="55.00" y="645.40" width="43.00" height="5.30" fill="#a77bbf"/>
<rect x="98.00" y="645.40" width="92.40" height="5.30" fill="#23b3c4"/>
<rect x="190.40" y="645.40" width="95.20" height="5.30" fill="#7ba62b"/>
<line x1="43.50" y1="494.00" x2="43.50" y2="658.80" stroke="#111" stroke-width="1"/>
<line x1="43.00" y1="658.30" x2="290.00" y2="658.30" stroke="#111" stroke-width="1"/>
<line x1="40.60" y1="648.05" x2="43.50" y2="648.05" stroke="#111" stroke-width="0.9"/>
<text x="37.30" y="648.05" font-size="6.0" text-anchor="middle" fill="#111" textLength="5.6" lengthAdjust="spacingAndGlyphs" transform="rotate(-90 37.30 648.05)" stroke="#111" stroke-width="0.12">0</text>
<line x1="40.60" y1="641.78" x2="43.50" y2="641.78" stroke="#111" stroke-width="0.9"/>
<text x="37.30" y="641.78" font-size="6.0" text-anchor="middle" fill="#111" textLength="5.6" lengthAdjust="spacingAndGlyphs" transform="rotate(-90 37.30 641.78)" stroke="#111" stroke-width="0.12">1</text>
<line x1="40.60" y1="635.51" x2="43.50" y2="635.51" stroke="#111" stroke-width="0.9"/>
<text x="37.30" y="635.51" font-size="6.0" text-anchor="middle" fill="#111" textLength="5.6" lengthAdjust="spacingAndGlyphs" transform="rotate(-90 37.30 635.51)" stroke="#111" stroke-width="0.12">2</text>
<line x1="40.60" y1="629.24" x2="43.50" y2="629.24" stroke="#111" stroke-width="0.9"/>
<text x="37.30" y="629.24" font-size="6.0" text-anchor="middle" fill="#111" textLength="5.6" lengthAdjust="spacingAndGlyphs" transform="rotate(-90 37.30 629.24)" stroke="#111" stroke-width="0.12">3</text>
<line x1="40.60" y1="622.97" x2="43.50" y2="622.97" stroke="#111" stroke-width="0.9"/>
<text x="37.30" y="622.97" font-size="6.0" text-anchor="middle" fill="#111" textLength="5.6" lengthAdjust="spacingAndGlyphs" transform="rotate(-90 37.30 622.97)" stroke="#111" stroke-width="0.12">4</text>
<line x1="40.60" y1="616.70" x2="43.50" y2="616.70" stroke="#111" stroke-width="0.9"/>
<text x="37.30" y="616.70" font-size="6.0" text-anchor="middle" fill="#111" textLength="5.6" lengthAdjust="spacingAndGlyphs" transform="rotate(-90 37.30 616.70)" stroke="#111" stroke-width="0.12">5</text>
<line x1="40.60" y1="610.43" x2="43.50" y2="610.43" stroke="#111" stroke-width="0.9"/>
<text x="37.30" y="610.43" font-size="6.0" text-anchor="middle" fill="#111" textLength="5.6" lengthAdjust="spacingAndGlyphs" transform="rotate(-90 37.30 610.43)" stroke="#111" stroke-width="0.12">6</text>
<line x1="40.60" y1="604.16" x2="43.50" y2="604.16" stroke="#111" stroke-width="0.9"/>
<text x="37.30" y="604.16" font-size="6.0" text-anchor="middle" fill="#111" textLength="5.6" lengthAdjust="spacingAndGlyphs" transform="rotate(-90 37.30 604.16)" stroke="#111" stroke-width="0.12">7</text>
<line x1="40.60" y1="597.89" x2="43.50" y2="597.89" stroke="#111" stroke-width="0.9"/>
<text x="37.30" y="597.89" font-size="6.0" text-anchor="middle" fill="#111" textLength="5.6" lengthAdjust="spacingAndGlyphs" transform="rotate(-90 37.30 597.89)" stroke="#111" stroke-width="0.12">8</text>
<line x1="40.60" y1="591.62" x2="43.50" y2="591.62" stroke="#111" stroke-width="0.9"/>
<text x="37.30" y="591.62" font-size="6.0" text-anchor="middle" fill="#111" textLength="5.6" lengthAdjust="spacingAndGlyphs" transform="rotate(-90 37.30 591.62)" stroke="#111" stroke-width="0.12">9</text>
<line x1="40.60" y1="585.35" x2="43.50" y2="585.35" stroke="#111" stroke-width="0.9"/>
<text x="37.40" y="588.35" font-size="8.4" text-anchor="end" fill="#222" stroke="#222" stroke-width="0.1" textLength="7.8" lengthAdjust="spacingAndGlyphs">10</text>
<line x1="40.60" y1="579.08" x2="43.50" y2="579.08" stroke="#111" stroke-width="0.9"/>
<text x="37.40" y="582.08" font-size="8.4" text-anchor="end" fill="#222" stroke="#222" stroke-width="0.1" textLength="7.8" lengthAdjust="spacingAndGlyphs">11</text>
<line x1="40.60" y1="572.81" x2="43.50" y2="572.81" stroke="#111" stroke-width="0.9"/>
<text x="37.40" y="575.81" font-size="8.4" text-anchor="end" fill="#222" stroke="#222" stroke-width="0.1" textLength="7.8" lengthAdjust="spacingAndGlyphs">12</text>
<line x1="40.60" y1="566.54" x2="43.50" y2="566.54" stroke="#111" stroke-width="0.9"/>
<text x="37.40" y="569.54" font-size="8.4" text-anchor="end" fill="#222" stroke="#222" stroke-width="0.1" textLength="7.8" lengthAdjust="spacingAndGlyphs">13</text>
<line x1="40.60" y1="560.27" x2="43.50" y2="560.27" stroke="#111" stroke-width="0.9"/>
<text x="37.40" y="563.27" font-size="8.4" text-anchor="end" fill="#222" stroke="#222" stroke-width="0.1" textLength="7.8" lengthAdjust="spacingAndGlyphs">14</text>
<line x1="40.60" y1="554.00" x2="43.50" y2="554.00" stroke="#111" stroke-width="0.9"/>
<text x="37.40" y="557.00" font-size="8.4" text-anchor="end" fill="#222" stroke="#222" stroke-width="0.1" textLength="7.8" lengthAdjust="spacingAndGlyphs">15</text>
<line x1="40.60" y1="547.73" x2="43.50" y2="547.73" stroke="#111" stroke-width="0.9"/>
<text x="37.40" y="550.73" font-size="8.4" text-anchor="end" fill="#222" stroke="#222" stroke-width="0.1" textLength="7.8" lengthAdjust="spacingAndGlyphs">16</text>
<line x1="40.60" y1="541.46" x2="43.50" y2="541.46" stroke="#111" stroke-width="0.9"/>
<text x="37.40" y="544.46" font-size="8.4" text-anchor="end" fill="#222" stroke="#222" stroke-width="0.1" textLength="7.8" lengthAdjust="spacingAndGlyphs">17</text>
<line x1="40.60" y1="535.19" x2="43.50" y2="535.19" stroke="#111" stroke-width="0.9"/>
<text x="37.40" y="538.19" font-size="8.4" text-anchor="end" fill="#222" stroke="#222" stroke-width="0.1" textLength="7.8" lengthAdjust="spacingAndGlyphs">18</text>
<line x1="40.60" y1="528.92" x2="43.50" y2="528.92" stroke="#111" stroke-width="0.9"/>
<text x="37.40" y="531.92" font-size="8.4" text-anchor="end" fill="#222" stroke="#222" stroke-width="0.1" textLength="7.8" lengthAdjust="spacingAndGlyphs">19</text>
<line x1="40.60" y1="522.65" x2="43.50" y2="522.65" stroke="#111" stroke-width="0.9"/>
<text x="37.40" y="525.65" font-size="8.4" text-anchor="end" fill="#222" stroke="#222" stroke-width="0.1" textLength="7.8" lengthAdjust="spacingAndGlyphs">20</text>
<line x1="40.60" y1="516.38" x2="43.50" y2="516.38" stroke="#111" stroke-width="0.9"/>
<text x="37.40" y="519.38" font-size="8.4" text-anchor="end" fill="#222" stroke="#222" stroke-width="0.1" textLength="7.8" lengthAdjust="spacingAndGlyphs">21</text>
<line x1="40.60" y1="510.11" x2="43.50" y2="510.11" stroke="#111" stroke-width="0.9"/>
<text x="37.40" y="513.11" font-size="8.4" text-anchor="end" fill="#222" stroke="#222" stroke-width="0.1" textLength="7.8" lengthAdjust="spacingAndGlyphs">22</text>
<line x1="40.60" y1="503.84" x2="43.50" y2="503.84" stroke="#111" stroke-width="0.9"/>
<text x="37.40" y="506.84" font-size="8.4" text-anchor="end" fill="#222" stroke="#222" stroke-width="0.1" textLength="7.8" lengthAdjust="spacingAndGlyphs">23</text>
<line x1="54.60" y1="658.30" x2="54.60" y2="661.20" stroke="#111" stroke-width="0.9"/>
<text x="54.60" y="671.90" font-size="7.8" text-anchor="middle" fill="#333" stroke="#333" stroke-width="0.1">0</text>
<line x1="129.10" y1="658.30" x2="129.10" y2="661.20" stroke="#111" stroke-width="0.9"/>
<text x="129.10" y="671.90" font-size="7.8" text-anchor="middle" fill="#333" stroke="#333" stroke-width="0.1">1000</text>
<line x1="203.20" y1="658.30" x2="203.20" y2="661.20" stroke="#111" stroke-width="0.9"/>
<text x="203.20" y="671.90" font-size="7.8" text-anchor="middle" fill="#333" stroke="#333" stroke-width="0.1">2000</text>
<line x1="277.40" y1="658.30" x2="277.40" y2="661.20" stroke="#111" stroke-width="0.9"/>
<text x="277.40" y="671.90" font-size="7.8" text-anchor="middle" fill="#333" stroke="#333" stroke-width="0.1">3000</text>
<text x="171.00" y="685.40" font-size="8.8" text-anchor="middle" fill="#333" stroke="#333" stroke-width="0.1" textLength="34.5" lengthAdjust="spacingAndGlyphs">Cell count</text>
<text x="22.60" y="576.00" font-size="9.0" text-anchor="middle" fill="#333" stroke="#333" stroke-width="0.1" textLength="27" lengthAdjust="spacingAndGlyphs" transform="rotate(-90 22.60 576.00)">Cluster</text>
<text x="170.00" y="488.20" font-size="10.6" text-anchor="middle" fill="#2a2a2a" stroke="#2a2a2a" stroke-width="0.1" textLength="131.5" lengthAdjust="spacingAndGlyphs">Donor Composition of Cluster</text>
<rect x="104.60" y="693.00" width="6.20" height="6.20" fill="#a77bbf"/>
<text x="113.80" y="698.60" font-size="7.6" text-anchor="start" fill="#444" stroke="#444" stroke-width="0.1" textLength="18.5" lengthAdjust="spacingAndGlyphs">R.304</text>
<rect x="139.40" y="693.00" width="6.20" height="6.20" fill="#23b3c4"/>
<text x="148.60" y="698.60" font-size="7.6" text-anchor="start" fill="#444" stroke="#444" stroke-width="0.1" textLength="18.4" lengthAdjust="spacingAndGlyphs">R.303</text>
<rect x="174.80" y="693.00" width="6.20" height="6.20" fill="#7ba62b"/>
<text x="183.70" y="698.60" font-size="7.6" text-anchor="start" fill="#444" stroke="#444" stroke-width="0.1" textLength="17.8" lengthAdjust="spacingAndGlyphs">R.301</text>
<rect x="210.20" y="693.00" width="6.20" height="6.20" fill="#ee6f6d"/>
<text x="219.40" y="698.60" font-size="7.6" text-anchor="start" fill="#444" stroke="#444" stroke-width="0.1" textLength="16.9" lengthAdjust="spacingAndGlyphs">R.302</text>
<line x1="7.00" y1="508.20" x2="22.00" y2="508.20" stroke="#111" stroke-width="1"/>
<path d="M20.5 505.8L24.8 508.2L20.5 510.6Z" fill="#111"/>
<rect x="354.20" y="495.29" width="3.10" height="5.70" fill="#3aa85c"/>
<rect x="357.30" y="495.29" width="4.80" height="5.70" fill="#c39628"/>
<rect x="362.10" y="495.29" width="2.90" height="5.70" fill="#c73a50"/>
<rect x="354.20" y="502.06" width="9.20" height="5.70" fill="#c39628"/>
<rect x="363.40" y="502.06" width="17.60" height="5.70" fill="#c73a50"/>
<rect x="354.20" y="508.83" width="5.70" height="5.70" fill="#3aa85c"/>
<rect x="359.90" y="508.83" width="9.90" height="5.70" fill="#c39628"/>
<rect x="369.80" y="508.83" width="12.10" height="5.70" fill="#c73a50"/>
<rect x="354.20" y="515.60" width="17.80" height="5.70" fill="#3aa85c"/>
<rect x="372.00" y="515.60" width="7.40" height="5.70" fill="#c39628"/>
<rect x="379.40" y="515.60" width="8.50" height="5.70" fill="#c73a50"/>
<rect x="354.20" y="522.37" width="32.50" height="5.70" fill="#c39628"/>
<rect x="386.70" y="522.37" width="4.30" height="5.70" fill="#c73a50"/>
<rect x="354.20" y="529.14" width="1.00" height="5.70" fill="#3aa85c"/>
<rect x="355.20" y="529.14" width="13.80" height="5.70" fill="#c39628"/>
<rect x="369.00" y="529.14" width="26.40" height="5.70" fill="#c73a50"/>
<rect x="354.20" y="535.91" width="42.00" height="5.70" fill="#8c54a8"/>
<rect x="354.20" y="542.68" width="13.40" height="5.70" fill="#3aa85c"/>
<rect x="367.60" y="542.68" width="15.50" height="5.70" fill="#c39628"/>
<rect x="383.10" y="542.68" width="16.10" height="5.70" fill="#c73a50"/>
<rect x="354.20" y="549.45" width="13.40" height="5.70" fill="#3aa85c"/>
<rect x="367.60" y="549.45" width="20.10" height="5.70" fill="#c39628"/>
<rect x="387.70" y="549.45" width="18.90" height="5.70" fill="#c73a50"/>
<rect x="354.20" y="556.22" width="2.30" height="5.70" fill="#3aa85c"/>
<rect x="356.50" y="556.22" width="26.60" height="5.70" fill="#c39628"/>
<rect x="383.10" y="556.22" width="25.40" height="5.70" fill="#c73a50"/>
<rect x="354.20" y="562.99" width="3.30" height="5.70" fill="#3aa85c"/>
<rect x="357.50" y="562.99" width="30.20" height="5.70" fill="#c39628"/>
<rect x="387.70" y="562.99" width="23.10" height="5.70" fill="#c73a50"/>
<rect x="354.20" y="569.76" width="39.30" height="5.70" fill="#3aa85c"/>
<rect x="393.50" y="569.76" width="12.70" height="5.70" fill="#c39628"/>
<rect x="406.20" y="569.76" width="8.50" height="5.70" fill="#c73a50"/>
<rect x="354.20" y="576.53" width="1.80" height="5.70" fill="#3aa85c"/>
<rect x="356.00" y="576.53" width="64.00" height="5.70" fill="#c39628"/>
<rect x="420.00" y="576.53" width="4.60" height="5.70" fill="#c73a50"/>
<rect x="354.20" y="583.30" width="78.80" height="5.70" fill="#3aa85c"/>
<rect x="433.00" y="583.30" width="1.00" height="5.70" fill="#c39628"/>
<rect x="354.20" y="590.07" width="7.80" height="5.70" fill="#3aa85c"/>
<rect x="362.00" y="590.07" width="22.40" height="5.70" fill="#c39628"/>
<rect x="384.40" y="590.07" width="50.40" height="5.70" fill="#c73a50"/>
<rect x="354.20" y="596.84" width="3.70" height="5.70" fill="#3aa85c"/>
<rect x="357.90" y="596.84" width="31.70" height="5.70" fill="#c39628"/>
<rect x="389.60" y="596.84" width="64.00" height="5.70" fill="#c73a50"/>
<rect x="354.20" y="603.61" width="49.30" height="5.70" fill="#3aa85c"/>
<rect x="403.50" y="603.61" width="9.20" height="5.70" fill="#c39628"/>
<rect x="412.70" y="603.61" width="41.50" height="5.70" fill="#c73a50"/>
<rect x="354.20" y="610.38" width="78.50" height="5.70" fill="#3aa85c"/>
<rect x="432.70" y="610.38" width="2.10" height="5.70" fill="#c39628"/>
<rect x="434.80" y="610.38" width="22.50" height="5.70" fill="#c73a50"/>
<rect x="354.20" y="617.15" width="3.70" height="5.70" fill="#3aa85c"/>
<rect x="357.90" y="617.15" width="96.30" height="5.70" fill="#c39628"/>
<rect x="454.20" y="617.15" width="9.90" height="5.70" fill="#c73a50"/>
<rect x="354.20" y="623.92" width="113.30" height="5.70" fill="#3aa85c"/>
<rect x="467.50" y="623.92" width="2.00" height="5.70" fill="#c39628"/>
<rect x="469.50" y="623.92" width="1.70" height="5.70" fill="#c73a50"/>
<rect x="354.20" y="630.69" width="45.60" height="5.70" fill="#3aa85c"/>
<rect x="399.80" y="630.69" width="40.00" height="5.70" fill="#c39628"/>
<rect x="439.80" y="630.69" width="48.20" height="5.70" fill="#c73a50"/>
<rect x="354.20" y="637.46" width="139.80" height="5.70" fill="#3aa85c"/>
<rect x="354.20" y="644.23" width="5.60" height="5.70" fill="#3aa85c"/>
<rect x="359.80" y="644.23" width="112.00" height="5.70" fill="#c39628"/>
<rect x="471.80" y="644.23" width="23.00" height="5.70" fill="#c73a50"/>
<rect x="354.20" y="651.00" width="77.60" height="5.70" fill="#3aa85c"/>
<rect x="431.80" y="651.00" width="29.50" height="5.70" fill="#c39628"/>
<rect x="461.30" y="651.00" width="42.20" height="5.70" fill="#c73a50"/>
<line x1="347.10" y1="494.00" x2="347.10" y2="659.50" stroke="#111" stroke-width="1"/>
<line x1="346.60" y1="659.00" x2="510.00" y2="659.00" stroke="#111" stroke-width="1"/>
<line x1="344.30" y1="653.85" x2="347.10" y2="653.85" stroke="#111" stroke-width="0.9"/>
<text x="341.20" y="656.85" font-size="8.6" text-anchor="end" fill="#333" stroke="#333" stroke-width="0.1">0</text>
<line x1="344.30" y1="647.08" x2="347.10" y2="647.08" stroke="#111" stroke-width="0.9"/>
<text x="341.20" y="650.08" font-size="8.6" text-anchor="end" fill="#333" stroke="#333" stroke-width="0.1">1</text>
<line x1="344.30" y1="640.31" x2="347.10" y2="640.31" stroke="#111" stroke-width="0.9"/>
<text x="341.20" y="643.31" font-size="8.6" text-anchor="end" fill="#333" stroke="#333" stroke-width="0.1">2</text>
<line x1="344.30" y1="633.54" x2="347.10" y2="633.54" stroke="#111" stroke-width="0.9"/>
<text x="341.20" y="636.54" font-size="8.6" text-anchor="end" fill="#333" stroke="#333" stroke-width="0.1">3</text>
<line x1="344.30" y1="626.77" x2="347.10" y2="626.77" stroke="#111" stroke-width="0.9"/>
<text x="341.20" y="629.77" font-size="8.6" text-anchor="end" fill="#333" stroke="#333" stroke-width="0.1">4</text>
<line x1="344.30" y1="620.00" x2="347.10" y2="620.00" stroke="#111" stroke-width="0.9"/>
<text x="341.20" y="623.00" font-size="8.6" text-anchor="end" fill="#333" stroke="#333" stroke-width="0.1">5</text>
<line x1="344.30" y1="613.23" x2="347.10" y2="613.23" stroke="#111" stroke-width="0.9"/>
<text x="341.20" y="616.23" font-size="8.6" text-anchor="end" fill="#333" stroke="#333" stroke-width="0.1">6</text>
<line x1="344.30" y1="606.46" x2="347.10" y2="606.46" stroke="#111" stroke-width="0.9"/>
<text x="341.20" y="609.46" font-size="8.6" text-anchor="end" fill="#333" stroke="#333" stroke-width="0.1">7</text>
<line x1="344.30" y1="599.69" x2="347.10" y2="599.69" stroke="#111" stroke-width="0.9"/>
<text x="341.20" y="602.69" font-size="8.6" text-anchor="end" fill="#333" stroke="#333" stroke-width="0.1">8</text>
<line x1="344.30" y1="592.92" x2="347.10" y2="592.92" stroke="#111" stroke-width="0.9"/>
<text x="341.20" y="595.92" font-size="8.6" text-anchor="end" fill="#333" stroke="#333" stroke-width="0.1">9</text>
<line x1="344.30" y1="586.15" x2="347.10" y2="586.15" stroke="#111" stroke-width="0.9"/>
<text x="341.20" y="589.15" font-size="8.6" text-anchor="end" fill="#333" stroke="#333" stroke-width="0.1">10</text>
<line x1="344.30" y1="579.38" x2="347.10" y2="579.38" stroke="#111" stroke-width="0.9"/>
<text x="341.20" y="582.38" font-size="8.6" text-anchor="end" fill="#333" stroke="#333" stroke-width="0.1">11</text>
<line x1="344.30" y1="572.61" x2="347.10" y2="572.61" stroke="#111" stroke-width="0.9"/>
<text x="341.20" y="575.61" font-size="8.6" text-anchor="end" fill="#333" stroke="#333" stroke-width="0.1">12</text>
<line x1="344.30" y1="565.84" x2="347.10" y2="565.84" stroke="#111" stroke-width="0.9"/>
<text x="341.20" y="568.84" font-size="8.6" text-anchor="end" fill="#333" stroke="#333" stroke-width="0.1">13</text>
<line x1="344.30" y1="559.07" x2="347.10" y2="559.07" stroke="#111" stroke-width="0.9"/>
<text x="341.20" y="562.07" font-size="8.6" text-anchor="end" fill="#333" stroke="#333" stroke-width="0.1">14</text>
<line x1="344.30" y1="552.30" x2="347.10" y2="552.30" stroke="#111" stroke-width="0.9"/>
<text x="341.20" y="555.30" font-size="8.6" text-anchor="end" fill="#333" stroke="#333" stroke-width="0.1">15</text>
<line x1="344.30" y1="545.53" x2="347.10" y2="545.53" stroke="#111" stroke-width="0.9"/>
<text x="341.20" y="548.53" font-size="8.6" text-anchor="end" fill="#333" stroke="#333" stroke-width="0.1">16</text>
<line x1="344.30" y1="538.76" x2="347.10" y2="538.76" stroke="#111" stroke-width="0.9"/>
<text x="341.20" y="541.76" font-size="8.6" text-anchor="end" fill="#333" stroke="#333" stroke-width="0.1">17</text>
<line x1="344.30" y1="531.99" x2="347.10" y2="531.99" stroke="#111" stroke-width="0.9"/>
<text x="341.20" y="534.99" font-size="8.6" text-anchor="end" fill="#333" stroke="#333" stroke-width="0.1">18</text>
<line x1="344.30" y1="525.22" x2="347.10" y2="525.22" stroke="#111" stroke-width="0.9"/>
<text x="341.20" y="528.22" font-size="8.6" text-anchor="end" fill="#333" stroke="#333" stroke-width="0.1">19</text>
<line x1="344.30" y1="518.45" x2="347.10" y2="518.45" stroke="#111" stroke-width="0.9"/>
<text x="341.20" y="521.45" font-size="8.6" text-anchor="end" fill="#333" stroke="#333" stroke-width="0.1">20</text>
<line x1="344.30" y1="511.68" x2="347.10" y2="511.68" stroke="#111" stroke-width="0.9"/>
<text x="341.20" y="514.68" font-size="8.6" text-anchor="end" fill="#333" stroke="#333" stroke-width="0.1">21</text>
<line x1="344.30" y1="504.91" x2="347.10" y2="504.91" stroke="#111" stroke-width="0.9"/>
<text x="341.20" y="507.91" font-size="8.6" text-anchor="end" fill="#333" stroke="#333" stroke-width="0.1">22</text>
<line x1="344.30" y1="498.14" x2="347.10" y2="498.14" stroke="#111" stroke-width="0.9"/>
<text x="341.20" y="501.14" font-size="8.6" text-anchor="end" fill="#333" stroke="#333" stroke-width="0.1">23</text>
<line x1="354.50" y1="659.00" x2="354.50" y2="661.80" stroke="#111" stroke-width="0.9"/>
<text x="354.50" y="671.40" font-size="8.6" text-anchor="middle" fill="#333" stroke="#333" stroke-width="0.1">0</text>
<line x1="404.80" y1="659.00" x2="404.80" y2="661.80" stroke="#111" stroke-width="0.9"/>
<text x="404.80" y="671.40" font-size="8.6" text-anchor="middle" fill="#333" stroke="#333" stroke-width="0.1">1000</text>
<line x1="454.40" y1="659.00" x2="454.40" y2="661.80" stroke="#111" stroke-width="0.9"/>
<text x="454.40" y="671.40" font-size="8.6" text-anchor="middle" fill="#333" stroke="#333" stroke-width="0.1">2000</text>
<line x1="504.40" y1="659.00" x2="504.40" y2="661.80" stroke="#111" stroke-width="0.9"/>
<text x="504.40" y="671.40" font-size="8.6" text-anchor="middle" fill="#333" stroke="#333" stroke-width="0.1">3000</text>
<text x="326.00" y="576.00" font-size="9.0" text-anchor="middle" fill="#333" stroke="#333" stroke-width="0.1" textLength="27" lengthAdjust="spacingAndGlyphs" transform="rotate(-90 326.00 576.00)">Cluster</text>
<text x="430.00" y="488.00" font-size="10.6" text-anchor="middle" fill="#2a2a2a" stroke="#2a2a2a" stroke-width="0.1" textLength="153.6" lengthAdjust="spacingAndGlyphs">Timepoint Composition of Clusters</text>
<rect x="345.30" y="679.00" width="6.60" height="6.60" fill="#3aa85c"/>
<text x="353.70" y="685.20" font-size="8.2" text-anchor="start" fill="#444" stroke="#444" stroke-width="0.1" textLength="11.7" lengthAdjust="spacingAndGlyphs">Pre</text>
<rect x="372.00" y="679.00" width="6.60" height="6.60" fill="#8c54a8"/>
<text x="381.20" y="685.20" font-size="8.2" text-anchor="start" fill="#444" stroke="#444" stroke-width="0.1" textLength="26.3" lengthAdjust="spacingAndGlyphs">Product</text>
<rect x="414.00" y="679.00" width="6.60" height="6.60" fill="#c39628"/>
<text x="423.20" y="685.20" font-size="8.2" text-anchor="start" fill="#444" stroke="#444" stroke-width="0.1" textLength="33.9" lengthAdjust="spacingAndGlyphs">Expansion</text>
<rect x="463.40" y="679.00" width="6.60" height="6.60" fill="#c73a50"/>
<text x="472.50" y="685.20" font-size="8.2" text-anchor="start" fill="#444" stroke="#444" stroke-width="0.1" textLength="39.5" lengthAdjust="spacingAndGlyphs">Contraction</text>
<line x1="310.00" y1="503.20" x2="325.00" y2="503.20" stroke="#111" stroke-width="1"/>
<path d="M323.3 500.8L327.6 503.2L323.3 505.6Z" fill="#111"/>
<rect x="0.5" y="0.5" width="519" height="706" fill="none" stroke="#4d4d4d" stroke-width="1"/>
</svg>
</body></html>
